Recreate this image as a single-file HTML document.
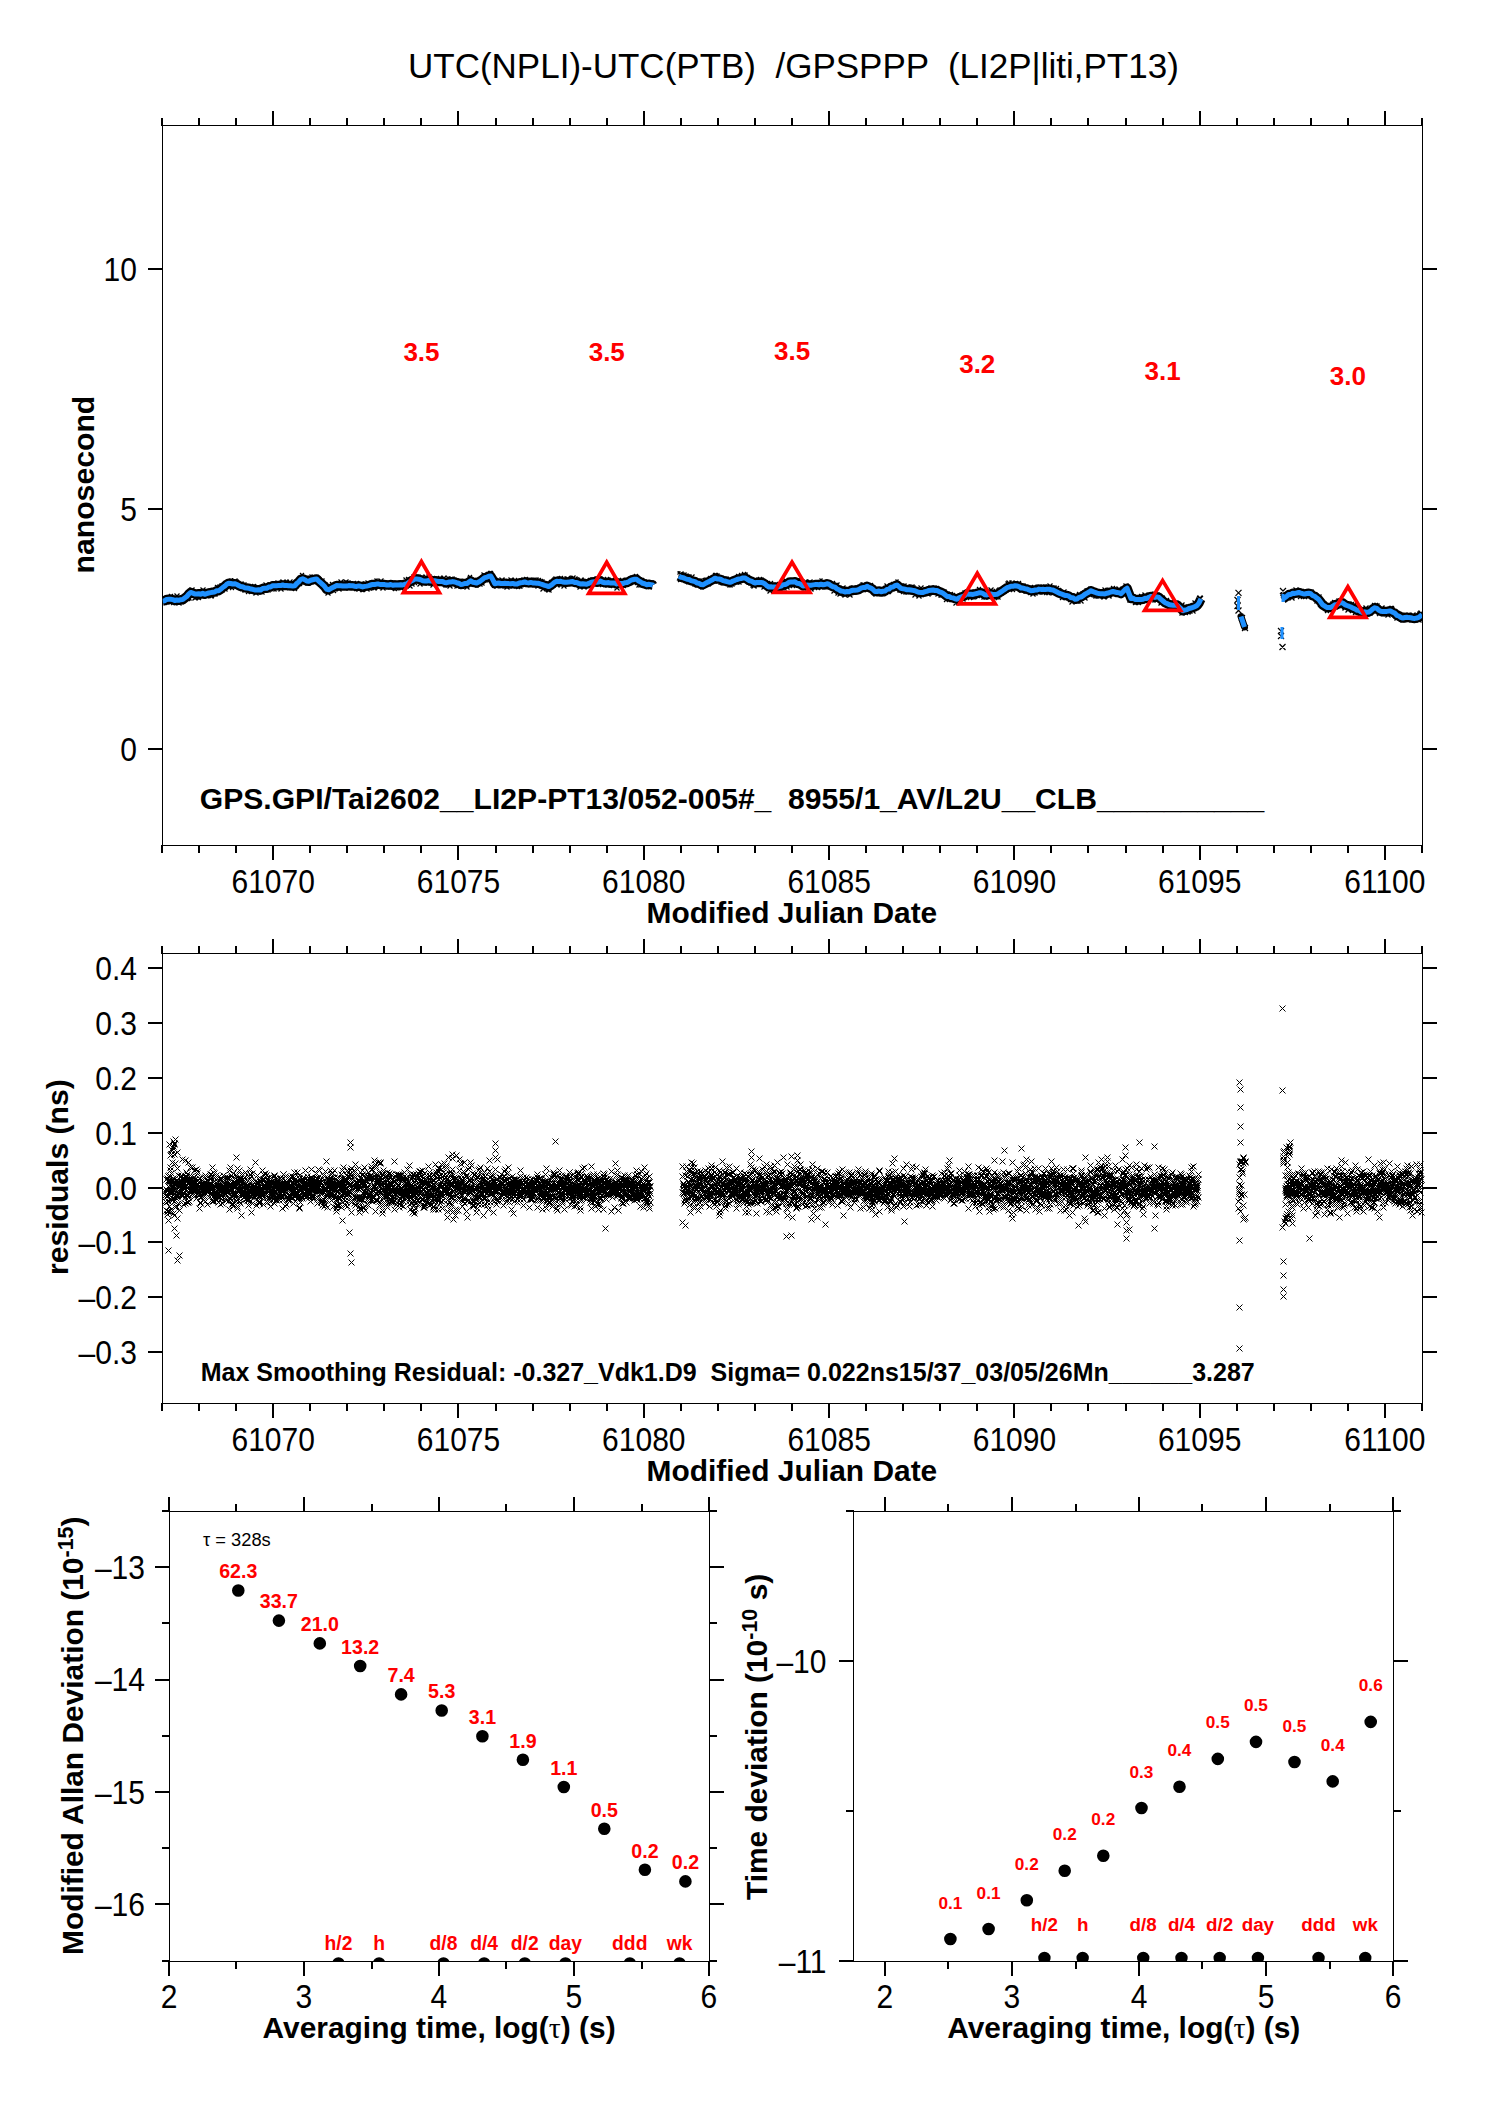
<!DOCTYPE html>
<html><head><meta charset="utf-8"><title>plot</title><style>
html,body{margin:0;padding:0;background:#fff;overflow:hidden}
svg{display:block}
text{font-family:"Liberation Sans",sans-serif;white-space:pre}
</style></head><body>
<svg width="1488" height="2105" viewBox="0 0 1488 2105">
<rect width="1488" height="2105" fill="#fff"/>
<text x="408.0" y="78.0" font-size="35.0">UTC(NPLI)-UTC(PTB)  /GPSPPP  (LI2P|liti,PT13)</text>
<path d="M162.5 125.5H1422.5V845.5H162.5Z" fill="none" stroke="#000" stroke-width="1"/>
<text transform="translate(231.5 892.8) scale(1 1.08)" font-size="30">61070</text>
<text transform="translate(416.8 892.8) scale(1 1.08)" font-size="30">61075</text>
<text transform="translate(602.1 892.8) scale(1 1.08)" font-size="30">61080</text>
<text transform="translate(787.4 892.8) scale(1 1.08)" font-size="30">61085</text>
<text transform="translate(972.7 892.8) scale(1 1.08)" font-size="30">61090</text>
<text transform="translate(1157.9 892.8) scale(1 1.08)" font-size="30">61095</text>
<text transform="translate(1344.3 892.8) scale(1 1.08)" font-size="30">61100</text>
<text x="646.6" y="923.4" font-size="29.9" font-weight="bold">Modified Julian Date</text>
<text transform="translate(120.3 760.9) scale(1 1.08)" font-size="30">0</text>
<text transform="translate(120.3 520.9) scale(1 1.08)" font-size="30">5</text>
<text transform="translate(103.6 280.9) scale(1 1.08)" font-size="30">10</text>
<path d="M161 118h2v8h-2zM161 845h2v8h-2zM198 118h2v8h-2zM198 845h2v8h-2zM235 118h2v8h-2zM235 845h2v8h-2zM272 111h2v15h-2zM272 845h2v15h-2zM309 118h2v8h-2zM309 845h2v8h-2zM346 118h2v8h-2zM346 845h2v8h-2zM383 118h2v8h-2zM383 845h2v8h-2zM420 118h2v8h-2zM420 845h2v8h-2zM457 111h2v15h-2zM457 845h2v15h-2zM495 118h2v8h-2zM495 845h2v8h-2zM532 118h2v8h-2zM532 845h2v8h-2zM569 118h2v8h-2zM569 845h2v8h-2zM606 118h2v8h-2zM606 845h2v8h-2zM643 111h2v15h-2zM643 845h2v15h-2zM680 118h2v8h-2zM680 845h2v8h-2zM717 118h2v8h-2zM717 845h2v8h-2zM754 118h2v8h-2zM754 845h2v8h-2zM791 118h2v8h-2zM791 845h2v8h-2zM828 111h2v15h-2zM828 845h2v15h-2zM865 118h2v8h-2zM865 845h2v8h-2zM902 118h2v8h-2zM902 845h2v8h-2zM939 118h2v8h-2zM939 845h2v8h-2zM976 118h2v8h-2zM976 845h2v8h-2zM1013 111h2v15h-2zM1013 845h2v15h-2zM1050 118h2v8h-2zM1050 845h2v8h-2zM1087 118h2v8h-2zM1087 845h2v8h-2zM1125 118h2v8h-2zM1125 845h2v8h-2zM1162 118h2v8h-2zM1162 845h2v8h-2zM1199 111h2v15h-2zM1199 845h2v15h-2zM1236 118h2v8h-2zM1236 845h2v8h-2zM1273 118h2v8h-2zM1273 845h2v8h-2zM1310 118h2v8h-2zM1310 845h2v8h-2zM1347 118h2v8h-2zM1347 845h2v8h-2zM1384 111h2v15h-2zM1384 845h2v15h-2zM1421 118h2v8h-2zM1421 845h2v8h-2zM148 748h15v2h-15zM1422 748h15v2h-15zM148 508h15v2h-15zM1422 508h15v2h-15zM148 268h15v2h-15zM1422 268h15v2h-15z" fill="#000" shape-rendering="crispEdges"/>
<path d="M162.5 953.5H1422.5V1403.5H162.5Z" fill="none" stroke="#000" stroke-width="1"/>
<text transform="translate(231.5 1450.8) scale(1 1.08)" font-size="30">61070</text>
<text transform="translate(416.8 1450.8) scale(1 1.08)" font-size="30">61075</text>
<text transform="translate(602.1 1450.8) scale(1 1.08)" font-size="30">61080</text>
<text transform="translate(787.4 1450.8) scale(1 1.08)" font-size="30">61085</text>
<text transform="translate(972.7 1450.8) scale(1 1.08)" font-size="30">61090</text>
<text transform="translate(1157.9 1450.8) scale(1 1.08)" font-size="30">61095</text>
<text transform="translate(1344.3 1450.8) scale(1 1.08)" font-size="30">61100</text>
<text x="646.6" y="1481.4" font-size="29.9" font-weight="bold">Modified Julian Date</text>
<text transform="translate(78.6 1364.1) scale(1 1.08)" font-size="30">–0.3</text>
<text transform="translate(78.6 1309.2) scale(1 1.08)" font-size="30">–0.2</text>
<text transform="translate(78.6 1254.4) scale(1 1.08)" font-size="30">–0.1</text>
<text transform="translate(95.3 1199.5) scale(1 1.08)" font-size="30">0.0</text>
<text transform="translate(95.3 1144.6) scale(1 1.08)" font-size="30">0.1</text>
<text transform="translate(95.3 1089.8) scale(1 1.08)" font-size="30">0.2</text>
<text transform="translate(95.3 1034.9) scale(1 1.08)" font-size="30">0.3</text>
<text transform="translate(95.3 980.1) scale(1 1.08)" font-size="30">0.4</text>
<path d="M161 946h2v8h-2zM161 1403h2v8h-2zM198 946h2v8h-2zM198 1403h2v8h-2zM235 946h2v8h-2zM235 1403h2v8h-2zM272 939h2v15h-2zM272 1403h2v15h-2zM309 946h2v8h-2zM309 1403h2v8h-2zM346 946h2v8h-2zM346 1403h2v8h-2zM383 946h2v8h-2zM383 1403h2v8h-2zM420 946h2v8h-2zM420 1403h2v8h-2zM457 939h2v15h-2zM457 1403h2v15h-2zM495 946h2v8h-2zM495 1403h2v8h-2zM532 946h2v8h-2zM532 1403h2v8h-2zM569 946h2v8h-2zM569 1403h2v8h-2zM606 946h2v8h-2zM606 1403h2v8h-2zM643 939h2v15h-2zM643 1403h2v15h-2zM680 946h2v8h-2zM680 1403h2v8h-2zM717 946h2v8h-2zM717 1403h2v8h-2zM754 946h2v8h-2zM754 1403h2v8h-2zM791 946h2v8h-2zM791 1403h2v8h-2zM828 939h2v15h-2zM828 1403h2v15h-2zM865 946h2v8h-2zM865 1403h2v8h-2zM902 946h2v8h-2zM902 1403h2v8h-2zM939 946h2v8h-2zM939 1403h2v8h-2zM976 946h2v8h-2zM976 1403h2v8h-2zM1013 939h2v15h-2zM1013 1403h2v15h-2zM1050 946h2v8h-2zM1050 1403h2v8h-2zM1087 946h2v8h-2zM1087 1403h2v8h-2zM1125 946h2v8h-2zM1125 1403h2v8h-2zM1162 946h2v8h-2zM1162 1403h2v8h-2zM1199 939h2v15h-2zM1199 1403h2v15h-2zM1236 946h2v8h-2zM1236 1403h2v8h-2zM1273 946h2v8h-2zM1273 1403h2v8h-2zM1310 946h2v8h-2zM1310 1403h2v8h-2zM1347 946h2v8h-2zM1347 1403h2v8h-2zM1384 939h2v15h-2zM1384 1403h2v15h-2zM1421 946h2v8h-2zM1421 1403h2v8h-2zM148 1351h15v2h-15zM1422 1351h15v2h-15zM148 1296h15v2h-15zM1422 1296h15v2h-15zM148 1241h15v2h-15zM1422 1241h15v2h-15zM148 1187h15v2h-15zM1422 1187h15v2h-15zM148 1132h15v2h-15zM1422 1132h15v2h-15zM148 1077h15v2h-15zM1422 1077h15v2h-15zM148 1022h15v2h-15zM1422 1022h15v2h-15zM148 967h15v2h-15zM1422 967h15v2h-15z" fill="#000" shape-rendering="crispEdges"/>
<path d="M169.5 1511.5H709.5V1961.5H169.5Z" fill="none" stroke="#000" stroke-width="1"/>
<text transform="translate(160.7 2007.8) scale(1 1.08)" font-size="30">2</text>
<text transform="translate(295.6 2007.8) scale(1 1.08)" font-size="30">3</text>
<text transform="translate(430.6 2007.8) scale(1 1.08)" font-size="30">4</text>
<text transform="translate(565.6 2007.8) scale(1 1.08)" font-size="30">5</text>
<text transform="translate(700.6 2007.8) scale(1 1.08)" font-size="30">6</text>
<text transform="translate(94.9 1578.9) scale(1 1.08)" font-size="30">–13</text>
<text transform="translate(94.9 1691.4) scale(1 1.08)" font-size="30">–14</text>
<text transform="translate(94.9 1803.9) scale(1 1.08)" font-size="30">–15</text>
<text transform="translate(94.9 1916.4) scale(1 1.08)" font-size="30">–16</text>
<path d="M168 1497h2v15h-2zM168 1961h2v15h-2zM235 1504h2v8h-2zM235 1961h2v8h-2zM303 1497h2v15h-2zM303 1961h2v15h-2zM371 1504h2v8h-2zM371 1961h2v8h-2zM438 1497h2v15h-2zM438 1961h2v15h-2zM505 1504h2v8h-2zM505 1961h2v8h-2zM573 1497h2v15h-2zM573 1961h2v15h-2zM641 1504h2v8h-2zM641 1961h2v8h-2zM708 1497h2v15h-2zM708 1961h2v15h-2zM162 1510h8v2h-8zM709 1510h8v2h-8zM155 1566h15v2h-15zM709 1566h15v2h-15zM162 1622h8v2h-8zM709 1622h8v2h-8zM155 1679h15v2h-15zM709 1679h15v2h-15zM162 1735h8v2h-8zM709 1735h8v2h-8zM155 1791h15v2h-15zM709 1791h15v2h-15zM162 1847h8v2h-8zM709 1847h8v2h-8zM155 1903h15v2h-15zM709 1903h15v2h-15zM162 1960h8v2h-8zM709 1960h8v2h-8z" fill="#000" shape-rendering="crispEdges"/>
<path d="M853.5 1511.5H1393.5V1961.5H853.5Z" fill="none" stroke="#000" stroke-width="1"/>
<text transform="translate(876.6 2007.8) scale(1 1.08)" font-size="30">2</text>
<text transform="translate(1003.6 2007.8) scale(1 1.08)" font-size="30">3</text>
<text transform="translate(1130.7 2007.8) scale(1 1.08)" font-size="30">4</text>
<text transform="translate(1257.7 2007.8) scale(1 1.08)" font-size="30">5</text>
<text transform="translate(1384.7 2007.8) scale(1 1.08)" font-size="30">6</text>
<text transform="translate(776.4 1672.9) scale(1 1.08)" font-size="30">–10</text>
<text transform="translate(778.7 1972.9) scale(1 1.08)" font-size="30">–11</text>
<path d="M884 1497h2v15h-2zM884 1961h2v15h-2zM947 1504h2v8h-2zM947 1961h2v8h-2zM1011 1497h2v15h-2zM1011 1961h2v15h-2zM1075 1504h2v8h-2zM1075 1961h2v8h-2zM1138 1497h2v15h-2zM1138 1961h2v15h-2zM1201 1504h2v8h-2zM1201 1961h2v8h-2zM1265 1497h2v15h-2zM1265 1961h2v15h-2zM1329 1504h2v8h-2zM1329 1961h2v8h-2zM1392 1497h2v15h-2zM1392 1961h2v15h-2zM846 1510h8v2h-8zM1393 1510h8v2h-8zM839 1660h15v2h-15zM1393 1660h15v2h-15zM846 1810h8v2h-8zM1393 1810h8v2h-8zM839 1960h15v2h-15zM1393 1960h15v2h-15z" fill="#000" shape-rendering="crispEdges"/>
<clipPath id="c1"><rect x="162.5" y="125.5" width="1259.5" height="719.5"/></clipPath>
<g clip-path="url(#c1)">
<path d="M162.7 601.1 164.7 600.7 166.7 599.4 168.7 599.3 170.7 599.3 172.7 599.6 174.7 600.6 176.7 600.0 178.7 600.3 180.7 599.7 182.7 599.6 184.7 598.1 186.7 596.6 188.7 594.1 190.7 592.4 192.7 593.1 194.7 593.9 196.7 593.9 198.7 593.7 200.7 594.2 202.7 593.3 204.7 594.3 206.7 593.6 208.7 593.0 210.7 592.6 212.7 592.2 214.7 592.0 216.7 590.7 218.7 590.7 220.7 589.3 222.7 587.5 224.7 586.2 226.7 584.3 228.7 583.2 230.7 583.5 232.7 584.0 234.7 583.7 236.7 584.3 238.7 585.6 240.7 586.6 242.7 586.8 244.7 587.7 246.7 588.1 248.7 588.2 250.7 589.0 252.7 589.3 254.7 589.9 256.7 590.0 258.7 589.7 260.7 590.0 262.7 588.5 264.7 588.3 266.7 588.2 268.7 587.1 270.7 586.9 272.7 585.8 274.7 585.8 276.7 585.7 278.7 585.4 280.7 585.6 282.7 585.0 284.7 585.6 286.7 585.6 288.7 585.8 290.7 585.8 292.7 586.1 294.7 585.8 296.7 583.5 298.7 581.9 300.7 579.5 302.7 578.8 304.7 579.7 306.7 581.0 308.7 581.2 310.7 580.2 312.7 579.7 314.7 579.3 316.7 579.0 318.7 581.1 320.7 582.7 322.7 584.6 324.7 586.6 326.7 589.4 328.7 589.7 330.7 588.6 332.7 587.5 334.7 586.6 336.7 585.5 338.7 585.7 340.7 585.7 342.7 586.0 344.7 586.0 346.7 586.1 348.7 585.6 350.7 585.8 352.7 585.8 354.7 586.2 356.7 586.4 358.7 585.9 360.7 586.3 362.7 586.9 364.7 586.4 366.7 586.1 368.7 585.6 370.7 585.0 372.7 584.4 374.7 584.5 376.7 584.1 378.7 584.1 380.7 584.6 382.7 584.5 384.7 584.6 386.7 585.0 388.7 585.1 390.7 584.5 392.7 585.3 394.7 585.0 396.7 585.1 398.7 585.0 400.7 584.8 402.7 585.0 404.7 584.3 406.7 584.0 408.7 582.4 410.7 581.3 412.7 580.3 414.7 579.1 416.7 579.1 418.7 579.3 420.7 579.8 422.7 580.7 424.7 580.9 426.7 581.0 428.7 580.5 430.7 581.1 432.7 581.0 434.7 580.7 436.7 581.1 438.7 581.5 440.7 581.6 442.7 581.6 444.7 582.5 446.7 582.7 448.7 582.1 450.7 582.0 452.7 581.6 454.7 582.0 456.7 582.7 458.7 583.2 460.7 584.4 462.7 584.3 464.7 583.5 466.7 583.6 468.7 582.2 470.7 580.9 472.7 582.2 474.7 582.5 476.7 583.1 478.7 582.1 480.7 580.7 482.7 579.2 484.7 577.6 486.7 577.2 488.7 576.3 490.7 576.1 492.7 579.5 494.7 583.7 496.7 583.2 498.7 583.0 500.7 583.5 502.7 583.6 504.7 583.3 506.7 583.4 508.7 583.6 510.7 583.7 512.7 583.4 514.7 584.0 516.7 584.1 518.7 583.2 520.7 582.7 522.7 582.5 524.7 582.0 526.7 582.6 528.7 582.9 530.7 582.4 532.7 582.9 534.7 583.1 536.7 583.3 538.7 583.3 540.7 584.0 542.7 584.7 544.7 585.4 546.7 585.9 548.7 586.6 550.7 585.4 552.7 583.9 554.7 582.2 556.7 581.2 558.7 581.6 560.7 581.2 562.7 582.0 564.7 582.3 566.7 582.2 568.7 582.1 570.7 581.8 572.7 581.6 574.7 582.5 576.7 582.5 578.7 583.4 580.7 584.0 582.7 583.8 584.7 584.0 586.7 584.2 588.7 583.4 590.7 582.4 592.7 581.9 594.7 581.7 596.7 582.2 598.7 582.0 600.7 581.1 602.7 582.2 604.7 582.7 606.7 582.7 608.7 582.6 610.7 583.1 612.7 583.1 614.7 583.0 616.7 583.9 618.7 583.6 620.7 583.4 622.7 583.6 624.7 582.8 626.7 582.6 628.7 581.7 630.7 580.3 632.7 579.7 634.7 579.2 636.7 579.3 638.7 581.0 640.7 582.0 642.7 583.3 644.7 583.8 646.7 584.7 648.7 584.3 650.7 584.6 652.7 585.0 652.8 585.2M679.0 576.1 681.0 577.3 683.0 577.6 685.0 578.5 687.0 579.3 689.0 579.5 691.0 580.6 693.0 581.1 695.0 581.6 697.0 583.1 699.0 583.3 701.0 584.5 703.0 584.7 705.0 583.6 707.0 582.5 709.0 581.6 711.0 580.4 713.0 579.4 715.0 578.2 717.0 578.9 719.0 579.0 721.0 579.5 723.0 580.6 725.0 581.0 727.0 581.6 729.0 582.2 731.0 582.2 733.0 581.0 735.0 580.3 737.0 579.5 739.0 578.9 741.0 578.6 743.0 577.9 745.0 578.0 747.0 579.1 749.0 580.5 751.0 581.1 753.0 582.1 755.0 583.0 757.0 582.4 759.0 582.4 761.0 582.5 763.0 582.8 765.0 584.0 767.0 585.8 769.0 587.0 771.0 586.8 773.0 587.1 775.0 587.1 777.0 587.3 779.0 586.7 781.0 586.1 783.0 584.7 785.0 584.6 787.0 583.7 789.0 582.3 791.0 582.0 793.0 581.9 795.0 581.8 797.0 583.2 799.0 583.5 801.0 584.5 803.0 585.9 805.0 585.8 807.0 585.1 809.0 585.3 811.0 585.2 813.0 584.9 815.0 584.6 817.0 584.5 819.0 584.9 821.0 584.2 823.0 584.7 825.0 584.5 827.0 583.8 829.0 584.3 831.0 585.7 833.0 586.7 835.0 587.1 837.0 589.0 839.0 589.8 841.0 591.0 843.0 591.2 845.0 592.0 847.0 591.5 849.0 591.8 851.0 590.8 853.0 590.3 855.0 590.2 857.0 590.1 859.0 589.4 861.0 588.2 863.0 587.5 865.0 587.5 867.0 586.3 869.0 587.4 871.0 588.1 873.0 589.5 875.0 591.6 877.0 591.5 879.0 591.0 881.0 591.8 883.0 591.3 885.0 591.1 887.0 589.4 889.0 589.1 891.0 587.2 893.0 587.0 895.0 585.7 897.0 585.0 899.0 586.6 901.0 588.4 903.0 588.8 905.0 589.1 907.0 589.8 909.0 589.8 911.0 590.0 913.0 590.4 915.0 590.8 917.0 591.6 919.0 592.3 921.0 592.4 923.0 592.5 925.0 591.6 927.0 591.3 929.0 590.4 931.0 590.2 933.0 590.0 935.0 590.5 937.0 590.5 939.0 591.6 941.0 592.3 943.0 593.3 945.0 594.8 947.0 596.4 949.0 596.4 951.0 597.6 953.0 597.9 955.0 598.7 957.0 599.2 959.0 597.9 961.0 597.1 963.0 596.3 965.0 595.5 967.0 593.7 969.0 594.3 971.0 594.2 973.0 594.4 975.0 593.9 977.0 593.5 979.0 592.8 981.0 592.8 983.0 593.5 985.0 594.8 987.0 594.9 989.0 594.4 991.0 594.0 993.0 594.6 995.0 594.5 997.0 594.3 999.0 593.1 1001.0 591.8 1003.0 590.5 1005.0 589.1 1007.0 587.7 1009.0 587.1 1011.0 586.2 1013.0 586.3 1015.0 585.7 1017.0 586.0 1019.0 586.6 1021.0 588.1 1023.0 588.1 1025.0 588.7 1027.0 588.9 1029.0 589.9 1031.0 590.7 1033.0 590.6 1035.0 590.0 1037.0 590.0 1039.0 589.1 1041.0 589.4 1043.0 589.3 1045.0 589.6 1047.0 589.2 1049.0 589.3 1051.0 589.8 1053.0 590.0 1055.0 591.0 1057.0 592.0 1059.0 593.1 1061.0 593.8 1063.0 594.6 1065.0 595.4 1067.0 595.5 1069.0 596.2 1071.0 597.7 1073.0 597.8 1075.0 599.3 1077.0 599.0 1079.0 597.4 1081.0 597.0 1083.0 595.8 1085.0 594.2 1087.0 593.1 1089.0 592.0 1091.0 590.7 1093.0 591.7 1095.0 592.3 1097.0 593.1 1099.0 593.5 1101.0 593.8 1103.0 593.8 1105.0 593.9 1107.0 593.2 1109.0 592.7 1111.0 592.0 1113.0 591.5 1115.0 592.0 1117.0 592.6 1119.0 592.7 1121.0 593.6 1123.0 591.7 1125.0 589.6 1127.0 588.2 1129.0 593.5 1131.0 598.5 1133.0 598.3 1135.0 599.4 1137.0 599.6 1139.0 599.5 1141.0 599.4 1143.0 599.2 1145.0 598.3 1147.0 598.4 1149.0 597.2 1151.0 596.4 1153.0 596.8 1155.0 597.4 1157.0 596.9 1159.0 597.4 1161.0 599.4 1163.0 601.0 1165.0 602.7 1167.0 603.5 1169.0 604.5 1171.0 605.1 1173.0 605.2 1175.0 605.3 1177.0 605.0 1179.0 606.8 1181.0 608.6 1183.0 610.7 1185.0 610.0 1187.0 609.6 1189.0 608.5 1191.0 608.0 1193.0 607.4 1195.0 606.7 1197.0 605.5 1199.0 603.0 1200.9 598.9M1282.8 599.1 1284.8 597.7 1286.8 596.2 1288.8 594.5 1290.8 594.5 1292.8 593.2 1294.8 593.4 1296.8 593.0 1298.8 592.4 1300.8 593.1 1302.8 593.7 1304.8 594.0 1306.8 593.5 1308.8 593.3 1310.8 593.8 1312.8 595.7 1314.8 596.3 1316.8 598.1 1318.8 599.6 1320.8 602.2 1322.8 604.9 1324.8 606.2 1326.8 607.5 1328.8 607.6 1330.8 607.5 1332.8 606.2 1334.8 604.8 1336.8 604.7 1338.8 603.5 1340.8 602.4 1342.8 603.1 1344.8 604.6 1346.8 605.5 1348.8 606.2 1350.8 607.0 1352.8 608.1 1354.8 608.8 1356.8 610.2 1358.8 610.3 1360.8 611.9 1362.8 612.5 1364.8 611.8 1366.8 612.4 1368.8 612.0 1370.8 610.8 1372.8 608.9 1374.8 607.8 1376.8 608.4 1378.8 610.3 1380.8 611.2 1382.8 611.4 1384.8 611.6 1386.8 611.4 1388.8 611.1 1390.8 611.1 1392.8 612.3 1394.8 613.1 1396.8 615.3 1398.8 616.0 1400.8 617.4 1402.8 618.1 1404.8 617.5 1406.8 617.3 1408.8 617.6 1410.8 617.8 1412.8 618.2 1414.8 618.4 1416.8 618.0 1418.8 617.4 1420.8 615.8 1422.1 614.6" fill="none" stroke="#000" stroke-width="9.5" stroke-linejoin="round"/>
<path d="M160.5 596.5l5 5m-5 0l5-5M162.0 596.0l4 4m-4 0l4-4M164.0 596.0l4 4m-4 0l4-4M164.5 599.5l5 5m-5 0l5-5M167.5 600.5l3 3m-3 0l3-3M167.5 599.5l5 5m-5 0l5-5M169.0 594.0l4 4m-4 0l4-4M171.0 601.0l4 4m-4 0l4-4M172.5 596.5l3 3m-3 0l3-3M173.0 596.0l4 4m-4 0l4-4M174.5 593.5l5 5m-5 0l5-5M176.5 600.5l5 5m-5 0l5-5M178.5 601.5l3 3m-3 0l3-3M178.5 599.5l5 5m-5 0l5-5M181.5 595.5l3 3m-3 0l3-3M182.0 599.0l4 4m-4 0l4-4M184.0 593.0l4 4m-4 0l4-4M186.0 597.0l4 4m-4 0l4-4M186.5 595.5l5 5m-5 0l5-5M189.5 593.5l3 3m-3 0l3-3M189.5 587.5l5 5m-5 0l5-5M191.5 593.5l3 3m-3 0l3-3M192.5 589.5l3 3m-3 0l3-3M192.5 595.5l5 5m-5 0l5-5M194.5 595.5l3 3m-3 0l3-3M194.5 594.5l5 5m-5 0l5-5M195.5 593.5l5 5m-5 0l5-5M197.0 596.0l4 4m-4 0l4-4M199.5 589.5l3 3m-3 0l3-3M200.5 587.5l5 5m-5 0l5-5M203.0 590.0l4 4m-4 0l4-4M205.5 594.5l3 3m-3 0l3-3M206.5 594.5l3 3m-3 0l3-3M208.0 593.0l4 4m-4 0l4-4M208.5 593.5l5 5m-5 0l5-5M210.0 594.0l4 4m-4 0l4-4M212.5 588.5l3 3m-3 0l3-3M212.5 591.5l5 5m-5 0l5-5M215.0 585.0l4 4m-4 0l4-4M216.5 585.5l3 3m-3 0l3-3M217.5 584.5l5 5m-5 0l5-5M219.5 583.5l3 3m-3 0l3-3M221.5 589.5l3 3m-3 0l3-3M222.5 586.5l5 5m-5 0l5-5M224.5 583.5l5 5m-5 0l5-5M227.0 585.0l4 4m-4 0l4-4M228.5 579.5l3 3m-3 0l3-3M229.5 578.5l3 3m-3 0l3-3M230.0 586.0l4 4m-4 0l4-4M230.5 583.5l5 5m-5 0l5-5M232.5 578.5l5 5m-5 0l5-5M235.5 579.5l3 3m-3 0l3-3M237.5 586.5l3 3m-3 0l3-3M238.5 581.5l5 5m-5 0l5-5M240.0 587.0l4 4m-4 0l4-4M241.5 582.5l5 5m-5 0l5-5M242.5 587.5l5 5m-5 0l5-5M245.5 584.5l3 3m-3 0l3-3M246.0 590.0l4 4m-4 0l4-4M248.5 590.5l3 3m-3 0l3-3M249.5 584.5l5 5m-5 0l5-5M252.0 584.0l4 4m-4 0l4-4M253.5 590.5l5 5m-5 0l5-5M254.5 585.5l3 3m-3 0l3-3M256.0 585.0l4 4m-4 0l4-4M257.0 590.0l4 4m-4 0l4-4M259.5 585.5l3 3m-3 0l3-3M259.5 589.5l5 5m-5 0l5-5M262.0 584.0l4 4m-4 0l4-4M263.5 582.5l5 5m-5 0l5-5M265.5 587.5l5 5m-5 0l5-5M267.5 589.5l3 3m-3 0l3-3M268.5 582.5l3 3m-3 0l3-3M270.0 582.0l4 4m-4 0l4-4M271.5 581.5l3 3m-3 0l3-3M272.5 581.5l3 3m-3 0l3-3M273.5 588.5l3 3m-3 0l3-3M275.0 586.0l4 4m-4 0l4-4M275.5 580.5l5 5m-5 0l5-5M278.5 581.5l3 3m-3 0l3-3M278.5 586.5l5 5m-5 0l5-5M280.5 579.5l5 5m-5 0l5-5M283.0 581.0l4 4m-4 0l4-4M284.5 580.5l3 3m-3 0l3-3M285.0 580.0l4 4m-4 0l4-4M287.0 586.0l4 4m-4 0l4-4M287.5 579.5l5 5m-5 0l5-5M289.0 586.0l4 4m-4 0l4-4M291.5 581.5l3 3m-3 0l3-3M293.0 587.0l4 4m-4 0l4-4M295.5 584.5l3 3m-3 0l3-3M296.5 583.5l3 3m-3 0l3-3M298.0 582.0l4 4m-4 0l4-4M300.0 573.0l4 4m-4 0l4-4M302.5 580.5l3 3m-3 0l3-3M303.5 581.5l3 3m-3 0l3-3M303.5 575.5l5 5m-5 0l5-5M305.5 580.5l5 5m-5 0l5-5M308.0 576.0l4 4m-4 0l4-4M309.5 574.5l3 3m-3 0l3-3M311.5 575.5l3 3m-3 0l3-3M312.5 579.5l5 5m-5 0l5-5M314.5 578.5l5 5m-5 0l5-5M317.5 576.5l3 3m-3 0l3-3M318.5 577.5l3 3m-3 0l3-3M319.5 578.5l5 5m-5 0l5-5M321.5 585.5l3 3m-3 0l3-3M322.5 582.5l5 5m-5 0l5-5M325.0 584.0l4 4m-4 0l4-4M325.5 590.5l5 5m-5 0l5-5M328.5 590.5l3 3m-3 0l3-3M329.0 589.0l4 4m-4 0l4-4M330.0 582.0l4 4m-4 0l4-4M332.0 589.0l4 4m-4 0l4-4M334.5 587.5l3 3m-3 0l3-3M335.0 586.0l4 4m-4 0l4-4M336.5 582.5l3 3m-3 0l3-3M336.5 586.5l5 5m-5 0l5-5M338.5 587.5l3 3m-3 0l3-3M338.5 579.5l5 5m-5 0l5-5M341.0 582.0l4 4m-4 0l4-4M341.5 580.5l5 5m-5 0l5-5M343.5 579.5l5 5m-5 0l5-5M345.5 580.5l5 5m-5 0l5-5M346.5 585.5l5 5m-5 0l5-5M349.0 586.0l4 4m-4 0l4-4M351.5 581.5l3 3m-3 0l3-3M352.0 586.0l4 4m-4 0l4-4M354.0 587.0l4 4m-4 0l4-4M355.0 581.0l4 4m-4 0l4-4M356.5 586.5l5 5m-5 0l5-5M358.5 581.5l5 5m-5 0l5-5M360.0 588.0l4 4m-4 0l4-4M361.0 588.0l4 4m-4 0l4-4M363.5 582.5l3 3m-3 0l3-3M363.5 581.5l5 5m-5 0l5-5M364.5 586.5l5 5m-5 0l5-5M365.5 580.5l5 5m-5 0l5-5M368.5 587.5l3 3m-3 0l3-3M369.5 581.5l3 3m-3 0l3-3M371.0 585.0l4 4m-4 0l4-4M371.5 585.5l5 5m-5 0l5-5M373.0 586.0l4 4m-4 0l4-4M374.5 578.5l3 3m-3 0l3-3M375.5 583.5l5 5m-5 0l5-5M377.0 585.0l4 4m-4 0l4-4M378.5 578.5l5 5m-5 0l5-5M380.5 585.5l5 5m-5 0l5-5M383.5 580.5l3 3m-3 0l3-3M384.5 580.5l3 3m-3 0l3-3M384.5 580.5l5 5m-5 0l5-5M387.5 581.5l3 3m-3 0l3-3M388.5 586.5l3 3m-3 0l3-3M390.5 580.5l3 3m-3 0l3-3M392.5 587.5l3 3m-3 0l3-3M393.0 587.0l4 4m-4 0l4-4M394.5 585.5l3 3m-3 0l3-3M394.5 580.5l5 5m-5 0l5-5M397.0 586.0l4 4m-4 0l4-4M398.5 585.5l5 5m-5 0l5-5M401.5 586.5l3 3m-3 0l3-3M402.5 580.5l3 3m-3 0l3-3M403.5 577.5l5 5m-5 0l5-5M406.0 577.0l4 4m-4 0l4-4M407.5 583.5l5 5m-5 0l5-5M409.5 581.5l5 5m-5 0l5-5M411.5 574.5l5 5m-5 0l5-5M413.0 581.0l4 4m-4 0l4-4M415.5 574.5l3 3m-3 0l3-3M415.5 574.5l5 5m-5 0l5-5M417.5 581.5l5 5m-5 0l5-5M418.5 575.5l5 5m-5 0l5-5M420.5 575.5l3 3m-3 0l3-3M421.5 580.5l5 5m-5 0l5-5M423.5 574.5l5 5m-5 0l5-5M426.5 576.5l3 3m-3 0l3-3M426.5 574.5l5 5m-5 0l5-5M428.5 582.5l3 3m-3 0l3-3M429.0 576.0l4 4m-4 0l4-4M431.0 576.0l4 4m-4 0l4-4M430.5 582.5l5 5m-5 0l5-5M433.5 582.5l3 3m-3 0l3-3M435.5 576.5l3 3m-3 0l3-3M436.5 576.5l3 3m-3 0l3-3M438.0 576.0l4 4m-4 0l4-4M439.0 577.0l4 4m-4 0l4-4M441.0 578.0l4 4m-4 0l4-4M441.5 575.5l5 5m-5 0l5-5M443.5 584.5l3 3m-3 0l3-3M444.5 577.5l3 3m-3 0l3-3M446.5 576.5l3 3m-3 0l3-3M447.0 577.0l4 4m-4 0l4-4M447.5 583.5l5 5m-5 0l5-5M449.0 577.0l4 4m-4 0l4-4M449.5 576.5l5 5m-5 0l5-5M450.5 581.5l5 5m-5 0l5-5M453.0 578.0l4 4m-4 0l4-4M454.5 583.5l5 5m-5 0l5-5M456.0 584.0l4 4m-4 0l4-4M457.5 578.5l5 5m-5 0l5-5M460.0 579.0l4 4m-4 0l4-4M461.5 579.5l3 3m-3 0l3-3M463.0 584.0l4 4m-4 0l4-4M464.5 584.5l5 5m-5 0l5-5M467.5 576.5l3 3m-3 0l3-3M468.0 575.0l4 4m-4 0l4-4M470.5 582.5l3 3m-3 0l3-3M472.0 578.0l4 4m-4 0l4-4M473.0 578.0l4 4m-4 0l4-4M475.5 584.5l3 3m-3 0l3-3M476.5 582.5l3 3m-3 0l3-3M477.5 581.5l5 5m-5 0l5-5M479.5 580.5l5 5m-5 0l5-5M481.5 572.5l5 5m-5 0l5-5M482.5 577.5l5 5m-5 0l5-5M485.0 578.0l4 4m-4 0l4-4M486.0 572.0l4 4m-4 0l4-4M488.0 571.0l4 4m-4 0l4-4M489.0 571.0l4 4m-4 0l4-4M491.5 582.5l3 3m-3 0l3-3M492.5 578.5l3 3m-3 0l3-3M494.0 578.0l4 4m-4 0l4-4M494.5 583.5l5 5m-5 0l5-5M497.0 584.0l4 4m-4 0l4-4M498.5 583.5l5 5m-5 0l5-5M499.5 577.5l5 5m-5 0l5-5M501.0 579.0l4 4m-4 0l4-4M503.0 579.0l4 4m-4 0l4-4M504.5 585.5l3 3m-3 0l3-3M504.5 584.5l5 5m-5 0l5-5M508.5 585.5l3 3m-3 0l3-3M508.5 577.5l5 5m-5 0l5-5M510.5 578.5l3 3m-3 0l3-3M511.0 584.0l4 4m-4 0l4-4M513.0 578.0l4 4m-4 0l4-4M514.0 580.0l4 4m-4 0l4-4M516.0 585.0l4 4m-4 0l4-4M516.5 583.5l5 5m-5 0l5-5M517.5 583.5l5 5m-5 0l5-5M520.0 583.0l4 4m-4 0l4-4M521.5 577.5l5 5m-5 0l5-5M524.0 577.0l4 4m-4 0l4-4M525.5 577.5l3 3m-3 0l3-3M527.5 583.5l3 3m-3 0l3-3M529.0 578.0l4 4m-4 0l4-4M530.0 578.0l4 4m-4 0l4-4M531.5 577.5l5 5m-5 0l5-5M533.5 577.5l5 5m-5 0l5-5M535.5 583.5l5 5m-5 0l5-5M537.0 578.0l4 4m-4 0l4-4M539.0 579.0l4 4m-4 0l4-4M539.5 579.5l5 5m-5 0l5-5M540.5 586.5l5 5m-5 0l5-5M541.5 585.5l5 5m-5 0l5-5M544.0 582.0l4 4m-4 0l4-4M546.0 588.0l4 4m-4 0l4-4M546.5 587.5l5 5m-5 0l5-5M548.5 587.5l3 3m-3 0l3-3M549.0 580.0l4 4m-4 0l4-4M551.0 579.0l4 4m-4 0l4-4M552.5 577.5l5 5m-5 0l5-5M553.5 576.5l5 5m-5 0l5-5M554.5 582.5l5 5m-5 0l5-5M557.0 577.0l4 4m-4 0l4-4M559.0 576.0l4 4m-4 0l4-4M559.5 581.5l5 5m-5 0l5-5M561.5 583.5l5 5m-5 0l5-5M564.0 578.0l4 4m-4 0l4-4M564.5 576.5l5 5m-5 0l5-5M565.5 576.5l5 5m-5 0l5-5M568.5 577.5l3 3m-3 0l3-3M569.0 576.0l4 4m-4 0l4-4M570.5 575.5l5 5m-5 0l5-5M572.5 576.5l5 5m-5 0l5-5M573.5 577.5l5 5m-5 0l5-5M576.5 579.5l3 3m-3 0l3-3M577.5 584.5l5 5m-5 0l5-5M578.5 577.5l5 5m-5 0l5-5M581.5 584.5l3 3m-3 0l3-3M581.5 584.5l5 5m-5 0l5-5M583.5 578.5l5 5m-5 0l5-5M585.0 579.0l4 4m-4 0l4-4M586.5 584.5l3 3m-3 0l3-3M588.0 578.0l4 4m-4 0l4-4M590.5 577.5l3 3m-3 0l3-3M592.5 577.5l3 3m-3 0l3-3M594.5 576.5l3 3m-3 0l3-3M595.5 578.5l3 3m-3 0l3-3M595.5 576.5l5 5m-5 0l5-5M596.5 576.5l5 5m-5 0l5-5M599.5 576.5l3 3m-3 0l3-3M600.0 583.0l4 4m-4 0l4-4M602.5 577.5l3 3m-3 0l3-3M603.0 578.0l4 4m-4 0l4-4M605.0 577.0l4 4m-4 0l4-4M605.5 582.5l5 5m-5 0l5-5M608.5 584.5l3 3m-3 0l3-3M609.5 577.5l5 5m-5 0l5-5M611.0 584.0l4 4m-4 0l4-4M614.5 584.5l3 3m-3 0l3-3M614.5 585.5l5 5m-5 0l5-5M617.0 578.0l4 4m-4 0l4-4M618.5 578.5l5 5m-5 0l5-5M620.0 578.0l4 4m-4 0l4-4M622.0 584.0l4 4m-4 0l4-4M623.5 578.5l3 3m-3 0l3-3M624.5 577.5l5 5m-5 0l5-5M627.5 582.5l3 3m-3 0l3-3M628.5 582.5l3 3m-3 0l3-3M630.5 575.5l3 3m-3 0l3-3M632.0 581.0l4 4m-4 0l4-4M634.0 574.0l4 4m-4 0l4-4M635.5 581.5l3 3m-3 0l3-3M636.5 582.5l5 5m-5 0l5-5M638.5 577.5l3 3m-3 0l3-3M638.5 582.5l5 5m-5 0l5-5M640.0 578.0l4 4m-4 0l4-4M641.0 579.0l4 4m-4 0l4-4M643.5 579.5l3 3m-3 0l3-3M645.5 580.5l3 3m-3 0l3-3M647.5 585.5l3 3m-3 0l3-3M648.0 585.0l4 4m-4 0l4-4M650.5 580.5l3 3m-3 0l3-3M677.5 571.5l3 3m-3 0l3-3M678.0 578.0l4 4m-4 0l4-4M678.5 571.5l5 5m-5 0l5-5M681.5 572.5l3 3m-3 0l3-3M681.5 572.5l5 5m-5 0l5-5M683.5 574.5l3 3m-3 0l3-3M685.5 573.5l3 3m-3 0l3-3M686.5 581.5l3 3m-3 0l3-3M688.5 574.5l3 3m-3 0l3-3M689.5 581.5l3 3m-3 0l3-3M689.5 574.5l5 5m-5 0l5-5M692.5 583.5l3 3m-3 0l3-3M694.5 583.5l3 3m-3 0l3-3M695.5 583.5l3 3m-3 0l3-3M697.5 578.5l3 3m-3 0l3-3M699.5 578.5l3 3m-3 0l3-3M700.5 586.5l3 3m-3 0l3-3M701.0 579.0l4 4m-4 0l4-4M703.0 578.0l4 4m-4 0l4-4M704.5 577.5l5 5m-5 0l5-5M706.5 582.5l3 3m-3 0l3-3M707.5 583.5l3 3m-3 0l3-3M708.0 576.0l4 4m-4 0l4-4M710.0 576.0l4 4m-4 0l4-4M711.5 575.5l3 3m-3 0l3-3M711.5 578.5l5 5m-5 0l5-5M713.0 573.0l4 4m-4 0l4-4M714.0 573.0l4 4m-4 0l4-4M716.5 573.5l3 3m-3 0l3-3M718.5 581.5l3 3m-3 0l3-3M719.5 579.5l5 5m-5 0l5-5M720.0 581.0l4 4m-4 0l4-4M721.0 581.0l4 4m-4 0l4-4M721.5 580.5l5 5m-5 0l5-5M723.5 576.5l3 3m-3 0l3-3M725.5 576.5l3 3m-3 0l3-3M727.5 584.5l3 3m-3 0l3-3M728.5 577.5l3 3m-3 0l3-3M729.5 584.5l3 3m-3 0l3-3M729.5 581.5l5 5m-5 0l5-5M732.0 581.0l4 4m-4 0l4-4M733.5 579.5l5 5m-5 0l5-5M736.0 574.0l4 4m-4 0l4-4M736.5 580.5l3 3m-3 0l3-3M738.5 581.5l3 3m-3 0l3-3M739.0 573.0l4 4m-4 0l4-4M741.5 579.5l3 3m-3 0l3-3M742.0 572.0l4 4m-4 0l4-4M742.5 572.5l5 5m-5 0l5-5M744.5 573.5l3 3m-3 0l3-3M746.0 575.0l4 4m-4 0l4-4M746.5 576.5l5 5m-5 0l5-5M748.5 580.5l5 5m-5 0l5-5M750.5 582.5l5 5m-5 0l5-5M751.5 583.5l5 5m-5 0l5-5M753.0 583.0l4 4m-4 0l4-4M755.5 583.5l3 3m-3 0l3-3M756.5 577.5l3 3m-3 0l3-3M758.0 577.0l4 4m-4 0l4-4M760.5 577.5l3 3m-3 0l3-3M761.5 584.5l5 5m-5 0l5-5M764.5 580.5l3 3m-3 0l3-3M766.0 587.0l4 4m-4 0l4-4M767.5 588.5l5 5m-5 0l5-5M769.0 581.0l4 4m-4 0l4-4M770.5 588.5l3 3m-3 0l3-3M771.0 583.0l4 4m-4 0l4-4M772.0 583.0l4 4m-4 0l4-4M775.5 589.5l3 3m-3 0l3-3M774.5 588.5l5 5m-5 0l5-5M777.0 582.0l4 4m-4 0l4-4M778.5 582.5l3 3m-3 0l3-3M779.5 587.5l3 3m-3 0l3-3M779.5 585.5l5 5m-5 0l5-5M780.5 579.5l5 5m-5 0l5-5M781.5 585.5l5 5m-5 0l5-5M783.5 578.5l5 5m-5 0l5-5M784.5 584.5l5 5m-5 0l5-5M785.5 582.5l5 5m-5 0l5-5M788.0 583.0l4 4m-4 0l4-4M789.5 578.5l3 3m-3 0l3-3M791.0 584.0l4 4m-4 0l4-4M791.5 582.5l3 3m-3 0l3-3M793.0 583.0l4 4m-4 0l4-4M795.5 578.5l3 3m-3 0l3-3M796.0 578.0l4 4m-4 0l4-4M797.0 578.0l4 4m-4 0l4-4M797.5 578.5l5 5m-5 0l5-5M799.5 579.5l5 5m-5 0l5-5M801.0 581.0l4 4m-4 0l4-4M802.5 579.5l5 5m-5 0l5-5M805.5 585.5l5 5m-5 0l5-5M807.5 580.5l3 3m-3 0l3-3M807.5 579.5l5 5m-5 0l5-5M808.5 586.5l5 5m-5 0l5-5M810.0 586.0l4 4m-4 0l4-4M811.5 584.5l5 5m-5 0l5-5M813.5 586.5l3 3m-3 0l3-3M815.0 585.0l4 4m-4 0l4-4M816.0 586.0l4 4m-4 0l4-4M818.0 580.0l4 4m-4 0l4-4M819.5 578.5l3 3m-3 0l3-3M821.0 581.0l4 4m-4 0l4-4M822.5 584.5l5 5m-5 0l5-5M824.5 584.5l5 5m-5 0l5-5M827.0 585.0l4 4m-4 0l4-4M828.5 586.5l3 3m-3 0l3-3M829.0 582.0l4 4m-4 0l4-4M831.0 581.0l4 4m-4 0l4-4M831.5 588.5l5 5m-5 0l5-5M834.0 583.0l4 4m-4 0l4-4M834.5 582.5l5 5m-5 0l5-5M835.5 590.5l5 5m-5 0l5-5M837.5 591.5l5 5m-5 0l5-5M839.5 586.5l3 3m-3 0l3-3M840.5 585.5l5 5m-5 0l5-5M842.5 586.5l3 3m-3 0l3-3M842.5 592.5l5 5m-5 0l5-5M844.5 592.5l3 3m-3 0l3-3M846.0 587.0l4 4m-4 0l4-4M847.5 592.5l5 5m-5 0l5-5M849.0 586.0l4 4m-4 0l4-4M850.5 585.5l5 5m-5 0l5-5M851.5 585.5l5 5m-5 0l5-5M853.5 591.5l3 3m-3 0l3-3M855.5 590.5l3 3m-3 0l3-3M855.5 585.5l5 5m-5 0l5-5M857.0 585.0l4 4m-4 0l4-4M859.0 584.0l4 4m-4 0l4-4M860.5 582.5l5 5m-5 0l5-5M861.5 582.5l5 5m-5 0l5-5M864.0 587.0l4 4m-4 0l4-4M865.0 588.0l4 4m-4 0l4-4M867.0 583.0l4 4m-4 0l4-4M869.0 583.0l4 4m-4 0l4-4M871.5 589.5l3 3m-3 0l3-3M872.5 586.5l3 3m-3 0l3-3M873.0 592.0l4 4m-4 0l4-4M873.5 591.5l5 5m-5 0l5-5M874.0 587.0l4 4m-4 0l4-4M876.0 592.0l4 4m-4 0l4-4M876.5 590.5l5 5m-5 0l5-5M878.5 587.5l3 3m-3 0l3-3M879.5 593.5l3 3m-3 0l3-3M881.5 593.5l3 3m-3 0l3-3M882.0 592.0l4 4m-4 0l4-4M883.0 586.0l4 4m-4 0l4-4M884.5 583.5l5 5m-5 0l5-5M886.0 590.0l4 4m-4 0l4-4M887.0 590.0l4 4m-4 0l4-4M889.5 583.5l3 3m-3 0l3-3M891.0 582.0l4 4m-4 0l4-4M891.5 585.5l5 5m-5 0l5-5M893.5 584.5l5 5m-5 0l5-5M895.5 579.5l3 3m-3 0l3-3M896.0 582.0l4 4m-4 0l4-4M897.5 587.5l5 5m-5 0l5-5M898.5 583.5l5 5m-5 0l5-5M901.0 590.0l4 4m-4 0l4-4M903.5 583.5l3 3m-3 0l3-3M903.5 591.5l3 3m-3 0l3-3M905.0 590.0l4 4m-4 0l4-4M906.5 585.5l3 3m-3 0l3-3M908.5 584.5l3 3m-3 0l3-3M909.0 585.0l4 4m-4 0l4-4M909.5 584.5l5 5m-5 0l5-5M912.5 585.5l3 3m-3 0l3-3M912.5 592.5l5 5m-5 0l5-5M915.5 593.5l3 3m-3 0l3-3M916.5 593.5l5 5m-5 0l5-5M918.5 585.5l5 5m-5 0l5-5M920.0 593.0l4 4m-4 0l4-4M920.5 587.5l5 5m-5 0l5-5M923.5 587.5l3 3m-3 0l3-3M924.0 592.0l4 4m-4 0l4-4M925.5 591.5l5 5m-5 0l5-5M928.5 592.5l3 3m-3 0l3-3M928.5 585.5l5 5m-5 0l5-5M931.5 590.5l3 3m-3 0l3-3M933.5 585.5l3 3m-3 0l3-3M935.0 586.0l4 4m-4 0l4-4M935.5 591.5l5 5m-5 0l5-5M938.5 592.5l3 3m-3 0l3-3M938.5 592.5l5 5m-5 0l5-5M939.5 592.5l5 5m-5 0l5-5M941.5 589.5l3 3m-3 0l3-3M943.5 589.5l3 3m-3 0l3-3M944.0 598.0l4 4m-4 0l4-4M946.5 591.5l3 3m-3 0l3-3M948.0 593.0l4 4m-4 0l4-4M949.0 592.0l4 4m-4 0l4-4M951.0 593.0l4 4m-4 0l4-4M953.5 599.5l3 3m-3 0l3-3M954.0 601.0l4 4m-4 0l4-4M953.5 600.5l5 5m-5 0l5-5M956.0 601.0l4 4m-4 0l4-4M957.5 598.5l3 3m-3 0l3-3M958.5 599.5l3 3m-3 0l3-3M959.0 593.0l4 4m-4 0l4-4M960.5 596.5l5 5m-5 0l5-5M962.5 590.5l5 5m-5 0l5-5M964.5 594.5l5 5m-5 0l5-5M967.5 595.5l3 3m-3 0l3-3M968.0 596.0l4 4m-4 0l4-4M968.5 589.5l5 5m-5 0l5-5M972.5 596.5l3 3m-3 0l3-3M973.0 595.0l4 4m-4 0l4-4M975.5 589.5l3 3m-3 0l3-3M976.0 594.0l4 4m-4 0l4-4M977.0 587.0l4 4m-4 0l4-4M977.5 592.5l5 5m-5 0l5-5M980.5 593.5l3 3m-3 0l3-3M981.5 596.5l3 3m-3 0l3-3M983.5 589.5l3 3m-3 0l3-3M983.5 589.5l5 5m-5 0l5-5M985.5 589.5l5 5m-5 0l5-5M986.5 594.5l5 5m-5 0l5-5M988.5 587.5l5 5m-5 0l5-5M991.0 589.0l4 4m-4 0l4-4M993.0 596.0l4 4m-4 0l4-4M995.5 596.5l3 3m-3 0l3-3M995.5 594.5l5 5m-5 0l5-5M996.5 588.5l5 5m-5 0l5-5M997.5 587.5l5 5m-5 0l5-5M1000.5 592.5l3 3m-3 0l3-3M1001.5 591.5l3 3m-3 0l3-3M1002.5 585.5l3 3m-3 0l3-3M1003.5 590.5l3 3m-3 0l3-3M1005.5 589.5l3 3m-3 0l3-3M1005.5 581.5l5 5m-5 0l5-5M1006.5 580.5l5 5m-5 0l5-5M1007.5 586.5l5 5m-5 0l5-5M1009.5 580.5l5 5m-5 0l5-5M1011.0 588.0l4 4m-4 0l4-4M1013.5 581.5l3 3m-3 0l3-3M1014.5 581.5l3 3m-3 0l3-3M1015.5 581.5l3 3m-3 0l3-3M1017.0 581.0l4 4m-4 0l4-4M1019.5 583.5l3 3m-3 0l3-3M1019.5 587.5l5 5m-5 0l5-5M1022.5 583.5l3 3m-3 0l3-3M1023.5 590.5l3 3m-3 0l3-3M1024.5 588.5l5 5m-5 0l5-5M1026.5 585.5l5 5m-5 0l5-5M1028.0 591.0l4 4m-4 0l4-4M1029.5 591.5l3 3m-3 0l3-3M1030.5 585.5l3 3m-3 0l3-3M1030.5 591.5l5 5m-5 0l5-5M1032.0 585.0l4 4m-4 0l4-4M1034.5 592.5l3 3m-3 0l3-3M1035.0 585.0l4 4m-4 0l4-4M1036.5 584.5l5 5m-5 0l5-5M1039.5 591.5l3 3m-3 0l3-3M1040.5 589.5l5 5m-5 0l5-5M1042.5 590.5l3 3m-3 0l3-3M1043.5 584.5l3 3m-3 0l3-3M1044.0 591.0l4 4m-4 0l4-4M1046.0 591.0l4 4m-4 0l4-4M1047.5 590.5l3 3m-3 0l3-3M1047.5 583.5l5 5m-5 0l5-5M1050.5 591.5l3 3m-3 0l3-3M1050.5 590.5l5 5m-5 0l5-5M1053.5 585.5l3 3m-3 0l3-3M1055.0 586.0l4 4m-4 0l4-4M1057.0 588.0l4 4m-4 0l4-4M1058.5 588.5l3 3m-3 0l3-3M1060.0 596.0l4 4m-4 0l4-4M1061.5 589.5l5 5m-5 0l5-5M1064.0 596.0l4 4m-4 0l4-4M1066.5 597.5l3 3m-3 0l3-3M1068.5 597.5l3 3m-3 0l3-3M1068.0 598.0l4 4m-4 0l4-4M1069.5 599.5l5 5m-5 0l5-5M1071.0 599.0l4 4m-4 0l4-4M1073.5 599.5l3 3m-3 0l3-3M1074.0 594.0l4 4m-4 0l4-4M1075.5 598.5l5 5m-5 0l5-5M1077.0 592.0l4 4m-4 0l4-4M1078.5 598.5l5 5m-5 0l5-5M1080.5 591.5l3 3m-3 0l3-3M1082.0 591.0l4 4m-4 0l4-4M1082.5 595.5l5 5m-5 0l5-5M1084.5 588.5l3 3m-3 0l3-3M1085.5 588.5l5 5m-5 0l5-5M1087.0 588.0l4 4m-4 0l4-4M1088.5 586.5l3 3m-3 0l3-3M1090.5 593.5l3 3m-3 0l3-3M1091.0 593.0l4 4m-4 0l4-4M1092.5 594.5l3 3m-3 0l3-3M1093.5 593.5l5 5m-5 0l5-5M1095.5 595.5l3 3m-3 0l3-3M1096.5 593.5l5 5m-5 0l5-5M1099.5 594.5l3 3m-3 0l3-3M1100.5 589.5l3 3m-3 0l3-3M1101.5 594.5l5 5m-5 0l5-5M1102.5 587.5l5 5m-5 0l5-5M1105.0 588.0l4 4m-4 0l4-4M1106.5 593.5l5 5m-5 0l5-5M1108.0 593.0l4 4m-4 0l4-4M1110.5 592.5l3 3m-3 0l3-3M1111.0 586.0l4 4m-4 0l4-4M1112.5 587.5l3 3m-3 0l3-3M1113.5 587.5l5 5m-5 0l5-5M1115.5 587.5l5 5m-5 0l5-5M1116.5 586.5l5 5m-5 0l5-5M1119.0 588.0l4 4m-4 0l4-4M1121.0 587.0l4 4m-4 0l4-4M1122.0 592.0l4 4m-4 0l4-4M1124.5 591.5l3 3m-3 0l3-3M1123.5 583.5l5 5m-5 0l5-5M1126.5 591.5l5 5m-5 0l5-5M1127.5 597.5l5 5m-5 0l5-5M1130.0 594.0l4 4m-4 0l4-4M1132.5 594.5l3 3m-3 0l3-3M1133.0 601.0l4 4m-4 0l4-4M1134.5 599.5l5 5m-5 0l5-5M1137.0 601.0l4 4m-4 0l4-4M1139.0 594.0l4 4m-4 0l4-4M1140.5 594.5l3 3m-3 0l3-3M1141.5 600.5l3 3m-3 0l3-3M1142.5 592.5l5 5m-5 0l5-5M1144.5 599.5l3 3m-3 0l3-3M1146.5 599.5l3 3m-3 0l3-3M1148.0 593.0l4 4m-4 0l4-4M1149.5 597.5l3 3m-3 0l3-3M1150.0 597.0l4 4m-4 0l4-4M1152.5 599.5l3 3m-3 0l3-3M1152.5 591.5l5 5m-5 0l5-5M1154.5 592.5l3 3m-3 0l3-3M1156.5 592.5l3 3m-3 0l3-3M1158.5 598.5l3 3m-3 0l3-3M1158.5 600.5l5 5m-5 0l5-5M1159.5 595.5l5 5m-5 0l5-5M1161.0 596.0l4 4m-4 0l4-4M1163.5 598.5l3 3m-3 0l3-3M1165.0 598.0l4 4m-4 0l4-4M1167.5 600.5l3 3m-3 0l3-3M1169.0 600.0l4 4m-4 0l4-4M1171.0 606.0l4 4m-4 0l4-4M1172.5 605.5l5 5m-5 0l5-5M1173.5 606.5l5 5m-5 0l5-5M1175.5 606.5l5 5m-5 0l5-5M1177.0 602.0l4 4m-4 0l4-4M1179.5 602.5l5 5m-5 0l5-5M1179.5 610.5l5 5m-5 0l5-5M1181.5 604.5l5 5m-5 0l5-5M1183.5 604.5l3 3m-3 0l3-3M1184.0 611.0l4 4m-4 0l4-4M1185.5 609.5l5 5m-5 0l5-5M1185.5 609.5l5 5m-5 0l5-5M1187.5 608.5l5 5m-5 0l5-5M1190.5 608.5l3 3m-3 0l3-3M1190.5 608.5l5 5m-5 0l5-5M1192.5 600.5l5 5m-5 0l5-5M1195.0 606.0l4 4m-4 0l4-4M1197.0 604.0l4 4m-4 0l4-4M1197.5 595.5l5 5m-5 0l5-5M1281.0 594.0l4 4m-4 0l4-4M1281.5 593.5l5 5m-5 0l5-5M1283.0 593.0l4 4m-4 0l4-4M1285.5 596.5l3 3m-3 0l3-3M1287.0 595.0l4 4m-4 0l4-4M1289.5 595.5l3 3m-3 0l3-3M1289.5 595.5l5 5m-5 0l5-5M1291.5 595.5l3 3m-3 0l3-3M1293.5 589.5l3 3m-3 0l3-3M1293.5 587.5l5 5m-5 0l5-5M1294.5 592.5l5 5m-5 0l5-5M1297.5 593.5l3 3m-3 0l3-3M1298.0 595.0l4 4m-4 0l4-4M1298.5 592.5l5 5m-5 0l5-5M1300.0 589.0l4 4m-4 0l4-4M1303.0 595.0l4 4m-4 0l4-4M1305.5 594.5l3 3m-3 0l3-3M1306.0 595.0l4 4m-4 0l4-4M1308.0 594.0l4 4m-4 0l4-4M1310.5 589.5l3 3m-3 0l3-3M1312.5 596.5l3 3m-3 0l3-3M1314.0 593.0l4 4m-4 0l4-4M1314.5 598.5l5 5m-5 0l5-5M1316.5 594.5l5 5m-5 0l5-5M1318.0 603.0l4 4m-4 0l4-4M1320.5 604.5l3 3m-3 0l3-3M1321.5 605.5l3 3m-3 0l3-3M1323.5 601.5l3 3m-3 0l3-3M1325.0 609.0l4 4m-4 0l4-4M1327.5 603.5l3 3m-3 0l3-3M1328.5 603.5l3 3m-3 0l3-3M1330.5 601.5l3 3m-3 0l3-3M1332.0 600.0l4 4m-4 0l4-4M1334.5 606.5l3 3m-3 0l3-3M1336.5 598.5l3 3m-3 0l3-3M1338.5 598.5l3 3m-3 0l3-3M1339.5 603.5l3 3m-3 0l3-3M1340.0 604.0l4 4m-4 0l4-4M1342.0 605.0l4 4m-4 0l4-4M1342.5 605.5l5 5m-5 0l5-5M1344.5 601.5l3 3m-3 0l3-3M1345.5 607.5l5 5m-5 0l5-5M1347.0 602.0l4 4m-4 0l4-4M1348.5 601.5l3 3m-3 0l3-3M1350.0 609.0l4 4m-4 0l4-4M1350.0 602.0l4 4m-4 0l4-4M1351.5 602.5l5 5m-5 0l5-5M1353.0 611.0l4 4m-4 0l4-4M1354.0 606.0l4 4m-4 0l4-4M1356.5 606.5l3 3m-3 0l3-3M1357.5 611.5l5 5m-5 0l5-5M1359.5 606.5l5 5m-5 0l5-5M1361.5 613.5l5 5m-5 0l5-5M1363.5 605.5l5 5m-5 0l5-5M1365.5 607.5l3 3m-3 0l3-3M1366.5 606.5l5 5m-5 0l5-5M1369.5 612.5l3 3m-3 0l3-3M1371.0 605.0l4 4m-4 0l4-4M1372.0 603.0l4 4m-4 0l4-4M1374.0 603.0l4 4m-4 0l4-4M1374.5 603.5l5 5m-5 0l5-5M1377.0 612.0l4 4m-4 0l4-4M1377.5 610.5l5 5m-5 0l5-5M1379.5 605.5l5 5m-5 0l5-5M1381.5 613.5l3 3m-3 0l3-3M1382.5 612.5l3 3m-3 0l3-3M1384.0 607.0l4 4m-4 0l4-4M1385.5 613.5l3 3m-3 0l3-3M1385.5 612.5l5 5m-5 0l5-5M1388.0 607.0l4 4m-4 0l4-4M1389.0 606.0l4 4m-4 0l4-4M1390.0 606.0l4 4m-4 0l4-4M1391.5 607.5l3 3m-3 0l3-3M1392.5 614.5l3 3m-3 0l3-3M1393.0 614.0l4 4m-4 0l4-4M1394.5 615.5l5 5m-5 0l5-5M1396.0 611.0l4 4m-4 0l4-4M1397.5 611.5l3 3m-3 0l3-3M1398.0 612.0l4 4m-4 0l4-4M1398.5 612.5l5 5m-5 0l5-5M1400.5 617.5l5 5m-5 0l5-5M1403.0 618.0l4 4m-4 0l4-4M1404.0 613.0l4 4m-4 0l4-4M1405.5 613.5l3 3m-3 0l3-3M1406.0 613.0l4 4m-4 0l4-4M1409.5 619.5l3 3m-3 0l3-3M1410.5 612.5l5 5m-5 0l5-5M1412.5 614.5l3 3m-3 0l3-3M1414.5 613.5l3 3m-3 0l3-3M1415.0 614.0l4 4m-4 0l4-4M1416.5 617.5l5 5m-5 0l5-5M1417.5 611.5l5 5m-5 0l5-5M1418.5 610.5l5 5m-5 0l5-5M1235.5 589.8l6 6m-6 0l6-6M1234.5 597l6 6m-6 0l6-6M1234.5 603l6 6m-6 0l6-6M1235.5 607.5l6 6m-6 0l6-6M1239 615l6 6m-6 0l6-6M1242 625l6 6m-6 0l6-6M1278 628l6 6m-6 0l6-6M1278 633l6 6m-6 0l6-6M1279.5 644l6 6m-6 0l6-6M1280 588l6 6m-6 0l6-6M1197 596l6 6m-6 0l6-6" fill="none" stroke="#000" stroke-width="1.2"/>
<path d="M1241 616.5L1244.5 627" fill="none" stroke="#000" stroke-width="7" stroke-linecap="round"/>
<path d="M1238.5 596V610M1282 627V639M1283 594V602" fill="none" stroke="#1e90ff" stroke-width="3"/>
<path d="M162.7 601.1 164.7 600.7 166.7 599.4 168.7 599.3 170.7 599.3 172.7 599.6 174.7 600.6 176.7 600.0 178.7 600.3 180.7 599.7 182.7 599.6 184.7 598.1 186.7 596.6 188.7 594.1 190.7 592.4 192.7 593.1 194.7 593.9 196.7 593.9 198.7 593.7 200.7 594.2 202.7 593.3 204.7 594.3 206.7 593.6 208.7 593.0 210.7 592.6 212.7 592.2 214.7 592.0 216.7 590.7 218.7 590.7 220.7 589.3 222.7 587.5 224.7 586.2 226.7 584.3 228.7 583.2 230.7 583.5 232.7 584.0 234.7 583.7 236.7 584.3 238.7 585.6 240.7 586.6 242.7 586.8 244.7 587.7 246.7 588.1 248.7 588.2 250.7 589.0 252.7 589.3 254.7 589.9 256.7 590.0 258.7 589.7 260.7 590.0 262.7 588.5 264.7 588.3 266.7 588.2 268.7 587.1 270.7 586.9 272.7 585.8 274.7 585.8 276.7 585.7 278.7 585.4 280.7 585.6 282.7 585.0 284.7 585.6 286.7 585.6 288.7 585.8 290.7 585.8 292.7 586.1 294.7 585.8 296.7 583.5 298.7 581.9 300.7 579.5 302.7 578.8 304.7 579.7 306.7 581.0 308.7 581.2 310.7 580.2 312.7 579.7 314.7 579.3 316.7 579.0 318.7 581.1 320.7 582.7 322.7 584.6 324.7 586.6 326.7 589.4 328.7 589.7 330.7 588.6 332.7 587.5 334.7 586.6 336.7 585.5 338.7 585.7 340.7 585.7 342.7 586.0 344.7 586.0 346.7 586.1 348.7 585.6 350.7 585.8 352.7 585.8 354.7 586.2 356.7 586.4 358.7 585.9 360.7 586.3 362.7 586.9 364.7 586.4 366.7 586.1 368.7 585.6 370.7 585.0 372.7 584.4 374.7 584.5 376.7 584.1 378.7 584.1 380.7 584.6 382.7 584.5 384.7 584.6 386.7 585.0 388.7 585.1 390.7 584.5 392.7 585.3 394.7 585.0 396.7 585.1 398.7 585.0 400.7 584.8 402.7 585.0 404.7 584.3 406.7 584.0 408.7 582.4 410.7 581.3 412.7 580.3 414.7 579.1 416.7 579.1 418.7 579.3 420.7 579.8 422.7 580.7 424.7 580.9 426.7 581.0 428.7 580.5 430.7 581.1 432.7 581.0 434.7 580.7 436.7 581.1 438.7 581.5 440.7 581.6 442.7 581.6 444.7 582.5 446.7 582.7 448.7 582.1 450.7 582.0 452.7 581.6 454.7 582.0 456.7 582.7 458.7 583.2 460.7 584.4 462.7 584.3 464.7 583.5 466.7 583.6 468.7 582.2 470.7 580.9 472.7 582.2 474.7 582.5 476.7 583.1 478.7 582.1 480.7 580.7 482.7 579.2 484.7 577.6 486.7 577.2 488.7 576.3 490.7 576.1 492.7 579.5 494.7 583.7 496.7 583.2 498.7 583.0 500.7 583.5 502.7 583.6 504.7 583.3 506.7 583.4 508.7 583.6 510.7 583.7 512.7 583.4 514.7 584.0 516.7 584.1 518.7 583.2 520.7 582.7 522.7 582.5 524.7 582.0 526.7 582.6 528.7 582.9 530.7 582.4 532.7 582.9 534.7 583.1 536.7 583.3 538.7 583.3 540.7 584.0 542.7 584.7 544.7 585.4 546.7 585.9 548.7 586.6 550.7 585.4 552.7 583.9 554.7 582.2 556.7 581.2 558.7 581.6 560.7 581.2 562.7 582.0 564.7 582.3 566.7 582.2 568.7 582.1 570.7 581.8 572.7 581.6 574.7 582.5 576.7 582.5 578.7 583.4 580.7 584.0 582.7 583.8 584.7 584.0 586.7 584.2 588.7 583.4 590.7 582.4 592.7 581.9 594.7 581.7 596.7 582.2 598.7 582.0 600.7 581.1 602.7 582.2 604.7 582.7 606.7 582.7 608.7 582.6 610.7 583.1 612.7 583.1 614.7 583.0 616.7 583.9 618.7 583.6 620.7 583.4 622.7 583.6 624.7 582.8 626.7 582.6 628.7 581.7 630.7 580.3 632.7 579.7 634.7 579.2 636.7 579.3 638.7 581.0 640.7 582.0 642.7 583.3 644.7 583.8 646.7 584.7 648.7 584.3 650.7 584.6 652.7 585.0 652.8 585.2M679.0 576.1 681.0 577.3 683.0 577.6 685.0 578.5 687.0 579.3 689.0 579.5 691.0 580.6 693.0 581.1 695.0 581.6 697.0 583.1 699.0 583.3 701.0 584.5 703.0 584.7 705.0 583.6 707.0 582.5 709.0 581.6 711.0 580.4 713.0 579.4 715.0 578.2 717.0 578.9 719.0 579.0 721.0 579.5 723.0 580.6 725.0 581.0 727.0 581.6 729.0 582.2 731.0 582.2 733.0 581.0 735.0 580.3 737.0 579.5 739.0 578.9 741.0 578.6 743.0 577.9 745.0 578.0 747.0 579.1 749.0 580.5 751.0 581.1 753.0 582.1 755.0 583.0 757.0 582.4 759.0 582.4 761.0 582.5 763.0 582.8 765.0 584.0 767.0 585.8 769.0 587.0 771.0 586.8 773.0 587.1 775.0 587.1 777.0 587.3 779.0 586.7 781.0 586.1 783.0 584.7 785.0 584.6 787.0 583.7 789.0 582.3 791.0 582.0 793.0 581.9 795.0 581.8 797.0 583.2 799.0 583.5 801.0 584.5 803.0 585.9 805.0 585.8 807.0 585.1 809.0 585.3 811.0 585.2 813.0 584.9 815.0 584.6 817.0 584.5 819.0 584.9 821.0 584.2 823.0 584.7 825.0 584.5 827.0 583.8 829.0 584.3 831.0 585.7 833.0 586.7 835.0 587.1 837.0 589.0 839.0 589.8 841.0 591.0 843.0 591.2 845.0 592.0 847.0 591.5 849.0 591.8 851.0 590.8 853.0 590.3 855.0 590.2 857.0 590.1 859.0 589.4 861.0 588.2 863.0 587.5 865.0 587.5 867.0 586.3 869.0 587.4 871.0 588.1 873.0 589.5 875.0 591.6 877.0 591.5 879.0 591.0 881.0 591.8 883.0 591.3 885.0 591.1 887.0 589.4 889.0 589.1 891.0 587.2 893.0 587.0 895.0 585.7 897.0 585.0 899.0 586.6 901.0 588.4 903.0 588.8 905.0 589.1 907.0 589.8 909.0 589.8 911.0 590.0 913.0 590.4 915.0 590.8 917.0 591.6 919.0 592.3 921.0 592.4 923.0 592.5 925.0 591.6 927.0 591.3 929.0 590.4 931.0 590.2 933.0 590.0 935.0 590.5 937.0 590.5 939.0 591.6 941.0 592.3 943.0 593.3 945.0 594.8 947.0 596.4 949.0 596.4 951.0 597.6 953.0 597.9 955.0 598.7 957.0 599.2 959.0 597.9 961.0 597.1 963.0 596.3 965.0 595.5 967.0 593.7 969.0 594.3 971.0 594.2 973.0 594.4 975.0 593.9 977.0 593.5 979.0 592.8 981.0 592.8 983.0 593.5 985.0 594.8 987.0 594.9 989.0 594.4 991.0 594.0 993.0 594.6 995.0 594.5 997.0 594.3 999.0 593.1 1001.0 591.8 1003.0 590.5 1005.0 589.1 1007.0 587.7 1009.0 587.1 1011.0 586.2 1013.0 586.3 1015.0 585.7 1017.0 586.0 1019.0 586.6 1021.0 588.1 1023.0 588.1 1025.0 588.7 1027.0 588.9 1029.0 589.9 1031.0 590.7 1033.0 590.6 1035.0 590.0 1037.0 590.0 1039.0 589.1 1041.0 589.4 1043.0 589.3 1045.0 589.6 1047.0 589.2 1049.0 589.3 1051.0 589.8 1053.0 590.0 1055.0 591.0 1057.0 592.0 1059.0 593.1 1061.0 593.8 1063.0 594.6 1065.0 595.4 1067.0 595.5 1069.0 596.2 1071.0 597.7 1073.0 597.8 1075.0 599.3 1077.0 599.0 1079.0 597.4 1081.0 597.0 1083.0 595.8 1085.0 594.2 1087.0 593.1 1089.0 592.0 1091.0 590.7 1093.0 591.7 1095.0 592.3 1097.0 593.1 1099.0 593.5 1101.0 593.8 1103.0 593.8 1105.0 593.9 1107.0 593.2 1109.0 592.7 1111.0 592.0 1113.0 591.5 1115.0 592.0 1117.0 592.6 1119.0 592.7 1121.0 593.6 1123.0 591.7 1125.0 589.6 1127.0 588.2 1129.0 593.5 1131.0 598.5 1133.0 598.3 1135.0 599.4 1137.0 599.6 1139.0 599.5 1141.0 599.4 1143.0 599.2 1145.0 598.3 1147.0 598.4 1149.0 597.2 1151.0 596.4 1153.0 596.8 1155.0 597.4 1157.0 596.9 1159.0 597.4 1161.0 599.4 1163.0 601.0 1165.0 602.7 1167.0 603.5 1169.0 604.5 1171.0 605.1 1173.0 605.2 1175.0 605.3 1177.0 605.0 1179.0 606.8 1181.0 608.6 1183.0 610.7 1185.0 610.0 1187.0 609.6 1189.0 608.5 1191.0 608.0 1193.0 607.4 1195.0 606.7 1197.0 605.5 1199.0 603.0 1200.9 598.9M1282.8 599.1 1284.8 597.7 1286.8 596.2 1288.8 594.5 1290.8 594.5 1292.8 593.2 1294.8 593.4 1296.8 593.0 1298.8 592.4 1300.8 593.1 1302.8 593.7 1304.8 594.0 1306.8 593.5 1308.8 593.3 1310.8 593.8 1312.8 595.7 1314.8 596.3 1316.8 598.1 1318.8 599.6 1320.8 602.2 1322.8 604.9 1324.8 606.2 1326.8 607.5 1328.8 607.6 1330.8 607.5 1332.8 606.2 1334.8 604.8 1336.8 604.7 1338.8 603.5 1340.8 602.4 1342.8 603.1 1344.8 604.6 1346.8 605.5 1348.8 606.2 1350.8 607.0 1352.8 608.1 1354.8 608.8 1356.8 610.2 1358.8 610.3 1360.8 611.9 1362.8 612.5 1364.8 611.8 1366.8 612.4 1368.8 612.0 1370.8 610.8 1372.8 608.9 1374.8 607.8 1376.8 608.4 1378.8 610.3 1380.8 611.2 1382.8 611.4 1384.8 611.6 1386.8 611.4 1388.8 611.1 1390.8 611.1 1392.8 612.3 1394.8 613.1 1396.8 615.3 1398.8 616.0 1400.8 617.4 1402.8 618.1 1404.8 617.5 1406.8 617.3 1408.8 617.6 1410.8 617.8 1412.8 618.2 1414.8 618.4 1416.8 618.0 1418.8 617.4 1420.8 615.8 1422.1 614.6M1241 616.5L1244.5 627" fill="none" stroke="#1e90ff" stroke-width="5" stroke-linejoin="round"/>
</g>
<text x="403.4" y="361.0" font-size="26" font-weight="bold" fill="#ff0000">3.5</text>
<text x="588.7" y="361.0" font-size="26" font-weight="bold" fill="#ff0000">3.5</text>
<text x="774.0" y="360.0" font-size="26" font-weight="bold" fill="#ff0000">3.5</text>
<text x="959.2" y="372.5" font-size="26" font-weight="bold" fill="#ff0000">3.2</text>
<text x="1144.5" y="380.0" font-size="26" font-weight="bold" fill="#ff0000">3.1</text>
<text x="1329.8" y="385.0" font-size="26" font-weight="bold" fill="#ff0000">3.0</text>
<path d="M421.41 557.70 400.21 594.60 442.61 594.60ZM421.41 565.13 406.60 590.90 436.22 590.90ZM606.71 558.60 585.51 595.20 627.91 595.20ZM606.71 565.98 591.92 591.50 621.49 591.50ZM792.00 558.60 770.80 594.20 813.20 594.20ZM792.00 565.83 777.31 590.50 806.69 590.50ZM977.29 569.60 956.09 605.70 998.49 605.70ZM977.29 576.91 962.56 602.00 992.03 602.00ZM1162.59 576.90 1141.39 612.20 1183.79 612.20ZM1162.59 584.09 1147.93 608.50 1177.25 608.50ZM1347.88 583.10 1326.68 619.20 1369.08 619.20ZM1347.88 590.41 1333.15 615.50 1362.62 615.50Z" fill="#ff0000" fill-rule="evenodd"/>
<path d="M162.5 1192.5l6 6m-6 0l6-6M162.5 1188.5l6 6m-6 0l6-6M162.5 1198.5l6 6m-6 0l6-6M162.5 1188.5l6 6m-6 0l6-6M163.5 1176.5l6 6m-6 0l6-6M163.5 1199.5l6 6m-6 0l6-6M163.5 1207.5l6 6m-6 0l6-6M163.5 1186.5l6 6m-6 0l6-6M163.5 1191.5l6 6m-6 0l6-6M163.5 1189.5l6 6m-6 0l6-6M164.5 1190.5l6 6m-6 0l6-6M164.5 1192.5l6 6m-6 0l6-6M164.5 1187.5l6 6m-6 0l6-6M164.5 1193.5l6 6m-6 0l6-6M164.5 1188.5l6 6m-6 0l6-6M164.5 1175.5l6 6m-6 0l6-6M165.5 1198.5l6 6m-6 0l6-6M165.5 1177.5l6 6m-6 0l6-6M165.5 1173.5l6 6m-6 0l6-6M165.5 1173.5l6 6m-6 0l6-6M165.5 1183.5l6 6m-6 0l6-6M165.5 1177.5l6 6m-6 0l6-6M166.5 1178.5l6 6m-6 0l6-6M166.5 1172.5l6 6m-6 0l6-6M166.5 1203.5l6 6m-6 0l6-6M166.5 1177.5l6 6m-6 0l6-6M166.5 1189.5l6 6m-6 0l6-6M166.5 1174.5l6 6m-6 0l6-6M167.5 1189.5l6 6m-6 0l6-6M167.5 1167.5l6 6m-6 0l6-6M167.5 1164.5l6 6m-6 0l6-6M167.5 1181.5l6 6m-6 0l6-6M167.5 1187.5l6 6m-6 0l6-6M167.5 1178.5l6 6m-6 0l6-6M167.5 1188.5l6 6m-6 0l6-6M168.5 1194.5l6 6m-6 0l6-6M168.5 1196.5l6 6m-6 0l6-6M168.5 1178.5l6 6m-6 0l6-6M168.5 1188.5l6 6m-6 0l6-6M168.5 1170.5l6 6m-6 0l6-6M168.5 1189.5l6 6m-6 0l6-6M169.5 1177.5l6 6m-6 0l6-6M169.5 1189.5l6 6m-6 0l6-6M169.5 1178.5l6 6m-6 0l6-6M169.5 1185.5l6 6m-6 0l6-6M169.5 1184.5l6 6m-6 0l6-6M169.5 1197.5l6 6m-6 0l6-6M170.5 1195.5l6 6m-6 0l6-6M170.5 1177.5l6 6m-6 0l6-6M170.5 1187.5l6 6m-6 0l6-6M170.5 1192.5l6 6m-6 0l6-6M170.5 1175.5l6 6m-6 0l6-6M170.5 1183.5l6 6m-6 0l6-6M171.5 1198.5l6 6m-6 0l6-6M171.5 1187.5l6 6m-6 0l6-6M171.5 1181.5l6 6m-6 0l6-6M171.5 1187.5l6 6m-6 0l6-6M171.5 1180.5l6 6m-6 0l6-6M171.5 1181.5l6 6m-6 0l6-6M171.5 1190.5l6 6m-6 0l6-6M172.5 1192.5l6 6m-6 0l6-6M172.5 1180.5l6 6m-6 0l6-6M172.5 1160.5l6 6m-6 0l6-6M172.5 1184.5l6 6m-6 0l6-6M172.5 1204.5l6 6m-6 0l6-6M172.5 1194.5l6 6m-6 0l6-6M173.5 1203.5l6 6m-6 0l6-6M173.5 1185.5l6 6m-6 0l6-6M173.5 1193.5l6 6m-6 0l6-6M173.5 1192.5l6 6m-6 0l6-6M173.5 1177.5l6 6m-6 0l6-6M173.5 1195.5l6 6m-6 0l6-6M174.5 1177.5l6 6m-6 0l6-6M174.5 1165.5l6 6m-6 0l6-6M174.5 1192.5l6 6m-6 0l6-6M174.5 1180.5l6 6m-6 0l6-6M174.5 1179.5l6 6m-6 0l6-6M174.5 1193.5l6 6m-6 0l6-6M175.5 1180.5l6 6m-6 0l6-6M175.5 1200.5l6 6m-6 0l6-6M175.5 1190.5l6 6m-6 0l6-6M175.5 1172.5l6 6m-6 0l6-6M175.5 1189.5l6 6m-6 0l6-6M175.5 1185.5l6 6m-6 0l6-6M176.5 1183.5l6 6m-6 0l6-6M176.5 1201.5l6 6m-6 0l6-6M176.5 1180.5l6 6m-6 0l6-6M176.5 1183.5l6 6m-6 0l6-6M176.5 1184.5l6 6m-6 0l6-6M176.5 1181.5l6 6m-6 0l6-6M176.5 1180.5l6 6m-6 0l6-6M177.5 1177.5l6 6m-6 0l6-6M177.5 1183.5l6 6m-6 0l6-6M177.5 1189.5l6 6m-6 0l6-6M177.5 1174.5l6 6m-6 0l6-6M177.5 1182.5l6 6m-6 0l6-6M177.5 1173.5l6 6m-6 0l6-6M178.5 1172.5l6 6m-6 0l6-6M178.5 1178.5l6 6m-6 0l6-6M178.5 1191.5l6 6m-6 0l6-6M178.5 1192.5l6 6m-6 0l6-6M178.5 1185.5l6 6m-6 0l6-6M178.5 1180.5l6 6m-6 0l6-6M179.5 1183.5l6 6m-6 0l6-6M179.5 1192.5l6 6m-6 0l6-6M179.5 1188.5l6 6m-6 0l6-6M179.5 1191.5l6 6m-6 0l6-6M179.5 1181.5l6 6m-6 0l6-6M179.5 1193.5l6 6m-6 0l6-6M180.5 1179.5l6 6m-6 0l6-6M180.5 1190.5l6 6m-6 0l6-6M180.5 1190.5l6 6m-6 0l6-6M180.5 1201.5l6 6m-6 0l6-6M180.5 1176.5l6 6m-6 0l6-6M180.5 1175.5l6 6m-6 0l6-6M180.5 1185.5l6 6m-6 0l6-6M181.5 1176.5l6 6m-6 0l6-6M181.5 1185.5l6 6m-6 0l6-6M181.5 1179.5l6 6m-6 0l6-6M181.5 1179.5l6 6m-6 0l6-6M181.5 1184.5l6 6m-6 0l6-6M181.5 1185.5l6 6m-6 0l6-6M182.5 1183.5l6 6m-6 0l6-6M182.5 1174.5l6 6m-6 0l6-6M182.5 1200.5l6 6m-6 0l6-6M182.5 1194.5l6 6m-6 0l6-6M182.5 1189.5l6 6m-6 0l6-6M182.5 1173.5l6 6m-6 0l6-6M183.5 1192.5l6 6m-6 0l6-6M183.5 1173.5l6 6m-6 0l6-6M183.5 1169.5l6 6m-6 0l6-6M183.5 1186.5l6 6m-6 0l6-6M183.5 1177.5l6 6m-6 0l6-6M183.5 1181.5l6 6m-6 0l6-6M184.5 1191.5l6 6m-6 0l6-6M184.5 1191.5l6 6m-6 0l6-6M184.5 1199.5l6 6m-6 0l6-6M184.5 1177.5l6 6m-6 0l6-6M184.5 1171.5l6 6m-6 0l6-6M184.5 1192.5l6 6m-6 0l6-6M185.5 1188.5l6 6m-6 0l6-6M185.5 1180.5l6 6m-6 0l6-6M185.5 1176.5l6 6m-6 0l6-6M185.5 1183.5l6 6m-6 0l6-6M185.5 1199.5l6 6m-6 0l6-6M185.5 1192.5l6 6m-6 0l6-6M185.5 1194.5l6 6m-6 0l6-6M186.5 1198.5l6 6m-6 0l6-6M186.5 1175.5l6 6m-6 0l6-6M186.5 1176.5l6 6m-6 0l6-6M186.5 1173.5l6 6m-6 0l6-6M186.5 1182.5l6 6m-6 0l6-6M186.5 1175.5l6 6m-6 0l6-6M187.5 1174.5l6 6m-6 0l6-6M187.5 1177.5l6 6m-6 0l6-6M187.5 1186.5l6 6m-6 0l6-6M187.5 1188.5l6 6m-6 0l6-6M187.5 1187.5l6 6m-6 0l6-6M187.5 1178.5l6 6m-6 0l6-6M188.5 1173.5l6 6m-6 0l6-6M188.5 1182.5l6 6m-6 0l6-6M188.5 1182.5l6 6m-6 0l6-6M188.5 1176.5l6 6m-6 0l6-6M188.5 1188.5l6 6m-6 0l6-6M188.5 1187.5l6 6m-6 0l6-6M189.5 1182.5l6 6m-6 0l6-6M189.5 1181.5l6 6m-6 0l6-6M189.5 1191.5l6 6m-6 0l6-6M189.5 1186.5l6 6m-6 0l6-6M189.5 1180.5l6 6m-6 0l6-6M189.5 1183.5l6 6m-6 0l6-6M190.5 1185.5l6 6m-6 0l6-6M190.5 1177.5l6 6m-6 0l6-6M190.5 1185.5l6 6m-6 0l6-6M190.5 1183.5l6 6m-6 0l6-6M190.5 1175.5l6 6m-6 0l6-6M190.5 1180.5l6 6m-6 0l6-6M190.5 1182.5l6 6m-6 0l6-6M191.5 1191.5l6 6m-6 0l6-6M191.5 1167.5l6 6m-6 0l6-6M191.5 1193.5l6 6m-6 0l6-6M191.5 1189.5l6 6m-6 0l6-6M191.5 1180.5l6 6m-6 0l6-6M191.5 1174.5l6 6m-6 0l6-6M192.5 1188.5l6 6m-6 0l6-6M192.5 1192.5l6 6m-6 0l6-6M192.5 1184.5l6 6m-6 0l6-6M192.5 1176.5l6 6m-6 0l6-6M192.5 1184.5l6 6m-6 0l6-6M192.5 1180.5l6 6m-6 0l6-6M193.5 1179.5l6 6m-6 0l6-6M193.5 1166.5l6 6m-6 0l6-6M193.5 1195.5l6 6m-6 0l6-6M193.5 1179.5l6 6m-6 0l6-6M193.5 1185.5l6 6m-6 0l6-6M193.5 1186.5l6 6m-6 0l6-6M194.5 1181.5l6 6m-6 0l6-6M194.5 1181.5l6 6m-6 0l6-6M194.5 1170.5l6 6m-6 0l6-6M194.5 1168.5l6 6m-6 0l6-6M194.5 1188.5l6 6m-6 0l6-6M194.5 1191.5l6 6m-6 0l6-6M194.5 1182.5l6 6m-6 0l6-6M195.5 1186.5l6 6m-6 0l6-6M195.5 1186.5l6 6m-6 0l6-6M195.5 1177.5l6 6m-6 0l6-6M195.5 1187.5l6 6m-6 0l6-6M195.5 1177.5l6 6m-6 0l6-6M195.5 1192.5l6 6m-6 0l6-6M196.5 1191.5l6 6m-6 0l6-6M196.5 1185.5l6 6m-6 0l6-6M196.5 1187.5l6 6m-6 0l6-6M196.5 1205.5l6 6m-6 0l6-6M196.5 1178.5l6 6m-6 0l6-6M196.5 1175.5l6 6m-6 0l6-6M197.5 1194.5l6 6m-6 0l6-6M197.5 1190.5l6 6m-6 0l6-6M197.5 1185.5l6 6m-6 0l6-6M197.5 1199.5l6 6m-6 0l6-6M197.5 1186.5l6 6m-6 0l6-6M197.5 1200.5l6 6m-6 0l6-6M198.5 1189.5l6 6m-6 0l6-6M198.5 1180.5l6 6m-6 0l6-6M198.5 1194.5l6 6m-6 0l6-6M198.5 1182.5l6 6m-6 0l6-6M198.5 1181.5l6 6m-6 0l6-6M198.5 1182.5l6 6m-6 0l6-6M199.5 1187.5l6 6m-6 0l6-6M199.5 1188.5l6 6m-6 0l6-6M199.5 1193.5l6 6m-6 0l6-6M199.5 1183.5l6 6m-6 0l6-6M199.5 1177.5l6 6m-6 0l6-6M199.5 1193.5l6 6m-6 0l6-6M199.5 1188.5l6 6m-6 0l6-6M200.5 1184.5l6 6m-6 0l6-6M200.5 1180.5l6 6m-6 0l6-6M200.5 1181.5l6 6m-6 0l6-6M200.5 1186.5l6 6m-6 0l6-6M200.5 1190.5l6 6m-6 0l6-6M200.5 1187.5l6 6m-6 0l6-6M201.5 1175.5l6 6m-6 0l6-6M201.5 1193.5l6 6m-6 0l6-6M201.5 1185.5l6 6m-6 0l6-6M201.5 1183.5l6 6m-6 0l6-6M201.5 1186.5l6 6m-6 0l6-6M201.5 1183.5l6 6m-6 0l6-6M202.5 1190.5l6 6m-6 0l6-6M202.5 1183.5l6 6m-6 0l6-6M202.5 1174.5l6 6m-6 0l6-6M202.5 1172.5l6 6m-6 0l6-6M202.5 1198.5l6 6m-6 0l6-6M202.5 1186.5l6 6m-6 0l6-6M203.5 1184.5l6 6m-6 0l6-6M203.5 1180.5l6 6m-6 0l6-6M203.5 1181.5l6 6m-6 0l6-6M203.5 1185.5l6 6m-6 0l6-6M203.5 1185.5l6 6m-6 0l6-6M203.5 1185.5l6 6m-6 0l6-6M204.5 1189.5l6 6m-6 0l6-6M204.5 1177.5l6 6m-6 0l6-6M204.5 1186.5l6 6m-6 0l6-6M204.5 1182.5l6 6m-6 0l6-6M204.5 1201.5l6 6m-6 0l6-6M204.5 1185.5l6 6m-6 0l6-6M204.5 1183.5l6 6m-6 0l6-6M205.5 1181.5l6 6m-6 0l6-6M205.5 1186.5l6 6m-6 0l6-6M205.5 1182.5l6 6m-6 0l6-6M205.5 1187.5l6 6m-6 0l6-6M205.5 1183.5l6 6m-6 0l6-6M205.5 1188.5l6 6m-6 0l6-6M206.5 1187.5l6 6m-6 0l6-6M206.5 1182.5l6 6m-6 0l6-6M206.5 1185.5l6 6m-6 0l6-6M206.5 1181.5l6 6m-6 0l6-6M206.5 1185.5l6 6m-6 0l6-6M206.5 1184.5l6 6m-6 0l6-6M207.5 1181.5l6 6m-6 0l6-6M207.5 1175.5l6 6m-6 0l6-6M207.5 1176.5l6 6m-6 0l6-6M207.5 1191.5l6 6m-6 0l6-6M207.5 1184.5l6 6m-6 0l6-6M207.5 1171.5l6 6m-6 0l6-6M208.5 1185.5l6 6m-6 0l6-6M208.5 1183.5l6 6m-6 0l6-6M208.5 1171.5l6 6m-6 0l6-6M208.5 1192.5l6 6m-6 0l6-6M208.5 1174.5l6 6m-6 0l6-6M208.5 1189.5l6 6m-6 0l6-6M208.5 1181.5l6 6m-6 0l6-6M209.5 1191.5l6 6m-6 0l6-6M209.5 1196.5l6 6m-6 0l6-6M209.5 1184.5l6 6m-6 0l6-6M209.5 1198.5l6 6m-6 0l6-6M209.5 1164.5l6 6m-6 0l6-6M209.5 1185.5l6 6m-6 0l6-6M210.5 1193.5l6 6m-6 0l6-6M210.5 1198.5l6 6m-6 0l6-6M210.5 1173.5l6 6m-6 0l6-6M210.5 1188.5l6 6m-6 0l6-6M210.5 1169.5l6 6m-6 0l6-6M210.5 1197.5l6 6m-6 0l6-6M211.5 1194.5l6 6m-6 0l6-6M211.5 1178.5l6 6m-6 0l6-6M211.5 1192.5l6 6m-6 0l6-6M211.5 1174.5l6 6m-6 0l6-6M211.5 1183.5l6 6m-6 0l6-6M211.5 1170.5l6 6m-6 0l6-6M212.5 1195.5l6 6m-6 0l6-6M212.5 1190.5l6 6m-6 0l6-6M212.5 1188.5l6 6m-6 0l6-6M212.5 1191.5l6 6m-6 0l6-6M212.5 1186.5l6 6m-6 0l6-6M212.5 1189.5l6 6m-6 0l6-6M213.5 1193.5l6 6m-6 0l6-6M213.5 1185.5l6 6m-6 0l6-6M213.5 1172.5l6 6m-6 0l6-6M213.5 1197.5l6 6m-6 0l6-6M213.5 1187.5l6 6m-6 0l6-6M213.5 1196.5l6 6m-6 0l6-6M213.5 1182.5l6 6m-6 0l6-6M214.5 1175.5l6 6m-6 0l6-6M214.5 1178.5l6 6m-6 0l6-6M214.5 1186.5l6 6m-6 0l6-6M214.5 1186.5l6 6m-6 0l6-6M214.5 1192.5l6 6m-6 0l6-6M214.5 1191.5l6 6m-6 0l6-6M215.5 1183.5l6 6m-6 0l6-6M215.5 1199.5l6 6m-6 0l6-6M215.5 1182.5l6 6m-6 0l6-6M215.5 1193.5l6 6m-6 0l6-6M215.5 1185.5l6 6m-6 0l6-6M215.5 1181.5l6 6m-6 0l6-6M216.5 1186.5l6 6m-6 0l6-6M216.5 1183.5l6 6m-6 0l6-6M216.5 1194.5l6 6m-6 0l6-6M216.5 1173.5l6 6m-6 0l6-6M216.5 1190.5l6 6m-6 0l6-6M216.5 1185.5l6 6m-6 0l6-6M217.5 1179.5l6 6m-6 0l6-6M217.5 1176.5l6 6m-6 0l6-6M217.5 1187.5l6 6m-6 0l6-6M217.5 1188.5l6 6m-6 0l6-6M217.5 1179.5l6 6m-6 0l6-6M217.5 1176.5l6 6m-6 0l6-6M217.5 1201.5l6 6m-6 0l6-6M218.5 1186.5l6 6m-6 0l6-6M218.5 1176.5l6 6m-6 0l6-6M218.5 1195.5l6 6m-6 0l6-6M218.5 1185.5l6 6m-6 0l6-6M218.5 1193.5l6 6m-6 0l6-6M218.5 1185.5l6 6m-6 0l6-6M219.5 1200.5l6 6m-6 0l6-6M219.5 1186.5l6 6m-6 0l6-6M219.5 1179.5l6 6m-6 0l6-6M219.5 1179.5l6 6m-6 0l6-6M219.5 1190.5l6 6m-6 0l6-6M219.5 1187.5l6 6m-6 0l6-6M220.5 1183.5l6 6m-6 0l6-6M220.5 1185.5l6 6m-6 0l6-6M220.5 1187.5l6 6m-6 0l6-6M220.5 1172.5l6 6m-6 0l6-6M220.5 1188.5l6 6m-6 0l6-6M220.5 1180.5l6 6m-6 0l6-6M221.5 1186.5l6 6m-6 0l6-6M221.5 1187.5l6 6m-6 0l6-6M221.5 1187.5l6 6m-6 0l6-6M221.5 1195.5l6 6m-6 0l6-6M221.5 1181.5l6 6m-6 0l6-6M221.5 1185.5l6 6m-6 0l6-6M222.5 1174.5l6 6m-6 0l6-6M222.5 1188.5l6 6m-6 0l6-6M222.5 1182.5l6 6m-6 0l6-6M222.5 1185.5l6 6m-6 0l6-6M222.5 1190.5l6 6m-6 0l6-6M222.5 1191.5l6 6m-6 0l6-6M222.5 1188.5l6 6m-6 0l6-6M223.5 1185.5l6 6m-6 0l6-6M223.5 1182.5l6 6m-6 0l6-6M223.5 1188.5l6 6m-6 0l6-6M223.5 1197.5l6 6m-6 0l6-6M223.5 1195.5l6 6m-6 0l6-6M223.5 1184.5l6 6m-6 0l6-6M224.5 1179.5l6 6m-6 0l6-6M224.5 1177.5l6 6m-6 0l6-6M224.5 1184.5l6 6m-6 0l6-6M224.5 1174.5l6 6m-6 0l6-6M224.5 1175.5l6 6m-6 0l6-6M224.5 1177.5l6 6m-6 0l6-6M225.5 1198.5l6 6m-6 0l6-6M225.5 1180.5l6 6m-6 0l6-6M225.5 1189.5l6 6m-6 0l6-6M225.5 1182.5l6 6m-6 0l6-6M225.5 1188.5l6 6m-6 0l6-6M225.5 1183.5l6 6m-6 0l6-6M226.5 1181.5l6 6m-6 0l6-6M226.5 1187.5l6 6m-6 0l6-6M226.5 1167.5l6 6m-6 0l6-6M226.5 1175.5l6 6m-6 0l6-6M226.5 1206.5l6 6m-6 0l6-6M226.5 1187.5l6 6m-6 0l6-6M227.5 1164.5l6 6m-6 0l6-6M227.5 1183.5l6 6m-6 0l6-6M227.5 1181.5l6 6m-6 0l6-6M227.5 1181.5l6 6m-6 0l6-6M227.5 1195.5l6 6m-6 0l6-6M227.5 1185.5l6 6m-6 0l6-6M227.5 1181.5l6 6m-6 0l6-6M228.5 1193.5l6 6m-6 0l6-6M228.5 1193.5l6 6m-6 0l6-6M228.5 1186.5l6 6m-6 0l6-6M228.5 1197.5l6 6m-6 0l6-6M228.5 1185.5l6 6m-6 0l6-6M228.5 1172.5l6 6m-6 0l6-6M229.5 1180.5l6 6m-6 0l6-6M229.5 1201.5l6 6m-6 0l6-6M229.5 1200.5l6 6m-6 0l6-6M229.5 1174.5l6 6m-6 0l6-6M229.5 1183.5l6 6m-6 0l6-6M229.5 1186.5l6 6m-6 0l6-6M230.5 1190.5l6 6m-6 0l6-6M230.5 1170.5l6 6m-6 0l6-6M230.5 1195.5l6 6m-6 0l6-6M230.5 1192.5l6 6m-6 0l6-6M230.5 1183.5l6 6m-6 0l6-6M230.5 1203.5l6 6m-6 0l6-6M231.5 1191.5l6 6m-6 0l6-6M231.5 1183.5l6 6m-6 0l6-6M231.5 1192.5l6 6m-6 0l6-6M231.5 1176.5l6 6m-6 0l6-6M231.5 1190.5l6 6m-6 0l6-6M231.5 1179.5l6 6m-6 0l6-6M231.5 1176.5l6 6m-6 0l6-6M232.5 1179.5l6 6m-6 0l6-6M232.5 1175.5l6 6m-6 0l6-6M232.5 1191.5l6 6m-6 0l6-6M232.5 1184.5l6 6m-6 0l6-6M232.5 1180.5l6 6m-6 0l6-6M232.5 1183.5l6 6m-6 0l6-6M233.5 1186.5l6 6m-6 0l6-6M233.5 1193.5l6 6m-6 0l6-6M233.5 1198.5l6 6m-6 0l6-6M233.5 1191.5l6 6m-6 0l6-6M233.5 1154.5l6 6m-6 0l6-6M233.5 1172.5l6 6m-6 0l6-6M234.5 1187.5l6 6m-6 0l6-6M234.5 1194.5l6 6m-6 0l6-6M234.5 1205.5l6 6m-6 0l6-6M234.5 1165.5l6 6m-6 0l6-6M234.5 1194.5l6 6m-6 0l6-6M234.5 1203.5l6 6m-6 0l6-6M235.5 1180.5l6 6m-6 0l6-6M235.5 1177.5l6 6m-6 0l6-6M235.5 1195.5l6 6m-6 0l6-6M235.5 1186.5l6 6m-6 0l6-6M235.5 1191.5l6 6m-6 0l6-6M235.5 1191.5l6 6m-6 0l6-6M236.5 1192.5l6 6m-6 0l6-6M236.5 1167.5l6 6m-6 0l6-6M236.5 1175.5l6 6m-6 0l6-6M236.5 1182.5l6 6m-6 0l6-6M236.5 1176.5l6 6m-6 0l6-6M236.5 1198.5l6 6m-6 0l6-6M236.5 1186.5l6 6m-6 0l6-6M237.5 1200.5l6 6m-6 0l6-6M237.5 1181.5l6 6m-6 0l6-6M237.5 1176.5l6 6m-6 0l6-6M237.5 1175.5l6 6m-6 0l6-6M237.5 1186.5l6 6m-6 0l6-6M237.5 1178.5l6 6m-6 0l6-6M238.5 1171.5l6 6m-6 0l6-6M238.5 1175.5l6 6m-6 0l6-6M238.5 1185.5l6 6m-6 0l6-6M238.5 1186.5l6 6m-6 0l6-6M238.5 1192.5l6 6m-6 0l6-6M238.5 1212.5l6 6m-6 0l6-6M239.5 1186.5l6 6m-6 0l6-6M239.5 1192.5l6 6m-6 0l6-6M239.5 1189.5l6 6m-6 0l6-6M239.5 1186.5l6 6m-6 0l6-6M239.5 1190.5l6 6m-6 0l6-6M239.5 1191.5l6 6m-6 0l6-6M240.5 1176.5l6 6m-6 0l6-6M240.5 1190.5l6 6m-6 0l6-6M240.5 1190.5l6 6m-6 0l6-6M240.5 1188.5l6 6m-6 0l6-6M240.5 1183.5l6 6m-6 0l6-6M240.5 1178.5l6 6m-6 0l6-6M241.5 1179.5l6 6m-6 0l6-6M241.5 1194.5l6 6m-6 0l6-6M241.5 1182.5l6 6m-6 0l6-6M241.5 1184.5l6 6m-6 0l6-6M241.5 1174.5l6 6m-6 0l6-6M241.5 1194.5l6 6m-6 0l6-6M241.5 1186.5l6 6m-6 0l6-6M242.5 1181.5l6 6m-6 0l6-6M242.5 1181.5l6 6m-6 0l6-6M242.5 1169.5l6 6m-6 0l6-6M242.5 1196.5l6 6m-6 0l6-6M242.5 1192.5l6 6m-6 0l6-6M242.5 1189.5l6 6m-6 0l6-6M243.5 1196.5l6 6m-6 0l6-6M243.5 1185.5l6 6m-6 0l6-6M243.5 1192.5l6 6m-6 0l6-6M243.5 1185.5l6 6m-6 0l6-6M243.5 1183.5l6 6m-6 0l6-6M243.5 1182.5l6 6m-6 0l6-6M244.5 1197.5l6 6m-6 0l6-6M244.5 1190.5l6 6m-6 0l6-6M244.5 1182.5l6 6m-6 0l6-6M244.5 1185.5l6 6m-6 0l6-6M244.5 1190.5l6 6m-6 0l6-6M244.5 1192.5l6 6m-6 0l6-6M245.5 1173.5l6 6m-6 0l6-6M245.5 1182.5l6 6m-6 0l6-6M245.5 1192.5l6 6m-6 0l6-6M245.5 1182.5l6 6m-6 0l6-6M245.5 1183.5l6 6m-6 0l6-6M245.5 1197.5l6 6m-6 0l6-6M245.5 1202.5l6 6m-6 0l6-6M246.5 1186.5l6 6m-6 0l6-6M246.5 1189.5l6 6m-6 0l6-6M246.5 1176.5l6 6m-6 0l6-6M246.5 1196.5l6 6m-6 0l6-6M246.5 1188.5l6 6m-6 0l6-6M246.5 1187.5l6 6m-6 0l6-6M247.5 1185.5l6 6m-6 0l6-6M247.5 1198.5l6 6m-6 0l6-6M247.5 1171.5l6 6m-6 0l6-6M247.5 1187.5l6 6m-6 0l6-6M247.5 1166.5l6 6m-6 0l6-6M247.5 1192.5l6 6m-6 0l6-6M248.5 1193.5l6 6m-6 0l6-6M248.5 1191.5l6 6m-6 0l6-6M248.5 1209.5l6 6m-6 0l6-6M248.5 1191.5l6 6m-6 0l6-6M248.5 1173.5l6 6m-6 0l6-6M248.5 1188.5l6 6m-6 0l6-6M249.5 1185.5l6 6m-6 0l6-6M249.5 1170.5l6 6m-6 0l6-6M249.5 1182.5l6 6m-6 0l6-6M249.5 1187.5l6 6m-6 0l6-6M249.5 1181.5l6 6m-6 0l6-6M249.5 1200.5l6 6m-6 0l6-6M250.5 1190.5l6 6m-6 0l6-6M250.5 1187.5l6 6m-6 0l6-6M250.5 1188.5l6 6m-6 0l6-6M250.5 1190.5l6 6m-6 0l6-6M250.5 1183.5l6 6m-6 0l6-6M250.5 1189.5l6 6m-6 0l6-6M250.5 1190.5l6 6m-6 0l6-6M251.5 1190.5l6 6m-6 0l6-6M251.5 1193.5l6 6m-6 0l6-6M251.5 1179.5l6 6m-6 0l6-6M251.5 1183.5l6 6m-6 0l6-6M251.5 1194.5l6 6m-6 0l6-6M251.5 1189.5l6 6m-6 0l6-6M252.5 1189.5l6 6m-6 0l6-6M252.5 1188.5l6 6m-6 0l6-6M252.5 1178.5l6 6m-6 0l6-6M252.5 1159.5l6 6m-6 0l6-6M252.5 1190.5l6 6m-6 0l6-6M252.5 1183.5l6 6m-6 0l6-6M253.5 1190.5l6 6m-6 0l6-6M253.5 1188.5l6 6m-6 0l6-6M253.5 1193.5l6 6m-6 0l6-6M253.5 1184.5l6 6m-6 0l6-6M253.5 1184.5l6 6m-6 0l6-6M253.5 1202.5l6 6m-6 0l6-6M254.5 1172.5l6 6m-6 0l6-6M254.5 1188.5l6 6m-6 0l6-6M254.5 1179.5l6 6m-6 0l6-6M254.5 1180.5l6 6m-6 0l6-6M254.5 1192.5l6 6m-6 0l6-6M254.5 1192.5l6 6m-6 0l6-6M254.5 1180.5l6 6m-6 0l6-6M255.5 1185.5l6 6m-6 0l6-6M255.5 1179.5l6 6m-6 0l6-6M255.5 1199.5l6 6m-6 0l6-6M255.5 1184.5l6 6m-6 0l6-6M255.5 1185.5l6 6m-6 0l6-6M255.5 1197.5l6 6m-6 0l6-6M256.5 1192.5l6 6m-6 0l6-6M256.5 1193.5l6 6m-6 0l6-6M256.5 1176.5l6 6m-6 0l6-6M256.5 1199.5l6 6m-6 0l6-6M256.5 1198.5l6 6m-6 0l6-6M256.5 1200.5l6 6m-6 0l6-6M257.5 1183.5l6 6m-6 0l6-6M257.5 1183.5l6 6m-6 0l6-6M257.5 1178.5l6 6m-6 0l6-6M257.5 1187.5l6 6m-6 0l6-6M257.5 1189.5l6 6m-6 0l6-6M257.5 1181.5l6 6m-6 0l6-6M258.5 1191.5l6 6m-6 0l6-6M258.5 1189.5l6 6m-6 0l6-6M258.5 1185.5l6 6m-6 0l6-6M258.5 1188.5l6 6m-6 0l6-6M258.5 1188.5l6 6m-6 0l6-6M258.5 1194.5l6 6m-6 0l6-6M259.5 1192.5l6 6m-6 0l6-6M259.5 1183.5l6 6m-6 0l6-6M259.5 1167.5l6 6m-6 0l6-6M259.5 1188.5l6 6m-6 0l6-6M259.5 1193.5l6 6m-6 0l6-6M259.5 1177.5l6 6m-6 0l6-6M259.5 1190.5l6 6m-6 0l6-6M260.5 1176.5l6 6m-6 0l6-6M260.5 1194.5l6 6m-6 0l6-6M260.5 1177.5l6 6m-6 0l6-6M260.5 1171.5l6 6m-6 0l6-6M260.5 1201.5l6 6m-6 0l6-6M260.5 1187.5l6 6m-6 0l6-6M261.5 1184.5l6 6m-6 0l6-6M261.5 1183.5l6 6m-6 0l6-6M261.5 1176.5l6 6m-6 0l6-6M261.5 1191.5l6 6m-6 0l6-6M261.5 1172.5l6 6m-6 0l6-6M261.5 1185.5l6 6m-6 0l6-6M262.5 1170.5l6 6m-6 0l6-6M262.5 1194.5l6 6m-6 0l6-6M262.5 1185.5l6 6m-6 0l6-6M262.5 1190.5l6 6m-6 0l6-6M262.5 1183.5l6 6m-6 0l6-6M262.5 1184.5l6 6m-6 0l6-6M263.5 1180.5l6 6m-6 0l6-6M263.5 1183.5l6 6m-6 0l6-6M263.5 1181.5l6 6m-6 0l6-6M263.5 1172.5l6 6m-6 0l6-6M263.5 1180.5l6 6m-6 0l6-6M263.5 1172.5l6 6m-6 0l6-6M264.5 1181.5l6 6m-6 0l6-6M264.5 1190.5l6 6m-6 0l6-6M264.5 1182.5l6 6m-6 0l6-6M264.5 1199.5l6 6m-6 0l6-6M264.5 1175.5l6 6m-6 0l6-6M264.5 1194.5l6 6m-6 0l6-6M264.5 1181.5l6 6m-6 0l6-6M265.5 1188.5l6 6m-6 0l6-6M265.5 1177.5l6 6m-6 0l6-6M265.5 1184.5l6 6m-6 0l6-6M265.5 1193.5l6 6m-6 0l6-6M265.5 1186.5l6 6m-6 0l6-6M265.5 1185.5l6 6m-6 0l6-6M266.5 1185.5l6 6m-6 0l6-6M266.5 1179.5l6 6m-6 0l6-6M266.5 1190.5l6 6m-6 0l6-6M266.5 1195.5l6 6m-6 0l6-6M266.5 1174.5l6 6m-6 0l6-6M266.5 1178.5l6 6m-6 0l6-6M267.5 1183.5l6 6m-6 0l6-6M267.5 1179.5l6 6m-6 0l6-6M267.5 1203.5l6 6m-6 0l6-6M267.5 1191.5l6 6m-6 0l6-6M267.5 1198.5l6 6m-6 0l6-6M267.5 1191.5l6 6m-6 0l6-6M268.5 1174.5l6 6m-6 0l6-6M268.5 1188.5l6 6m-6 0l6-6M268.5 1186.5l6 6m-6 0l6-6M268.5 1179.5l6 6m-6 0l6-6M268.5 1176.5l6 6m-6 0l6-6M268.5 1191.5l6 6m-6 0l6-6M268.5 1186.5l6 6m-6 0l6-6M269.5 1188.5l6 6m-6 0l6-6M269.5 1180.5l6 6m-6 0l6-6M269.5 1185.5l6 6m-6 0l6-6M269.5 1194.5l6 6m-6 0l6-6M269.5 1183.5l6 6m-6 0l6-6M269.5 1188.5l6 6m-6 0l6-6M270.5 1195.5l6 6m-6 0l6-6M270.5 1196.5l6 6m-6 0l6-6M270.5 1190.5l6 6m-6 0l6-6M270.5 1180.5l6 6m-6 0l6-6M270.5 1191.5l6 6m-6 0l6-6M270.5 1182.5l6 6m-6 0l6-6M271.5 1188.5l6 6m-6 0l6-6M271.5 1200.5l6 6m-6 0l6-6M271.5 1186.5l6 6m-6 0l6-6M271.5 1173.5l6 6m-6 0l6-6M271.5 1172.5l6 6m-6 0l6-6M271.5 1182.5l6 6m-6 0l6-6M272.5 1194.5l6 6m-6 0l6-6M272.5 1189.5l6 6m-6 0l6-6M272.5 1184.5l6 6m-6 0l6-6M272.5 1188.5l6 6m-6 0l6-6M272.5 1175.5l6 6m-6 0l6-6M272.5 1194.5l6 6m-6 0l6-6M273.5 1182.5l6 6m-6 0l6-6M273.5 1197.5l6 6m-6 0l6-6M273.5 1196.5l6 6m-6 0l6-6M273.5 1181.5l6 6m-6 0l6-6M273.5 1193.5l6 6m-6 0l6-6M273.5 1191.5l6 6m-6 0l6-6M273.5 1181.5l6 6m-6 0l6-6M274.5 1179.5l6 6m-6 0l6-6M274.5 1178.5l6 6m-6 0l6-6M274.5 1175.5l6 6m-6 0l6-6M274.5 1177.5l6 6m-6 0l6-6M274.5 1180.5l6 6m-6 0l6-6M274.5 1190.5l6 6m-6 0l6-6M275.5 1184.5l6 6m-6 0l6-6M275.5 1192.5l6 6m-6 0l6-6M275.5 1184.5l6 6m-6 0l6-6M275.5 1184.5l6 6m-6 0l6-6M275.5 1186.5l6 6m-6 0l6-6M275.5 1181.5l6 6m-6 0l6-6M276.5 1184.5l6 6m-6 0l6-6M276.5 1197.5l6 6m-6 0l6-6M276.5 1194.5l6 6m-6 0l6-6M276.5 1182.5l6 6m-6 0l6-6M276.5 1192.5l6 6m-6 0l6-6M276.5 1181.5l6 6m-6 0l6-6M277.5 1190.5l6 6m-6 0l6-6M277.5 1179.5l6 6m-6 0l6-6M277.5 1185.5l6 6m-6 0l6-6M277.5 1175.5l6 6m-6 0l6-6M277.5 1189.5l6 6m-6 0l6-6M277.5 1186.5l6 6m-6 0l6-6M277.5 1183.5l6 6m-6 0l6-6M278.5 1182.5l6 6m-6 0l6-6M278.5 1176.5l6 6m-6 0l6-6M278.5 1178.5l6 6m-6 0l6-6M278.5 1193.5l6 6m-6 0l6-6M278.5 1184.5l6 6m-6 0l6-6M278.5 1187.5l6 6m-6 0l6-6M279.5 1205.5l6 6m-6 0l6-6M279.5 1187.5l6 6m-6 0l6-6M279.5 1189.5l6 6m-6 0l6-6M279.5 1185.5l6 6m-6 0l6-6M279.5 1182.5l6 6m-6 0l6-6M279.5 1193.5l6 6m-6 0l6-6M280.5 1187.5l6 6m-6 0l6-6M280.5 1171.5l6 6m-6 0l6-6M280.5 1190.5l6 6m-6 0l6-6M280.5 1171.5l6 6m-6 0l6-6M280.5 1196.5l6 6m-6 0l6-6M280.5 1181.5l6 6m-6 0l6-6M281.5 1183.5l6 6m-6 0l6-6M281.5 1185.5l6 6m-6 0l6-6M281.5 1184.5l6 6m-6 0l6-6M281.5 1184.5l6 6m-6 0l6-6M281.5 1185.5l6 6m-6 0l6-6M281.5 1180.5l6 6m-6 0l6-6M282.5 1177.5l6 6m-6 0l6-6M282.5 1203.5l6 6m-6 0l6-6M282.5 1180.5l6 6m-6 0l6-6M282.5 1182.5l6 6m-6 0l6-6M282.5 1191.5l6 6m-6 0l6-6M282.5 1188.5l6 6m-6 0l6-6M282.5 1173.5l6 6m-6 0l6-6M283.5 1183.5l6 6m-6 0l6-6M283.5 1179.5l6 6m-6 0l6-6M283.5 1182.5l6 6m-6 0l6-6M283.5 1182.5l6 6m-6 0l6-6M283.5 1182.5l6 6m-6 0l6-6M283.5 1201.5l6 6m-6 0l6-6M284.5 1185.5l6 6m-6 0l6-6M284.5 1181.5l6 6m-6 0l6-6M284.5 1193.5l6 6m-6 0l6-6M284.5 1180.5l6 6m-6 0l6-6M284.5 1196.5l6 6m-6 0l6-6M284.5 1191.5l6 6m-6 0l6-6M285.5 1196.5l6 6m-6 0l6-6M285.5 1195.5l6 6m-6 0l6-6M285.5 1185.5l6 6m-6 0l6-6M285.5 1197.5l6 6m-6 0l6-6M285.5 1174.5l6 6m-6 0l6-6M285.5 1185.5l6 6m-6 0l6-6M286.5 1184.5l6 6m-6 0l6-6M286.5 1192.5l6 6m-6 0l6-6M286.5 1193.5l6 6m-6 0l6-6M286.5 1185.5l6 6m-6 0l6-6M286.5 1185.5l6 6m-6 0l6-6M286.5 1177.5l6 6m-6 0l6-6M287.5 1193.5l6 6m-6 0l6-6M287.5 1182.5l6 6m-6 0l6-6M287.5 1192.5l6 6m-6 0l6-6M287.5 1194.5l6 6m-6 0l6-6M287.5 1174.5l6 6m-6 0l6-6M287.5 1182.5l6 6m-6 0l6-6M287.5 1181.5l6 6m-6 0l6-6M288.5 1189.5l6 6m-6 0l6-6M288.5 1182.5l6 6m-6 0l6-6M288.5 1185.5l6 6m-6 0l6-6M288.5 1193.5l6 6m-6 0l6-6M288.5 1187.5l6 6m-6 0l6-6M288.5 1184.5l6 6m-6 0l6-6M289.5 1179.5l6 6m-6 0l6-6M289.5 1194.5l6 6m-6 0l6-6M289.5 1195.5l6 6m-6 0l6-6M289.5 1179.5l6 6m-6 0l6-6M289.5 1185.5l6 6m-6 0l6-6M289.5 1173.5l6 6m-6 0l6-6M290.5 1187.5l6 6m-6 0l6-6M290.5 1188.5l6 6m-6 0l6-6M290.5 1200.5l6 6m-6 0l6-6M290.5 1186.5l6 6m-6 0l6-6M290.5 1175.5l6 6m-6 0l6-6M290.5 1182.5l6 6m-6 0l6-6M291.5 1186.5l6 6m-6 0l6-6M291.5 1180.5l6 6m-6 0l6-6M291.5 1174.5l6 6m-6 0l6-6M291.5 1193.5l6 6m-6 0l6-6M291.5 1169.5l6 6m-6 0l6-6M291.5 1181.5l6 6m-6 0l6-6M291.5 1177.5l6 6m-6 0l6-6M292.5 1190.5l6 6m-6 0l6-6M292.5 1191.5l6 6m-6 0l6-6M292.5 1179.5l6 6m-6 0l6-6M292.5 1192.5l6 6m-6 0l6-6M292.5 1193.5l6 6m-6 0l6-6M292.5 1198.5l6 6m-6 0l6-6M293.5 1189.5l6 6m-6 0l6-6M293.5 1185.5l6 6m-6 0l6-6M293.5 1178.5l6 6m-6 0l6-6M293.5 1191.5l6 6m-6 0l6-6M293.5 1186.5l6 6m-6 0l6-6M293.5 1189.5l6 6m-6 0l6-6M294.5 1169.5l6 6m-6 0l6-6M294.5 1178.5l6 6m-6 0l6-6M294.5 1195.5l6 6m-6 0l6-6M294.5 1182.5l6 6m-6 0l6-6M294.5 1182.5l6 6m-6 0l6-6M294.5 1179.5l6 6m-6 0l6-6M295.5 1190.5l6 6m-6 0l6-6M295.5 1184.5l6 6m-6 0l6-6M295.5 1194.5l6 6m-6 0l6-6M295.5 1186.5l6 6m-6 0l6-6M295.5 1195.5l6 6m-6 0l6-6M295.5 1194.5l6 6m-6 0l6-6M296.5 1205.5l6 6m-6 0l6-6M296.5 1175.5l6 6m-6 0l6-6M296.5 1187.5l6 6m-6 0l6-6M296.5 1185.5l6 6m-6 0l6-6M296.5 1204.5l6 6m-6 0l6-6M296.5 1172.5l6 6m-6 0l6-6M296.5 1193.5l6 6m-6 0l6-6M297.5 1190.5l6 6m-6 0l6-6M297.5 1185.5l6 6m-6 0l6-6M297.5 1199.5l6 6m-6 0l6-6M297.5 1195.5l6 6m-6 0l6-6M297.5 1179.5l6 6m-6 0l6-6M297.5 1184.5l6 6m-6 0l6-6M298.5 1184.5l6 6m-6 0l6-6M298.5 1182.5l6 6m-6 0l6-6M298.5 1194.5l6 6m-6 0l6-6M298.5 1193.5l6 6m-6 0l6-6M298.5 1178.5l6 6m-6 0l6-6M298.5 1193.5l6 6m-6 0l6-6M299.5 1195.5l6 6m-6 0l6-6M299.5 1185.5l6 6m-6 0l6-6M299.5 1184.5l6 6m-6 0l6-6M299.5 1176.5l6 6m-6 0l6-6M299.5 1185.5l6 6m-6 0l6-6M299.5 1189.5l6 6m-6 0l6-6M300.5 1174.5l6 6m-6 0l6-6M300.5 1178.5l6 6m-6 0l6-6M300.5 1177.5l6 6m-6 0l6-6M300.5 1181.5l6 6m-6 0l6-6M300.5 1188.5l6 6m-6 0l6-6M300.5 1185.5l6 6m-6 0l6-6M301.5 1185.5l6 6m-6 0l6-6M301.5 1179.5l6 6m-6 0l6-6M301.5 1192.5l6 6m-6 0l6-6M301.5 1190.5l6 6m-6 0l6-6M301.5 1185.5l6 6m-6 0l6-6M301.5 1180.5l6 6m-6 0l6-6M301.5 1177.5l6 6m-6 0l6-6M302.5 1188.5l6 6m-6 0l6-6M302.5 1186.5l6 6m-6 0l6-6M302.5 1188.5l6 6m-6 0l6-6M302.5 1194.5l6 6m-6 0l6-6M302.5 1191.5l6 6m-6 0l6-6M302.5 1167.5l6 6m-6 0l6-6M303.5 1184.5l6 6m-6 0l6-6M303.5 1183.5l6 6m-6 0l6-6M303.5 1191.5l6 6m-6 0l6-6M303.5 1181.5l6 6m-6 0l6-6M303.5 1187.5l6 6m-6 0l6-6M303.5 1191.5l6 6m-6 0l6-6M304.5 1176.5l6 6m-6 0l6-6M304.5 1193.5l6 6m-6 0l6-6M304.5 1188.5l6 6m-6 0l6-6M304.5 1184.5l6 6m-6 0l6-6M304.5 1173.5l6 6m-6 0l6-6M304.5 1181.5l6 6m-6 0l6-6M305.5 1178.5l6 6m-6 0l6-6M305.5 1186.5l6 6m-6 0l6-6M305.5 1185.5l6 6m-6 0l6-6M305.5 1186.5l6 6m-6 0l6-6M305.5 1188.5l6 6m-6 0l6-6M305.5 1182.5l6 6m-6 0l6-6M305.5 1190.5l6 6m-6 0l6-6M306.5 1175.5l6 6m-6 0l6-6M306.5 1192.5l6 6m-6 0l6-6M306.5 1194.5l6 6m-6 0l6-6M306.5 1189.5l6 6m-6 0l6-6M306.5 1192.5l6 6m-6 0l6-6M306.5 1190.5l6 6m-6 0l6-6M307.5 1181.5l6 6m-6 0l6-6M307.5 1177.5l6 6m-6 0l6-6M307.5 1198.5l6 6m-6 0l6-6M307.5 1179.5l6 6m-6 0l6-6M307.5 1181.5l6 6m-6 0l6-6M307.5 1185.5l6 6m-6 0l6-6M308.5 1166.5l6 6m-6 0l6-6M308.5 1175.5l6 6m-6 0l6-6M308.5 1186.5l6 6m-6 0l6-6M308.5 1181.5l6 6m-6 0l6-6M308.5 1174.5l6 6m-6 0l6-6M308.5 1179.5l6 6m-6 0l6-6M309.5 1177.5l6 6m-6 0l6-6M309.5 1194.5l6 6m-6 0l6-6M309.5 1184.5l6 6m-6 0l6-6M309.5 1185.5l6 6m-6 0l6-6M309.5 1192.5l6 6m-6 0l6-6M309.5 1176.5l6 6m-6 0l6-6M310.5 1184.5l6 6m-6 0l6-6M310.5 1181.5l6 6m-6 0l6-6M310.5 1187.5l6 6m-6 0l6-6M310.5 1185.5l6 6m-6 0l6-6M310.5 1192.5l6 6m-6 0l6-6M310.5 1185.5l6 6m-6 0l6-6M310.5 1192.5l6 6m-6 0l6-6M311.5 1177.5l6 6m-6 0l6-6M311.5 1195.5l6 6m-6 0l6-6M311.5 1182.5l6 6m-6 0l6-6M311.5 1178.5l6 6m-6 0l6-6M311.5 1186.5l6 6m-6 0l6-6M311.5 1180.5l6 6m-6 0l6-6M312.5 1182.5l6 6m-6 0l6-6M312.5 1177.5l6 6m-6 0l6-6M312.5 1185.5l6 6m-6 0l6-6M312.5 1179.5l6 6m-6 0l6-6M312.5 1184.5l6 6m-6 0l6-6M312.5 1187.5l6 6m-6 0l6-6M313.5 1175.5l6 6m-6 0l6-6M313.5 1177.5l6 6m-6 0l6-6M313.5 1184.5l6 6m-6 0l6-6M313.5 1181.5l6 6m-6 0l6-6M313.5 1170.5l6 6m-6 0l6-6M313.5 1187.5l6 6m-6 0l6-6M314.5 1194.5l6 6m-6 0l6-6M314.5 1176.5l6 6m-6 0l6-6M314.5 1196.5l6 6m-6 0l6-6M314.5 1186.5l6 6m-6 0l6-6M314.5 1200.5l6 6m-6 0l6-6M314.5 1176.5l6 6m-6 0l6-6M314.5 1175.5l6 6m-6 0l6-6M315.5 1184.5l6 6m-6 0l6-6M315.5 1187.5l6 6m-6 0l6-6M315.5 1174.5l6 6m-6 0l6-6M315.5 1166.5l6 6m-6 0l6-6M315.5 1183.5l6 6m-6 0l6-6M315.5 1188.5l6 6m-6 0l6-6M316.5 1177.5l6 6m-6 0l6-6M316.5 1186.5l6 6m-6 0l6-6M316.5 1181.5l6 6m-6 0l6-6M316.5 1167.5l6 6m-6 0l6-6M316.5 1177.5l6 6m-6 0l6-6M316.5 1188.5l6 6m-6 0l6-6M317.5 1187.5l6 6m-6 0l6-6M317.5 1190.5l6 6m-6 0l6-6M317.5 1190.5l6 6m-6 0l6-6M317.5 1179.5l6 6m-6 0l6-6M317.5 1180.5l6 6m-6 0l6-6M317.5 1188.5l6 6m-6 0l6-6M318.5 1199.5l6 6m-6 0l6-6M318.5 1198.5l6 6m-6 0l6-6M318.5 1179.5l6 6m-6 0l6-6M318.5 1181.5l6 6m-6 0l6-6M318.5 1184.5l6 6m-6 0l6-6M318.5 1186.5l6 6m-6 0l6-6M319.5 1178.5l6 6m-6 0l6-6M319.5 1197.5l6 6m-6 0l6-6M319.5 1198.5l6 6m-6 0l6-6M319.5 1187.5l6 6m-6 0l6-6M319.5 1190.5l6 6m-6 0l6-6M319.5 1202.5l6 6m-6 0l6-6M319.5 1175.5l6 6m-6 0l6-6M320.5 1179.5l6 6m-6 0l6-6M320.5 1179.5l6 6m-6 0l6-6M320.5 1196.5l6 6m-6 0l6-6M320.5 1189.5l6 6m-6 0l6-6M320.5 1189.5l6 6m-6 0l6-6M320.5 1172.5l6 6m-6 0l6-6M321.5 1200.5l6 6m-6 0l6-6M321.5 1186.5l6 6m-6 0l6-6M321.5 1203.5l6 6m-6 0l6-6M321.5 1183.5l6 6m-6 0l6-6M321.5 1187.5l6 6m-6 0l6-6M321.5 1183.5l6 6m-6 0l6-6M322.5 1201.5l6 6m-6 0l6-6M322.5 1193.5l6 6m-6 0l6-6M322.5 1188.5l6 6m-6 0l6-6M322.5 1188.5l6 6m-6 0l6-6M322.5 1168.5l6 6m-6 0l6-6M322.5 1186.5l6 6m-6 0l6-6M323.5 1181.5l6 6m-6 0l6-6M323.5 1158.5l6 6m-6 0l6-6M323.5 1196.5l6 6m-6 0l6-6M323.5 1185.5l6 6m-6 0l6-6M323.5 1186.5l6 6m-6 0l6-6M323.5 1178.5l6 6m-6 0l6-6M324.5 1192.5l6 6m-6 0l6-6M324.5 1182.5l6 6m-6 0l6-6M324.5 1174.5l6 6m-6 0l6-6M324.5 1174.5l6 6m-6 0l6-6M324.5 1184.5l6 6m-6 0l6-6M324.5 1190.5l6 6m-6 0l6-6M324.5 1204.5l6 6m-6 0l6-6M325.5 1176.5l6 6m-6 0l6-6M325.5 1177.5l6 6m-6 0l6-6M325.5 1194.5l6 6m-6 0l6-6M325.5 1182.5l6 6m-6 0l6-6M325.5 1177.5l6 6m-6 0l6-6M325.5 1183.5l6 6m-6 0l6-6M326.5 1180.5l6 6m-6 0l6-6M326.5 1193.5l6 6m-6 0l6-6M326.5 1180.5l6 6m-6 0l6-6M326.5 1188.5l6 6m-6 0l6-6M326.5 1176.5l6 6m-6 0l6-6M326.5 1188.5l6 6m-6 0l6-6M327.5 1167.5l6 6m-6 0l6-6M327.5 1190.5l6 6m-6 0l6-6M327.5 1192.5l6 6m-6 0l6-6M327.5 1186.5l6 6m-6 0l6-6M327.5 1180.5l6 6m-6 0l6-6M327.5 1175.5l6 6m-6 0l6-6M328.5 1192.5l6 6m-6 0l6-6M328.5 1197.5l6 6m-6 0l6-6M328.5 1182.5l6 6m-6 0l6-6M328.5 1181.5l6 6m-6 0l6-6M328.5 1177.5l6 6m-6 0l6-6M328.5 1184.5l6 6m-6 0l6-6M328.5 1171.5l6 6m-6 0l6-6M329.5 1186.5l6 6m-6 0l6-6M329.5 1180.5l6 6m-6 0l6-6M329.5 1174.5l6 6m-6 0l6-6M329.5 1179.5l6 6m-6 0l6-6M329.5 1182.5l6 6m-6 0l6-6M329.5 1170.5l6 6m-6 0l6-6M330.5 1178.5l6 6m-6 0l6-6M330.5 1203.5l6 6m-6 0l6-6M330.5 1182.5l6 6m-6 0l6-6M330.5 1183.5l6 6m-6 0l6-6M330.5 1183.5l6 6m-6 0l6-6M330.5 1184.5l6 6m-6 0l6-6M331.5 1177.5l6 6m-6 0l6-6M331.5 1191.5l6 6m-6 0l6-6M331.5 1174.5l6 6m-6 0l6-6M331.5 1167.5l6 6m-6 0l6-6M331.5 1192.5l6 6m-6 0l6-6M331.5 1189.5l6 6m-6 0l6-6M332.5 1180.5l6 6m-6 0l6-6M332.5 1194.5l6 6m-6 0l6-6M332.5 1186.5l6 6m-6 0l6-6M332.5 1181.5l6 6m-6 0l6-6M332.5 1181.5l6 6m-6 0l6-6M332.5 1181.5l6 6m-6 0l6-6M333.5 1208.5l6 6m-6 0l6-6M333.5 1196.5l6 6m-6 0l6-6M333.5 1184.5l6 6m-6 0l6-6M333.5 1202.5l6 6m-6 0l6-6M333.5 1177.5l6 6m-6 0l6-6M333.5 1205.5l6 6m-6 0l6-6M333.5 1198.5l6 6m-6 0l6-6M334.5 1189.5l6 6m-6 0l6-6M334.5 1181.5l6 6m-6 0l6-6M334.5 1188.5l6 6m-6 0l6-6M334.5 1174.5l6 6m-6 0l6-6M334.5 1182.5l6 6m-6 0l6-6M334.5 1202.5l6 6m-6 0l6-6M335.5 1181.5l6 6m-6 0l6-6M335.5 1175.5l6 6m-6 0l6-6M335.5 1195.5l6 6m-6 0l6-6M335.5 1182.5l6 6m-6 0l6-6M335.5 1202.5l6 6m-6 0l6-6M335.5 1188.5l6 6m-6 0l6-6M336.5 1181.5l6 6m-6 0l6-6M336.5 1191.5l6 6m-6 0l6-6M336.5 1179.5l6 6m-6 0l6-6M336.5 1176.5l6 6m-6 0l6-6M336.5 1195.5l6 6m-6 0l6-6M336.5 1179.5l6 6m-6 0l6-6M337.5 1190.5l6 6m-6 0l6-6M337.5 1201.5l6 6m-6 0l6-6M337.5 1192.5l6 6m-6 0l6-6M337.5 1190.5l6 6m-6 0l6-6M337.5 1175.5l6 6m-6 0l6-6M337.5 1195.5l6 6m-6 0l6-6M338.5 1204.5l6 6m-6 0l6-6M338.5 1185.5l6 6m-6 0l6-6M338.5 1171.5l6 6m-6 0l6-6M338.5 1180.5l6 6m-6 0l6-6M338.5 1187.5l6 6m-6 0l6-6M338.5 1176.5l6 6m-6 0l6-6M338.5 1176.5l6 6m-6 0l6-6M339.5 1167.5l6 6m-6 0l6-6M339.5 1192.5l6 6m-6 0l6-6M339.5 1183.5l6 6m-6 0l6-6M339.5 1179.5l6 6m-6 0l6-6M339.5 1185.5l6 6m-6 0l6-6M339.5 1180.5l6 6m-6 0l6-6M340.5 1189.5l6 6m-6 0l6-6M340.5 1190.5l6 6m-6 0l6-6M340.5 1196.5l6 6m-6 0l6-6M340.5 1164.5l6 6m-6 0l6-6M340.5 1185.5l6 6m-6 0l6-6M340.5 1186.5l6 6m-6 0l6-6M341.5 1188.5l6 6m-6 0l6-6M341.5 1178.5l6 6m-6 0l6-6M341.5 1183.5l6 6m-6 0l6-6M341.5 1184.5l6 6m-6 0l6-6M341.5 1177.5l6 6m-6 0l6-6M341.5 1176.5l6 6m-6 0l6-6M342.5 1194.5l6 6m-6 0l6-6M342.5 1183.5l6 6m-6 0l6-6M342.5 1179.5l6 6m-6 0l6-6M342.5 1202.5l6 6m-6 0l6-6M342.5 1197.5l6 6m-6 0l6-6M342.5 1185.5l6 6m-6 0l6-6M342.5 1190.5l6 6m-6 0l6-6M343.5 1177.5l6 6m-6 0l6-6M343.5 1186.5l6 6m-6 0l6-6M343.5 1172.5l6 6m-6 0l6-6M343.5 1199.5l6 6m-6 0l6-6M343.5 1185.5l6 6m-6 0l6-6M343.5 1186.5l6 6m-6 0l6-6M344.5 1179.5l6 6m-6 0l6-6M344.5 1167.5l6 6m-6 0l6-6M344.5 1203.5l6 6m-6 0l6-6M344.5 1189.5l6 6m-6 0l6-6M344.5 1177.5l6 6m-6 0l6-6M344.5 1191.5l6 6m-6 0l6-6M345.5 1173.5l6 6m-6 0l6-6M345.5 1184.5l6 6m-6 0l6-6M345.5 1191.5l6 6m-6 0l6-6M345.5 1174.5l6 6m-6 0l6-6M345.5 1194.5l6 6m-6 0l6-6M345.5 1178.5l6 6m-6 0l6-6M346.5 1171.5l6 6m-6 0l6-6M346.5 1189.5l6 6m-6 0l6-6M346.5 1188.5l6 6m-6 0l6-6M346.5 1182.5l6 6m-6 0l6-6M346.5 1187.5l6 6m-6 0l6-6M346.5 1185.5l6 6m-6 0l6-6M347.5 1192.5l6 6m-6 0l6-6M347.5 1174.5l6 6m-6 0l6-6M347.5 1181.5l6 6m-6 0l6-6M347.5 1167.5l6 6m-6 0l6-6M347.5 1176.5l6 6m-6 0l6-6M347.5 1171.5l6 6m-6 0l6-6M347.5 1178.5l6 6m-6 0l6-6M348.5 1199.5l6 6m-6 0l6-6M348.5 1181.5l6 6m-6 0l6-6M348.5 1177.5l6 6m-6 0l6-6M348.5 1165.5l6 6m-6 0l6-6M348.5 1179.5l6 6m-6 0l6-6M348.5 1209.5l6 6m-6 0l6-6M349.5 1196.5l6 6m-6 0l6-6M349.5 1180.5l6 6m-6 0l6-6M349.5 1190.5l6 6m-6 0l6-6M349.5 1180.5l6 6m-6 0l6-6M349.5 1188.5l6 6m-6 0l6-6M349.5 1196.5l6 6m-6 0l6-6M350.5 1183.5l6 6m-6 0l6-6M350.5 1195.5l6 6m-6 0l6-6M350.5 1183.5l6 6m-6 0l6-6M350.5 1170.5l6 6m-6 0l6-6M350.5 1197.5l6 6m-6 0l6-6M350.5 1197.5l6 6m-6 0l6-6M351.5 1188.5l6 6m-6 0l6-6M351.5 1167.5l6 6m-6 0l6-6M351.5 1192.5l6 6m-6 0l6-6M351.5 1173.5l6 6m-6 0l6-6M351.5 1184.5l6 6m-6 0l6-6M351.5 1186.5l6 6m-6 0l6-6M351.5 1200.5l6 6m-6 0l6-6M352.5 1161.5l6 6m-6 0l6-6M352.5 1194.5l6 6m-6 0l6-6M352.5 1184.5l6 6m-6 0l6-6M352.5 1181.5l6 6m-6 0l6-6M352.5 1179.5l6 6m-6 0l6-6M352.5 1202.5l6 6m-6 0l6-6M353.5 1194.5l6 6m-6 0l6-6M353.5 1194.5l6 6m-6 0l6-6M353.5 1186.5l6 6m-6 0l6-6M353.5 1190.5l6 6m-6 0l6-6M353.5 1179.5l6 6m-6 0l6-6M353.5 1184.5l6 6m-6 0l6-6M354.5 1185.5l6 6m-6 0l6-6M354.5 1194.5l6 6m-6 0l6-6M354.5 1185.5l6 6m-6 0l6-6M354.5 1180.5l6 6m-6 0l6-6M354.5 1166.5l6 6m-6 0l6-6M354.5 1172.5l6 6m-6 0l6-6M355.5 1180.5l6 6m-6 0l6-6M355.5 1171.5l6 6m-6 0l6-6M355.5 1178.5l6 6m-6 0l6-6M355.5 1185.5l6 6m-6 0l6-6M355.5 1177.5l6 6m-6 0l6-6M355.5 1180.5l6 6m-6 0l6-6M356.5 1203.5l6 6m-6 0l6-6M356.5 1196.5l6 6m-6 0l6-6M356.5 1195.5l6 6m-6 0l6-6M356.5 1194.5l6 6m-6 0l6-6M356.5 1177.5l6 6m-6 0l6-6M356.5 1193.5l6 6m-6 0l6-6M356.5 1209.5l6 6m-6 0l6-6M357.5 1182.5l6 6m-6 0l6-6M357.5 1184.5l6 6m-6 0l6-6M357.5 1206.5l6 6m-6 0l6-6M357.5 1202.5l6 6m-6 0l6-6M357.5 1185.5l6 6m-6 0l6-6M357.5 1205.5l6 6m-6 0l6-6M358.5 1196.5l6 6m-6 0l6-6M358.5 1179.5l6 6m-6 0l6-6M358.5 1180.5l6 6m-6 0l6-6M358.5 1199.5l6 6m-6 0l6-6M358.5 1195.5l6 6m-6 0l6-6M358.5 1175.5l6 6m-6 0l6-6M359.5 1171.5l6 6m-6 0l6-6M359.5 1196.5l6 6m-6 0l6-6M359.5 1182.5l6 6m-6 0l6-6M359.5 1179.5l6 6m-6 0l6-6M359.5 1167.5l6 6m-6 0l6-6M359.5 1172.5l6 6m-6 0l6-6M360.5 1179.5l6 6m-6 0l6-6M360.5 1204.5l6 6m-6 0l6-6M360.5 1181.5l6 6m-6 0l6-6M360.5 1190.5l6 6m-6 0l6-6M360.5 1178.5l6 6m-6 0l6-6M360.5 1205.5l6 6m-6 0l6-6M361.5 1177.5l6 6m-6 0l6-6M361.5 1188.5l6 6m-6 0l6-6M361.5 1172.5l6 6m-6 0l6-6M361.5 1192.5l6 6m-6 0l6-6M361.5 1164.5l6 6m-6 0l6-6M361.5 1188.5l6 6m-6 0l6-6M361.5 1191.5l6 6m-6 0l6-6M362.5 1182.5l6 6m-6 0l6-6M362.5 1190.5l6 6m-6 0l6-6M362.5 1189.5l6 6m-6 0l6-6M362.5 1207.5l6 6m-6 0l6-6M362.5 1182.5l6 6m-6 0l6-6M362.5 1194.5l6 6m-6 0l6-6M363.5 1175.5l6 6m-6 0l6-6M363.5 1189.5l6 6m-6 0l6-6M363.5 1185.5l6 6m-6 0l6-6M363.5 1185.5l6 6m-6 0l6-6M363.5 1185.5l6 6m-6 0l6-6M363.5 1188.5l6 6m-6 0l6-6M364.5 1173.5l6 6m-6 0l6-6M364.5 1178.5l6 6m-6 0l6-6M364.5 1196.5l6 6m-6 0l6-6M364.5 1183.5l6 6m-6 0l6-6M364.5 1201.5l6 6m-6 0l6-6M364.5 1201.5l6 6m-6 0l6-6M365.5 1191.5l6 6m-6 0l6-6M365.5 1169.5l6 6m-6 0l6-6M365.5 1193.5l6 6m-6 0l6-6M365.5 1197.5l6 6m-6 0l6-6M365.5 1191.5l6 6m-6 0l6-6M365.5 1202.5l6 6m-6 0l6-6M365.5 1174.5l6 6m-6 0l6-6M366.5 1174.5l6 6m-6 0l6-6M366.5 1176.5l6 6m-6 0l6-6M366.5 1181.5l6 6m-6 0l6-6M366.5 1193.5l6 6m-6 0l6-6M366.5 1191.5l6 6m-6 0l6-6M366.5 1175.5l6 6m-6 0l6-6M367.5 1172.5l6 6m-6 0l6-6M367.5 1173.5l6 6m-6 0l6-6M367.5 1189.5l6 6m-6 0l6-6M367.5 1197.5l6 6m-6 0l6-6M367.5 1195.5l6 6m-6 0l6-6M367.5 1175.5l6 6m-6 0l6-6M368.5 1163.5l6 6m-6 0l6-6M368.5 1175.5l6 6m-6 0l6-6M368.5 1185.5l6 6m-6 0l6-6M368.5 1166.5l6 6m-6 0l6-6M368.5 1192.5l6 6m-6 0l6-6M368.5 1192.5l6 6m-6 0l6-6M369.5 1184.5l6 6m-6 0l6-6M369.5 1198.5l6 6m-6 0l6-6M369.5 1186.5l6 6m-6 0l6-6M369.5 1166.5l6 6m-6 0l6-6M369.5 1196.5l6 6m-6 0l6-6M369.5 1186.5l6 6m-6 0l6-6M370.5 1195.5l6 6m-6 0l6-6M370.5 1177.5l6 6m-6 0l6-6M370.5 1174.5l6 6m-6 0l6-6M370.5 1193.5l6 6m-6 0l6-6M370.5 1185.5l6 6m-6 0l6-6M370.5 1188.5l6 6m-6 0l6-6M370.5 1187.5l6 6m-6 0l6-6M371.5 1176.5l6 6m-6 0l6-6M371.5 1157.5l6 6m-6 0l6-6M371.5 1183.5l6 6m-6 0l6-6M371.5 1184.5l6 6m-6 0l6-6M371.5 1182.5l6 6m-6 0l6-6M371.5 1182.5l6 6m-6 0l6-6M372.5 1174.5l6 6m-6 0l6-6M372.5 1186.5l6 6m-6 0l6-6M372.5 1190.5l6 6m-6 0l6-6M372.5 1171.5l6 6m-6 0l6-6M372.5 1208.5l6 6m-6 0l6-6M372.5 1161.5l6 6m-6 0l6-6M373.5 1197.5l6 6m-6 0l6-6M373.5 1174.5l6 6m-6 0l6-6M373.5 1196.5l6 6m-6 0l6-6M373.5 1164.5l6 6m-6 0l6-6M373.5 1178.5l6 6m-6 0l6-6M373.5 1191.5l6 6m-6 0l6-6M374.5 1178.5l6 6m-6 0l6-6M374.5 1197.5l6 6m-6 0l6-6M374.5 1197.5l6 6m-6 0l6-6M374.5 1178.5l6 6m-6 0l6-6M374.5 1171.5l6 6m-6 0l6-6M374.5 1188.5l6 6m-6 0l6-6M374.5 1176.5l6 6m-6 0l6-6M375.5 1176.5l6 6m-6 0l6-6M375.5 1178.5l6 6m-6 0l6-6M375.5 1159.5l6 6m-6 0l6-6M375.5 1188.5l6 6m-6 0l6-6M375.5 1182.5l6 6m-6 0l6-6M375.5 1173.5l6 6m-6 0l6-6M376.5 1169.5l6 6m-6 0l6-6M376.5 1188.5l6 6m-6 0l6-6M376.5 1202.5l6 6m-6 0l6-6M376.5 1178.5l6 6m-6 0l6-6M376.5 1198.5l6 6m-6 0l6-6M376.5 1193.5l6 6m-6 0l6-6M377.5 1183.5l6 6m-6 0l6-6M377.5 1174.5l6 6m-6 0l6-6M377.5 1201.5l6 6m-6 0l6-6M377.5 1189.5l6 6m-6 0l6-6M377.5 1160.5l6 6m-6 0l6-6M377.5 1159.5l6 6m-6 0l6-6M378.5 1186.5l6 6m-6 0l6-6M378.5 1174.5l6 6m-6 0l6-6M378.5 1193.5l6 6m-6 0l6-6M378.5 1182.5l6 6m-6 0l6-6M378.5 1191.5l6 6m-6 0l6-6M378.5 1181.5l6 6m-6 0l6-6M379.5 1171.5l6 6m-6 0l6-6M379.5 1179.5l6 6m-6 0l6-6M379.5 1185.5l6 6m-6 0l6-6M379.5 1190.5l6 6m-6 0l6-6M379.5 1210.5l6 6m-6 0l6-6M379.5 1207.5l6 6m-6 0l6-6M379.5 1185.5l6 6m-6 0l6-6M380.5 1187.5l6 6m-6 0l6-6M380.5 1167.5l6 6m-6 0l6-6M380.5 1195.5l6 6m-6 0l6-6M380.5 1184.5l6 6m-6 0l6-6M380.5 1179.5l6 6m-6 0l6-6M380.5 1200.5l6 6m-6 0l6-6M381.5 1177.5l6 6m-6 0l6-6M381.5 1181.5l6 6m-6 0l6-6M381.5 1199.5l6 6m-6 0l6-6M381.5 1201.5l6 6m-6 0l6-6M381.5 1180.5l6 6m-6 0l6-6M381.5 1170.5l6 6m-6 0l6-6M382.5 1186.5l6 6m-6 0l6-6M382.5 1176.5l6 6m-6 0l6-6M382.5 1187.5l6 6m-6 0l6-6M382.5 1173.5l6 6m-6 0l6-6M382.5 1193.5l6 6m-6 0l6-6M382.5 1191.5l6 6m-6 0l6-6M383.5 1201.5l6 6m-6 0l6-6M383.5 1193.5l6 6m-6 0l6-6M383.5 1192.5l6 6m-6 0l6-6M383.5 1189.5l6 6m-6 0l6-6M383.5 1175.5l6 6m-6 0l6-6M383.5 1191.5l6 6m-6 0l6-6M384.5 1186.5l6 6m-6 0l6-6M384.5 1204.5l6 6m-6 0l6-6M384.5 1169.5l6 6m-6 0l6-6M384.5 1182.5l6 6m-6 0l6-6M384.5 1183.5l6 6m-6 0l6-6M384.5 1193.5l6 6m-6 0l6-6M384.5 1181.5l6 6m-6 0l6-6M385.5 1193.5l6 6m-6 0l6-6M385.5 1175.5l6 6m-6 0l6-6M385.5 1186.5l6 6m-6 0l6-6M385.5 1172.5l6 6m-6 0l6-6M385.5 1189.5l6 6m-6 0l6-6M385.5 1185.5l6 6m-6 0l6-6M386.5 1190.5l6 6m-6 0l6-6M386.5 1191.5l6 6m-6 0l6-6M386.5 1194.5l6 6m-6 0l6-6M386.5 1170.5l6 6m-6 0l6-6M386.5 1199.5l6 6m-6 0l6-6M386.5 1196.5l6 6m-6 0l6-6M387.5 1195.5l6 6m-6 0l6-6M387.5 1180.5l6 6m-6 0l6-6M387.5 1177.5l6 6m-6 0l6-6M387.5 1174.5l6 6m-6 0l6-6M387.5 1189.5l6 6m-6 0l6-6M387.5 1196.5l6 6m-6 0l6-6M388.5 1180.5l6 6m-6 0l6-6M388.5 1198.5l6 6m-6 0l6-6M388.5 1178.5l6 6m-6 0l6-6M388.5 1187.5l6 6m-6 0l6-6M388.5 1185.5l6 6m-6 0l6-6M388.5 1171.5l6 6m-6 0l6-6M388.5 1199.5l6 6m-6 0l6-6M389.5 1175.5l6 6m-6 0l6-6M389.5 1187.5l6 6m-6 0l6-6M389.5 1184.5l6 6m-6 0l6-6M389.5 1181.5l6 6m-6 0l6-6M389.5 1177.5l6 6m-6 0l6-6M389.5 1193.5l6 6m-6 0l6-6M390.5 1199.5l6 6m-6 0l6-6M390.5 1180.5l6 6m-6 0l6-6M390.5 1196.5l6 6m-6 0l6-6M390.5 1190.5l6 6m-6 0l6-6M390.5 1196.5l6 6m-6 0l6-6M390.5 1184.5l6 6m-6 0l6-6M391.5 1197.5l6 6m-6 0l6-6M391.5 1206.5l6 6m-6 0l6-6M391.5 1178.5l6 6m-6 0l6-6M391.5 1189.5l6 6m-6 0l6-6M391.5 1158.5l6 6m-6 0l6-6M391.5 1194.5l6 6m-6 0l6-6M392.5 1191.5l6 6m-6 0l6-6M392.5 1187.5l6 6m-6 0l6-6M392.5 1191.5l6 6m-6 0l6-6M392.5 1180.5l6 6m-6 0l6-6M392.5 1173.5l6 6m-6 0l6-6M392.5 1182.5l6 6m-6 0l6-6M393.5 1177.5l6 6m-6 0l6-6M393.5 1171.5l6 6m-6 0l6-6M393.5 1189.5l6 6m-6 0l6-6M393.5 1177.5l6 6m-6 0l6-6M393.5 1181.5l6 6m-6 0l6-6M393.5 1179.5l6 6m-6 0l6-6M393.5 1201.5l6 6m-6 0l6-6M394.5 1189.5l6 6m-6 0l6-6M394.5 1178.5l6 6m-6 0l6-6M394.5 1187.5l6 6m-6 0l6-6M394.5 1189.5l6 6m-6 0l6-6M394.5 1175.5l6 6m-6 0l6-6M394.5 1190.5l6 6m-6 0l6-6M395.5 1172.5l6 6m-6 0l6-6M395.5 1179.5l6 6m-6 0l6-6M395.5 1182.5l6 6m-6 0l6-6M395.5 1171.5l6 6m-6 0l6-6M395.5 1182.5l6 6m-6 0l6-6M395.5 1187.5l6 6m-6 0l6-6M396.5 1204.5l6 6m-6 0l6-6M396.5 1197.5l6 6m-6 0l6-6M396.5 1172.5l6 6m-6 0l6-6M396.5 1187.5l6 6m-6 0l6-6M396.5 1201.5l6 6m-6 0l6-6M396.5 1175.5l6 6m-6 0l6-6M397.5 1199.5l6 6m-6 0l6-6M397.5 1195.5l6 6m-6 0l6-6M397.5 1189.5l6 6m-6 0l6-6M397.5 1183.5l6 6m-6 0l6-6M397.5 1172.5l6 6m-6 0l6-6M397.5 1196.5l6 6m-6 0l6-6M398.5 1188.5l6 6m-6 0l6-6M398.5 1172.5l6 6m-6 0l6-6M398.5 1202.5l6 6m-6 0l6-6M398.5 1189.5l6 6m-6 0l6-6M398.5 1193.5l6 6m-6 0l6-6M398.5 1185.5l6 6m-6 0l6-6M398.5 1178.5l6 6m-6 0l6-6M399.5 1177.5l6 6m-6 0l6-6M399.5 1188.5l6 6m-6 0l6-6M399.5 1197.5l6 6m-6 0l6-6M399.5 1188.5l6 6m-6 0l6-6M399.5 1193.5l6 6m-6 0l6-6M399.5 1176.5l6 6m-6 0l6-6M400.5 1198.5l6 6m-6 0l6-6M400.5 1184.5l6 6m-6 0l6-6M400.5 1180.5l6 6m-6 0l6-6M400.5 1191.5l6 6m-6 0l6-6M400.5 1189.5l6 6m-6 0l6-6M400.5 1203.5l6 6m-6 0l6-6M401.5 1169.5l6 6m-6 0l6-6M401.5 1181.5l6 6m-6 0l6-6M401.5 1173.5l6 6m-6 0l6-6M401.5 1187.5l6 6m-6 0l6-6M401.5 1185.5l6 6m-6 0l6-6M401.5 1188.5l6 6m-6 0l6-6M402.5 1195.5l6 6m-6 0l6-6M402.5 1189.5l6 6m-6 0l6-6M402.5 1178.5l6 6m-6 0l6-6M402.5 1184.5l6 6m-6 0l6-6M402.5 1192.5l6 6m-6 0l6-6M402.5 1190.5l6 6m-6 0l6-6M402.5 1189.5l6 6m-6 0l6-6M403.5 1177.5l6 6m-6 0l6-6M403.5 1188.5l6 6m-6 0l6-6M403.5 1184.5l6 6m-6 0l6-6M403.5 1176.5l6 6m-6 0l6-6M403.5 1174.5l6 6m-6 0l6-6M403.5 1181.5l6 6m-6 0l6-6M404.5 1195.5l6 6m-6 0l6-6M404.5 1176.5l6 6m-6 0l6-6M404.5 1187.5l6 6m-6 0l6-6M404.5 1183.5l6 6m-6 0l6-6M404.5 1166.5l6 6m-6 0l6-6M404.5 1181.5l6 6m-6 0l6-6M405.5 1182.5l6 6m-6 0l6-6M405.5 1179.5l6 6m-6 0l6-6M405.5 1191.5l6 6m-6 0l6-6M405.5 1184.5l6 6m-6 0l6-6M405.5 1184.5l6 6m-6 0l6-6M405.5 1190.5l6 6m-6 0l6-6M406.5 1193.5l6 6m-6 0l6-6M406.5 1201.5l6 6m-6 0l6-6M406.5 1188.5l6 6m-6 0l6-6M406.5 1181.5l6 6m-6 0l6-6M406.5 1162.5l6 6m-6 0l6-6M406.5 1189.5l6 6m-6 0l6-6M407.5 1194.5l6 6m-6 0l6-6M407.5 1183.5l6 6m-6 0l6-6M407.5 1189.5l6 6m-6 0l6-6M407.5 1197.5l6 6m-6 0l6-6M407.5 1195.5l6 6m-6 0l6-6M407.5 1171.5l6 6m-6 0l6-6M407.5 1206.5l6 6m-6 0l6-6M408.5 1200.5l6 6m-6 0l6-6M408.5 1184.5l6 6m-6 0l6-6M408.5 1176.5l6 6m-6 0l6-6M408.5 1185.5l6 6m-6 0l6-6M408.5 1182.5l6 6m-6 0l6-6M408.5 1189.5l6 6m-6 0l6-6M409.5 1174.5l6 6m-6 0l6-6M409.5 1183.5l6 6m-6 0l6-6M409.5 1184.5l6 6m-6 0l6-6M409.5 1195.5l6 6m-6 0l6-6M409.5 1173.5l6 6m-6 0l6-6M409.5 1209.5l6 6m-6 0l6-6M410.5 1177.5l6 6m-6 0l6-6M410.5 1183.5l6 6m-6 0l6-6M410.5 1171.5l6 6m-6 0l6-6M410.5 1172.5l6 6m-6 0l6-6M410.5 1190.5l6 6m-6 0l6-6M410.5 1208.5l6 6m-6 0l6-6M411.5 1189.5l6 6m-6 0l6-6M411.5 1207.5l6 6m-6 0l6-6M411.5 1210.5l6 6m-6 0l6-6M411.5 1198.5l6 6m-6 0l6-6M411.5 1202.5l6 6m-6 0l6-6M411.5 1192.5l6 6m-6 0l6-6M411.5 1178.5l6 6m-6 0l6-6M412.5 1187.5l6 6m-6 0l6-6M412.5 1205.5l6 6m-6 0l6-6M412.5 1200.5l6 6m-6 0l6-6M412.5 1200.5l6 6m-6 0l6-6M412.5 1189.5l6 6m-6 0l6-6M412.5 1192.5l6 6m-6 0l6-6M413.5 1195.5l6 6m-6 0l6-6M413.5 1193.5l6 6m-6 0l6-6M413.5 1177.5l6 6m-6 0l6-6M413.5 1171.5l6 6m-6 0l6-6M413.5 1189.5l6 6m-6 0l6-6M413.5 1173.5l6 6m-6 0l6-6M414.5 1184.5l6 6m-6 0l6-6M414.5 1194.5l6 6m-6 0l6-6M414.5 1186.5l6 6m-6 0l6-6M414.5 1183.5l6 6m-6 0l6-6M414.5 1186.5l6 6m-6 0l6-6M414.5 1197.5l6 6m-6 0l6-6M415.5 1174.5l6 6m-6 0l6-6M415.5 1180.5l6 6m-6 0l6-6M415.5 1201.5l6 6m-6 0l6-6M415.5 1170.5l6 6m-6 0l6-6M415.5 1175.5l6 6m-6 0l6-6M415.5 1193.5l6 6m-6 0l6-6M416.5 1168.5l6 6m-6 0l6-6M416.5 1186.5l6 6m-6 0l6-6M416.5 1190.5l6 6m-6 0l6-6M416.5 1174.5l6 6m-6 0l6-6M416.5 1171.5l6 6m-6 0l6-6M416.5 1198.5l6 6m-6 0l6-6M416.5 1178.5l6 6m-6 0l6-6M417.5 1168.5l6 6m-6 0l6-6M417.5 1186.5l6 6m-6 0l6-6M417.5 1175.5l6 6m-6 0l6-6M417.5 1190.5l6 6m-6 0l6-6M417.5 1178.5l6 6m-6 0l6-6M417.5 1193.5l6 6m-6 0l6-6M418.5 1189.5l6 6m-6 0l6-6M418.5 1184.5l6 6m-6 0l6-6M418.5 1176.5l6 6m-6 0l6-6M418.5 1192.5l6 6m-6 0l6-6M418.5 1185.5l6 6m-6 0l6-6M418.5 1187.5l6 6m-6 0l6-6M419.5 1182.5l6 6m-6 0l6-6M419.5 1196.5l6 6m-6 0l6-6M419.5 1201.5l6 6m-6 0l6-6M419.5 1173.5l6 6m-6 0l6-6M419.5 1179.5l6 6m-6 0l6-6M419.5 1167.5l6 6m-6 0l6-6M420.5 1187.5l6 6m-6 0l6-6M420.5 1204.5l6 6m-6 0l6-6M420.5 1196.5l6 6m-6 0l6-6M420.5 1194.5l6 6m-6 0l6-6M420.5 1179.5l6 6m-6 0l6-6M420.5 1186.5l6 6m-6 0l6-6M421.5 1202.5l6 6m-6 0l6-6M421.5 1193.5l6 6m-6 0l6-6M421.5 1204.5l6 6m-6 0l6-6M421.5 1170.5l6 6m-6 0l6-6M421.5 1176.5l6 6m-6 0l6-6M421.5 1179.5l6 6m-6 0l6-6M421.5 1184.5l6 6m-6 0l6-6M422.5 1180.5l6 6m-6 0l6-6M422.5 1177.5l6 6m-6 0l6-6M422.5 1181.5l6 6m-6 0l6-6M422.5 1192.5l6 6m-6 0l6-6M422.5 1200.5l6 6m-6 0l6-6M422.5 1194.5l6 6m-6 0l6-6M423.5 1182.5l6 6m-6 0l6-6M423.5 1172.5l6 6m-6 0l6-6M423.5 1193.5l6 6m-6 0l6-6M423.5 1190.5l6 6m-6 0l6-6M423.5 1186.5l6 6m-6 0l6-6M423.5 1180.5l6 6m-6 0l6-6M424.5 1199.5l6 6m-6 0l6-6M424.5 1185.5l6 6m-6 0l6-6M424.5 1199.5l6 6m-6 0l6-6M424.5 1190.5l6 6m-6 0l6-6M424.5 1192.5l6 6m-6 0l6-6M424.5 1189.5l6 6m-6 0l6-6M425.5 1191.5l6 6m-6 0l6-6M425.5 1180.5l6 6m-6 0l6-6M425.5 1194.5l6 6m-6 0l6-6M425.5 1174.5l6 6m-6 0l6-6M425.5 1187.5l6 6m-6 0l6-6M425.5 1163.5l6 6m-6 0l6-6M425.5 1196.5l6 6m-6 0l6-6M426.5 1169.5l6 6m-6 0l6-6M426.5 1182.5l6 6m-6 0l6-6M426.5 1200.5l6 6m-6 0l6-6M426.5 1202.5l6 6m-6 0l6-6M426.5 1172.5l6 6m-6 0l6-6M426.5 1188.5l6 6m-6 0l6-6M427.5 1177.5l6 6m-6 0l6-6M427.5 1179.5l6 6m-6 0l6-6M427.5 1174.5l6 6m-6 0l6-6M427.5 1185.5l6 6m-6 0l6-6M427.5 1193.5l6 6m-6 0l6-6M427.5 1181.5l6 6m-6 0l6-6M428.5 1192.5l6 6m-6 0l6-6M428.5 1174.5l6 6m-6 0l6-6M428.5 1201.5l6 6m-6 0l6-6M428.5 1197.5l6 6m-6 0l6-6M428.5 1174.5l6 6m-6 0l6-6M428.5 1189.5l6 6m-6 0l6-6M429.5 1192.5l6 6m-6 0l6-6M429.5 1175.5l6 6m-6 0l6-6M429.5 1179.5l6 6m-6 0l6-6M429.5 1185.5l6 6m-6 0l6-6M429.5 1175.5l6 6m-6 0l6-6M429.5 1184.5l6 6m-6 0l6-6M430.5 1206.5l6 6m-6 0l6-6M430.5 1171.5l6 6m-6 0l6-6M430.5 1203.5l6 6m-6 0l6-6M430.5 1191.5l6 6m-6 0l6-6M430.5 1204.5l6 6m-6 0l6-6M430.5 1181.5l6 6m-6 0l6-6M430.5 1177.5l6 6m-6 0l6-6M431.5 1188.5l6 6m-6 0l6-6M431.5 1185.5l6 6m-6 0l6-6M431.5 1190.5l6 6m-6 0l6-6M431.5 1196.5l6 6m-6 0l6-6M431.5 1193.5l6 6m-6 0l6-6M431.5 1199.5l6 6m-6 0l6-6M432.5 1195.5l6 6m-6 0l6-6M432.5 1206.5l6 6m-6 0l6-6M432.5 1186.5l6 6m-6 0l6-6M432.5 1198.5l6 6m-6 0l6-6M432.5 1182.5l6 6m-6 0l6-6M432.5 1161.5l6 6m-6 0l6-6M433.5 1186.5l6 6m-6 0l6-6M433.5 1183.5l6 6m-6 0l6-6M433.5 1169.5l6 6m-6 0l6-6M433.5 1173.5l6 6m-6 0l6-6M433.5 1195.5l6 6m-6 0l6-6M433.5 1171.5l6 6m-6 0l6-6M434.5 1188.5l6 6m-6 0l6-6M434.5 1174.5l6 6m-6 0l6-6M434.5 1182.5l6 6m-6 0l6-6M434.5 1191.5l6 6m-6 0l6-6M434.5 1193.5l6 6m-6 0l6-6M434.5 1193.5l6 6m-6 0l6-6M435.5 1168.5l6 6m-6 0l6-6M435.5 1197.5l6 6m-6 0l6-6M435.5 1206.5l6 6m-6 0l6-6M435.5 1176.5l6 6m-6 0l6-6M435.5 1165.5l6 6m-6 0l6-6M435.5 1181.5l6 6m-6 0l6-6M435.5 1185.5l6 6m-6 0l6-6M436.5 1190.5l6 6m-6 0l6-6M436.5 1173.5l6 6m-6 0l6-6M436.5 1193.5l6 6m-6 0l6-6M436.5 1191.5l6 6m-6 0l6-6M436.5 1165.5l6 6m-6 0l6-6M436.5 1197.5l6 6m-6 0l6-6M437.5 1200.5l6 6m-6 0l6-6M437.5 1181.5l6 6m-6 0l6-6M437.5 1191.5l6 6m-6 0l6-6M437.5 1189.5l6 6m-6 0l6-6M437.5 1175.5l6 6m-6 0l6-6M437.5 1184.5l6 6m-6 0l6-6M438.5 1161.5l6 6m-6 0l6-6M438.5 1166.5l6 6m-6 0l6-6M438.5 1198.5l6 6m-6 0l6-6M438.5 1179.5l6 6m-6 0l6-6M438.5 1192.5l6 6m-6 0l6-6M438.5 1183.5l6 6m-6 0l6-6M439.5 1190.5l6 6m-6 0l6-6M439.5 1205.5l6 6m-6 0l6-6M439.5 1190.5l6 6m-6 0l6-6M439.5 1173.5l6 6m-6 0l6-6M439.5 1182.5l6 6m-6 0l6-6M439.5 1190.5l6 6m-6 0l6-6M439.5 1182.5l6 6m-6 0l6-6M440.5 1172.5l6 6m-6 0l6-6M440.5 1169.5l6 6m-6 0l6-6M440.5 1187.5l6 6m-6 0l6-6M440.5 1186.5l6 6m-6 0l6-6M440.5 1193.5l6 6m-6 0l6-6M440.5 1197.5l6 6m-6 0l6-6M441.5 1160.5l6 6m-6 0l6-6M441.5 1181.5l6 6m-6 0l6-6M441.5 1176.5l6 6m-6 0l6-6M441.5 1186.5l6 6m-6 0l6-6M441.5 1181.5l6 6m-6 0l6-6M441.5 1176.5l6 6m-6 0l6-6M442.5 1188.5l6 6m-6 0l6-6M442.5 1174.5l6 6m-6 0l6-6M442.5 1171.5l6 6m-6 0l6-6M442.5 1190.5l6 6m-6 0l6-6M442.5 1186.5l6 6m-6 0l6-6M442.5 1185.5l6 6m-6 0l6-6M443.5 1162.5l6 6m-6 0l6-6M443.5 1187.5l6 6m-6 0l6-6M443.5 1180.5l6 6m-6 0l6-6M443.5 1164.5l6 6m-6 0l6-6M443.5 1183.5l6 6m-6 0l6-6M443.5 1182.5l6 6m-6 0l6-6M444.5 1176.5l6 6m-6 0l6-6M444.5 1181.5l6 6m-6 0l6-6M444.5 1208.5l6 6m-6 0l6-6M444.5 1197.5l6 6m-6 0l6-6M444.5 1175.5l6 6m-6 0l6-6M444.5 1188.5l6 6m-6 0l6-6M444.5 1214.5l6 6m-6 0l6-6M445.5 1180.5l6 6m-6 0l6-6M445.5 1190.5l6 6m-6 0l6-6M445.5 1188.5l6 6m-6 0l6-6M445.5 1154.5l6 6m-6 0l6-6M445.5 1201.5l6 6m-6 0l6-6M445.5 1186.5l6 6m-6 0l6-6M446.5 1193.5l6 6m-6 0l6-6M446.5 1199.5l6 6m-6 0l6-6M446.5 1190.5l6 6m-6 0l6-6M446.5 1170.5l6 6m-6 0l6-6M446.5 1179.5l6 6m-6 0l6-6M446.5 1178.5l6 6m-6 0l6-6M447.5 1168.5l6 6m-6 0l6-6M447.5 1184.5l6 6m-6 0l6-6M447.5 1188.5l6 6m-6 0l6-6M447.5 1194.5l6 6m-6 0l6-6M447.5 1207.5l6 6m-6 0l6-6M447.5 1191.5l6 6m-6 0l6-6M448.5 1172.5l6 6m-6 0l6-6M448.5 1182.5l6 6m-6 0l6-6M448.5 1170.5l6 6m-6 0l6-6M448.5 1194.5l6 6m-6 0l6-6M448.5 1202.5l6 6m-6 0l6-6M448.5 1200.5l6 6m-6 0l6-6M448.5 1180.5l6 6m-6 0l6-6M449.5 1194.5l6 6m-6 0l6-6M449.5 1166.5l6 6m-6 0l6-6M449.5 1173.5l6 6m-6 0l6-6M449.5 1181.5l6 6m-6 0l6-6M449.5 1151.5l6 6m-6 0l6-6M449.5 1155.5l6 6m-6 0l6-6M450.5 1216.5l6 6m-6 0l6-6M450.5 1185.5l6 6m-6 0l6-6M450.5 1188.5l6 6m-6 0l6-6M450.5 1175.5l6 6m-6 0l6-6M450.5 1181.5l6 6m-6 0l6-6M450.5 1208.5l6 6m-6 0l6-6M451.5 1177.5l6 6m-6 0l6-6M451.5 1197.5l6 6m-6 0l6-6M451.5 1186.5l6 6m-6 0l6-6M451.5 1174.5l6 6m-6 0l6-6M451.5 1197.5l6 6m-6 0l6-6M451.5 1182.5l6 6m-6 0l6-6M452.5 1181.5l6 6m-6 0l6-6M452.5 1181.5l6 6m-6 0l6-6M452.5 1175.5l6 6m-6 0l6-6M452.5 1206.5l6 6m-6 0l6-6M452.5 1185.5l6 6m-6 0l6-6M452.5 1212.5l6 6m-6 0l6-6M453.5 1180.5l6 6m-6 0l6-6M453.5 1152.5l6 6m-6 0l6-6M453.5 1181.5l6 6m-6 0l6-6M453.5 1192.5l6 6m-6 0l6-6M453.5 1175.5l6 6m-6 0l6-6M453.5 1192.5l6 6m-6 0l6-6M453.5 1207.5l6 6m-6 0l6-6M454.5 1179.5l6 6m-6 0l6-6M454.5 1182.5l6 6m-6 0l6-6M454.5 1190.5l6 6m-6 0l6-6M454.5 1196.5l6 6m-6 0l6-6M454.5 1190.5l6 6m-6 0l6-6M454.5 1185.5l6 6m-6 0l6-6M455.5 1184.5l6 6m-6 0l6-6M455.5 1207.5l6 6m-6 0l6-6M455.5 1186.5l6 6m-6 0l6-6M455.5 1186.5l6 6m-6 0l6-6M455.5 1183.5l6 6m-6 0l6-6M455.5 1187.5l6 6m-6 0l6-6M456.5 1156.5l6 6m-6 0l6-6M456.5 1167.5l6 6m-6 0l6-6M456.5 1183.5l6 6m-6 0l6-6M456.5 1180.5l6 6m-6 0l6-6M456.5 1196.5l6 6m-6 0l6-6M456.5 1184.5l6 6m-6 0l6-6M457.5 1191.5l6 6m-6 0l6-6M457.5 1195.5l6 6m-6 0l6-6M457.5 1187.5l6 6m-6 0l6-6M457.5 1178.5l6 6m-6 0l6-6M457.5 1160.5l6 6m-6 0l6-6M457.5 1193.5l6 6m-6 0l6-6M458.5 1179.5l6 6m-6 0l6-6M458.5 1175.5l6 6m-6 0l6-6M458.5 1186.5l6 6m-6 0l6-6M458.5 1172.5l6 6m-6 0l6-6M458.5 1175.5l6 6m-6 0l6-6M458.5 1177.5l6 6m-6 0l6-6M458.5 1161.5l6 6m-6 0l6-6M459.5 1177.5l6 6m-6 0l6-6M459.5 1181.5l6 6m-6 0l6-6M459.5 1192.5l6 6m-6 0l6-6M459.5 1185.5l6 6m-6 0l6-6M459.5 1203.5l6 6m-6 0l6-6M459.5 1197.5l6 6m-6 0l6-6M460.5 1180.5l6 6m-6 0l6-6M460.5 1188.5l6 6m-6 0l6-6M460.5 1195.5l6 6m-6 0l6-6M460.5 1180.5l6 6m-6 0l6-6M460.5 1198.5l6 6m-6 0l6-6M460.5 1168.5l6 6m-6 0l6-6M461.5 1188.5l6 6m-6 0l6-6M461.5 1186.5l6 6m-6 0l6-6M461.5 1169.5l6 6m-6 0l6-6M461.5 1182.5l6 6m-6 0l6-6M461.5 1159.5l6 6m-6 0l6-6M461.5 1200.5l6 6m-6 0l6-6M462.5 1176.5l6 6m-6 0l6-6M462.5 1185.5l6 6m-6 0l6-6M462.5 1195.5l6 6m-6 0l6-6M462.5 1182.5l6 6m-6 0l6-6M462.5 1185.5l6 6m-6 0l6-6M462.5 1187.5l6 6m-6 0l6-6M462.5 1180.5l6 6m-6 0l6-6M463.5 1173.5l6 6m-6 0l6-6M463.5 1183.5l6 6m-6 0l6-6M463.5 1208.5l6 6m-6 0l6-6M463.5 1172.5l6 6m-6 0l6-6M463.5 1187.5l6 6m-6 0l6-6M463.5 1187.5l6 6m-6 0l6-6M464.5 1178.5l6 6m-6 0l6-6M464.5 1178.5l6 6m-6 0l6-6M464.5 1183.5l6 6m-6 0l6-6M464.5 1185.5l6 6m-6 0l6-6M464.5 1214.5l6 6m-6 0l6-6M464.5 1198.5l6 6m-6 0l6-6M465.5 1197.5l6 6m-6 0l6-6M465.5 1185.5l6 6m-6 0l6-6M465.5 1192.5l6 6m-6 0l6-6M465.5 1166.5l6 6m-6 0l6-6M465.5 1190.5l6 6m-6 0l6-6M465.5 1185.5l6 6m-6 0l6-6M466.5 1177.5l6 6m-6 0l6-6M466.5 1184.5l6 6m-6 0l6-6M466.5 1185.5l6 6m-6 0l6-6M466.5 1186.5l6 6m-6 0l6-6M466.5 1188.5l6 6m-6 0l6-6M466.5 1164.5l6 6m-6 0l6-6M467.5 1189.5l6 6m-6 0l6-6M467.5 1159.5l6 6m-6 0l6-6M467.5 1185.5l6 6m-6 0l6-6M467.5 1177.5l6 6m-6 0l6-6M467.5 1189.5l6 6m-6 0l6-6M467.5 1185.5l6 6m-6 0l6-6M467.5 1198.5l6 6m-6 0l6-6M468.5 1185.5l6 6m-6 0l6-6M468.5 1186.5l6 6m-6 0l6-6M468.5 1175.5l6 6m-6 0l6-6M468.5 1178.5l6 6m-6 0l6-6M468.5 1162.5l6 6m-6 0l6-6M468.5 1184.5l6 6m-6 0l6-6M469.5 1170.5l6 6m-6 0l6-6M469.5 1190.5l6 6m-6 0l6-6M469.5 1187.5l6 6m-6 0l6-6M469.5 1202.5l6 6m-6 0l6-6M469.5 1190.5l6 6m-6 0l6-6M469.5 1190.5l6 6m-6 0l6-6M470.5 1202.5l6 6m-6 0l6-6M470.5 1187.5l6 6m-6 0l6-6M470.5 1199.5l6 6m-6 0l6-6M470.5 1198.5l6 6m-6 0l6-6M470.5 1203.5l6 6m-6 0l6-6M470.5 1189.5l6 6m-6 0l6-6M471.5 1193.5l6 6m-6 0l6-6M471.5 1180.5l6 6m-6 0l6-6M471.5 1198.5l6 6m-6 0l6-6M471.5 1171.5l6 6m-6 0l6-6M471.5 1178.5l6 6m-6 0l6-6M471.5 1185.5l6 6m-6 0l6-6M471.5 1185.5l6 6m-6 0l6-6M472.5 1189.5l6 6m-6 0l6-6M472.5 1189.5l6 6m-6 0l6-6M472.5 1187.5l6 6m-6 0l6-6M472.5 1184.5l6 6m-6 0l6-6M472.5 1196.5l6 6m-6 0l6-6M472.5 1194.5l6 6m-6 0l6-6M473.5 1185.5l6 6m-6 0l6-6M473.5 1176.5l6 6m-6 0l6-6M473.5 1190.5l6 6m-6 0l6-6M473.5 1194.5l6 6m-6 0l6-6M473.5 1190.5l6 6m-6 0l6-6M473.5 1209.5l6 6m-6 0l6-6M474.5 1191.5l6 6m-6 0l6-6M474.5 1205.5l6 6m-6 0l6-6M474.5 1171.5l6 6m-6 0l6-6M474.5 1185.5l6 6m-6 0l6-6M474.5 1173.5l6 6m-6 0l6-6M474.5 1174.5l6 6m-6 0l6-6M475.5 1182.5l6 6m-6 0l6-6M475.5 1188.5l6 6m-6 0l6-6M475.5 1201.5l6 6m-6 0l6-6M475.5 1167.5l6 6m-6 0l6-6M475.5 1190.5l6 6m-6 0l6-6M475.5 1194.5l6 6m-6 0l6-6M476.5 1194.5l6 6m-6 0l6-6M476.5 1166.5l6 6m-6 0l6-6M476.5 1184.5l6 6m-6 0l6-6M476.5 1199.5l6 6m-6 0l6-6M476.5 1181.5l6 6m-6 0l6-6M476.5 1188.5l6 6m-6 0l6-6M476.5 1191.5l6 6m-6 0l6-6M477.5 1192.5l6 6m-6 0l6-6M477.5 1164.5l6 6m-6 0l6-6M477.5 1182.5l6 6m-6 0l6-6M477.5 1179.5l6 6m-6 0l6-6M477.5 1184.5l6 6m-6 0l6-6M477.5 1194.5l6 6m-6 0l6-6M478.5 1190.5l6 6m-6 0l6-6M478.5 1191.5l6 6m-6 0l6-6M478.5 1189.5l6 6m-6 0l6-6M478.5 1190.5l6 6m-6 0l6-6M478.5 1186.5l6 6m-6 0l6-6M478.5 1201.5l6 6m-6 0l6-6M479.5 1194.5l6 6m-6 0l6-6M479.5 1176.5l6 6m-6 0l6-6M479.5 1183.5l6 6m-6 0l6-6M479.5 1173.5l6 6m-6 0l6-6M479.5 1191.5l6 6m-6 0l6-6M479.5 1187.5l6 6m-6 0l6-6M480.5 1172.5l6 6m-6 0l6-6M480.5 1212.5l6 6m-6 0l6-6M480.5 1178.5l6 6m-6 0l6-6M480.5 1175.5l6 6m-6 0l6-6M480.5 1180.5l6 6m-6 0l6-6M480.5 1188.5l6 6m-6 0l6-6M481.5 1201.5l6 6m-6 0l6-6M481.5 1181.5l6 6m-6 0l6-6M481.5 1169.5l6 6m-6 0l6-6M481.5 1188.5l6 6m-6 0l6-6M481.5 1177.5l6 6m-6 0l6-6M481.5 1195.5l6 6m-6 0l6-6M481.5 1181.5l6 6m-6 0l6-6M482.5 1173.5l6 6m-6 0l6-6M482.5 1187.5l6 6m-6 0l6-6M482.5 1181.5l6 6m-6 0l6-6M482.5 1185.5l6 6m-6 0l6-6M482.5 1178.5l6 6m-6 0l6-6M482.5 1195.5l6 6m-6 0l6-6M483.5 1186.5l6 6m-6 0l6-6M483.5 1186.5l6 6m-6 0l6-6M483.5 1183.5l6 6m-6 0l6-6M483.5 1194.5l6 6m-6 0l6-6M483.5 1187.5l6 6m-6 0l6-6M483.5 1190.5l6 6m-6 0l6-6M484.5 1190.5l6 6m-6 0l6-6M484.5 1165.5l6 6m-6 0l6-6M484.5 1202.5l6 6m-6 0l6-6M484.5 1199.5l6 6m-6 0l6-6M484.5 1182.5l6 6m-6 0l6-6M484.5 1184.5l6 6m-6 0l6-6M485.5 1187.5l6 6m-6 0l6-6M485.5 1182.5l6 6m-6 0l6-6M485.5 1183.5l6 6m-6 0l6-6M485.5 1180.5l6 6m-6 0l6-6M485.5 1179.5l6 6m-6 0l6-6M485.5 1182.5l6 6m-6 0l6-6M485.5 1206.5l6 6m-6 0l6-6M486.5 1157.5l6 6m-6 0l6-6M486.5 1187.5l6 6m-6 0l6-6M486.5 1186.5l6 6m-6 0l6-6M486.5 1181.5l6 6m-6 0l6-6M486.5 1181.5l6 6m-6 0l6-6M486.5 1168.5l6 6m-6 0l6-6M487.5 1174.5l6 6m-6 0l6-6M487.5 1199.5l6 6m-6 0l6-6M487.5 1178.5l6 6m-6 0l6-6M487.5 1186.5l6 6m-6 0l6-6M487.5 1191.5l6 6m-6 0l6-6M487.5 1187.5l6 6m-6 0l6-6M488.5 1189.5l6 6m-6 0l6-6M488.5 1181.5l6 6m-6 0l6-6M488.5 1191.5l6 6m-6 0l6-6M488.5 1190.5l6 6m-6 0l6-6M488.5 1172.5l6 6m-6 0l6-6M488.5 1184.5l6 6m-6 0l6-6M489.5 1182.5l6 6m-6 0l6-6M489.5 1183.5l6 6m-6 0l6-6M489.5 1185.5l6 6m-6 0l6-6M489.5 1190.5l6 6m-6 0l6-6M489.5 1175.5l6 6m-6 0l6-6M489.5 1188.5l6 6m-6 0l6-6M490.5 1177.5l6 6m-6 0l6-6M490.5 1183.5l6 6m-6 0l6-6M490.5 1209.5l6 6m-6 0l6-6M490.5 1172.5l6 6m-6 0l6-6M490.5 1178.5l6 6m-6 0l6-6M490.5 1187.5l6 6m-6 0l6-6M490.5 1192.5l6 6m-6 0l6-6M491.5 1194.5l6 6m-6 0l6-6M491.5 1181.5l6 6m-6 0l6-6M491.5 1186.5l6 6m-6 0l6-6M491.5 1186.5l6 6m-6 0l6-6M491.5 1179.5l6 6m-6 0l6-6M491.5 1198.5l6 6m-6 0l6-6M492.5 1186.5l6 6m-6 0l6-6M492.5 1166.5l6 6m-6 0l6-6M492.5 1195.5l6 6m-6 0l6-6M492.5 1185.5l6 6m-6 0l6-6M492.5 1188.5l6 6m-6 0l6-6M492.5 1166.5l6 6m-6 0l6-6M493.5 1201.5l6 6m-6 0l6-6M493.5 1196.5l6 6m-6 0l6-6M493.5 1187.5l6 6m-6 0l6-6M493.5 1176.5l6 6m-6 0l6-6M493.5 1180.5l6 6m-6 0l6-6M493.5 1183.5l6 6m-6 0l6-6M494.5 1181.5l6 6m-6 0l6-6M494.5 1184.5l6 6m-6 0l6-6M494.5 1198.5l6 6m-6 0l6-6M494.5 1188.5l6 6m-6 0l6-6M494.5 1181.5l6 6m-6 0l6-6M494.5 1156.5l6 6m-6 0l6-6M495.5 1190.5l6 6m-6 0l6-6M495.5 1186.5l6 6m-6 0l6-6M495.5 1190.5l6 6m-6 0l6-6M495.5 1183.5l6 6m-6 0l6-6M495.5 1192.5l6 6m-6 0l6-6M495.5 1184.5l6 6m-6 0l6-6M495.5 1197.5l6 6m-6 0l6-6M496.5 1195.5l6 6m-6 0l6-6M496.5 1184.5l6 6m-6 0l6-6M496.5 1184.5l6 6m-6 0l6-6M496.5 1186.5l6 6m-6 0l6-6M496.5 1174.5l6 6m-6 0l6-6M496.5 1183.5l6 6m-6 0l6-6M497.5 1182.5l6 6m-6 0l6-6M497.5 1188.5l6 6m-6 0l6-6M497.5 1174.5l6 6m-6 0l6-6M497.5 1179.5l6 6m-6 0l6-6M497.5 1182.5l6 6m-6 0l6-6M497.5 1179.5l6 6m-6 0l6-6M498.5 1192.5l6 6m-6 0l6-6M498.5 1181.5l6 6m-6 0l6-6M498.5 1181.5l6 6m-6 0l6-6M498.5 1171.5l6 6m-6 0l6-6M498.5 1187.5l6 6m-6 0l6-6M498.5 1180.5l6 6m-6 0l6-6M499.5 1196.5l6 6m-6 0l6-6M499.5 1180.5l6 6m-6 0l6-6M499.5 1180.5l6 6m-6 0l6-6M499.5 1179.5l6 6m-6 0l6-6M499.5 1184.5l6 6m-6 0l6-6M499.5 1181.5l6 6m-6 0l6-6M499.5 1190.5l6 6m-6 0l6-6M500.5 1191.5l6 6m-6 0l6-6M500.5 1183.5l6 6m-6 0l6-6M500.5 1202.5l6 6m-6 0l6-6M500.5 1188.5l6 6m-6 0l6-6M500.5 1173.5l6 6m-6 0l6-6M500.5 1190.5l6 6m-6 0l6-6M501.5 1188.5l6 6m-6 0l6-6M501.5 1173.5l6 6m-6 0l6-6M501.5 1186.5l6 6m-6 0l6-6M501.5 1191.5l6 6m-6 0l6-6M501.5 1168.5l6 6m-6 0l6-6M501.5 1177.5l6 6m-6 0l6-6M502.5 1175.5l6 6m-6 0l6-6M502.5 1187.5l6 6m-6 0l6-6M502.5 1177.5l6 6m-6 0l6-6M502.5 1182.5l6 6m-6 0l6-6M502.5 1189.5l6 6m-6 0l6-6M502.5 1166.5l6 6m-6 0l6-6M503.5 1188.5l6 6m-6 0l6-6M503.5 1198.5l6 6m-6 0l6-6M503.5 1187.5l6 6m-6 0l6-6M503.5 1183.5l6 6m-6 0l6-6M503.5 1185.5l6 6m-6 0l6-6M503.5 1183.5l6 6m-6 0l6-6M504.5 1184.5l6 6m-6 0l6-6M504.5 1180.5l6 6m-6 0l6-6M504.5 1184.5l6 6m-6 0l6-6M504.5 1193.5l6 6m-6 0l6-6M504.5 1176.5l6 6m-6 0l6-6M504.5 1170.5l6 6m-6 0l6-6M504.5 1188.5l6 6m-6 0l6-6M505.5 1164.5l6 6m-6 0l6-6M505.5 1195.5l6 6m-6 0l6-6M505.5 1189.5l6 6m-6 0l6-6M505.5 1188.5l6 6m-6 0l6-6M505.5 1182.5l6 6m-6 0l6-6M505.5 1183.5l6 6m-6 0l6-6M506.5 1189.5l6 6m-6 0l6-6M506.5 1179.5l6 6m-6 0l6-6M506.5 1175.5l6 6m-6 0l6-6M506.5 1199.5l6 6m-6 0l6-6M506.5 1192.5l6 6m-6 0l6-6M506.5 1182.5l6 6m-6 0l6-6M507.5 1185.5l6 6m-6 0l6-6M507.5 1195.5l6 6m-6 0l6-6M507.5 1184.5l6 6m-6 0l6-6M507.5 1180.5l6 6m-6 0l6-6M507.5 1195.5l6 6m-6 0l6-6M507.5 1184.5l6 6m-6 0l6-6M508.5 1193.5l6 6m-6 0l6-6M508.5 1190.5l6 6m-6 0l6-6M508.5 1193.5l6 6m-6 0l6-6M508.5 1182.5l6 6m-6 0l6-6M508.5 1206.5l6 6m-6 0l6-6M508.5 1184.5l6 6m-6 0l6-6M508.5 1188.5l6 6m-6 0l6-6M509.5 1185.5l6 6m-6 0l6-6M509.5 1183.5l6 6m-6 0l6-6M509.5 1173.5l6 6m-6 0l6-6M509.5 1186.5l6 6m-6 0l6-6M509.5 1184.5l6 6m-6 0l6-6M509.5 1181.5l6 6m-6 0l6-6M510.5 1176.5l6 6m-6 0l6-6M510.5 1181.5l6 6m-6 0l6-6M510.5 1178.5l6 6m-6 0l6-6M510.5 1192.5l6 6m-6 0l6-6M510.5 1210.5l6 6m-6 0l6-6M510.5 1191.5l6 6m-6 0l6-6M511.5 1193.5l6 6m-6 0l6-6M511.5 1198.5l6 6m-6 0l6-6M511.5 1179.5l6 6m-6 0l6-6M511.5 1176.5l6 6m-6 0l6-6M511.5 1190.5l6 6m-6 0l6-6M511.5 1177.5l6 6m-6 0l6-6M512.5 1185.5l6 6m-6 0l6-6M512.5 1193.5l6 6m-6 0l6-6M512.5 1193.5l6 6m-6 0l6-6M512.5 1177.5l6 6m-6 0l6-6M512.5 1187.5l6 6m-6 0l6-6M512.5 1183.5l6 6m-6 0l6-6M513.5 1176.5l6 6m-6 0l6-6M513.5 1183.5l6 6m-6 0l6-6M513.5 1182.5l6 6m-6 0l6-6M513.5 1179.5l6 6m-6 0l6-6M513.5 1191.5l6 6m-6 0l6-6M513.5 1184.5l6 6m-6 0l6-6M513.5 1183.5l6 6m-6 0l6-6M514.5 1187.5l6 6m-6 0l6-6M514.5 1186.5l6 6m-6 0l6-6M514.5 1178.5l6 6m-6 0l6-6M514.5 1199.5l6 6m-6 0l6-6M514.5 1190.5l6 6m-6 0l6-6M514.5 1196.5l6 6m-6 0l6-6M515.5 1182.5l6 6m-6 0l6-6M515.5 1178.5l6 6m-6 0l6-6M515.5 1179.5l6 6m-6 0l6-6M515.5 1185.5l6 6m-6 0l6-6M515.5 1186.5l6 6m-6 0l6-6M515.5 1183.5l6 6m-6 0l6-6M516.5 1183.5l6 6m-6 0l6-6M516.5 1179.5l6 6m-6 0l6-6M516.5 1192.5l6 6m-6 0l6-6M516.5 1183.5l6 6m-6 0l6-6M516.5 1183.5l6 6m-6 0l6-6M516.5 1192.5l6 6m-6 0l6-6M517.5 1196.5l6 6m-6 0l6-6M517.5 1190.5l6 6m-6 0l6-6M517.5 1167.5l6 6m-6 0l6-6M517.5 1191.5l6 6m-6 0l6-6M517.5 1173.5l6 6m-6 0l6-6M517.5 1188.5l6 6m-6 0l6-6M518.5 1191.5l6 6m-6 0l6-6M518.5 1186.5l6 6m-6 0l6-6M518.5 1179.5l6 6m-6 0l6-6M518.5 1191.5l6 6m-6 0l6-6M518.5 1188.5l6 6m-6 0l6-6M518.5 1180.5l6 6m-6 0l6-6M518.5 1191.5l6 6m-6 0l6-6M519.5 1179.5l6 6m-6 0l6-6M519.5 1179.5l6 6m-6 0l6-6M519.5 1183.5l6 6m-6 0l6-6M519.5 1194.5l6 6m-6 0l6-6M519.5 1190.5l6 6m-6 0l6-6M519.5 1192.5l6 6m-6 0l6-6M520.5 1202.5l6 6m-6 0l6-6M520.5 1191.5l6 6m-6 0l6-6M520.5 1196.5l6 6m-6 0l6-6M520.5 1188.5l6 6m-6 0l6-6M520.5 1174.5l6 6m-6 0l6-6M520.5 1191.5l6 6m-6 0l6-6M521.5 1177.5l6 6m-6 0l6-6M521.5 1190.5l6 6m-6 0l6-6M521.5 1186.5l6 6m-6 0l6-6M521.5 1189.5l6 6m-6 0l6-6M521.5 1185.5l6 6m-6 0l6-6M521.5 1183.5l6 6m-6 0l6-6M522.5 1191.5l6 6m-6 0l6-6M522.5 1182.5l6 6m-6 0l6-6M522.5 1179.5l6 6m-6 0l6-6M522.5 1184.5l6 6m-6 0l6-6M522.5 1183.5l6 6m-6 0l6-6M522.5 1179.5l6 6m-6 0l6-6M522.5 1183.5l6 6m-6 0l6-6M523.5 1174.5l6 6m-6 0l6-6M523.5 1188.5l6 6m-6 0l6-6M523.5 1188.5l6 6m-6 0l6-6M523.5 1181.5l6 6m-6 0l6-6M523.5 1179.5l6 6m-6 0l6-6M523.5 1185.5l6 6m-6 0l6-6M524.5 1190.5l6 6m-6 0l6-6M524.5 1180.5l6 6m-6 0l6-6M524.5 1182.5l6 6m-6 0l6-6M524.5 1176.5l6 6m-6 0l6-6M524.5 1190.5l6 6m-6 0l6-6M524.5 1191.5l6 6m-6 0l6-6M525.5 1189.5l6 6m-6 0l6-6M525.5 1183.5l6 6m-6 0l6-6M525.5 1182.5l6 6m-6 0l6-6M525.5 1180.5l6 6m-6 0l6-6M525.5 1190.5l6 6m-6 0l6-6M525.5 1186.5l6 6m-6 0l6-6M526.5 1189.5l6 6m-6 0l6-6M526.5 1204.5l6 6m-6 0l6-6M526.5 1180.5l6 6m-6 0l6-6M526.5 1186.5l6 6m-6 0l6-6M526.5 1184.5l6 6m-6 0l6-6M526.5 1192.5l6 6m-6 0l6-6M527.5 1177.5l6 6m-6 0l6-6M527.5 1181.5l6 6m-6 0l6-6M527.5 1187.5l6 6m-6 0l6-6M527.5 1196.5l6 6m-6 0l6-6M527.5 1196.5l6 6m-6 0l6-6M527.5 1182.5l6 6m-6 0l6-6M527.5 1195.5l6 6m-6 0l6-6M528.5 1188.5l6 6m-6 0l6-6M528.5 1196.5l6 6m-6 0l6-6M528.5 1193.5l6 6m-6 0l6-6M528.5 1189.5l6 6m-6 0l6-6M528.5 1186.5l6 6m-6 0l6-6M528.5 1190.5l6 6m-6 0l6-6M529.5 1186.5l6 6m-6 0l6-6M529.5 1196.5l6 6m-6 0l6-6M529.5 1183.5l6 6m-6 0l6-6M529.5 1176.5l6 6m-6 0l6-6M529.5 1192.5l6 6m-6 0l6-6M529.5 1182.5l6 6m-6 0l6-6M530.5 1183.5l6 6m-6 0l6-6M530.5 1185.5l6 6m-6 0l6-6M530.5 1181.5l6 6m-6 0l6-6M530.5 1190.5l6 6m-6 0l6-6M530.5 1189.5l6 6m-6 0l6-6M530.5 1179.5l6 6m-6 0l6-6M531.5 1186.5l6 6m-6 0l6-6M531.5 1187.5l6 6m-6 0l6-6M531.5 1184.5l6 6m-6 0l6-6M531.5 1184.5l6 6m-6 0l6-6M531.5 1179.5l6 6m-6 0l6-6M531.5 1176.5l6 6m-6 0l6-6M532.5 1184.5l6 6m-6 0l6-6M532.5 1185.5l6 6m-6 0l6-6M532.5 1186.5l6 6m-6 0l6-6M532.5 1183.5l6 6m-6 0l6-6M532.5 1187.5l6 6m-6 0l6-6M532.5 1193.5l6 6m-6 0l6-6M532.5 1187.5l6 6m-6 0l6-6M533.5 1197.5l6 6m-6 0l6-6M533.5 1176.5l6 6m-6 0l6-6M533.5 1177.5l6 6m-6 0l6-6M533.5 1182.5l6 6m-6 0l6-6M533.5 1178.5l6 6m-6 0l6-6M533.5 1186.5l6 6m-6 0l6-6M534.5 1174.5l6 6m-6 0l6-6M534.5 1204.5l6 6m-6 0l6-6M534.5 1181.5l6 6m-6 0l6-6M534.5 1178.5l6 6m-6 0l6-6M534.5 1171.5l6 6m-6 0l6-6M534.5 1174.5l6 6m-6 0l6-6M535.5 1194.5l6 6m-6 0l6-6M535.5 1186.5l6 6m-6 0l6-6M535.5 1184.5l6 6m-6 0l6-6M535.5 1197.5l6 6m-6 0l6-6M535.5 1194.5l6 6m-6 0l6-6M535.5 1186.5l6 6m-6 0l6-6M536.5 1189.5l6 6m-6 0l6-6M536.5 1176.5l6 6m-6 0l6-6M536.5 1191.5l6 6m-6 0l6-6M536.5 1175.5l6 6m-6 0l6-6M536.5 1185.5l6 6m-6 0l6-6M536.5 1184.5l6 6m-6 0l6-6M536.5 1181.5l6 6m-6 0l6-6M537.5 1186.5l6 6m-6 0l6-6M537.5 1175.5l6 6m-6 0l6-6M537.5 1193.5l6 6m-6 0l6-6M537.5 1190.5l6 6m-6 0l6-6M537.5 1190.5l6 6m-6 0l6-6M537.5 1197.5l6 6m-6 0l6-6M538.5 1188.5l6 6m-6 0l6-6M538.5 1181.5l6 6m-6 0l6-6M538.5 1184.5l6 6m-6 0l6-6M538.5 1176.5l6 6m-6 0l6-6M538.5 1178.5l6 6m-6 0l6-6M538.5 1190.5l6 6m-6 0l6-6M539.5 1183.5l6 6m-6 0l6-6M539.5 1178.5l6 6m-6 0l6-6M539.5 1206.5l6 6m-6 0l6-6M539.5 1187.5l6 6m-6 0l6-6M539.5 1190.5l6 6m-6 0l6-6M539.5 1184.5l6 6m-6 0l6-6M540.5 1194.5l6 6m-6 0l6-6M540.5 1198.5l6 6m-6 0l6-6M540.5 1184.5l6 6m-6 0l6-6M540.5 1195.5l6 6m-6 0l6-6M540.5 1192.5l6 6m-6 0l6-6M540.5 1180.5l6 6m-6 0l6-6M541.5 1193.5l6 6m-6 0l6-6M541.5 1191.5l6 6m-6 0l6-6M541.5 1178.5l6 6m-6 0l6-6M541.5 1183.5l6 6m-6 0l6-6M541.5 1194.5l6 6m-6 0l6-6M541.5 1179.5l6 6m-6 0l6-6M541.5 1181.5l6 6m-6 0l6-6M542.5 1171.5l6 6m-6 0l6-6M542.5 1183.5l6 6m-6 0l6-6M542.5 1194.5l6 6m-6 0l6-6M542.5 1184.5l6 6m-6 0l6-6M542.5 1171.5l6 6m-6 0l6-6M542.5 1178.5l6 6m-6 0l6-6M543.5 1192.5l6 6m-6 0l6-6M543.5 1193.5l6 6m-6 0l6-6M543.5 1199.5l6 6m-6 0l6-6M543.5 1199.5l6 6m-6 0l6-6M543.5 1165.5l6 6m-6 0l6-6M543.5 1205.5l6 6m-6 0l6-6M544.5 1190.5l6 6m-6 0l6-6M544.5 1185.5l6 6m-6 0l6-6M544.5 1197.5l6 6m-6 0l6-6M544.5 1191.5l6 6m-6 0l6-6M544.5 1177.5l6 6m-6 0l6-6M544.5 1186.5l6 6m-6 0l6-6M545.5 1201.5l6 6m-6 0l6-6M545.5 1182.5l6 6m-6 0l6-6M545.5 1194.5l6 6m-6 0l6-6M545.5 1178.5l6 6m-6 0l6-6M545.5 1182.5l6 6m-6 0l6-6M545.5 1190.5l6 6m-6 0l6-6M545.5 1179.5l6 6m-6 0l6-6M546.5 1198.5l6 6m-6 0l6-6M546.5 1199.5l6 6m-6 0l6-6M546.5 1194.5l6 6m-6 0l6-6M546.5 1186.5l6 6m-6 0l6-6M546.5 1198.5l6 6m-6 0l6-6M546.5 1181.5l6 6m-6 0l6-6M547.5 1183.5l6 6m-6 0l6-6M547.5 1197.5l6 6m-6 0l6-6M547.5 1186.5l6 6m-6 0l6-6M547.5 1180.5l6 6m-6 0l6-6M547.5 1193.5l6 6m-6 0l6-6M547.5 1194.5l6 6m-6 0l6-6M548.5 1189.5l6 6m-6 0l6-6M548.5 1185.5l6 6m-6 0l6-6M548.5 1191.5l6 6m-6 0l6-6M548.5 1174.5l6 6m-6 0l6-6M548.5 1198.5l6 6m-6 0l6-6M548.5 1184.5l6 6m-6 0l6-6M549.5 1185.5l6 6m-6 0l6-6M549.5 1193.5l6 6m-6 0l6-6M549.5 1192.5l6 6m-6 0l6-6M549.5 1180.5l6 6m-6 0l6-6M549.5 1203.5l6 6m-6 0l6-6M549.5 1192.5l6 6m-6 0l6-6M550.5 1169.5l6 6m-6 0l6-6M550.5 1196.5l6 6m-6 0l6-6M550.5 1171.5l6 6m-6 0l6-6M550.5 1185.5l6 6m-6 0l6-6M550.5 1200.5l6 6m-6 0l6-6M550.5 1198.5l6 6m-6 0l6-6M550.5 1176.5l6 6m-6 0l6-6M551.5 1172.5l6 6m-6 0l6-6M551.5 1179.5l6 6m-6 0l6-6M551.5 1175.5l6 6m-6 0l6-6M551.5 1185.5l6 6m-6 0l6-6M551.5 1194.5l6 6m-6 0l6-6M551.5 1171.5l6 6m-6 0l6-6M552.5 1174.5l6 6m-6 0l6-6M552.5 1138.5l6 6m-6 0l6-6M552.5 1193.5l6 6m-6 0l6-6M552.5 1182.5l6 6m-6 0l6-6M552.5 1186.5l6 6m-6 0l6-6M552.5 1200.5l6 6m-6 0l6-6M553.5 1188.5l6 6m-6 0l6-6M553.5 1184.5l6 6m-6 0l6-6M553.5 1205.5l6 6m-6 0l6-6M553.5 1195.5l6 6m-6 0l6-6M553.5 1182.5l6 6m-6 0l6-6M553.5 1192.5l6 6m-6 0l6-6M554.5 1185.5l6 6m-6 0l6-6M554.5 1185.5l6 6m-6 0l6-6M554.5 1207.5l6 6m-6 0l6-6M554.5 1183.5l6 6m-6 0l6-6M554.5 1178.5l6 6m-6 0l6-6M554.5 1193.5l6 6m-6 0l6-6M555.5 1172.5l6 6m-6 0l6-6M555.5 1183.5l6 6m-6 0l6-6M555.5 1189.5l6 6m-6 0l6-6M555.5 1181.5l6 6m-6 0l6-6M555.5 1183.5l6 6m-6 0l6-6M555.5 1188.5l6 6m-6 0l6-6M555.5 1185.5l6 6m-6 0l6-6M556.5 1189.5l6 6m-6 0l6-6M556.5 1182.5l6 6m-6 0l6-6M556.5 1181.5l6 6m-6 0l6-6M556.5 1195.5l6 6m-6 0l6-6M556.5 1167.5l6 6m-6 0l6-6M556.5 1201.5l6 6m-6 0l6-6M557.5 1182.5l6 6m-6 0l6-6M557.5 1194.5l6 6m-6 0l6-6M557.5 1195.5l6 6m-6 0l6-6M557.5 1176.5l6 6m-6 0l6-6M557.5 1183.5l6 6m-6 0l6-6M557.5 1175.5l6 6m-6 0l6-6M558.5 1172.5l6 6m-6 0l6-6M558.5 1176.5l6 6m-6 0l6-6M558.5 1194.5l6 6m-6 0l6-6M558.5 1189.5l6 6m-6 0l6-6M558.5 1177.5l6 6m-6 0l6-6M558.5 1191.5l6 6m-6 0l6-6M559.5 1191.5l6 6m-6 0l6-6M559.5 1180.5l6 6m-6 0l6-6M559.5 1198.5l6 6m-6 0l6-6M559.5 1196.5l6 6m-6 0l6-6M559.5 1173.5l6 6m-6 0l6-6M559.5 1200.5l6 6m-6 0l6-6M559.5 1193.5l6 6m-6 0l6-6M560.5 1185.5l6 6m-6 0l6-6M560.5 1183.5l6 6m-6 0l6-6M560.5 1185.5l6 6m-6 0l6-6M560.5 1183.5l6 6m-6 0l6-6M560.5 1180.5l6 6m-6 0l6-6M560.5 1189.5l6 6m-6 0l6-6M561.5 1187.5l6 6m-6 0l6-6M561.5 1187.5l6 6m-6 0l6-6M561.5 1183.5l6 6m-6 0l6-6M561.5 1181.5l6 6m-6 0l6-6M561.5 1179.5l6 6m-6 0l6-6M561.5 1206.5l6 6m-6 0l6-6M562.5 1191.5l6 6m-6 0l6-6M562.5 1185.5l6 6m-6 0l6-6M562.5 1182.5l6 6m-6 0l6-6M562.5 1193.5l6 6m-6 0l6-6M562.5 1196.5l6 6m-6 0l6-6M562.5 1179.5l6 6m-6 0l6-6M563.5 1186.5l6 6m-6 0l6-6M563.5 1180.5l6 6m-6 0l6-6M563.5 1173.5l6 6m-6 0l6-6M563.5 1187.5l6 6m-6 0l6-6M563.5 1174.5l6 6m-6 0l6-6M563.5 1185.5l6 6m-6 0l6-6M564.5 1174.5l6 6m-6 0l6-6M564.5 1185.5l6 6m-6 0l6-6M564.5 1186.5l6 6m-6 0l6-6M564.5 1184.5l6 6m-6 0l6-6M564.5 1179.5l6 6m-6 0l6-6M564.5 1176.5l6 6m-6 0l6-6M564.5 1180.5l6 6m-6 0l6-6M565.5 1193.5l6 6m-6 0l6-6M565.5 1178.5l6 6m-6 0l6-6M565.5 1190.5l6 6m-6 0l6-6M565.5 1190.5l6 6m-6 0l6-6M565.5 1178.5l6 6m-6 0l6-6M565.5 1185.5l6 6m-6 0l6-6M566.5 1175.5l6 6m-6 0l6-6M566.5 1195.5l6 6m-6 0l6-6M566.5 1169.5l6 6m-6 0l6-6M566.5 1169.5l6 6m-6 0l6-6M566.5 1188.5l6 6m-6 0l6-6M566.5 1178.5l6 6m-6 0l6-6M567.5 1178.5l6 6m-6 0l6-6M567.5 1189.5l6 6m-6 0l6-6M567.5 1201.5l6 6m-6 0l6-6M567.5 1173.5l6 6m-6 0l6-6M567.5 1184.5l6 6m-6 0l6-6M567.5 1186.5l6 6m-6 0l6-6M568.5 1189.5l6 6m-6 0l6-6M568.5 1194.5l6 6m-6 0l6-6M568.5 1179.5l6 6m-6 0l6-6M568.5 1189.5l6 6m-6 0l6-6M568.5 1202.5l6 6m-6 0l6-6M568.5 1188.5l6 6m-6 0l6-6M568.5 1183.5l6 6m-6 0l6-6M569.5 1192.5l6 6m-6 0l6-6M569.5 1198.5l6 6m-6 0l6-6M569.5 1182.5l6 6m-6 0l6-6M569.5 1183.5l6 6m-6 0l6-6M569.5 1194.5l6 6m-6 0l6-6M569.5 1182.5l6 6m-6 0l6-6M570.5 1183.5l6 6m-6 0l6-6M570.5 1191.5l6 6m-6 0l6-6M570.5 1171.5l6 6m-6 0l6-6M570.5 1196.5l6 6m-6 0l6-6M570.5 1188.5l6 6m-6 0l6-6M570.5 1194.5l6 6m-6 0l6-6M571.5 1203.5l6 6m-6 0l6-6M571.5 1190.5l6 6m-6 0l6-6M571.5 1184.5l6 6m-6 0l6-6M571.5 1186.5l6 6m-6 0l6-6M571.5 1181.5l6 6m-6 0l6-6M571.5 1187.5l6 6m-6 0l6-6M572.5 1177.5l6 6m-6 0l6-6M572.5 1183.5l6 6m-6 0l6-6M572.5 1175.5l6 6m-6 0l6-6M572.5 1184.5l6 6m-6 0l6-6M572.5 1191.5l6 6m-6 0l6-6M572.5 1193.5l6 6m-6 0l6-6M573.5 1197.5l6 6m-6 0l6-6M573.5 1184.5l6 6m-6 0l6-6M573.5 1200.5l6 6m-6 0l6-6M573.5 1186.5l6 6m-6 0l6-6M573.5 1187.5l6 6m-6 0l6-6M573.5 1202.5l6 6m-6 0l6-6M573.5 1186.5l6 6m-6 0l6-6M574.5 1172.5l6 6m-6 0l6-6M574.5 1183.5l6 6m-6 0l6-6M574.5 1170.5l6 6m-6 0l6-6M574.5 1184.5l6 6m-6 0l6-6M574.5 1176.5l6 6m-6 0l6-6M574.5 1182.5l6 6m-6 0l6-6M575.5 1186.5l6 6m-6 0l6-6M575.5 1192.5l6 6m-6 0l6-6M575.5 1169.5l6 6m-6 0l6-6M575.5 1190.5l6 6m-6 0l6-6M575.5 1184.5l6 6m-6 0l6-6M575.5 1170.5l6 6m-6 0l6-6M576.5 1197.5l6 6m-6 0l6-6M576.5 1182.5l6 6m-6 0l6-6M576.5 1194.5l6 6m-6 0l6-6M576.5 1192.5l6 6m-6 0l6-6M576.5 1177.5l6 6m-6 0l6-6M576.5 1172.5l6 6m-6 0l6-6M577.5 1204.5l6 6m-6 0l6-6M577.5 1207.5l6 6m-6 0l6-6M577.5 1186.5l6 6m-6 0l6-6M577.5 1189.5l6 6m-6 0l6-6M577.5 1182.5l6 6m-6 0l6-6M577.5 1179.5l6 6m-6 0l6-6M578.5 1173.5l6 6m-6 0l6-6M578.5 1170.5l6 6m-6 0l6-6M578.5 1197.5l6 6m-6 0l6-6M578.5 1186.5l6 6m-6 0l6-6M578.5 1174.5l6 6m-6 0l6-6M578.5 1191.5l6 6m-6 0l6-6M578.5 1170.5l6 6m-6 0l6-6M579.5 1184.5l6 6m-6 0l6-6M579.5 1192.5l6 6m-6 0l6-6M579.5 1182.5l6 6m-6 0l6-6M579.5 1187.5l6 6m-6 0l6-6M579.5 1194.5l6 6m-6 0l6-6M579.5 1165.5l6 6m-6 0l6-6M580.5 1177.5l6 6m-6 0l6-6M580.5 1194.5l6 6m-6 0l6-6M580.5 1185.5l6 6m-6 0l6-6M580.5 1187.5l6 6m-6 0l6-6M580.5 1181.5l6 6m-6 0l6-6M580.5 1183.5l6 6m-6 0l6-6M581.5 1185.5l6 6m-6 0l6-6M581.5 1182.5l6 6m-6 0l6-6M581.5 1187.5l6 6m-6 0l6-6M581.5 1188.5l6 6m-6 0l6-6M581.5 1185.5l6 6m-6 0l6-6M581.5 1164.5l6 6m-6 0l6-6M582.5 1178.5l6 6m-6 0l6-6M582.5 1177.5l6 6m-6 0l6-6M582.5 1183.5l6 6m-6 0l6-6M582.5 1180.5l6 6m-6 0l6-6M582.5 1181.5l6 6m-6 0l6-6M582.5 1177.5l6 6m-6 0l6-6M582.5 1193.5l6 6m-6 0l6-6M583.5 1194.5l6 6m-6 0l6-6M583.5 1184.5l6 6m-6 0l6-6M583.5 1190.5l6 6m-6 0l6-6M583.5 1172.5l6 6m-6 0l6-6M583.5 1189.5l6 6m-6 0l6-6M583.5 1196.5l6 6m-6 0l6-6M584.5 1189.5l6 6m-6 0l6-6M584.5 1192.5l6 6m-6 0l6-6M584.5 1188.5l6 6m-6 0l6-6M584.5 1182.5l6 6m-6 0l6-6M584.5 1173.5l6 6m-6 0l6-6M584.5 1174.5l6 6m-6 0l6-6M585.5 1186.5l6 6m-6 0l6-6M585.5 1183.5l6 6m-6 0l6-6M585.5 1186.5l6 6m-6 0l6-6M585.5 1180.5l6 6m-6 0l6-6M585.5 1175.5l6 6m-6 0l6-6M585.5 1177.5l6 6m-6 0l6-6M586.5 1191.5l6 6m-6 0l6-6M586.5 1184.5l6 6m-6 0l6-6M586.5 1181.5l6 6m-6 0l6-6M586.5 1177.5l6 6m-6 0l6-6M586.5 1187.5l6 6m-6 0l6-6M586.5 1187.5l6 6m-6 0l6-6M587.5 1191.5l6 6m-6 0l6-6M587.5 1180.5l6 6m-6 0l6-6M587.5 1199.5l6 6m-6 0l6-6M587.5 1174.5l6 6m-6 0l6-6M587.5 1185.5l6 6m-6 0l6-6M587.5 1196.5l6 6m-6 0l6-6M587.5 1196.5l6 6m-6 0l6-6M588.5 1188.5l6 6m-6 0l6-6M588.5 1163.5l6 6m-6 0l6-6M588.5 1179.5l6 6m-6 0l6-6M588.5 1205.5l6 6m-6 0l6-6M588.5 1180.5l6 6m-6 0l6-6M588.5 1190.5l6 6m-6 0l6-6M589.5 1199.5l6 6m-6 0l6-6M589.5 1195.5l6 6m-6 0l6-6M589.5 1180.5l6 6m-6 0l6-6M589.5 1191.5l6 6m-6 0l6-6M589.5 1192.5l6 6m-6 0l6-6M589.5 1193.5l6 6m-6 0l6-6M590.5 1184.5l6 6m-6 0l6-6M590.5 1195.5l6 6m-6 0l6-6M590.5 1189.5l6 6m-6 0l6-6M590.5 1173.5l6 6m-6 0l6-6M590.5 1171.5l6 6m-6 0l6-6M590.5 1177.5l6 6m-6 0l6-6M591.5 1180.5l6 6m-6 0l6-6M591.5 1179.5l6 6m-6 0l6-6M591.5 1193.5l6 6m-6 0l6-6M591.5 1177.5l6 6m-6 0l6-6M591.5 1198.5l6 6m-6 0l6-6M591.5 1176.5l6 6m-6 0l6-6M592.5 1185.5l6 6m-6 0l6-6M592.5 1185.5l6 6m-6 0l6-6M592.5 1186.5l6 6m-6 0l6-6M592.5 1203.5l6 6m-6 0l6-6M592.5 1180.5l6 6m-6 0l6-6M592.5 1195.5l6 6m-6 0l6-6M592.5 1193.5l6 6m-6 0l6-6M593.5 1187.5l6 6m-6 0l6-6M593.5 1183.5l6 6m-6 0l6-6M593.5 1189.5l6 6m-6 0l6-6M593.5 1185.5l6 6m-6 0l6-6M593.5 1176.5l6 6m-6 0l6-6M593.5 1200.5l6 6m-6 0l6-6M594.5 1179.5l6 6m-6 0l6-6M594.5 1199.5l6 6m-6 0l6-6M594.5 1201.5l6 6m-6 0l6-6M594.5 1171.5l6 6m-6 0l6-6M594.5 1180.5l6 6m-6 0l6-6M594.5 1186.5l6 6m-6 0l6-6M595.5 1184.5l6 6m-6 0l6-6M595.5 1175.5l6 6m-6 0l6-6M595.5 1201.5l6 6m-6 0l6-6M595.5 1192.5l6 6m-6 0l6-6M595.5 1206.5l6 6m-6 0l6-6M595.5 1180.5l6 6m-6 0l6-6M596.5 1189.5l6 6m-6 0l6-6M596.5 1195.5l6 6m-6 0l6-6M596.5 1186.5l6 6m-6 0l6-6M596.5 1176.5l6 6m-6 0l6-6M596.5 1187.5l6 6m-6 0l6-6M596.5 1184.5l6 6m-6 0l6-6M596.5 1185.5l6 6m-6 0l6-6M597.5 1177.5l6 6m-6 0l6-6M597.5 1195.5l6 6m-6 0l6-6M597.5 1182.5l6 6m-6 0l6-6M597.5 1187.5l6 6m-6 0l6-6M597.5 1178.5l6 6m-6 0l6-6M597.5 1201.5l6 6m-6 0l6-6M598.5 1192.5l6 6m-6 0l6-6M598.5 1195.5l6 6m-6 0l6-6M598.5 1182.5l6 6m-6 0l6-6M598.5 1186.5l6 6m-6 0l6-6M598.5 1188.5l6 6m-6 0l6-6M598.5 1192.5l6 6m-6 0l6-6M599.5 1192.5l6 6m-6 0l6-6M599.5 1192.5l6 6m-6 0l6-6M599.5 1178.5l6 6m-6 0l6-6M599.5 1177.5l6 6m-6 0l6-6M599.5 1188.5l6 6m-6 0l6-6M599.5 1188.5l6 6m-6 0l6-6M600.5 1170.5l6 6m-6 0l6-6M600.5 1185.5l6 6m-6 0l6-6M600.5 1186.5l6 6m-6 0l6-6M600.5 1173.5l6 6m-6 0l6-6M600.5 1206.5l6 6m-6 0l6-6M600.5 1186.5l6 6m-6 0l6-6M601.5 1171.5l6 6m-6 0l6-6M601.5 1180.5l6 6m-6 0l6-6M601.5 1187.5l6 6m-6 0l6-6M601.5 1179.5l6 6m-6 0l6-6M601.5 1184.5l6 6m-6 0l6-6M601.5 1183.5l6 6m-6 0l6-6M601.5 1174.5l6 6m-6 0l6-6M602.5 1189.5l6 6m-6 0l6-6M602.5 1185.5l6 6m-6 0l6-6M602.5 1180.5l6 6m-6 0l6-6M602.5 1225.5l6 6m-6 0l6-6M602.5 1189.5l6 6m-6 0l6-6M602.5 1195.5l6 6m-6 0l6-6M603.5 1190.5l6 6m-6 0l6-6M603.5 1191.5l6 6m-6 0l6-6M603.5 1176.5l6 6m-6 0l6-6M603.5 1188.5l6 6m-6 0l6-6M603.5 1183.5l6 6m-6 0l6-6M603.5 1196.5l6 6m-6 0l6-6M604.5 1179.5l6 6m-6 0l6-6M604.5 1178.5l6 6m-6 0l6-6M604.5 1191.5l6 6m-6 0l6-6M604.5 1176.5l6 6m-6 0l6-6M604.5 1183.5l6 6m-6 0l6-6M604.5 1176.5l6 6m-6 0l6-6M605.5 1178.5l6 6m-6 0l6-6M605.5 1191.5l6 6m-6 0l6-6M605.5 1181.5l6 6m-6 0l6-6M605.5 1188.5l6 6m-6 0l6-6M605.5 1180.5l6 6m-6 0l6-6M605.5 1183.5l6 6m-6 0l6-6M605.5 1182.5l6 6m-6 0l6-6M606.5 1184.5l6 6m-6 0l6-6M606.5 1178.5l6 6m-6 0l6-6M606.5 1182.5l6 6m-6 0l6-6M606.5 1184.5l6 6m-6 0l6-6M606.5 1183.5l6 6m-6 0l6-6M606.5 1185.5l6 6m-6 0l6-6M607.5 1182.5l6 6m-6 0l6-6M607.5 1181.5l6 6m-6 0l6-6M607.5 1175.5l6 6m-6 0l6-6M607.5 1181.5l6 6m-6 0l6-6M607.5 1183.5l6 6m-6 0l6-6M607.5 1183.5l6 6m-6 0l6-6M608.5 1186.5l6 6m-6 0l6-6M608.5 1168.5l6 6m-6 0l6-6M608.5 1208.5l6 6m-6 0l6-6M608.5 1189.5l6 6m-6 0l6-6M608.5 1178.5l6 6m-6 0l6-6M608.5 1181.5l6 6m-6 0l6-6M609.5 1189.5l6 6m-6 0l6-6M609.5 1190.5l6 6m-6 0l6-6M609.5 1187.5l6 6m-6 0l6-6M609.5 1182.5l6 6m-6 0l6-6M609.5 1194.5l6 6m-6 0l6-6M609.5 1189.5l6 6m-6 0l6-6M610.5 1185.5l6 6m-6 0l6-6M610.5 1180.5l6 6m-6 0l6-6M610.5 1187.5l6 6m-6 0l6-6M610.5 1186.5l6 6m-6 0l6-6M610.5 1186.5l6 6m-6 0l6-6M610.5 1190.5l6 6m-6 0l6-6M610.5 1191.5l6 6m-6 0l6-6M611.5 1204.5l6 6m-6 0l6-6M611.5 1181.5l6 6m-6 0l6-6M611.5 1192.5l6 6m-6 0l6-6M611.5 1192.5l6 6m-6 0l6-6M611.5 1188.5l6 6m-6 0l6-6M611.5 1188.5l6 6m-6 0l6-6M612.5 1185.5l6 6m-6 0l6-6M612.5 1182.5l6 6m-6 0l6-6M612.5 1184.5l6 6m-6 0l6-6M612.5 1179.5l6 6m-6 0l6-6M612.5 1160.5l6 6m-6 0l6-6M612.5 1181.5l6 6m-6 0l6-6M613.5 1190.5l6 6m-6 0l6-6M613.5 1182.5l6 6m-6 0l6-6M613.5 1189.5l6 6m-6 0l6-6M613.5 1179.5l6 6m-6 0l6-6M613.5 1187.5l6 6m-6 0l6-6M613.5 1172.5l6 6m-6 0l6-6M614.5 1188.5l6 6m-6 0l6-6M614.5 1191.5l6 6m-6 0l6-6M614.5 1167.5l6 6m-6 0l6-6M614.5 1192.5l6 6m-6 0l6-6M614.5 1171.5l6 6m-6 0l6-6M614.5 1184.5l6 6m-6 0l6-6M615.5 1186.5l6 6m-6 0l6-6M615.5 1207.5l6 6m-6 0l6-6M615.5 1185.5l6 6m-6 0l6-6M615.5 1192.5l6 6m-6 0l6-6M615.5 1186.5l6 6m-6 0l6-6M615.5 1181.5l6 6m-6 0l6-6M615.5 1178.5l6 6m-6 0l6-6M616.5 1186.5l6 6m-6 0l6-6M616.5 1177.5l6 6m-6 0l6-6M616.5 1177.5l6 6m-6 0l6-6M616.5 1185.5l6 6m-6 0l6-6M616.5 1184.5l6 6m-6 0l6-6M616.5 1179.5l6 6m-6 0l6-6M617.5 1182.5l6 6m-6 0l6-6M617.5 1179.5l6 6m-6 0l6-6M617.5 1186.5l6 6m-6 0l6-6M617.5 1178.5l6 6m-6 0l6-6M617.5 1184.5l6 6m-6 0l6-6M617.5 1184.5l6 6m-6 0l6-6M618.5 1199.5l6 6m-6 0l6-6M618.5 1191.5l6 6m-6 0l6-6M618.5 1183.5l6 6m-6 0l6-6M618.5 1174.5l6 6m-6 0l6-6M618.5 1195.5l6 6m-6 0l6-6M618.5 1194.5l6 6m-6 0l6-6M619.5 1187.5l6 6m-6 0l6-6M619.5 1193.5l6 6m-6 0l6-6M619.5 1177.5l6 6m-6 0l6-6M619.5 1186.5l6 6m-6 0l6-6M619.5 1200.5l6 6m-6 0l6-6M619.5 1183.5l6 6m-6 0l6-6M619.5 1178.5l6 6m-6 0l6-6M620.5 1191.5l6 6m-6 0l6-6M620.5 1182.5l6 6m-6 0l6-6M620.5 1195.5l6 6m-6 0l6-6M620.5 1175.5l6 6m-6 0l6-6M620.5 1185.5l6 6m-6 0l6-6M620.5 1200.5l6 6m-6 0l6-6M621.5 1185.5l6 6m-6 0l6-6M621.5 1192.5l6 6m-6 0l6-6M621.5 1172.5l6 6m-6 0l6-6M621.5 1176.5l6 6m-6 0l6-6M621.5 1192.5l6 6m-6 0l6-6M621.5 1179.5l6 6m-6 0l6-6M622.5 1188.5l6 6m-6 0l6-6M622.5 1186.5l6 6m-6 0l6-6M622.5 1183.5l6 6m-6 0l6-6M622.5 1176.5l6 6m-6 0l6-6M622.5 1181.5l6 6m-6 0l6-6M622.5 1190.5l6 6m-6 0l6-6M623.5 1180.5l6 6m-6 0l6-6M623.5 1185.5l6 6m-6 0l6-6M623.5 1199.5l6 6m-6 0l6-6M623.5 1177.5l6 6m-6 0l6-6M623.5 1179.5l6 6m-6 0l6-6M623.5 1192.5l6 6m-6 0l6-6M624.5 1182.5l6 6m-6 0l6-6M624.5 1190.5l6 6m-6 0l6-6M624.5 1184.5l6 6m-6 0l6-6M624.5 1173.5l6 6m-6 0l6-6M624.5 1190.5l6 6m-6 0l6-6M624.5 1177.5l6 6m-6 0l6-6M624.5 1175.5l6 6m-6 0l6-6M625.5 1195.5l6 6m-6 0l6-6M625.5 1183.5l6 6m-6 0l6-6M625.5 1172.5l6 6m-6 0l6-6M625.5 1180.5l6 6m-6 0l6-6M625.5 1180.5l6 6m-6 0l6-6M625.5 1194.5l6 6m-6 0l6-6M626.5 1195.5l6 6m-6 0l6-6M626.5 1188.5l6 6m-6 0l6-6M626.5 1186.5l6 6m-6 0l6-6M626.5 1189.5l6 6m-6 0l6-6M626.5 1183.5l6 6m-6 0l6-6M626.5 1181.5l6 6m-6 0l6-6M627.5 1180.5l6 6m-6 0l6-6M627.5 1194.5l6 6m-6 0l6-6M627.5 1188.5l6 6m-6 0l6-6M627.5 1195.5l6 6m-6 0l6-6M627.5 1188.5l6 6m-6 0l6-6M627.5 1183.5l6 6m-6 0l6-6M628.5 1181.5l6 6m-6 0l6-6M628.5 1191.5l6 6m-6 0l6-6M628.5 1189.5l6 6m-6 0l6-6M628.5 1185.5l6 6m-6 0l6-6M628.5 1175.5l6 6m-6 0l6-6M628.5 1180.5l6 6m-6 0l6-6M629.5 1178.5l6 6m-6 0l6-6M629.5 1183.5l6 6m-6 0l6-6M629.5 1192.5l6 6m-6 0l6-6M629.5 1181.5l6 6m-6 0l6-6M629.5 1191.5l6 6m-6 0l6-6M629.5 1177.5l6 6m-6 0l6-6M629.5 1195.5l6 6m-6 0l6-6M630.5 1183.5l6 6m-6 0l6-6M630.5 1194.5l6 6m-6 0l6-6M630.5 1180.5l6 6m-6 0l6-6M630.5 1185.5l6 6m-6 0l6-6M630.5 1186.5l6 6m-6 0l6-6M630.5 1190.5l6 6m-6 0l6-6M631.5 1197.5l6 6m-6 0l6-6M631.5 1176.5l6 6m-6 0l6-6M631.5 1180.5l6 6m-6 0l6-6M631.5 1186.5l6 6m-6 0l6-6M631.5 1191.5l6 6m-6 0l6-6M631.5 1189.5l6 6m-6 0l6-6M632.5 1182.5l6 6m-6 0l6-6M632.5 1193.5l6 6m-6 0l6-6M632.5 1172.5l6 6m-6 0l6-6M632.5 1184.5l6 6m-6 0l6-6M632.5 1185.5l6 6m-6 0l6-6M632.5 1191.5l6 6m-6 0l6-6M633.5 1196.5l6 6m-6 0l6-6M633.5 1180.5l6 6m-6 0l6-6M633.5 1193.5l6 6m-6 0l6-6M633.5 1189.5l6 6m-6 0l6-6M633.5 1194.5l6 6m-6 0l6-6M633.5 1192.5l6 6m-6 0l6-6M633.5 1167.5l6 6m-6 0l6-6M634.5 1196.5l6 6m-6 0l6-6M634.5 1175.5l6 6m-6 0l6-6M634.5 1183.5l6 6m-6 0l6-6M634.5 1181.5l6 6m-6 0l6-6M634.5 1171.5l6 6m-6 0l6-6M634.5 1175.5l6 6m-6 0l6-6M635.5 1182.5l6 6m-6 0l6-6M635.5 1181.5l6 6m-6 0l6-6M635.5 1186.5l6 6m-6 0l6-6M635.5 1184.5l6 6m-6 0l6-6M635.5 1172.5l6 6m-6 0l6-6M635.5 1192.5l6 6m-6 0l6-6M636.5 1187.5l6 6m-6 0l6-6M636.5 1185.5l6 6m-6 0l6-6M636.5 1187.5l6 6m-6 0l6-6M636.5 1177.5l6 6m-6 0l6-6M636.5 1183.5l6 6m-6 0l6-6M636.5 1179.5l6 6m-6 0l6-6M637.5 1184.5l6 6m-6 0l6-6M637.5 1190.5l6 6m-6 0l6-6M637.5 1191.5l6 6m-6 0l6-6M637.5 1192.5l6 6m-6 0l6-6M637.5 1196.5l6 6m-6 0l6-6M637.5 1203.5l6 6m-6 0l6-6M638.5 1194.5l6 6m-6 0l6-6M638.5 1185.5l6 6m-6 0l6-6M638.5 1176.5l6 6m-6 0l6-6M638.5 1182.5l6 6m-6 0l6-6M638.5 1168.5l6 6m-6 0l6-6M638.5 1176.5l6 6m-6 0l6-6M638.5 1189.5l6 6m-6 0l6-6M639.5 1185.5l6 6m-6 0l6-6M639.5 1187.5l6 6m-6 0l6-6M639.5 1191.5l6 6m-6 0l6-6M639.5 1182.5l6 6m-6 0l6-6M639.5 1182.5l6 6m-6 0l6-6M639.5 1177.5l6 6m-6 0l6-6M640.5 1180.5l6 6m-6 0l6-6M640.5 1204.5l6 6m-6 0l6-6M640.5 1185.5l6 6m-6 0l6-6M640.5 1188.5l6 6m-6 0l6-6M640.5 1188.5l6 6m-6 0l6-6M640.5 1174.5l6 6m-6 0l6-6M641.5 1164.5l6 6m-6 0l6-6M641.5 1195.5l6 6m-6 0l6-6M641.5 1192.5l6 6m-6 0l6-6M641.5 1182.5l6 6m-6 0l6-6M641.5 1184.5l6 6m-6 0l6-6M641.5 1184.5l6 6m-6 0l6-6M642.5 1186.5l6 6m-6 0l6-6M642.5 1188.5l6 6m-6 0l6-6M642.5 1198.5l6 6m-6 0l6-6M642.5 1195.5l6 6m-6 0l6-6M642.5 1184.5l6 6m-6 0l6-6M642.5 1176.5l6 6m-6 0l6-6M642.5 1172.5l6 6m-6 0l6-6M643.5 1175.5l6 6m-6 0l6-6M643.5 1197.5l6 6m-6 0l6-6M643.5 1187.5l6 6m-6 0l6-6M643.5 1190.5l6 6m-6 0l6-6M643.5 1170.5l6 6m-6 0l6-6M643.5 1199.5l6 6m-6 0l6-6M644.5 1199.5l6 6m-6 0l6-6M644.5 1191.5l6 6m-6 0l6-6M644.5 1196.5l6 6m-6 0l6-6M644.5 1183.5l6 6m-6 0l6-6M644.5 1195.5l6 6m-6 0l6-6M644.5 1179.5l6 6m-6 0l6-6M645.5 1202.5l6 6m-6 0l6-6M645.5 1202.5l6 6m-6 0l6-6M645.5 1179.5l6 6m-6 0l6-6M645.5 1191.5l6 6m-6 0l6-6M645.5 1187.5l6 6m-6 0l6-6M645.5 1180.5l6 6m-6 0l6-6M646.5 1179.5l6 6m-6 0l6-6M646.5 1193.5l6 6m-6 0l6-6M646.5 1173.5l6 6m-6 0l6-6M646.5 1205.5l6 6m-6 0l6-6M646.5 1183.5l6 6m-6 0l6-6M646.5 1187.5l6 6m-6 0l6-6M647.5 1183.5l6 6m-6 0l6-6M647.5 1190.5l6 6m-6 0l6-6M647.5 1199.5l6 6m-6 0l6-6M679.5 1219.5l6 6m-6 0l6-6M679.5 1163.5l6 6m-6 0l6-6M679.5 1189.5l6 6m-6 0l6-6M679.5 1173.5l6 6m-6 0l6-6M680.5 1183.5l6 6m-6 0l6-6M680.5 1181.5l6 6m-6 0l6-6M680.5 1180.5l6 6m-6 0l6-6M680.5 1190.5l6 6m-6 0l6-6M680.5 1180.5l6 6m-6 0l6-6M680.5 1186.5l6 6m-6 0l6-6M681.5 1190.5l6 6m-6 0l6-6M681.5 1183.5l6 6m-6 0l6-6M681.5 1190.5l6 6m-6 0l6-6M681.5 1200.5l6 6m-6 0l6-6M681.5 1190.5l6 6m-6 0l6-6M681.5 1197.5l6 6m-6 0l6-6M682.5 1185.5l6 6m-6 0l6-6M682.5 1195.5l6 6m-6 0l6-6M682.5 1172.5l6 6m-6 0l6-6M682.5 1222.5l6 6m-6 0l6-6M682.5 1198.5l6 6m-6 0l6-6M682.5 1182.5l6 6m-6 0l6-6M683.5 1197.5l6 6m-6 0l6-6M683.5 1194.5l6 6m-6 0l6-6M683.5 1168.5l6 6m-6 0l6-6M683.5 1194.5l6 6m-6 0l6-6M683.5 1190.5l6 6m-6 0l6-6M683.5 1163.5l6 6m-6 0l6-6M684.5 1184.5l6 6m-6 0l6-6M684.5 1191.5l6 6m-6 0l6-6M684.5 1187.5l6 6m-6 0l6-6M684.5 1188.5l6 6m-6 0l6-6M684.5 1183.5l6 6m-6 0l6-6M684.5 1173.5l6 6m-6 0l6-6M684.5 1193.5l6 6m-6 0l6-6M685.5 1179.5l6 6m-6 0l6-6M685.5 1194.5l6 6m-6 0l6-6M685.5 1183.5l6 6m-6 0l6-6M685.5 1178.5l6 6m-6 0l6-6M685.5 1190.5l6 6m-6 0l6-6M685.5 1194.5l6 6m-6 0l6-6M686.5 1202.5l6 6m-6 0l6-6M686.5 1188.5l6 6m-6 0l6-6M686.5 1188.5l6 6m-6 0l6-6M686.5 1181.5l6 6m-6 0l6-6M686.5 1186.5l6 6m-6 0l6-6M686.5 1167.5l6 6m-6 0l6-6M687.5 1187.5l6 6m-6 0l6-6M687.5 1168.5l6 6m-6 0l6-6M687.5 1193.5l6 6m-6 0l6-6M687.5 1182.5l6 6m-6 0l6-6M687.5 1183.5l6 6m-6 0l6-6M687.5 1209.5l6 6m-6 0l6-6M688.5 1159.5l6 6m-6 0l6-6M688.5 1170.5l6 6m-6 0l6-6M688.5 1176.5l6 6m-6 0l6-6M688.5 1194.5l6 6m-6 0l6-6M688.5 1164.5l6 6m-6 0l6-6M688.5 1197.5l6 6m-6 0l6-6M688.5 1189.5l6 6m-6 0l6-6M689.5 1190.5l6 6m-6 0l6-6M689.5 1171.5l6 6m-6 0l6-6M689.5 1178.5l6 6m-6 0l6-6M689.5 1169.5l6 6m-6 0l6-6M689.5 1180.5l6 6m-6 0l6-6M689.5 1192.5l6 6m-6 0l6-6M690.5 1186.5l6 6m-6 0l6-6M690.5 1176.5l6 6m-6 0l6-6M690.5 1179.5l6 6m-6 0l6-6M690.5 1199.5l6 6m-6 0l6-6M690.5 1160.5l6 6m-6 0l6-6M690.5 1204.5l6 6m-6 0l6-6M691.5 1184.5l6 6m-6 0l6-6M691.5 1164.5l6 6m-6 0l6-6M691.5 1182.5l6 6m-6 0l6-6M691.5 1178.5l6 6m-6 0l6-6M691.5 1172.5l6 6m-6 0l6-6M691.5 1170.5l6 6m-6 0l6-6M692.5 1195.5l6 6m-6 0l6-6M692.5 1188.5l6 6m-6 0l6-6M692.5 1182.5l6 6m-6 0l6-6M692.5 1192.5l6 6m-6 0l6-6M692.5 1204.5l6 6m-6 0l6-6M692.5 1197.5l6 6m-6 0l6-6M693.5 1186.5l6 6m-6 0l6-6M693.5 1194.5l6 6m-6 0l6-6M693.5 1186.5l6 6m-6 0l6-6M693.5 1185.5l6 6m-6 0l6-6M693.5 1196.5l6 6m-6 0l6-6M693.5 1183.5l6 6m-6 0l6-6M693.5 1195.5l6 6m-6 0l6-6M694.5 1168.5l6 6m-6 0l6-6M694.5 1193.5l6 6m-6 0l6-6M694.5 1177.5l6 6m-6 0l6-6M694.5 1197.5l6 6m-6 0l6-6M694.5 1175.5l6 6m-6 0l6-6M694.5 1181.5l6 6m-6 0l6-6M695.5 1207.5l6 6m-6 0l6-6M695.5 1195.5l6 6m-6 0l6-6M695.5 1174.5l6 6m-6 0l6-6M695.5 1182.5l6 6m-6 0l6-6M695.5 1183.5l6 6m-6 0l6-6M695.5 1189.5l6 6m-6 0l6-6M696.5 1170.5l6 6m-6 0l6-6M696.5 1174.5l6 6m-6 0l6-6M696.5 1180.5l6 6m-6 0l6-6M696.5 1172.5l6 6m-6 0l6-6M696.5 1176.5l6 6m-6 0l6-6M696.5 1199.5l6 6m-6 0l6-6M697.5 1186.5l6 6m-6 0l6-6M697.5 1180.5l6 6m-6 0l6-6M697.5 1182.5l6 6m-6 0l6-6M697.5 1176.5l6 6m-6 0l6-6M697.5 1182.5l6 6m-6 0l6-6M697.5 1168.5l6 6m-6 0l6-6M697.5 1203.5l6 6m-6 0l6-6M698.5 1193.5l6 6m-6 0l6-6M698.5 1173.5l6 6m-6 0l6-6M698.5 1186.5l6 6m-6 0l6-6M698.5 1185.5l6 6m-6 0l6-6M698.5 1173.5l6 6m-6 0l6-6M698.5 1170.5l6 6m-6 0l6-6M699.5 1174.5l6 6m-6 0l6-6M699.5 1193.5l6 6m-6 0l6-6M699.5 1193.5l6 6m-6 0l6-6M699.5 1197.5l6 6m-6 0l6-6M699.5 1176.5l6 6m-6 0l6-6M699.5 1187.5l6 6m-6 0l6-6M700.5 1182.5l6 6m-6 0l6-6M700.5 1182.5l6 6m-6 0l6-6M700.5 1186.5l6 6m-6 0l6-6M700.5 1194.5l6 6m-6 0l6-6M700.5 1189.5l6 6m-6 0l6-6M700.5 1182.5l6 6m-6 0l6-6M701.5 1185.5l6 6m-6 0l6-6M701.5 1195.5l6 6m-6 0l6-6M701.5 1187.5l6 6m-6 0l6-6M701.5 1173.5l6 6m-6 0l6-6M701.5 1190.5l6 6m-6 0l6-6M701.5 1174.5l6 6m-6 0l6-6M702.5 1200.5l6 6m-6 0l6-6M702.5 1189.5l6 6m-6 0l6-6M702.5 1167.5l6 6m-6 0l6-6M702.5 1196.5l6 6m-6 0l6-6M702.5 1177.5l6 6m-6 0l6-6M702.5 1196.5l6 6m-6 0l6-6M702.5 1200.5l6 6m-6 0l6-6M703.5 1177.5l6 6m-6 0l6-6M703.5 1175.5l6 6m-6 0l6-6M703.5 1187.5l6 6m-6 0l6-6M703.5 1182.5l6 6m-6 0l6-6M703.5 1179.5l6 6m-6 0l6-6M703.5 1194.5l6 6m-6 0l6-6M704.5 1180.5l6 6m-6 0l6-6M704.5 1178.5l6 6m-6 0l6-6M704.5 1196.5l6 6m-6 0l6-6M704.5 1191.5l6 6m-6 0l6-6M704.5 1173.5l6 6m-6 0l6-6M704.5 1193.5l6 6m-6 0l6-6M705.5 1172.5l6 6m-6 0l6-6M705.5 1186.5l6 6m-6 0l6-6M705.5 1172.5l6 6m-6 0l6-6M705.5 1187.5l6 6m-6 0l6-6M705.5 1169.5l6 6m-6 0l6-6M705.5 1165.5l6 6m-6 0l6-6M706.5 1203.5l6 6m-6 0l6-6M706.5 1173.5l6 6m-6 0l6-6M706.5 1190.5l6 6m-6 0l6-6M706.5 1192.5l6 6m-6 0l6-6M706.5 1173.5l6 6m-6 0l6-6M706.5 1196.5l6 6m-6 0l6-6M707.5 1186.5l6 6m-6 0l6-6M707.5 1176.5l6 6m-6 0l6-6M707.5 1196.5l6 6m-6 0l6-6M707.5 1186.5l6 6m-6 0l6-6M707.5 1186.5l6 6m-6 0l6-6M707.5 1183.5l6 6m-6 0l6-6M707.5 1191.5l6 6m-6 0l6-6M708.5 1183.5l6 6m-6 0l6-6M708.5 1171.5l6 6m-6 0l6-6M708.5 1187.5l6 6m-6 0l6-6M708.5 1165.5l6 6m-6 0l6-6M708.5 1162.5l6 6m-6 0l6-6M708.5 1192.5l6 6m-6 0l6-6M709.5 1190.5l6 6m-6 0l6-6M709.5 1188.5l6 6m-6 0l6-6M709.5 1177.5l6 6m-6 0l6-6M709.5 1186.5l6 6m-6 0l6-6M709.5 1183.5l6 6m-6 0l6-6M709.5 1175.5l6 6m-6 0l6-6M710.5 1174.5l6 6m-6 0l6-6M710.5 1175.5l6 6m-6 0l6-6M710.5 1183.5l6 6m-6 0l6-6M710.5 1191.5l6 6m-6 0l6-6M710.5 1199.5l6 6m-6 0l6-6M710.5 1196.5l6 6m-6 0l6-6M711.5 1186.5l6 6m-6 0l6-6M711.5 1169.5l6 6m-6 0l6-6M711.5 1184.5l6 6m-6 0l6-6M711.5 1201.5l6 6m-6 0l6-6M711.5 1187.5l6 6m-6 0l6-6M711.5 1169.5l6 6m-6 0l6-6M711.5 1182.5l6 6m-6 0l6-6M712.5 1185.5l6 6m-6 0l6-6M712.5 1164.5l6 6m-6 0l6-6M712.5 1173.5l6 6m-6 0l6-6M712.5 1196.5l6 6m-6 0l6-6M712.5 1196.5l6 6m-6 0l6-6M712.5 1181.5l6 6m-6 0l6-6M713.5 1198.5l6 6m-6 0l6-6M713.5 1203.5l6 6m-6 0l6-6M713.5 1188.5l6 6m-6 0l6-6M713.5 1189.5l6 6m-6 0l6-6M713.5 1179.5l6 6m-6 0l6-6M713.5 1188.5l6 6m-6 0l6-6M714.5 1183.5l6 6m-6 0l6-6M714.5 1180.5l6 6m-6 0l6-6M714.5 1199.5l6 6m-6 0l6-6M714.5 1193.5l6 6m-6 0l6-6M714.5 1191.5l6 6m-6 0l6-6M714.5 1171.5l6 6m-6 0l6-6M715.5 1184.5l6 6m-6 0l6-6M715.5 1189.5l6 6m-6 0l6-6M715.5 1177.5l6 6m-6 0l6-6M715.5 1176.5l6 6m-6 0l6-6M715.5 1181.5l6 6m-6 0l6-6M715.5 1189.5l6 6m-6 0l6-6M716.5 1209.5l6 6m-6 0l6-6M716.5 1167.5l6 6m-6 0l6-6M716.5 1173.5l6 6m-6 0l6-6M716.5 1186.5l6 6m-6 0l6-6M716.5 1185.5l6 6m-6 0l6-6M716.5 1212.5l6 6m-6 0l6-6M716.5 1189.5l6 6m-6 0l6-6M717.5 1178.5l6 6m-6 0l6-6M717.5 1175.5l6 6m-6 0l6-6M717.5 1191.5l6 6m-6 0l6-6M717.5 1207.5l6 6m-6 0l6-6M717.5 1177.5l6 6m-6 0l6-6M717.5 1169.5l6 6m-6 0l6-6M718.5 1191.5l6 6m-6 0l6-6M718.5 1200.5l6 6m-6 0l6-6M718.5 1184.5l6 6m-6 0l6-6M718.5 1194.5l6 6m-6 0l6-6M718.5 1189.5l6 6m-6 0l6-6M718.5 1190.5l6 6m-6 0l6-6M719.5 1197.5l6 6m-6 0l6-6M719.5 1193.5l6 6m-6 0l6-6M719.5 1192.5l6 6m-6 0l6-6M719.5 1175.5l6 6m-6 0l6-6M719.5 1190.5l6 6m-6 0l6-6M719.5 1158.5l6 6m-6 0l6-6M720.5 1194.5l6 6m-6 0l6-6M720.5 1180.5l6 6m-6 0l6-6M720.5 1178.5l6 6m-6 0l6-6M720.5 1191.5l6 6m-6 0l6-6M720.5 1174.5l6 6m-6 0l6-6M720.5 1182.5l6 6m-6 0l6-6M720.5 1176.5l6 6m-6 0l6-6M721.5 1184.5l6 6m-6 0l6-6M721.5 1187.5l6 6m-6 0l6-6M721.5 1169.5l6 6m-6 0l6-6M721.5 1187.5l6 6m-6 0l6-6M721.5 1184.5l6 6m-6 0l6-6M721.5 1182.5l6 6m-6 0l6-6M722.5 1205.5l6 6m-6 0l6-6M722.5 1181.5l6 6m-6 0l6-6M722.5 1169.5l6 6m-6 0l6-6M722.5 1192.5l6 6m-6 0l6-6M722.5 1202.5l6 6m-6 0l6-6M722.5 1184.5l6 6m-6 0l6-6M723.5 1172.5l6 6m-6 0l6-6M723.5 1185.5l6 6m-6 0l6-6M723.5 1198.5l6 6m-6 0l6-6M723.5 1184.5l6 6m-6 0l6-6M723.5 1164.5l6 6m-6 0l6-6M723.5 1176.5l6 6m-6 0l6-6M724.5 1185.5l6 6m-6 0l6-6M724.5 1201.5l6 6m-6 0l6-6M724.5 1185.5l6 6m-6 0l6-6M724.5 1182.5l6 6m-6 0l6-6M724.5 1185.5l6 6m-6 0l6-6M724.5 1194.5l6 6m-6 0l6-6M725.5 1187.5l6 6m-6 0l6-6M725.5 1188.5l6 6m-6 0l6-6M725.5 1171.5l6 6m-6 0l6-6M725.5 1195.5l6 6m-6 0l6-6M725.5 1180.5l6 6m-6 0l6-6M725.5 1182.5l6 6m-6 0l6-6M725.5 1186.5l6 6m-6 0l6-6M726.5 1200.5l6 6m-6 0l6-6M726.5 1163.5l6 6m-6 0l6-6M726.5 1178.5l6 6m-6 0l6-6M726.5 1183.5l6 6m-6 0l6-6M726.5 1171.5l6 6m-6 0l6-6M726.5 1186.5l6 6m-6 0l6-6M727.5 1170.5l6 6m-6 0l6-6M727.5 1194.5l6 6m-6 0l6-6M727.5 1179.5l6 6m-6 0l6-6M727.5 1181.5l6 6m-6 0l6-6M727.5 1190.5l6 6m-6 0l6-6M727.5 1190.5l6 6m-6 0l6-6M728.5 1191.5l6 6m-6 0l6-6M728.5 1177.5l6 6m-6 0l6-6M728.5 1178.5l6 6m-6 0l6-6M728.5 1178.5l6 6m-6 0l6-6M728.5 1186.5l6 6m-6 0l6-6M728.5 1179.5l6 6m-6 0l6-6M729.5 1191.5l6 6m-6 0l6-6M729.5 1180.5l6 6m-6 0l6-6M729.5 1184.5l6 6m-6 0l6-6M729.5 1193.5l6 6m-6 0l6-6M729.5 1169.5l6 6m-6 0l6-6M729.5 1190.5l6 6m-6 0l6-6M730.5 1187.5l6 6m-6 0l6-6M730.5 1174.5l6 6m-6 0l6-6M730.5 1197.5l6 6m-6 0l6-6M730.5 1180.5l6 6m-6 0l6-6M730.5 1188.5l6 6m-6 0l6-6M730.5 1190.5l6 6m-6 0l6-6M730.5 1169.5l6 6m-6 0l6-6M731.5 1187.5l6 6m-6 0l6-6M731.5 1190.5l6 6m-6 0l6-6M731.5 1176.5l6 6m-6 0l6-6M731.5 1181.5l6 6m-6 0l6-6M731.5 1186.5l6 6m-6 0l6-6M731.5 1174.5l6 6m-6 0l6-6M732.5 1189.5l6 6m-6 0l6-6M732.5 1191.5l6 6m-6 0l6-6M732.5 1185.5l6 6m-6 0l6-6M732.5 1183.5l6 6m-6 0l6-6M732.5 1190.5l6 6m-6 0l6-6M732.5 1176.5l6 6m-6 0l6-6M733.5 1183.5l6 6m-6 0l6-6M733.5 1205.5l6 6m-6 0l6-6M733.5 1196.5l6 6m-6 0l6-6M733.5 1165.5l6 6m-6 0l6-6M733.5 1189.5l6 6m-6 0l6-6M733.5 1177.5l6 6m-6 0l6-6M734.5 1173.5l6 6m-6 0l6-6M734.5 1182.5l6 6m-6 0l6-6M734.5 1181.5l6 6m-6 0l6-6M734.5 1180.5l6 6m-6 0l6-6M734.5 1180.5l6 6m-6 0l6-6M734.5 1188.5l6 6m-6 0l6-6M734.5 1198.5l6 6m-6 0l6-6M735.5 1195.5l6 6m-6 0l6-6M735.5 1185.5l6 6m-6 0l6-6M735.5 1201.5l6 6m-6 0l6-6M735.5 1179.5l6 6m-6 0l6-6M735.5 1181.5l6 6m-6 0l6-6M735.5 1180.5l6 6m-6 0l6-6M736.5 1198.5l6 6m-6 0l6-6M736.5 1193.5l6 6m-6 0l6-6M736.5 1192.5l6 6m-6 0l6-6M736.5 1173.5l6 6m-6 0l6-6M736.5 1177.5l6 6m-6 0l6-6M736.5 1186.5l6 6m-6 0l6-6M737.5 1180.5l6 6m-6 0l6-6M737.5 1169.5l6 6m-6 0l6-6M737.5 1175.5l6 6m-6 0l6-6M737.5 1191.5l6 6m-6 0l6-6M737.5 1195.5l6 6m-6 0l6-6M737.5 1195.5l6 6m-6 0l6-6M738.5 1177.5l6 6m-6 0l6-6M738.5 1196.5l6 6m-6 0l6-6M738.5 1186.5l6 6m-6 0l6-6M738.5 1185.5l6 6m-6 0l6-6M738.5 1187.5l6 6m-6 0l6-6M738.5 1193.5l6 6m-6 0l6-6M739.5 1174.5l6 6m-6 0l6-6M739.5 1186.5l6 6m-6 0l6-6M739.5 1178.5l6 6m-6 0l6-6M739.5 1193.5l6 6m-6 0l6-6M739.5 1196.5l6 6m-6 0l6-6M739.5 1191.5l6 6m-6 0l6-6M739.5 1182.5l6 6m-6 0l6-6M740.5 1179.5l6 6m-6 0l6-6M740.5 1193.5l6 6m-6 0l6-6M740.5 1182.5l6 6m-6 0l6-6M740.5 1200.5l6 6m-6 0l6-6M740.5 1192.5l6 6m-6 0l6-6M740.5 1181.5l6 6m-6 0l6-6M741.5 1180.5l6 6m-6 0l6-6M741.5 1170.5l6 6m-6 0l6-6M741.5 1177.5l6 6m-6 0l6-6M741.5 1180.5l6 6m-6 0l6-6M741.5 1188.5l6 6m-6 0l6-6M741.5 1185.5l6 6m-6 0l6-6M742.5 1191.5l6 6m-6 0l6-6M742.5 1189.5l6 6m-6 0l6-6M742.5 1176.5l6 6m-6 0l6-6M742.5 1209.5l6 6m-6 0l6-6M742.5 1198.5l6 6m-6 0l6-6M742.5 1190.5l6 6m-6 0l6-6M743.5 1193.5l6 6m-6 0l6-6M743.5 1180.5l6 6m-6 0l6-6M743.5 1182.5l6 6m-6 0l6-6M743.5 1203.5l6 6m-6 0l6-6M743.5 1171.5l6 6m-6 0l6-6M743.5 1196.5l6 6m-6 0l6-6M743.5 1175.5l6 6m-6 0l6-6M744.5 1190.5l6 6m-6 0l6-6M744.5 1191.5l6 6m-6 0l6-6M744.5 1179.5l6 6m-6 0l6-6M744.5 1177.5l6 6m-6 0l6-6M744.5 1199.5l6 6m-6 0l6-6M744.5 1198.5l6 6m-6 0l6-6M745.5 1180.5l6 6m-6 0l6-6M745.5 1209.5l6 6m-6 0l6-6M745.5 1201.5l6 6m-6 0l6-6M745.5 1174.5l6 6m-6 0l6-6M745.5 1190.5l6 6m-6 0l6-6M745.5 1189.5l6 6m-6 0l6-6M746.5 1177.5l6 6m-6 0l6-6M746.5 1181.5l6 6m-6 0l6-6M746.5 1186.5l6 6m-6 0l6-6M746.5 1183.5l6 6m-6 0l6-6M746.5 1184.5l6 6m-6 0l6-6M746.5 1171.5l6 6m-6 0l6-6M747.5 1188.5l6 6m-6 0l6-6M747.5 1200.5l6 6m-6 0l6-6M747.5 1161.5l6 6m-6 0l6-6M747.5 1195.5l6 6m-6 0l6-6M747.5 1183.5l6 6m-6 0l6-6M747.5 1186.5l6 6m-6 0l6-6M748.5 1179.5l6 6m-6 0l6-6M748.5 1154.5l6 6m-6 0l6-6M748.5 1148.5l6 6m-6 0l6-6M748.5 1199.5l6 6m-6 0l6-6M748.5 1171.5l6 6m-6 0l6-6M748.5 1183.5l6 6m-6 0l6-6M748.5 1164.5l6 6m-6 0l6-6M749.5 1169.5l6 6m-6 0l6-6M749.5 1177.5l6 6m-6 0l6-6M749.5 1198.5l6 6m-6 0l6-6M749.5 1180.5l6 6m-6 0l6-6M749.5 1176.5l6 6m-6 0l6-6M749.5 1186.5l6 6m-6 0l6-6M750.5 1190.5l6 6m-6 0l6-6M750.5 1183.5l6 6m-6 0l6-6M750.5 1194.5l6 6m-6 0l6-6M750.5 1198.5l6 6m-6 0l6-6M750.5 1183.5l6 6m-6 0l6-6M750.5 1166.5l6 6m-6 0l6-6M751.5 1179.5l6 6m-6 0l6-6M751.5 1181.5l6 6m-6 0l6-6M751.5 1191.5l6 6m-6 0l6-6M751.5 1184.5l6 6m-6 0l6-6M751.5 1188.5l6 6m-6 0l6-6M751.5 1199.5l6 6m-6 0l6-6M752.5 1197.5l6 6m-6 0l6-6M752.5 1167.5l6 6m-6 0l6-6M752.5 1193.5l6 6m-6 0l6-6M752.5 1177.5l6 6m-6 0l6-6M752.5 1182.5l6 6m-6 0l6-6M752.5 1185.5l6 6m-6 0l6-6M753.5 1188.5l6 6m-6 0l6-6M753.5 1185.5l6 6m-6 0l6-6M753.5 1210.5l6 6m-6 0l6-6M753.5 1170.5l6 6m-6 0l6-6M753.5 1192.5l6 6m-6 0l6-6M753.5 1183.5l6 6m-6 0l6-6M753.5 1181.5l6 6m-6 0l6-6M754.5 1200.5l6 6m-6 0l6-6M754.5 1192.5l6 6m-6 0l6-6M754.5 1190.5l6 6m-6 0l6-6M754.5 1182.5l6 6m-6 0l6-6M754.5 1188.5l6 6m-6 0l6-6M754.5 1182.5l6 6m-6 0l6-6M755.5 1182.5l6 6m-6 0l6-6M755.5 1194.5l6 6m-6 0l6-6M755.5 1185.5l6 6m-6 0l6-6M755.5 1184.5l6 6m-6 0l6-6M755.5 1168.5l6 6m-6 0l6-6M755.5 1176.5l6 6m-6 0l6-6M756.5 1176.5l6 6m-6 0l6-6M756.5 1171.5l6 6m-6 0l6-6M756.5 1177.5l6 6m-6 0l6-6M756.5 1177.5l6 6m-6 0l6-6M756.5 1172.5l6 6m-6 0l6-6M756.5 1155.5l6 6m-6 0l6-6M757.5 1186.5l6 6m-6 0l6-6M757.5 1183.5l6 6m-6 0l6-6M757.5 1192.5l6 6m-6 0l6-6M757.5 1177.5l6 6m-6 0l6-6M757.5 1189.5l6 6m-6 0l6-6M757.5 1198.5l6 6m-6 0l6-6M757.5 1195.5l6 6m-6 0l6-6M758.5 1185.5l6 6m-6 0l6-6M758.5 1188.5l6 6m-6 0l6-6M758.5 1172.5l6 6m-6 0l6-6M758.5 1193.5l6 6m-6 0l6-6M758.5 1198.5l6 6m-6 0l6-6M758.5 1189.5l6 6m-6 0l6-6M759.5 1177.5l6 6m-6 0l6-6M759.5 1188.5l6 6m-6 0l6-6M759.5 1186.5l6 6m-6 0l6-6M759.5 1174.5l6 6m-6 0l6-6M759.5 1180.5l6 6m-6 0l6-6M759.5 1166.5l6 6m-6 0l6-6M760.5 1183.5l6 6m-6 0l6-6M760.5 1187.5l6 6m-6 0l6-6M760.5 1184.5l6 6m-6 0l6-6M760.5 1180.5l6 6m-6 0l6-6M760.5 1182.5l6 6m-6 0l6-6M760.5 1185.5l6 6m-6 0l6-6M761.5 1185.5l6 6m-6 0l6-6M761.5 1188.5l6 6m-6 0l6-6M761.5 1181.5l6 6m-6 0l6-6M761.5 1163.5l6 6m-6 0l6-6M761.5 1194.5l6 6m-6 0l6-6M761.5 1188.5l6 6m-6 0l6-6M762.5 1186.5l6 6m-6 0l6-6M762.5 1189.5l6 6m-6 0l6-6M762.5 1181.5l6 6m-6 0l6-6M762.5 1197.5l6 6m-6 0l6-6M762.5 1179.5l6 6m-6 0l6-6M762.5 1179.5l6 6m-6 0l6-6M762.5 1196.5l6 6m-6 0l6-6M763.5 1181.5l6 6m-6 0l6-6M763.5 1168.5l6 6m-6 0l6-6M763.5 1208.5l6 6m-6 0l6-6M763.5 1196.5l6 6m-6 0l6-6M763.5 1178.5l6 6m-6 0l6-6M763.5 1161.5l6 6m-6 0l6-6M764.5 1196.5l6 6m-6 0l6-6M764.5 1174.5l6 6m-6 0l6-6M764.5 1199.5l6 6m-6 0l6-6M764.5 1187.5l6 6m-6 0l6-6M764.5 1190.5l6 6m-6 0l6-6M764.5 1191.5l6 6m-6 0l6-6M765.5 1173.5l6 6m-6 0l6-6M765.5 1172.5l6 6m-6 0l6-6M765.5 1190.5l6 6m-6 0l6-6M765.5 1179.5l6 6m-6 0l6-6M765.5 1194.5l6 6m-6 0l6-6M765.5 1187.5l6 6m-6 0l6-6M766.5 1209.5l6 6m-6 0l6-6M766.5 1186.5l6 6m-6 0l6-6M766.5 1177.5l6 6m-6 0l6-6M766.5 1188.5l6 6m-6 0l6-6M766.5 1177.5l6 6m-6 0l6-6M766.5 1194.5l6 6m-6 0l6-6M767.5 1186.5l6 6m-6 0l6-6M767.5 1171.5l6 6m-6 0l6-6M767.5 1190.5l6 6m-6 0l6-6M767.5 1202.5l6 6m-6 0l6-6M767.5 1195.5l6 6m-6 0l6-6M767.5 1188.5l6 6m-6 0l6-6M767.5 1163.5l6 6m-6 0l6-6M768.5 1188.5l6 6m-6 0l6-6M768.5 1184.5l6 6m-6 0l6-6M768.5 1188.5l6 6m-6 0l6-6M768.5 1166.5l6 6m-6 0l6-6M768.5 1201.5l6 6m-6 0l6-6M768.5 1195.5l6 6m-6 0l6-6M769.5 1182.5l6 6m-6 0l6-6M769.5 1206.5l6 6m-6 0l6-6M769.5 1185.5l6 6m-6 0l6-6M769.5 1177.5l6 6m-6 0l6-6M769.5 1187.5l6 6m-6 0l6-6M769.5 1169.5l6 6m-6 0l6-6M770.5 1170.5l6 6m-6 0l6-6M770.5 1189.5l6 6m-6 0l6-6M770.5 1178.5l6 6m-6 0l6-6M770.5 1205.5l6 6m-6 0l6-6M770.5 1179.5l6 6m-6 0l6-6M770.5 1172.5l6 6m-6 0l6-6M771.5 1168.5l6 6m-6 0l6-6M771.5 1162.5l6 6m-6 0l6-6M771.5 1184.5l6 6m-6 0l6-6M771.5 1189.5l6 6m-6 0l6-6M771.5 1182.5l6 6m-6 0l6-6M771.5 1187.5l6 6m-6 0l6-6M771.5 1182.5l6 6m-6 0l6-6M772.5 1204.5l6 6m-6 0l6-6M772.5 1178.5l6 6m-6 0l6-6M772.5 1180.5l6 6m-6 0l6-6M772.5 1199.5l6 6m-6 0l6-6M772.5 1182.5l6 6m-6 0l6-6M772.5 1177.5l6 6m-6 0l6-6M773.5 1177.5l6 6m-6 0l6-6M773.5 1194.5l6 6m-6 0l6-6M773.5 1208.5l6 6m-6 0l6-6M773.5 1188.5l6 6m-6 0l6-6M773.5 1198.5l6 6m-6 0l6-6M773.5 1175.5l6 6m-6 0l6-6M774.5 1178.5l6 6m-6 0l6-6M774.5 1190.5l6 6m-6 0l6-6M774.5 1203.5l6 6m-6 0l6-6M774.5 1175.5l6 6m-6 0l6-6M774.5 1194.5l6 6m-6 0l6-6M774.5 1159.5l6 6m-6 0l6-6M775.5 1203.5l6 6m-6 0l6-6M775.5 1178.5l6 6m-6 0l6-6M775.5 1190.5l6 6m-6 0l6-6M775.5 1181.5l6 6m-6 0l6-6M775.5 1181.5l6 6m-6 0l6-6M775.5 1176.5l6 6m-6 0l6-6M776.5 1178.5l6 6m-6 0l6-6M776.5 1175.5l6 6m-6 0l6-6M776.5 1192.5l6 6m-6 0l6-6M776.5 1169.5l6 6m-6 0l6-6M776.5 1170.5l6 6m-6 0l6-6M776.5 1195.5l6 6m-6 0l6-6M776.5 1179.5l6 6m-6 0l6-6M777.5 1179.5l6 6m-6 0l6-6M777.5 1195.5l6 6m-6 0l6-6M777.5 1171.5l6 6m-6 0l6-6M777.5 1191.5l6 6m-6 0l6-6M777.5 1183.5l6 6m-6 0l6-6M777.5 1192.5l6 6m-6 0l6-6M778.5 1171.5l6 6m-6 0l6-6M778.5 1183.5l6 6m-6 0l6-6M778.5 1183.5l6 6m-6 0l6-6M778.5 1168.5l6 6m-6 0l6-6M778.5 1177.5l6 6m-6 0l6-6M778.5 1180.5l6 6m-6 0l6-6M779.5 1193.5l6 6m-6 0l6-6M779.5 1182.5l6 6m-6 0l6-6M779.5 1200.5l6 6m-6 0l6-6M779.5 1183.5l6 6m-6 0l6-6M779.5 1170.5l6 6m-6 0l6-6M779.5 1193.5l6 6m-6 0l6-6M780.5 1180.5l6 6m-6 0l6-6M780.5 1199.5l6 6m-6 0l6-6M780.5 1197.5l6 6m-6 0l6-6M780.5 1190.5l6 6m-6 0l6-6M780.5 1187.5l6 6m-6 0l6-6M780.5 1154.5l6 6m-6 0l6-6M780.5 1195.5l6 6m-6 0l6-6M781.5 1182.5l6 6m-6 0l6-6M781.5 1174.5l6 6m-6 0l6-6M781.5 1186.5l6 6m-6 0l6-6M781.5 1195.5l6 6m-6 0l6-6M781.5 1193.5l6 6m-6 0l6-6M781.5 1177.5l6 6m-6 0l6-6M782.5 1182.5l6 6m-6 0l6-6M782.5 1179.5l6 6m-6 0l6-6M782.5 1191.5l6 6m-6 0l6-6M782.5 1176.5l6 6m-6 0l6-6M782.5 1197.5l6 6m-6 0l6-6M782.5 1187.5l6 6m-6 0l6-6M783.5 1205.5l6 6m-6 0l6-6M783.5 1178.5l6 6m-6 0l6-6M783.5 1233.5l6 6m-6 0l6-6M783.5 1187.5l6 6m-6 0l6-6M783.5 1180.5l6 6m-6 0l6-6M783.5 1200.5l6 6m-6 0l6-6M784.5 1192.5l6 6m-6 0l6-6M784.5 1186.5l6 6m-6 0l6-6M784.5 1206.5l6 6m-6 0l6-6M784.5 1175.5l6 6m-6 0l6-6M784.5 1212.5l6 6m-6 0l6-6M784.5 1161.5l6 6m-6 0l6-6M785.5 1193.5l6 6m-6 0l6-6M785.5 1184.5l6 6m-6 0l6-6M785.5 1183.5l6 6m-6 0l6-6M785.5 1181.5l6 6m-6 0l6-6M785.5 1180.5l6 6m-6 0l6-6M785.5 1187.5l6 6m-6 0l6-6M785.5 1189.5l6 6m-6 0l6-6M786.5 1181.5l6 6m-6 0l6-6M786.5 1200.5l6 6m-6 0l6-6M786.5 1174.5l6 6m-6 0l6-6M786.5 1184.5l6 6m-6 0l6-6M786.5 1185.5l6 6m-6 0l6-6M786.5 1185.5l6 6m-6 0l6-6M787.5 1178.5l6 6m-6 0l6-6M787.5 1182.5l6 6m-6 0l6-6M787.5 1172.5l6 6m-6 0l6-6M787.5 1169.5l6 6m-6 0l6-6M787.5 1170.5l6 6m-6 0l6-6M787.5 1189.5l6 6m-6 0l6-6M788.5 1153.5l6 6m-6 0l6-6M788.5 1183.5l6 6m-6 0l6-6M788.5 1178.5l6 6m-6 0l6-6M788.5 1199.5l6 6m-6 0l6-6M788.5 1175.5l6 6m-6 0l6-6M788.5 1232.5l6 6m-6 0l6-6M789.5 1200.5l6 6m-6 0l6-6M789.5 1171.5l6 6m-6 0l6-6M789.5 1196.5l6 6m-6 0l6-6M789.5 1193.5l6 6m-6 0l6-6M789.5 1214.5l6 6m-6 0l6-6M789.5 1181.5l6 6m-6 0l6-6M790.5 1182.5l6 6m-6 0l6-6M790.5 1190.5l6 6m-6 0l6-6M790.5 1166.5l6 6m-6 0l6-6M790.5 1173.5l6 6m-6 0l6-6M790.5 1193.5l6 6m-6 0l6-6M790.5 1197.5l6 6m-6 0l6-6M790.5 1194.5l6 6m-6 0l6-6M791.5 1201.5l6 6m-6 0l6-6M791.5 1180.5l6 6m-6 0l6-6M791.5 1163.5l6 6m-6 0l6-6M791.5 1176.5l6 6m-6 0l6-6M791.5 1188.5l6 6m-6 0l6-6M791.5 1201.5l6 6m-6 0l6-6M792.5 1186.5l6 6m-6 0l6-6M792.5 1194.5l6 6m-6 0l6-6M792.5 1175.5l6 6m-6 0l6-6M792.5 1190.5l6 6m-6 0l6-6M792.5 1184.5l6 6m-6 0l6-6M792.5 1177.5l6 6m-6 0l6-6M793.5 1205.5l6 6m-6 0l6-6M793.5 1173.5l6 6m-6 0l6-6M793.5 1204.5l6 6m-6 0l6-6M793.5 1174.5l6 6m-6 0l6-6M793.5 1177.5l6 6m-6 0l6-6M793.5 1181.5l6 6m-6 0l6-6M794.5 1199.5l6 6m-6 0l6-6M794.5 1203.5l6 6m-6 0l6-6M794.5 1169.5l6 6m-6 0l6-6M794.5 1193.5l6 6m-6 0l6-6M794.5 1157.5l6 6m-6 0l6-6M794.5 1180.5l6 6m-6 0l6-6M794.5 1152.5l6 6m-6 0l6-6M795.5 1176.5l6 6m-6 0l6-6M795.5 1180.5l6 6m-6 0l6-6M795.5 1194.5l6 6m-6 0l6-6M795.5 1195.5l6 6m-6 0l6-6M795.5 1168.5l6 6m-6 0l6-6M795.5 1203.5l6 6m-6 0l6-6M796.5 1193.5l6 6m-6 0l6-6M796.5 1180.5l6 6m-6 0l6-6M796.5 1196.5l6 6m-6 0l6-6M796.5 1177.5l6 6m-6 0l6-6M796.5 1166.5l6 6m-6 0l6-6M796.5 1186.5l6 6m-6 0l6-6M797.5 1161.5l6 6m-6 0l6-6M797.5 1180.5l6 6m-6 0l6-6M797.5 1166.5l6 6m-6 0l6-6M797.5 1171.5l6 6m-6 0l6-6M797.5 1188.5l6 6m-6 0l6-6M797.5 1177.5l6 6m-6 0l6-6M798.5 1177.5l6 6m-6 0l6-6M798.5 1174.5l6 6m-6 0l6-6M798.5 1178.5l6 6m-6 0l6-6M798.5 1189.5l6 6m-6 0l6-6M798.5 1196.5l6 6m-6 0l6-6M798.5 1168.5l6 6m-6 0l6-6M799.5 1191.5l6 6m-6 0l6-6M799.5 1177.5l6 6m-6 0l6-6M799.5 1190.5l6 6m-6 0l6-6M799.5 1183.5l6 6m-6 0l6-6M799.5 1201.5l6 6m-6 0l6-6M799.5 1179.5l6 6m-6 0l6-6M799.5 1188.5l6 6m-6 0l6-6M800.5 1177.5l6 6m-6 0l6-6M800.5 1196.5l6 6m-6 0l6-6M800.5 1180.5l6 6m-6 0l6-6M800.5 1185.5l6 6m-6 0l6-6M800.5 1180.5l6 6m-6 0l6-6M800.5 1182.5l6 6m-6 0l6-6M801.5 1186.5l6 6m-6 0l6-6M801.5 1186.5l6 6m-6 0l6-6M801.5 1184.5l6 6m-6 0l6-6M801.5 1191.5l6 6m-6 0l6-6M801.5 1176.5l6 6m-6 0l6-6M801.5 1167.5l6 6m-6 0l6-6M802.5 1175.5l6 6m-6 0l6-6M802.5 1203.5l6 6m-6 0l6-6M802.5 1183.5l6 6m-6 0l6-6M802.5 1179.5l6 6m-6 0l6-6M802.5 1169.5l6 6m-6 0l6-6M802.5 1187.5l6 6m-6 0l6-6M803.5 1196.5l6 6m-6 0l6-6M803.5 1189.5l6 6m-6 0l6-6M803.5 1171.5l6 6m-6 0l6-6M803.5 1172.5l6 6m-6 0l6-6M803.5 1202.5l6 6m-6 0l6-6M803.5 1180.5l6 6m-6 0l6-6M803.5 1183.5l6 6m-6 0l6-6M804.5 1202.5l6 6m-6 0l6-6M804.5 1186.5l6 6m-6 0l6-6M804.5 1175.5l6 6m-6 0l6-6M804.5 1195.5l6 6m-6 0l6-6M804.5 1193.5l6 6m-6 0l6-6M804.5 1176.5l6 6m-6 0l6-6M805.5 1172.5l6 6m-6 0l6-6M805.5 1198.5l6 6m-6 0l6-6M805.5 1175.5l6 6m-6 0l6-6M805.5 1171.5l6 6m-6 0l6-6M805.5 1167.5l6 6m-6 0l6-6M805.5 1187.5l6 6m-6 0l6-6M806.5 1186.5l6 6m-6 0l6-6M806.5 1179.5l6 6m-6 0l6-6M806.5 1190.5l6 6m-6 0l6-6M806.5 1185.5l6 6m-6 0l6-6M806.5 1179.5l6 6m-6 0l6-6M806.5 1185.5l6 6m-6 0l6-6M807.5 1177.5l6 6m-6 0l6-6M807.5 1189.5l6 6m-6 0l6-6M807.5 1195.5l6 6m-6 0l6-6M807.5 1196.5l6 6m-6 0l6-6M807.5 1187.5l6 6m-6 0l6-6M807.5 1191.5l6 6m-6 0l6-6M808.5 1216.5l6 6m-6 0l6-6M808.5 1201.5l6 6m-6 0l6-6M808.5 1169.5l6 6m-6 0l6-6M808.5 1174.5l6 6m-6 0l6-6M808.5 1180.5l6 6m-6 0l6-6M808.5 1192.5l6 6m-6 0l6-6M808.5 1184.5l6 6m-6 0l6-6M809.5 1166.5l6 6m-6 0l6-6M809.5 1192.5l6 6m-6 0l6-6M809.5 1161.5l6 6m-6 0l6-6M809.5 1172.5l6 6m-6 0l6-6M809.5 1172.5l6 6m-6 0l6-6M809.5 1166.5l6 6m-6 0l6-6M810.5 1201.5l6 6m-6 0l6-6M810.5 1171.5l6 6m-6 0l6-6M810.5 1176.5l6 6m-6 0l6-6M810.5 1175.5l6 6m-6 0l6-6M810.5 1210.5l6 6m-6 0l6-6M810.5 1181.5l6 6m-6 0l6-6M811.5 1186.5l6 6m-6 0l6-6M811.5 1205.5l6 6m-6 0l6-6M811.5 1188.5l6 6m-6 0l6-6M811.5 1194.5l6 6m-6 0l6-6M811.5 1178.5l6 6m-6 0l6-6M811.5 1181.5l6 6m-6 0l6-6M812.5 1182.5l6 6m-6 0l6-6M812.5 1178.5l6 6m-6 0l6-6M812.5 1184.5l6 6m-6 0l6-6M812.5 1183.5l6 6m-6 0l6-6M812.5 1199.5l6 6m-6 0l6-6M812.5 1176.5l6 6m-6 0l6-6M813.5 1180.5l6 6m-6 0l6-6M813.5 1190.5l6 6m-6 0l6-6M813.5 1183.5l6 6m-6 0l6-6M813.5 1188.5l6 6m-6 0l6-6M813.5 1185.5l6 6m-6 0l6-6M813.5 1188.5l6 6m-6 0l6-6M813.5 1182.5l6 6m-6 0l6-6M814.5 1214.5l6 6m-6 0l6-6M814.5 1184.5l6 6m-6 0l6-6M814.5 1171.5l6 6m-6 0l6-6M814.5 1196.5l6 6m-6 0l6-6M814.5 1165.5l6 6m-6 0l6-6M814.5 1191.5l6 6m-6 0l6-6M815.5 1189.5l6 6m-6 0l6-6M815.5 1183.5l6 6m-6 0l6-6M815.5 1197.5l6 6m-6 0l6-6M815.5 1187.5l6 6m-6 0l6-6M815.5 1177.5l6 6m-6 0l6-6M815.5 1191.5l6 6m-6 0l6-6M816.5 1170.5l6 6m-6 0l6-6M816.5 1183.5l6 6m-6 0l6-6M816.5 1183.5l6 6m-6 0l6-6M816.5 1193.5l6 6m-6 0l6-6M816.5 1204.5l6 6m-6 0l6-6M816.5 1192.5l6 6m-6 0l6-6M817.5 1186.5l6 6m-6 0l6-6M817.5 1186.5l6 6m-6 0l6-6M817.5 1188.5l6 6m-6 0l6-6M817.5 1187.5l6 6m-6 0l6-6M817.5 1175.5l6 6m-6 0l6-6M817.5 1191.5l6 6m-6 0l6-6M817.5 1184.5l6 6m-6 0l6-6M818.5 1174.5l6 6m-6 0l6-6M818.5 1204.5l6 6m-6 0l6-6M818.5 1184.5l6 6m-6 0l6-6M818.5 1200.5l6 6m-6 0l6-6M818.5 1182.5l6 6m-6 0l6-6M818.5 1168.5l6 6m-6 0l6-6M819.5 1189.5l6 6m-6 0l6-6M819.5 1201.5l6 6m-6 0l6-6M819.5 1187.5l6 6m-6 0l6-6M819.5 1168.5l6 6m-6 0l6-6M819.5 1195.5l6 6m-6 0l6-6M819.5 1187.5l6 6m-6 0l6-6M820.5 1179.5l6 6m-6 0l6-6M820.5 1187.5l6 6m-6 0l6-6M820.5 1199.5l6 6m-6 0l6-6M820.5 1196.5l6 6m-6 0l6-6M820.5 1193.5l6 6m-6 0l6-6M820.5 1194.5l6 6m-6 0l6-6M821.5 1175.5l6 6m-6 0l6-6M821.5 1176.5l6 6m-6 0l6-6M821.5 1179.5l6 6m-6 0l6-6M821.5 1189.5l6 6m-6 0l6-6M821.5 1187.5l6 6m-6 0l6-6M821.5 1169.5l6 6m-6 0l6-6M822.5 1178.5l6 6m-6 0l6-6M822.5 1188.5l6 6m-6 0l6-6M822.5 1180.5l6 6m-6 0l6-6M822.5 1191.5l6 6m-6 0l6-6M822.5 1221.5l6 6m-6 0l6-6M822.5 1188.5l6 6m-6 0l6-6M822.5 1187.5l6 6m-6 0l6-6M823.5 1182.5l6 6m-6 0l6-6M823.5 1179.5l6 6m-6 0l6-6M823.5 1191.5l6 6m-6 0l6-6M823.5 1183.5l6 6m-6 0l6-6M823.5 1190.5l6 6m-6 0l6-6M823.5 1187.5l6 6m-6 0l6-6M824.5 1184.5l6 6m-6 0l6-6M824.5 1184.5l6 6m-6 0l6-6M824.5 1195.5l6 6m-6 0l6-6M824.5 1192.5l6 6m-6 0l6-6M824.5 1191.5l6 6m-6 0l6-6M824.5 1169.5l6 6m-6 0l6-6M825.5 1181.5l6 6m-6 0l6-6M825.5 1199.5l6 6m-6 0l6-6M825.5 1178.5l6 6m-6 0l6-6M825.5 1175.5l6 6m-6 0l6-6M825.5 1186.5l6 6m-6 0l6-6M825.5 1175.5l6 6m-6 0l6-6M826.5 1182.5l6 6m-6 0l6-6M826.5 1189.5l6 6m-6 0l6-6M826.5 1189.5l6 6m-6 0l6-6M826.5 1196.5l6 6m-6 0l6-6M826.5 1183.5l6 6m-6 0l6-6M826.5 1179.5l6 6m-6 0l6-6M826.5 1184.5l6 6m-6 0l6-6M827.5 1173.5l6 6m-6 0l6-6M827.5 1193.5l6 6m-6 0l6-6M827.5 1176.5l6 6m-6 0l6-6M827.5 1186.5l6 6m-6 0l6-6M827.5 1188.5l6 6m-6 0l6-6M827.5 1194.5l6 6m-6 0l6-6M828.5 1186.5l6 6m-6 0l6-6M828.5 1177.5l6 6m-6 0l6-6M828.5 1196.5l6 6m-6 0l6-6M828.5 1195.5l6 6m-6 0l6-6M828.5 1181.5l6 6m-6 0l6-6M828.5 1182.5l6 6m-6 0l6-6M829.5 1187.5l6 6m-6 0l6-6M829.5 1174.5l6 6m-6 0l6-6M829.5 1201.5l6 6m-6 0l6-6M829.5 1191.5l6 6m-6 0l6-6M829.5 1174.5l6 6m-6 0l6-6M829.5 1193.5l6 6m-6 0l6-6M830.5 1191.5l6 6m-6 0l6-6M830.5 1182.5l6 6m-6 0l6-6M830.5 1183.5l6 6m-6 0l6-6M830.5 1188.5l6 6m-6 0l6-6M830.5 1182.5l6 6m-6 0l6-6M830.5 1185.5l6 6m-6 0l6-6M831.5 1186.5l6 6m-6 0l6-6M831.5 1179.5l6 6m-6 0l6-6M831.5 1178.5l6 6m-6 0l6-6M831.5 1184.5l6 6m-6 0l6-6M831.5 1186.5l6 6m-6 0l6-6M831.5 1189.5l6 6m-6 0l6-6M831.5 1177.5l6 6m-6 0l6-6M832.5 1188.5l6 6m-6 0l6-6M832.5 1183.5l6 6m-6 0l6-6M832.5 1173.5l6 6m-6 0l6-6M832.5 1180.5l6 6m-6 0l6-6M832.5 1185.5l6 6m-6 0l6-6M832.5 1179.5l6 6m-6 0l6-6M833.5 1187.5l6 6m-6 0l6-6M833.5 1173.5l6 6m-6 0l6-6M833.5 1193.5l6 6m-6 0l6-6M833.5 1184.5l6 6m-6 0l6-6M833.5 1191.5l6 6m-6 0l6-6M833.5 1180.5l6 6m-6 0l6-6M834.5 1178.5l6 6m-6 0l6-6M834.5 1190.5l6 6m-6 0l6-6M834.5 1178.5l6 6m-6 0l6-6M834.5 1184.5l6 6m-6 0l6-6M834.5 1202.5l6 6m-6 0l6-6M834.5 1172.5l6 6m-6 0l6-6M835.5 1183.5l6 6m-6 0l6-6M835.5 1192.5l6 6m-6 0l6-6M835.5 1184.5l6 6m-6 0l6-6M835.5 1194.5l6 6m-6 0l6-6M835.5 1170.5l6 6m-6 0l6-6M835.5 1190.5l6 6m-6 0l6-6M836.5 1183.5l6 6m-6 0l6-6M836.5 1182.5l6 6m-6 0l6-6M836.5 1193.5l6 6m-6 0l6-6M836.5 1192.5l6 6m-6 0l6-6M836.5 1187.5l6 6m-6 0l6-6M836.5 1168.5l6 6m-6 0l6-6M836.5 1187.5l6 6m-6 0l6-6M837.5 1191.5l6 6m-6 0l6-6M837.5 1178.5l6 6m-6 0l6-6M837.5 1171.5l6 6m-6 0l6-6M837.5 1178.5l6 6m-6 0l6-6M837.5 1186.5l6 6m-6 0l6-6M837.5 1175.5l6 6m-6 0l6-6M838.5 1175.5l6 6m-6 0l6-6M838.5 1182.5l6 6m-6 0l6-6M838.5 1198.5l6 6m-6 0l6-6M838.5 1192.5l6 6m-6 0l6-6M838.5 1177.5l6 6m-6 0l6-6M838.5 1197.5l6 6m-6 0l6-6M839.5 1181.5l6 6m-6 0l6-6M839.5 1186.5l6 6m-6 0l6-6M839.5 1198.5l6 6m-6 0l6-6M839.5 1196.5l6 6m-6 0l6-6M839.5 1198.5l6 6m-6 0l6-6M839.5 1166.5l6 6m-6 0l6-6M840.5 1180.5l6 6m-6 0l6-6M840.5 1189.5l6 6m-6 0l6-6M840.5 1186.5l6 6m-6 0l6-6M840.5 1184.5l6 6m-6 0l6-6M840.5 1190.5l6 6m-6 0l6-6M840.5 1185.5l6 6m-6 0l6-6M840.5 1212.5l6 6m-6 0l6-6M841.5 1190.5l6 6m-6 0l6-6M841.5 1196.5l6 6m-6 0l6-6M841.5 1185.5l6 6m-6 0l6-6M841.5 1189.5l6 6m-6 0l6-6M841.5 1180.5l6 6m-6 0l6-6M841.5 1188.5l6 6m-6 0l6-6M842.5 1184.5l6 6m-6 0l6-6M842.5 1193.5l6 6m-6 0l6-6M842.5 1186.5l6 6m-6 0l6-6M842.5 1185.5l6 6m-6 0l6-6M842.5 1169.5l6 6m-6 0l6-6M842.5 1187.5l6 6m-6 0l6-6M843.5 1178.5l6 6m-6 0l6-6M843.5 1190.5l6 6m-6 0l6-6M843.5 1187.5l6 6m-6 0l6-6M843.5 1189.5l6 6m-6 0l6-6M843.5 1194.5l6 6m-6 0l6-6M843.5 1192.5l6 6m-6 0l6-6M844.5 1182.5l6 6m-6 0l6-6M844.5 1176.5l6 6m-6 0l6-6M844.5 1180.5l6 6m-6 0l6-6M844.5 1187.5l6 6m-6 0l6-6M844.5 1181.5l6 6m-6 0l6-6M844.5 1190.5l6 6m-6 0l6-6M845.5 1192.5l6 6m-6 0l6-6M845.5 1179.5l6 6m-6 0l6-6M845.5 1185.5l6 6m-6 0l6-6M845.5 1191.5l6 6m-6 0l6-6M845.5 1170.5l6 6m-6 0l6-6M845.5 1174.5l6 6m-6 0l6-6M845.5 1200.5l6 6m-6 0l6-6M846.5 1181.5l6 6m-6 0l6-6M846.5 1185.5l6 6m-6 0l6-6M846.5 1187.5l6 6m-6 0l6-6M846.5 1169.5l6 6m-6 0l6-6M846.5 1181.5l6 6m-6 0l6-6M846.5 1191.5l6 6m-6 0l6-6M847.5 1184.5l6 6m-6 0l6-6M847.5 1204.5l6 6m-6 0l6-6M847.5 1184.5l6 6m-6 0l6-6M847.5 1191.5l6 6m-6 0l6-6M847.5 1172.5l6 6m-6 0l6-6M847.5 1186.5l6 6m-6 0l6-6M848.5 1194.5l6 6m-6 0l6-6M848.5 1189.5l6 6m-6 0l6-6M848.5 1181.5l6 6m-6 0l6-6M848.5 1172.5l6 6m-6 0l6-6M848.5 1179.5l6 6m-6 0l6-6M848.5 1181.5l6 6m-6 0l6-6M849.5 1174.5l6 6m-6 0l6-6M849.5 1191.5l6 6m-6 0l6-6M849.5 1170.5l6 6m-6 0l6-6M849.5 1181.5l6 6m-6 0l6-6M849.5 1176.5l6 6m-6 0l6-6M849.5 1179.5l6 6m-6 0l6-6M849.5 1186.5l6 6m-6 0l6-6M850.5 1189.5l6 6m-6 0l6-6M850.5 1185.5l6 6m-6 0l6-6M850.5 1186.5l6 6m-6 0l6-6M850.5 1178.5l6 6m-6 0l6-6M850.5 1179.5l6 6m-6 0l6-6M850.5 1180.5l6 6m-6 0l6-6M851.5 1187.5l6 6m-6 0l6-6M851.5 1199.5l6 6m-6 0l6-6M851.5 1180.5l6 6m-6 0l6-6M851.5 1183.5l6 6m-6 0l6-6M851.5 1196.5l6 6m-6 0l6-6M851.5 1172.5l6 6m-6 0l6-6M852.5 1189.5l6 6m-6 0l6-6M852.5 1188.5l6 6m-6 0l6-6M852.5 1194.5l6 6m-6 0l6-6M852.5 1180.5l6 6m-6 0l6-6M852.5 1189.5l6 6m-6 0l6-6M852.5 1190.5l6 6m-6 0l6-6M853.5 1188.5l6 6m-6 0l6-6M853.5 1191.5l6 6m-6 0l6-6M853.5 1179.5l6 6m-6 0l6-6M853.5 1181.5l6 6m-6 0l6-6M853.5 1196.5l6 6m-6 0l6-6M853.5 1186.5l6 6m-6 0l6-6M854.5 1187.5l6 6m-6 0l6-6M854.5 1186.5l6 6m-6 0l6-6M854.5 1175.5l6 6m-6 0l6-6M854.5 1190.5l6 6m-6 0l6-6M854.5 1178.5l6 6m-6 0l6-6M854.5 1169.5l6 6m-6 0l6-6M854.5 1179.5l6 6m-6 0l6-6M855.5 1170.5l6 6m-6 0l6-6M855.5 1189.5l6 6m-6 0l6-6M855.5 1166.5l6 6m-6 0l6-6M855.5 1186.5l6 6m-6 0l6-6M855.5 1189.5l6 6m-6 0l6-6M855.5 1183.5l6 6m-6 0l6-6M856.5 1192.5l6 6m-6 0l6-6M856.5 1185.5l6 6m-6 0l6-6M856.5 1178.5l6 6m-6 0l6-6M856.5 1188.5l6 6m-6 0l6-6M856.5 1185.5l6 6m-6 0l6-6M856.5 1190.5l6 6m-6 0l6-6M857.5 1178.5l6 6m-6 0l6-6M857.5 1180.5l6 6m-6 0l6-6M857.5 1190.5l6 6m-6 0l6-6M857.5 1205.5l6 6m-6 0l6-6M857.5 1179.5l6 6m-6 0l6-6M857.5 1171.5l6 6m-6 0l6-6M858.5 1190.5l6 6m-6 0l6-6M858.5 1186.5l6 6m-6 0l6-6M858.5 1188.5l6 6m-6 0l6-6M858.5 1188.5l6 6m-6 0l6-6M858.5 1185.5l6 6m-6 0l6-6M858.5 1186.5l6 6m-6 0l6-6M859.5 1188.5l6 6m-6 0l6-6M859.5 1190.5l6 6m-6 0l6-6M859.5 1187.5l6 6m-6 0l6-6M859.5 1181.5l6 6m-6 0l6-6M859.5 1187.5l6 6m-6 0l6-6M859.5 1176.5l6 6m-6 0l6-6M859.5 1183.5l6 6m-6 0l6-6M860.5 1187.5l6 6m-6 0l6-6M860.5 1175.5l6 6m-6 0l6-6M860.5 1204.5l6 6m-6 0l6-6M860.5 1181.5l6 6m-6 0l6-6M860.5 1182.5l6 6m-6 0l6-6M860.5 1198.5l6 6m-6 0l6-6M861.5 1193.5l6 6m-6 0l6-6M861.5 1176.5l6 6m-6 0l6-6M861.5 1172.5l6 6m-6 0l6-6M861.5 1180.5l6 6m-6 0l6-6M861.5 1185.5l6 6m-6 0l6-6M861.5 1193.5l6 6m-6 0l6-6M862.5 1186.5l6 6m-6 0l6-6M862.5 1168.5l6 6m-6 0l6-6M862.5 1175.5l6 6m-6 0l6-6M862.5 1180.5l6 6m-6 0l6-6M862.5 1170.5l6 6m-6 0l6-6M862.5 1193.5l6 6m-6 0l6-6M863.5 1201.5l6 6m-6 0l6-6M863.5 1194.5l6 6m-6 0l6-6M863.5 1197.5l6 6m-6 0l6-6M863.5 1191.5l6 6m-6 0l6-6M863.5 1190.5l6 6m-6 0l6-6M863.5 1193.5l6 6m-6 0l6-6M863.5 1182.5l6 6m-6 0l6-6M864.5 1195.5l6 6m-6 0l6-6M864.5 1185.5l6 6m-6 0l6-6M864.5 1198.5l6 6m-6 0l6-6M864.5 1177.5l6 6m-6 0l6-6M864.5 1188.5l6 6m-6 0l6-6M864.5 1196.5l6 6m-6 0l6-6M865.5 1185.5l6 6m-6 0l6-6M865.5 1178.5l6 6m-6 0l6-6M865.5 1185.5l6 6m-6 0l6-6M865.5 1199.5l6 6m-6 0l6-6M865.5 1175.5l6 6m-6 0l6-6M865.5 1189.5l6 6m-6 0l6-6M866.5 1205.5l6 6m-6 0l6-6M866.5 1194.5l6 6m-6 0l6-6M866.5 1186.5l6 6m-6 0l6-6M866.5 1191.5l6 6m-6 0l6-6M866.5 1193.5l6 6m-6 0l6-6M866.5 1192.5l6 6m-6 0l6-6M867.5 1187.5l6 6m-6 0l6-6M867.5 1180.5l6 6m-6 0l6-6M867.5 1182.5l6 6m-6 0l6-6M867.5 1195.5l6 6m-6 0l6-6M867.5 1186.5l6 6m-6 0l6-6M867.5 1179.5l6 6m-6 0l6-6M868.5 1170.5l6 6m-6 0l6-6M868.5 1190.5l6 6m-6 0l6-6M868.5 1172.5l6 6m-6 0l6-6M868.5 1202.5l6 6m-6 0l6-6M868.5 1191.5l6 6m-6 0l6-6M868.5 1186.5l6 6m-6 0l6-6M868.5 1180.5l6 6m-6 0l6-6M869.5 1206.5l6 6m-6 0l6-6M869.5 1190.5l6 6m-6 0l6-6M869.5 1199.5l6 6m-6 0l6-6M869.5 1198.5l6 6m-6 0l6-6M869.5 1184.5l6 6m-6 0l6-6M869.5 1194.5l6 6m-6 0l6-6M870.5 1182.5l6 6m-6 0l6-6M870.5 1174.5l6 6m-6 0l6-6M870.5 1187.5l6 6m-6 0l6-6M870.5 1185.5l6 6m-6 0l6-6M870.5 1201.5l6 6m-6 0l6-6M870.5 1182.5l6 6m-6 0l6-6M871.5 1174.5l6 6m-6 0l6-6M871.5 1188.5l6 6m-6 0l6-6M871.5 1198.5l6 6m-6 0l6-6M871.5 1172.5l6 6m-6 0l6-6M871.5 1180.5l6 6m-6 0l6-6M871.5 1197.5l6 6m-6 0l6-6M872.5 1176.5l6 6m-6 0l6-6M872.5 1211.5l6 6m-6 0l6-6M872.5 1189.5l6 6m-6 0l6-6M872.5 1184.5l6 6m-6 0l6-6M872.5 1194.5l6 6m-6 0l6-6M872.5 1186.5l6 6m-6 0l6-6M873.5 1195.5l6 6m-6 0l6-6M873.5 1192.5l6 6m-6 0l6-6M873.5 1195.5l6 6m-6 0l6-6M873.5 1180.5l6 6m-6 0l6-6M873.5 1189.5l6 6m-6 0l6-6M873.5 1191.5l6 6m-6 0l6-6M873.5 1176.5l6 6m-6 0l6-6M874.5 1185.5l6 6m-6 0l6-6M874.5 1188.5l6 6m-6 0l6-6M874.5 1195.5l6 6m-6 0l6-6M874.5 1186.5l6 6m-6 0l6-6M874.5 1189.5l6 6m-6 0l6-6M874.5 1187.5l6 6m-6 0l6-6M875.5 1179.5l6 6m-6 0l6-6M875.5 1186.5l6 6m-6 0l6-6M875.5 1187.5l6 6m-6 0l6-6M875.5 1182.5l6 6m-6 0l6-6M875.5 1192.5l6 6m-6 0l6-6M875.5 1189.5l6 6m-6 0l6-6M876.5 1167.5l6 6m-6 0l6-6M876.5 1196.5l6 6m-6 0l6-6M876.5 1168.5l6 6m-6 0l6-6M876.5 1197.5l6 6m-6 0l6-6M876.5 1208.5l6 6m-6 0l6-6M876.5 1185.5l6 6m-6 0l6-6M877.5 1178.5l6 6m-6 0l6-6M877.5 1194.5l6 6m-6 0l6-6M877.5 1189.5l6 6m-6 0l6-6M877.5 1184.5l6 6m-6 0l6-6M877.5 1191.5l6 6m-6 0l6-6M877.5 1189.5l6 6m-6 0l6-6M877.5 1182.5l6 6m-6 0l6-6M878.5 1181.5l6 6m-6 0l6-6M878.5 1189.5l6 6m-6 0l6-6M878.5 1188.5l6 6m-6 0l6-6M878.5 1192.5l6 6m-6 0l6-6M878.5 1177.5l6 6m-6 0l6-6M878.5 1186.5l6 6m-6 0l6-6M879.5 1183.5l6 6m-6 0l6-6M879.5 1189.5l6 6m-6 0l6-6M879.5 1176.5l6 6m-6 0l6-6M879.5 1197.5l6 6m-6 0l6-6M879.5 1195.5l6 6m-6 0l6-6M879.5 1188.5l6 6m-6 0l6-6M880.5 1186.5l6 6m-6 0l6-6M880.5 1193.5l6 6m-6 0l6-6M880.5 1179.5l6 6m-6 0l6-6M880.5 1184.5l6 6m-6 0l6-6M880.5 1200.5l6 6m-6 0l6-6M880.5 1185.5l6 6m-6 0l6-6M881.5 1198.5l6 6m-6 0l6-6M881.5 1180.5l6 6m-6 0l6-6M881.5 1182.5l6 6m-6 0l6-6M881.5 1176.5l6 6m-6 0l6-6M881.5 1174.5l6 6m-6 0l6-6M881.5 1176.5l6 6m-6 0l6-6M882.5 1189.5l6 6m-6 0l6-6M882.5 1197.5l6 6m-6 0l6-6M882.5 1196.5l6 6m-6 0l6-6M882.5 1179.5l6 6m-6 0l6-6M882.5 1186.5l6 6m-6 0l6-6M882.5 1177.5l6 6m-6 0l6-6M882.5 1198.5l6 6m-6 0l6-6M883.5 1177.5l6 6m-6 0l6-6M883.5 1194.5l6 6m-6 0l6-6M883.5 1177.5l6 6m-6 0l6-6M883.5 1194.5l6 6m-6 0l6-6M883.5 1192.5l6 6m-6 0l6-6M883.5 1188.5l6 6m-6 0l6-6M884.5 1204.5l6 6m-6 0l6-6M884.5 1178.5l6 6m-6 0l6-6M884.5 1181.5l6 6m-6 0l6-6M884.5 1191.5l6 6m-6 0l6-6M884.5 1190.5l6 6m-6 0l6-6M884.5 1177.5l6 6m-6 0l6-6M885.5 1184.5l6 6m-6 0l6-6M885.5 1191.5l6 6m-6 0l6-6M885.5 1173.5l6 6m-6 0l6-6M885.5 1191.5l6 6m-6 0l6-6M885.5 1186.5l6 6m-6 0l6-6M885.5 1168.5l6 6m-6 0l6-6M886.5 1181.5l6 6m-6 0l6-6M886.5 1186.5l6 6m-6 0l6-6M886.5 1184.5l6 6m-6 0l6-6M886.5 1171.5l6 6m-6 0l6-6M886.5 1198.5l6 6m-6 0l6-6M886.5 1184.5l6 6m-6 0l6-6M886.5 1190.5l6 6m-6 0l6-6M887.5 1179.5l6 6m-6 0l6-6M887.5 1184.5l6 6m-6 0l6-6M887.5 1181.5l6 6m-6 0l6-6M887.5 1198.5l6 6m-6 0l6-6M887.5 1197.5l6 6m-6 0l6-6M887.5 1199.5l6 6m-6 0l6-6M888.5 1205.5l6 6m-6 0l6-6M888.5 1174.5l6 6m-6 0l6-6M888.5 1207.5l6 6m-6 0l6-6M888.5 1195.5l6 6m-6 0l6-6M888.5 1188.5l6 6m-6 0l6-6M888.5 1188.5l6 6m-6 0l6-6M889.5 1187.5l6 6m-6 0l6-6M889.5 1177.5l6 6m-6 0l6-6M889.5 1176.5l6 6m-6 0l6-6M889.5 1183.5l6 6m-6 0l6-6M889.5 1169.5l6 6m-6 0l6-6M889.5 1160.5l6 6m-6 0l6-6M890.5 1192.5l6 6m-6 0l6-6M890.5 1192.5l6 6m-6 0l6-6M890.5 1179.5l6 6m-6 0l6-6M890.5 1177.5l6 6m-6 0l6-6M890.5 1186.5l6 6m-6 0l6-6M890.5 1191.5l6 6m-6 0l6-6M891.5 1186.5l6 6m-6 0l6-6M891.5 1155.5l6 6m-6 0l6-6M891.5 1189.5l6 6m-6 0l6-6M891.5 1202.5l6 6m-6 0l6-6M891.5 1186.5l6 6m-6 0l6-6M891.5 1193.5l6 6m-6 0l6-6M891.5 1184.5l6 6m-6 0l6-6M892.5 1200.5l6 6m-6 0l6-6M892.5 1180.5l6 6m-6 0l6-6M892.5 1178.5l6 6m-6 0l6-6M892.5 1168.5l6 6m-6 0l6-6M892.5 1174.5l6 6m-6 0l6-6M892.5 1175.5l6 6m-6 0l6-6M893.5 1186.5l6 6m-6 0l6-6M893.5 1184.5l6 6m-6 0l6-6M893.5 1185.5l6 6m-6 0l6-6M893.5 1183.5l6 6m-6 0l6-6M893.5 1204.5l6 6m-6 0l6-6M893.5 1176.5l6 6m-6 0l6-6M894.5 1180.5l6 6m-6 0l6-6M894.5 1176.5l6 6m-6 0l6-6M894.5 1183.5l6 6m-6 0l6-6M894.5 1176.5l6 6m-6 0l6-6M894.5 1177.5l6 6m-6 0l6-6M894.5 1202.5l6 6m-6 0l6-6M895.5 1177.5l6 6m-6 0l6-6M895.5 1185.5l6 6m-6 0l6-6M895.5 1175.5l6 6m-6 0l6-6M895.5 1171.5l6 6m-6 0l6-6M895.5 1180.5l6 6m-6 0l6-6M895.5 1179.5l6 6m-6 0l6-6M896.5 1191.5l6 6m-6 0l6-6M896.5 1177.5l6 6m-6 0l6-6M896.5 1188.5l6 6m-6 0l6-6M896.5 1189.5l6 6m-6 0l6-6M896.5 1181.5l6 6m-6 0l6-6M896.5 1176.5l6 6m-6 0l6-6M896.5 1175.5l6 6m-6 0l6-6M897.5 1178.5l6 6m-6 0l6-6M897.5 1193.5l6 6m-6 0l6-6M897.5 1178.5l6 6m-6 0l6-6M897.5 1174.5l6 6m-6 0l6-6M897.5 1198.5l6 6m-6 0l6-6M897.5 1199.5l6 6m-6 0l6-6M898.5 1181.5l6 6m-6 0l6-6M898.5 1175.5l6 6m-6 0l6-6M898.5 1196.5l6 6m-6 0l6-6M898.5 1190.5l6 6m-6 0l6-6M898.5 1196.5l6 6m-6 0l6-6M898.5 1185.5l6 6m-6 0l6-6M899.5 1186.5l6 6m-6 0l6-6M899.5 1192.5l6 6m-6 0l6-6M899.5 1184.5l6 6m-6 0l6-6M899.5 1177.5l6 6m-6 0l6-6M899.5 1188.5l6 6m-6 0l6-6M899.5 1182.5l6 6m-6 0l6-6M900.5 1195.5l6 6m-6 0l6-6M900.5 1172.5l6 6m-6 0l6-6M900.5 1182.5l6 6m-6 0l6-6M900.5 1188.5l6 6m-6 0l6-6M900.5 1203.5l6 6m-6 0l6-6M900.5 1180.5l6 6m-6 0l6-6M900.5 1165.5l6 6m-6 0l6-6M901.5 1184.5l6 6m-6 0l6-6M901.5 1191.5l6 6m-6 0l6-6M901.5 1218.5l6 6m-6 0l6-6M901.5 1174.5l6 6m-6 0l6-6M901.5 1185.5l6 6m-6 0l6-6M901.5 1189.5l6 6m-6 0l6-6M902.5 1199.5l6 6m-6 0l6-6M902.5 1184.5l6 6m-6 0l6-6M902.5 1189.5l6 6m-6 0l6-6M902.5 1190.5l6 6m-6 0l6-6M902.5 1191.5l6 6m-6 0l6-6M902.5 1173.5l6 6m-6 0l6-6M903.5 1194.5l6 6m-6 0l6-6M903.5 1190.5l6 6m-6 0l6-6M903.5 1179.5l6 6m-6 0l6-6M903.5 1184.5l6 6m-6 0l6-6M903.5 1161.5l6 6m-6 0l6-6M903.5 1179.5l6 6m-6 0l6-6M904.5 1186.5l6 6m-6 0l6-6M904.5 1185.5l6 6m-6 0l6-6M904.5 1201.5l6 6m-6 0l6-6M904.5 1185.5l6 6m-6 0l6-6M904.5 1183.5l6 6m-6 0l6-6M904.5 1182.5l6 6m-6 0l6-6M905.5 1180.5l6 6m-6 0l6-6M905.5 1186.5l6 6m-6 0l6-6M905.5 1185.5l6 6m-6 0l6-6M905.5 1195.5l6 6m-6 0l6-6M905.5 1190.5l6 6m-6 0l6-6M905.5 1189.5l6 6m-6 0l6-6M905.5 1179.5l6 6m-6 0l6-6M906.5 1185.5l6 6m-6 0l6-6M906.5 1183.5l6 6m-6 0l6-6M906.5 1181.5l6 6m-6 0l6-6M906.5 1189.5l6 6m-6 0l6-6M906.5 1179.5l6 6m-6 0l6-6M906.5 1203.5l6 6m-6 0l6-6M907.5 1173.5l6 6m-6 0l6-6M907.5 1184.5l6 6m-6 0l6-6M907.5 1176.5l6 6m-6 0l6-6M907.5 1182.5l6 6m-6 0l6-6M907.5 1199.5l6 6m-6 0l6-6M907.5 1184.5l6 6m-6 0l6-6M908.5 1190.5l6 6m-6 0l6-6M908.5 1188.5l6 6m-6 0l6-6M908.5 1183.5l6 6m-6 0l6-6M908.5 1166.5l6 6m-6 0l6-6M908.5 1194.5l6 6m-6 0l6-6M908.5 1188.5l6 6m-6 0l6-6M909.5 1194.5l6 6m-6 0l6-6M909.5 1179.5l6 6m-6 0l6-6M909.5 1176.5l6 6m-6 0l6-6M909.5 1184.5l6 6m-6 0l6-6M909.5 1163.5l6 6m-6 0l6-6M909.5 1174.5l6 6m-6 0l6-6M909.5 1178.5l6 6m-6 0l6-6M910.5 1183.5l6 6m-6 0l6-6M910.5 1189.5l6 6m-6 0l6-6M910.5 1181.5l6 6m-6 0l6-6M910.5 1189.5l6 6m-6 0l6-6M910.5 1195.5l6 6m-6 0l6-6M910.5 1190.5l6 6m-6 0l6-6M911.5 1190.5l6 6m-6 0l6-6M911.5 1194.5l6 6m-6 0l6-6M911.5 1182.5l6 6m-6 0l6-6M911.5 1175.5l6 6m-6 0l6-6M911.5 1190.5l6 6m-6 0l6-6M911.5 1184.5l6 6m-6 0l6-6M912.5 1183.5l6 6m-6 0l6-6M912.5 1181.5l6 6m-6 0l6-6M912.5 1174.5l6 6m-6 0l6-6M912.5 1180.5l6 6m-6 0l6-6M912.5 1187.5l6 6m-6 0l6-6M912.5 1179.5l6 6m-6 0l6-6M913.5 1164.5l6 6m-6 0l6-6M913.5 1180.5l6 6m-6 0l6-6M913.5 1185.5l6 6m-6 0l6-6M913.5 1191.5l6 6m-6 0l6-6M913.5 1190.5l6 6m-6 0l6-6M913.5 1202.5l6 6m-6 0l6-6M914.5 1187.5l6 6m-6 0l6-6M914.5 1189.5l6 6m-6 0l6-6M914.5 1194.5l6 6m-6 0l6-6M914.5 1188.5l6 6m-6 0l6-6M914.5 1182.5l6 6m-6 0l6-6M914.5 1189.5l6 6m-6 0l6-6M914.5 1193.5l6 6m-6 0l6-6M915.5 1182.5l6 6m-6 0l6-6M915.5 1175.5l6 6m-6 0l6-6M915.5 1185.5l6 6m-6 0l6-6M915.5 1201.5l6 6m-6 0l6-6M915.5 1184.5l6 6m-6 0l6-6M915.5 1188.5l6 6m-6 0l6-6M916.5 1195.5l6 6m-6 0l6-6M916.5 1200.5l6 6m-6 0l6-6M916.5 1196.5l6 6m-6 0l6-6M916.5 1189.5l6 6m-6 0l6-6M916.5 1190.5l6 6m-6 0l6-6M916.5 1182.5l6 6m-6 0l6-6M917.5 1187.5l6 6m-6 0l6-6M917.5 1179.5l6 6m-6 0l6-6M917.5 1180.5l6 6m-6 0l6-6M917.5 1186.5l6 6m-6 0l6-6M917.5 1201.5l6 6m-6 0l6-6M917.5 1184.5l6 6m-6 0l6-6M918.5 1192.5l6 6m-6 0l6-6M918.5 1198.5l6 6m-6 0l6-6M918.5 1188.5l6 6m-6 0l6-6M918.5 1187.5l6 6m-6 0l6-6M918.5 1186.5l6 6m-6 0l6-6M918.5 1173.5l6 6m-6 0l6-6M919.5 1188.5l6 6m-6 0l6-6M919.5 1190.5l6 6m-6 0l6-6M919.5 1184.5l6 6m-6 0l6-6M919.5 1170.5l6 6m-6 0l6-6M919.5 1179.5l6 6m-6 0l6-6M919.5 1182.5l6 6m-6 0l6-6M919.5 1194.5l6 6m-6 0l6-6M920.5 1197.5l6 6m-6 0l6-6M920.5 1190.5l6 6m-6 0l6-6M920.5 1188.5l6 6m-6 0l6-6M920.5 1172.5l6 6m-6 0l6-6M920.5 1173.5l6 6m-6 0l6-6M920.5 1179.5l6 6m-6 0l6-6M921.5 1186.5l6 6m-6 0l6-6M921.5 1180.5l6 6m-6 0l6-6M921.5 1196.5l6 6m-6 0l6-6M921.5 1170.5l6 6m-6 0l6-6M921.5 1184.5l6 6m-6 0l6-6M921.5 1169.5l6 6m-6 0l6-6M922.5 1166.5l6 6m-6 0l6-6M922.5 1189.5l6 6m-6 0l6-6M922.5 1197.5l6 6m-6 0l6-6M922.5 1184.5l6 6m-6 0l6-6M922.5 1184.5l6 6m-6 0l6-6M922.5 1185.5l6 6m-6 0l6-6M923.5 1196.5l6 6m-6 0l6-6M923.5 1184.5l6 6m-6 0l6-6M923.5 1182.5l6 6m-6 0l6-6M923.5 1202.5l6 6m-6 0l6-6M923.5 1177.5l6 6m-6 0l6-6M923.5 1177.5l6 6m-6 0l6-6M923.5 1181.5l6 6m-6 0l6-6M924.5 1193.5l6 6m-6 0l6-6M924.5 1183.5l6 6m-6 0l6-6M924.5 1173.5l6 6m-6 0l6-6M924.5 1191.5l6 6m-6 0l6-6M924.5 1193.5l6 6m-6 0l6-6M924.5 1190.5l6 6m-6 0l6-6M925.5 1190.5l6 6m-6 0l6-6M925.5 1175.5l6 6m-6 0l6-6M925.5 1199.5l6 6m-6 0l6-6M925.5 1179.5l6 6m-6 0l6-6M925.5 1182.5l6 6m-6 0l6-6M925.5 1178.5l6 6m-6 0l6-6M926.5 1184.5l6 6m-6 0l6-6M926.5 1189.5l6 6m-6 0l6-6M926.5 1174.5l6 6m-6 0l6-6M926.5 1190.5l6 6m-6 0l6-6M926.5 1184.5l6 6m-6 0l6-6M926.5 1194.5l6 6m-6 0l6-6M927.5 1185.5l6 6m-6 0l6-6M927.5 1178.5l6 6m-6 0l6-6M927.5 1185.5l6 6m-6 0l6-6M927.5 1189.5l6 6m-6 0l6-6M927.5 1198.5l6 6m-6 0l6-6M927.5 1181.5l6 6m-6 0l6-6M928.5 1185.5l6 6m-6 0l6-6M928.5 1191.5l6 6m-6 0l6-6M928.5 1176.5l6 6m-6 0l6-6M928.5 1186.5l6 6m-6 0l6-6M928.5 1189.5l6 6m-6 0l6-6M928.5 1197.5l6 6m-6 0l6-6M928.5 1196.5l6 6m-6 0l6-6M929.5 1203.5l6 6m-6 0l6-6M929.5 1172.5l6 6m-6 0l6-6M929.5 1177.5l6 6m-6 0l6-6M929.5 1186.5l6 6m-6 0l6-6M929.5 1174.5l6 6m-6 0l6-6M929.5 1183.5l6 6m-6 0l6-6M930.5 1193.5l6 6m-6 0l6-6M930.5 1183.5l6 6m-6 0l6-6M930.5 1184.5l6 6m-6 0l6-6M930.5 1192.5l6 6m-6 0l6-6M930.5 1190.5l6 6m-6 0l6-6M930.5 1183.5l6 6m-6 0l6-6M931.5 1173.5l6 6m-6 0l6-6M931.5 1195.5l6 6m-6 0l6-6M931.5 1183.5l6 6m-6 0l6-6M931.5 1185.5l6 6m-6 0l6-6M931.5 1188.5l6 6m-6 0l6-6M931.5 1192.5l6 6m-6 0l6-6M932.5 1193.5l6 6m-6 0l6-6M932.5 1185.5l6 6m-6 0l6-6M932.5 1181.5l6 6m-6 0l6-6M932.5 1196.5l6 6m-6 0l6-6M932.5 1186.5l6 6m-6 0l6-6M932.5 1186.5l6 6m-6 0l6-6M932.5 1187.5l6 6m-6 0l6-6M933.5 1190.5l6 6m-6 0l6-6M933.5 1197.5l6 6m-6 0l6-6M933.5 1191.5l6 6m-6 0l6-6M933.5 1193.5l6 6m-6 0l6-6M933.5 1191.5l6 6m-6 0l6-6M933.5 1185.5l6 6m-6 0l6-6M934.5 1194.5l6 6m-6 0l6-6M934.5 1185.5l6 6m-6 0l6-6M934.5 1181.5l6 6m-6 0l6-6M934.5 1177.5l6 6m-6 0l6-6M934.5 1193.5l6 6m-6 0l6-6M934.5 1188.5l6 6m-6 0l6-6M935.5 1186.5l6 6m-6 0l6-6M935.5 1180.5l6 6m-6 0l6-6M935.5 1183.5l6 6m-6 0l6-6M935.5 1187.5l6 6m-6 0l6-6M935.5 1188.5l6 6m-6 0l6-6M935.5 1188.5l6 6m-6 0l6-6M936.5 1191.5l6 6m-6 0l6-6M936.5 1192.5l6 6m-6 0l6-6M936.5 1180.5l6 6m-6 0l6-6M936.5 1182.5l6 6m-6 0l6-6M936.5 1186.5l6 6m-6 0l6-6M936.5 1190.5l6 6m-6 0l6-6M937.5 1192.5l6 6m-6 0l6-6M937.5 1179.5l6 6m-6 0l6-6M937.5 1191.5l6 6m-6 0l6-6M937.5 1177.5l6 6m-6 0l6-6M937.5 1181.5l6 6m-6 0l6-6M937.5 1187.5l6 6m-6 0l6-6M937.5 1189.5l6 6m-6 0l6-6M938.5 1170.5l6 6m-6 0l6-6M938.5 1185.5l6 6m-6 0l6-6M938.5 1192.5l6 6m-6 0l6-6M938.5 1188.5l6 6m-6 0l6-6M938.5 1188.5l6 6m-6 0l6-6M938.5 1191.5l6 6m-6 0l6-6M939.5 1183.5l6 6m-6 0l6-6M939.5 1191.5l6 6m-6 0l6-6M939.5 1187.5l6 6m-6 0l6-6M939.5 1177.5l6 6m-6 0l6-6M939.5 1181.5l6 6m-6 0l6-6M939.5 1179.5l6 6m-6 0l6-6M940.5 1188.5l6 6m-6 0l6-6M940.5 1189.5l6 6m-6 0l6-6M940.5 1189.5l6 6m-6 0l6-6M940.5 1194.5l6 6m-6 0l6-6M940.5 1181.5l6 6m-6 0l6-6M940.5 1179.5l6 6m-6 0l6-6M941.5 1169.5l6 6m-6 0l6-6M941.5 1195.5l6 6m-6 0l6-6M941.5 1172.5l6 6m-6 0l6-6M941.5 1172.5l6 6m-6 0l6-6M941.5 1191.5l6 6m-6 0l6-6M941.5 1173.5l6 6m-6 0l6-6M942.5 1183.5l6 6m-6 0l6-6M942.5 1191.5l6 6m-6 0l6-6M942.5 1192.5l6 6m-6 0l6-6M942.5 1181.5l6 6m-6 0l6-6M942.5 1184.5l6 6m-6 0l6-6M942.5 1186.5l6 6m-6 0l6-6M942.5 1177.5l6 6m-6 0l6-6M943.5 1186.5l6 6m-6 0l6-6M943.5 1184.5l6 6m-6 0l6-6M943.5 1188.5l6 6m-6 0l6-6M943.5 1174.5l6 6m-6 0l6-6M943.5 1183.5l6 6m-6 0l6-6M943.5 1193.5l6 6m-6 0l6-6M944.5 1191.5l6 6m-6 0l6-6M944.5 1176.5l6 6m-6 0l6-6M944.5 1189.5l6 6m-6 0l6-6M944.5 1176.5l6 6m-6 0l6-6M944.5 1165.5l6 6m-6 0l6-6M944.5 1183.5l6 6m-6 0l6-6M945.5 1185.5l6 6m-6 0l6-6M945.5 1184.5l6 6m-6 0l6-6M945.5 1182.5l6 6m-6 0l6-6M945.5 1186.5l6 6m-6 0l6-6M945.5 1162.5l6 6m-6 0l6-6M945.5 1176.5l6 6m-6 0l6-6M946.5 1182.5l6 6m-6 0l6-6M946.5 1181.5l6 6m-6 0l6-6M946.5 1188.5l6 6m-6 0l6-6M946.5 1181.5l6 6m-6 0l6-6M946.5 1176.5l6 6m-6 0l6-6M946.5 1174.5l6 6m-6 0l6-6M946.5 1157.5l6 6m-6 0l6-6M947.5 1184.5l6 6m-6 0l6-6M947.5 1170.5l6 6m-6 0l6-6M947.5 1197.5l6 6m-6 0l6-6M947.5 1174.5l6 6m-6 0l6-6M947.5 1177.5l6 6m-6 0l6-6M947.5 1183.5l6 6m-6 0l6-6M948.5 1178.5l6 6m-6 0l6-6M948.5 1193.5l6 6m-6 0l6-6M948.5 1188.5l6 6m-6 0l6-6M948.5 1195.5l6 6m-6 0l6-6M948.5 1170.5l6 6m-6 0l6-6M948.5 1180.5l6 6m-6 0l6-6M949.5 1191.5l6 6m-6 0l6-6M949.5 1190.5l6 6m-6 0l6-6M949.5 1192.5l6 6m-6 0l6-6M949.5 1191.5l6 6m-6 0l6-6M949.5 1190.5l6 6m-6 0l6-6M949.5 1186.5l6 6m-6 0l6-6M950.5 1188.5l6 6m-6 0l6-6M950.5 1186.5l6 6m-6 0l6-6M950.5 1200.5l6 6m-6 0l6-6M950.5 1184.5l6 6m-6 0l6-6M950.5 1176.5l6 6m-6 0l6-6M950.5 1192.5l6 6m-6 0l6-6M951.5 1200.5l6 6m-6 0l6-6M951.5 1194.5l6 6m-6 0l6-6M951.5 1188.5l6 6m-6 0l6-6M951.5 1196.5l6 6m-6 0l6-6M951.5 1179.5l6 6m-6 0l6-6M951.5 1188.5l6 6m-6 0l6-6M951.5 1179.5l6 6m-6 0l6-6M952.5 1182.5l6 6m-6 0l6-6M952.5 1178.5l6 6m-6 0l6-6M952.5 1175.5l6 6m-6 0l6-6M952.5 1188.5l6 6m-6 0l6-6M952.5 1190.5l6 6m-6 0l6-6M952.5 1185.5l6 6m-6 0l6-6M953.5 1194.5l6 6m-6 0l6-6M953.5 1180.5l6 6m-6 0l6-6M953.5 1188.5l6 6m-6 0l6-6M953.5 1189.5l6 6m-6 0l6-6M953.5 1176.5l6 6m-6 0l6-6M953.5 1190.5l6 6m-6 0l6-6M954.5 1189.5l6 6m-6 0l6-6M954.5 1191.5l6 6m-6 0l6-6M954.5 1186.5l6 6m-6 0l6-6M954.5 1185.5l6 6m-6 0l6-6M954.5 1190.5l6 6m-6 0l6-6M954.5 1183.5l6 6m-6 0l6-6M955.5 1176.5l6 6m-6 0l6-6M955.5 1194.5l6 6m-6 0l6-6M955.5 1179.5l6 6m-6 0l6-6M955.5 1176.5l6 6m-6 0l6-6M955.5 1180.5l6 6m-6 0l6-6M955.5 1177.5l6 6m-6 0l6-6M955.5 1182.5l6 6m-6 0l6-6M956.5 1186.5l6 6m-6 0l6-6M956.5 1182.5l6 6m-6 0l6-6M956.5 1196.5l6 6m-6 0l6-6M956.5 1167.5l6 6m-6 0l6-6M956.5 1172.5l6 6m-6 0l6-6M956.5 1186.5l6 6m-6 0l6-6M957.5 1190.5l6 6m-6 0l6-6M957.5 1188.5l6 6m-6 0l6-6M957.5 1190.5l6 6m-6 0l6-6M957.5 1185.5l6 6m-6 0l6-6M957.5 1183.5l6 6m-6 0l6-6M957.5 1185.5l6 6m-6 0l6-6M958.5 1186.5l6 6m-6 0l6-6M958.5 1185.5l6 6m-6 0l6-6M958.5 1191.5l6 6m-6 0l6-6M958.5 1197.5l6 6m-6 0l6-6M958.5 1178.5l6 6m-6 0l6-6M958.5 1190.5l6 6m-6 0l6-6M959.5 1187.5l6 6m-6 0l6-6M959.5 1189.5l6 6m-6 0l6-6M959.5 1190.5l6 6m-6 0l6-6M959.5 1188.5l6 6m-6 0l6-6M959.5 1181.5l6 6m-6 0l6-6M959.5 1197.5l6 6m-6 0l6-6M960.5 1186.5l6 6m-6 0l6-6M960.5 1195.5l6 6m-6 0l6-6M960.5 1177.5l6 6m-6 0l6-6M960.5 1176.5l6 6m-6 0l6-6M960.5 1180.5l6 6m-6 0l6-6M960.5 1182.5l6 6m-6 0l6-6M960.5 1174.5l6 6m-6 0l6-6M961.5 1179.5l6 6m-6 0l6-6M961.5 1182.5l6 6m-6 0l6-6M961.5 1182.5l6 6m-6 0l6-6M961.5 1183.5l6 6m-6 0l6-6M961.5 1168.5l6 6m-6 0l6-6M961.5 1177.5l6 6m-6 0l6-6M962.5 1191.5l6 6m-6 0l6-6M962.5 1187.5l6 6m-6 0l6-6M962.5 1181.5l6 6m-6 0l6-6M962.5 1185.5l6 6m-6 0l6-6M962.5 1185.5l6 6m-6 0l6-6M962.5 1195.5l6 6m-6 0l6-6M963.5 1190.5l6 6m-6 0l6-6M963.5 1173.5l6 6m-6 0l6-6M963.5 1185.5l6 6m-6 0l6-6M963.5 1170.5l6 6m-6 0l6-6M963.5 1174.5l6 6m-6 0l6-6M963.5 1182.5l6 6m-6 0l6-6M964.5 1174.5l6 6m-6 0l6-6M964.5 1176.5l6 6m-6 0l6-6M964.5 1182.5l6 6m-6 0l6-6M964.5 1179.5l6 6m-6 0l6-6M964.5 1189.5l6 6m-6 0l6-6M964.5 1175.5l6 6m-6 0l6-6M965.5 1163.5l6 6m-6 0l6-6M965.5 1183.5l6 6m-6 0l6-6M965.5 1171.5l6 6m-6 0l6-6M965.5 1205.5l6 6m-6 0l6-6M965.5 1177.5l6 6m-6 0l6-6M965.5 1190.5l6 6m-6 0l6-6M965.5 1174.5l6 6m-6 0l6-6M966.5 1192.5l6 6m-6 0l6-6M966.5 1179.5l6 6m-6 0l6-6M966.5 1178.5l6 6m-6 0l6-6M966.5 1171.5l6 6m-6 0l6-6M966.5 1190.5l6 6m-6 0l6-6M966.5 1183.5l6 6m-6 0l6-6M967.5 1190.5l6 6m-6 0l6-6M967.5 1188.5l6 6m-6 0l6-6M967.5 1183.5l6 6m-6 0l6-6M967.5 1195.5l6 6m-6 0l6-6M967.5 1182.5l6 6m-6 0l6-6M967.5 1192.5l6 6m-6 0l6-6M968.5 1180.5l6 6m-6 0l6-6M968.5 1190.5l6 6m-6 0l6-6M968.5 1189.5l6 6m-6 0l6-6M968.5 1191.5l6 6m-6 0l6-6M968.5 1178.5l6 6m-6 0l6-6M968.5 1184.5l6 6m-6 0l6-6M969.5 1193.5l6 6m-6 0l6-6M969.5 1188.5l6 6m-6 0l6-6M969.5 1182.5l6 6m-6 0l6-6M969.5 1193.5l6 6m-6 0l6-6M969.5 1172.5l6 6m-6 0l6-6M969.5 1197.5l6 6m-6 0l6-6M969.5 1188.5l6 6m-6 0l6-6M970.5 1199.5l6 6m-6 0l6-6M970.5 1190.5l6 6m-6 0l6-6M970.5 1179.5l6 6m-6 0l6-6M970.5 1185.5l6 6m-6 0l6-6M970.5 1191.5l6 6m-6 0l6-6M970.5 1192.5l6 6m-6 0l6-6M971.5 1183.5l6 6m-6 0l6-6M971.5 1180.5l6 6m-6 0l6-6M971.5 1182.5l6 6m-6 0l6-6M971.5 1172.5l6 6m-6 0l6-6M971.5 1177.5l6 6m-6 0l6-6M971.5 1183.5l6 6m-6 0l6-6M972.5 1176.5l6 6m-6 0l6-6M972.5 1188.5l6 6m-6 0l6-6M972.5 1190.5l6 6m-6 0l6-6M972.5 1190.5l6 6m-6 0l6-6M972.5 1186.5l6 6m-6 0l6-6M972.5 1203.5l6 6m-6 0l6-6M973.5 1184.5l6 6m-6 0l6-6M973.5 1199.5l6 6m-6 0l6-6M973.5 1183.5l6 6m-6 0l6-6M973.5 1176.5l6 6m-6 0l6-6M973.5 1176.5l6 6m-6 0l6-6M973.5 1188.5l6 6m-6 0l6-6M974.5 1178.5l6 6m-6 0l6-6M974.5 1192.5l6 6m-6 0l6-6M974.5 1183.5l6 6m-6 0l6-6M974.5 1186.5l6 6m-6 0l6-6M974.5 1172.5l6 6m-6 0l6-6M974.5 1180.5l6 6m-6 0l6-6M974.5 1197.5l6 6m-6 0l6-6M975.5 1189.5l6 6m-6 0l6-6M975.5 1189.5l6 6m-6 0l6-6M975.5 1181.5l6 6m-6 0l6-6M975.5 1164.5l6 6m-6 0l6-6M975.5 1192.5l6 6m-6 0l6-6M975.5 1176.5l6 6m-6 0l6-6M976.5 1191.5l6 6m-6 0l6-6M976.5 1191.5l6 6m-6 0l6-6M976.5 1181.5l6 6m-6 0l6-6M976.5 1202.5l6 6m-6 0l6-6M976.5 1208.5l6 6m-6 0l6-6M976.5 1185.5l6 6m-6 0l6-6M977.5 1199.5l6 6m-6 0l6-6M977.5 1180.5l6 6m-6 0l6-6M977.5 1186.5l6 6m-6 0l6-6M977.5 1177.5l6 6m-6 0l6-6M977.5 1194.5l6 6m-6 0l6-6M977.5 1198.5l6 6m-6 0l6-6M978.5 1172.5l6 6m-6 0l6-6M978.5 1191.5l6 6m-6 0l6-6M978.5 1182.5l6 6m-6 0l6-6M978.5 1179.5l6 6m-6 0l6-6M978.5 1166.5l6 6m-6 0l6-6M978.5 1185.5l6 6m-6 0l6-6M978.5 1173.5l6 6m-6 0l6-6M979.5 1189.5l6 6m-6 0l6-6M979.5 1168.5l6 6m-6 0l6-6M979.5 1172.5l6 6m-6 0l6-6M979.5 1201.5l6 6m-6 0l6-6M979.5 1182.5l6 6m-6 0l6-6M979.5 1200.5l6 6m-6 0l6-6M980.5 1188.5l6 6m-6 0l6-6M980.5 1182.5l6 6m-6 0l6-6M980.5 1169.5l6 6m-6 0l6-6M980.5 1197.5l6 6m-6 0l6-6M980.5 1188.5l6 6m-6 0l6-6M980.5 1186.5l6 6m-6 0l6-6M981.5 1180.5l6 6m-6 0l6-6M981.5 1189.5l6 6m-6 0l6-6M981.5 1190.5l6 6m-6 0l6-6M981.5 1189.5l6 6m-6 0l6-6M981.5 1190.5l6 6m-6 0l6-6M981.5 1194.5l6 6m-6 0l6-6M982.5 1193.5l6 6m-6 0l6-6M982.5 1185.5l6 6m-6 0l6-6M982.5 1199.5l6 6m-6 0l6-6M982.5 1183.5l6 6m-6 0l6-6M982.5 1194.5l6 6m-6 0l6-6M982.5 1192.5l6 6m-6 0l6-6M983.5 1193.5l6 6m-6 0l6-6M983.5 1165.5l6 6m-6 0l6-6M983.5 1173.5l6 6m-6 0l6-6M983.5 1172.5l6 6m-6 0l6-6M983.5 1198.5l6 6m-6 0l6-6M983.5 1185.5l6 6m-6 0l6-6M983.5 1192.5l6 6m-6 0l6-6M984.5 1178.5l6 6m-6 0l6-6M984.5 1171.5l6 6m-6 0l6-6M984.5 1194.5l6 6m-6 0l6-6M984.5 1167.5l6 6m-6 0l6-6M984.5 1184.5l6 6m-6 0l6-6M984.5 1181.5l6 6m-6 0l6-6M985.5 1195.5l6 6m-6 0l6-6M985.5 1169.5l6 6m-6 0l6-6M985.5 1204.5l6 6m-6 0l6-6M985.5 1178.5l6 6m-6 0l6-6M985.5 1176.5l6 6m-6 0l6-6M985.5 1197.5l6 6m-6 0l6-6M986.5 1189.5l6 6m-6 0l6-6M986.5 1187.5l6 6m-6 0l6-6M986.5 1191.5l6 6m-6 0l6-6M986.5 1208.5l6 6m-6 0l6-6M986.5 1179.5l6 6m-6 0l6-6M986.5 1185.5l6 6m-6 0l6-6M987.5 1192.5l6 6m-6 0l6-6M987.5 1180.5l6 6m-6 0l6-6M987.5 1191.5l6 6m-6 0l6-6M987.5 1183.5l6 6m-6 0l6-6M987.5 1198.5l6 6m-6 0l6-6M987.5 1193.5l6 6m-6 0l6-6M988.5 1175.5l6 6m-6 0l6-6M988.5 1198.5l6 6m-6 0l6-6M988.5 1193.5l6 6m-6 0l6-6M988.5 1183.5l6 6m-6 0l6-6M988.5 1178.5l6 6m-6 0l6-6M988.5 1203.5l6 6m-6 0l6-6M988.5 1179.5l6 6m-6 0l6-6M989.5 1186.5l6 6m-6 0l6-6M989.5 1201.5l6 6m-6 0l6-6M989.5 1182.5l6 6m-6 0l6-6M989.5 1190.5l6 6m-6 0l6-6M989.5 1176.5l6 6m-6 0l6-6M989.5 1172.5l6 6m-6 0l6-6M990.5 1204.5l6 6m-6 0l6-6M990.5 1175.5l6 6m-6 0l6-6M990.5 1185.5l6 6m-6 0l6-6M990.5 1184.5l6 6m-6 0l6-6M990.5 1206.5l6 6m-6 0l6-6M990.5 1180.5l6 6m-6 0l6-6M991.5 1157.5l6 6m-6 0l6-6M991.5 1186.5l6 6m-6 0l6-6M991.5 1178.5l6 6m-6 0l6-6M991.5 1179.5l6 6m-6 0l6-6M991.5 1169.5l6 6m-6 0l6-6M991.5 1196.5l6 6m-6 0l6-6M992.5 1175.5l6 6m-6 0l6-6M992.5 1187.5l6 6m-6 0l6-6M992.5 1182.5l6 6m-6 0l6-6M992.5 1180.5l6 6m-6 0l6-6M992.5 1176.5l6 6m-6 0l6-6M992.5 1205.5l6 6m-6 0l6-6M992.5 1194.5l6 6m-6 0l6-6M993.5 1179.5l6 6m-6 0l6-6M993.5 1181.5l6 6m-6 0l6-6M993.5 1177.5l6 6m-6 0l6-6M993.5 1183.5l6 6m-6 0l6-6M993.5 1197.5l6 6m-6 0l6-6M993.5 1196.5l6 6m-6 0l6-6M994.5 1178.5l6 6m-6 0l6-6M994.5 1190.5l6 6m-6 0l6-6M994.5 1173.5l6 6m-6 0l6-6M994.5 1197.5l6 6m-6 0l6-6M994.5 1191.5l6 6m-6 0l6-6M994.5 1171.5l6 6m-6 0l6-6M995.5 1181.5l6 6m-6 0l6-6M995.5 1177.5l6 6m-6 0l6-6M995.5 1190.5l6 6m-6 0l6-6M995.5 1184.5l6 6m-6 0l6-6M995.5 1183.5l6 6m-6 0l6-6M995.5 1178.5l6 6m-6 0l6-6M996.5 1186.5l6 6m-6 0l6-6M996.5 1176.5l6 6m-6 0l6-6M996.5 1180.5l6 6m-6 0l6-6M996.5 1196.5l6 6m-6 0l6-6M996.5 1184.5l6 6m-6 0l6-6M996.5 1180.5l6 6m-6 0l6-6M997.5 1203.5l6 6m-6 0l6-6M997.5 1177.5l6 6m-6 0l6-6M997.5 1181.5l6 6m-6 0l6-6M997.5 1196.5l6 6m-6 0l6-6M997.5 1180.5l6 6m-6 0l6-6M997.5 1183.5l6 6m-6 0l6-6M997.5 1190.5l6 6m-6 0l6-6M998.5 1185.5l6 6m-6 0l6-6M998.5 1171.5l6 6m-6 0l6-6M998.5 1197.5l6 6m-6 0l6-6M998.5 1183.5l6 6m-6 0l6-6M998.5 1197.5l6 6m-6 0l6-6M998.5 1186.5l6 6m-6 0l6-6M999.5 1158.5l6 6m-6 0l6-6M999.5 1181.5l6 6m-6 0l6-6M999.5 1188.5l6 6m-6 0l6-6M999.5 1185.5l6 6m-6 0l6-6M999.5 1187.5l6 6m-6 0l6-6M999.5 1196.5l6 6m-6 0l6-6M1000.5 1202.5l6 6m-6 0l6-6M1000.5 1185.5l6 6m-6 0l6-6M1000.5 1204.5l6 6m-6 0l6-6M1000.5 1176.5l6 6m-6 0l6-6M1000.5 1169.5l6 6m-6 0l6-6M1000.5 1180.5l6 6m-6 0l6-6M1001.5 1179.5l6 6m-6 0l6-6M1001.5 1193.5l6 6m-6 0l6-6M1001.5 1147.5l6 6m-6 0l6-6M1001.5 1183.5l6 6m-6 0l6-6M1001.5 1185.5l6 6m-6 0l6-6M1001.5 1194.5l6 6m-6 0l6-6M1001.5 1183.5l6 6m-6 0l6-6M1002.5 1186.5l6 6m-6 0l6-6M1002.5 1184.5l6 6m-6 0l6-6M1002.5 1185.5l6 6m-6 0l6-6M1002.5 1174.5l6 6m-6 0l6-6M1002.5 1193.5l6 6m-6 0l6-6M1002.5 1194.5l6 6m-6 0l6-6M1003.5 1171.5l6 6m-6 0l6-6M1003.5 1183.5l6 6m-6 0l6-6M1003.5 1173.5l6 6m-6 0l6-6M1003.5 1183.5l6 6m-6 0l6-6M1003.5 1186.5l6 6m-6 0l6-6M1003.5 1186.5l6 6m-6 0l6-6M1004.5 1183.5l6 6m-6 0l6-6M1004.5 1179.5l6 6m-6 0l6-6M1004.5 1195.5l6 6m-6 0l6-6M1004.5 1180.5l6 6m-6 0l6-6M1004.5 1193.5l6 6m-6 0l6-6M1004.5 1187.5l6 6m-6 0l6-6M1005.5 1199.5l6 6m-6 0l6-6M1005.5 1170.5l6 6m-6 0l6-6M1005.5 1207.5l6 6m-6 0l6-6M1005.5 1179.5l6 6m-6 0l6-6M1005.5 1194.5l6 6m-6 0l6-6M1005.5 1197.5l6 6m-6 0l6-6M1006.5 1196.5l6 6m-6 0l6-6M1006.5 1191.5l6 6m-6 0l6-6M1006.5 1170.5l6 6m-6 0l6-6M1006.5 1188.5l6 6m-6 0l6-6M1006.5 1179.5l6 6m-6 0l6-6M1006.5 1188.5l6 6m-6 0l6-6M1006.5 1187.5l6 6m-6 0l6-6M1007.5 1192.5l6 6m-6 0l6-6M1007.5 1196.5l6 6m-6 0l6-6M1007.5 1193.5l6 6m-6 0l6-6M1007.5 1201.5l6 6m-6 0l6-6M1007.5 1193.5l6 6m-6 0l6-6M1007.5 1200.5l6 6m-6 0l6-6M1008.5 1200.5l6 6m-6 0l6-6M1008.5 1180.5l6 6m-6 0l6-6M1008.5 1185.5l6 6m-6 0l6-6M1008.5 1211.5l6 6m-6 0l6-6M1008.5 1183.5l6 6m-6 0l6-6M1008.5 1187.5l6 6m-6 0l6-6M1009.5 1195.5l6 6m-6 0l6-6M1009.5 1187.5l6 6m-6 0l6-6M1009.5 1173.5l6 6m-6 0l6-6M1009.5 1215.5l6 6m-6 0l6-6M1009.5 1176.5l6 6m-6 0l6-6M1009.5 1159.5l6 6m-6 0l6-6M1010.5 1197.5l6 6m-6 0l6-6M1010.5 1174.5l6 6m-6 0l6-6M1010.5 1189.5l6 6m-6 0l6-6M1010.5 1209.5l6 6m-6 0l6-6M1010.5 1188.5l6 6m-6 0l6-6M1010.5 1195.5l6 6m-6 0l6-6M1011.5 1185.5l6 6m-6 0l6-6M1011.5 1195.5l6 6m-6 0l6-6M1011.5 1175.5l6 6m-6 0l6-6M1011.5 1189.5l6 6m-6 0l6-6M1011.5 1195.5l6 6m-6 0l6-6M1011.5 1201.5l6 6m-6 0l6-6M1011.5 1176.5l6 6m-6 0l6-6M1012.5 1183.5l6 6m-6 0l6-6M1012.5 1196.5l6 6m-6 0l6-6M1012.5 1189.5l6 6m-6 0l6-6M1012.5 1184.5l6 6m-6 0l6-6M1012.5 1197.5l6 6m-6 0l6-6M1012.5 1181.5l6 6m-6 0l6-6M1013.5 1175.5l6 6m-6 0l6-6M1013.5 1188.5l6 6m-6 0l6-6M1013.5 1194.5l6 6m-6 0l6-6M1013.5 1185.5l6 6m-6 0l6-6M1013.5 1196.5l6 6m-6 0l6-6M1013.5 1173.5l6 6m-6 0l6-6M1014.5 1193.5l6 6m-6 0l6-6M1014.5 1189.5l6 6m-6 0l6-6M1014.5 1193.5l6 6m-6 0l6-6M1014.5 1203.5l6 6m-6 0l6-6M1014.5 1168.5l6 6m-6 0l6-6M1014.5 1189.5l6 6m-6 0l6-6M1015.5 1181.5l6 6m-6 0l6-6M1015.5 1175.5l6 6m-6 0l6-6M1015.5 1192.5l6 6m-6 0l6-6M1015.5 1178.5l6 6m-6 0l6-6M1015.5 1185.5l6 6m-6 0l6-6M1015.5 1205.5l6 6m-6 0l6-6M1015.5 1165.5l6 6m-6 0l6-6M1016.5 1196.5l6 6m-6 0l6-6M1016.5 1189.5l6 6m-6 0l6-6M1016.5 1184.5l6 6m-6 0l6-6M1016.5 1188.5l6 6m-6 0l6-6M1016.5 1184.5l6 6m-6 0l6-6M1016.5 1191.5l6 6m-6 0l6-6M1017.5 1172.5l6 6m-6 0l6-6M1017.5 1206.5l6 6m-6 0l6-6M1017.5 1177.5l6 6m-6 0l6-6M1017.5 1178.5l6 6m-6 0l6-6M1017.5 1179.5l6 6m-6 0l6-6M1017.5 1197.5l6 6m-6 0l6-6M1018.5 1195.5l6 6m-6 0l6-6M1018.5 1198.5l6 6m-6 0l6-6M1018.5 1172.5l6 6m-6 0l6-6M1018.5 1145.5l6 6m-6 0l6-6M1018.5 1188.5l6 6m-6 0l6-6M1018.5 1203.5l6 6m-6 0l6-6M1019.5 1189.5l6 6m-6 0l6-6M1019.5 1182.5l6 6m-6 0l6-6M1019.5 1187.5l6 6m-6 0l6-6M1019.5 1178.5l6 6m-6 0l6-6M1019.5 1184.5l6 6m-6 0l6-6M1019.5 1174.5l6 6m-6 0l6-6M1020.5 1182.5l6 6m-6 0l6-6M1020.5 1175.5l6 6m-6 0l6-6M1020.5 1178.5l6 6m-6 0l6-6M1020.5 1185.5l6 6m-6 0l6-6M1020.5 1193.5l6 6m-6 0l6-6M1020.5 1190.5l6 6m-6 0l6-6M1020.5 1162.5l6 6m-6 0l6-6M1021.5 1184.5l6 6m-6 0l6-6M1021.5 1188.5l6 6m-6 0l6-6M1021.5 1188.5l6 6m-6 0l6-6M1021.5 1183.5l6 6m-6 0l6-6M1021.5 1161.5l6 6m-6 0l6-6M1021.5 1194.5l6 6m-6 0l6-6M1022.5 1191.5l6 6m-6 0l6-6M1022.5 1181.5l6 6m-6 0l6-6M1022.5 1187.5l6 6m-6 0l6-6M1022.5 1170.5l6 6m-6 0l6-6M1022.5 1164.5l6 6m-6 0l6-6M1022.5 1191.5l6 6m-6 0l6-6M1023.5 1207.5l6 6m-6 0l6-6M1023.5 1194.5l6 6m-6 0l6-6M1023.5 1195.5l6 6m-6 0l6-6M1023.5 1178.5l6 6m-6 0l6-6M1023.5 1176.5l6 6m-6 0l6-6M1023.5 1156.5l6 6m-6 0l6-6M1024.5 1178.5l6 6m-6 0l6-6M1024.5 1195.5l6 6m-6 0l6-6M1024.5 1186.5l6 6m-6 0l6-6M1024.5 1187.5l6 6m-6 0l6-6M1024.5 1195.5l6 6m-6 0l6-6M1024.5 1184.5l6 6m-6 0l6-6M1025.5 1186.5l6 6m-6 0l6-6M1025.5 1185.5l6 6m-6 0l6-6M1025.5 1177.5l6 6m-6 0l6-6M1025.5 1184.5l6 6m-6 0l6-6M1025.5 1189.5l6 6m-6 0l6-6M1025.5 1196.5l6 6m-6 0l6-6M1025.5 1202.5l6 6m-6 0l6-6M1026.5 1184.5l6 6m-6 0l6-6M1026.5 1181.5l6 6m-6 0l6-6M1026.5 1174.5l6 6m-6 0l6-6M1026.5 1189.5l6 6m-6 0l6-6M1026.5 1196.5l6 6m-6 0l6-6M1026.5 1199.5l6 6m-6 0l6-6M1027.5 1182.5l6 6m-6 0l6-6M1027.5 1177.5l6 6m-6 0l6-6M1027.5 1173.5l6 6m-6 0l6-6M1027.5 1166.5l6 6m-6 0l6-6M1027.5 1170.5l6 6m-6 0l6-6M1027.5 1181.5l6 6m-6 0l6-6M1028.5 1199.5l6 6m-6 0l6-6M1028.5 1191.5l6 6m-6 0l6-6M1028.5 1158.5l6 6m-6 0l6-6M1028.5 1171.5l6 6m-6 0l6-6M1028.5 1187.5l6 6m-6 0l6-6M1028.5 1193.5l6 6m-6 0l6-6M1029.5 1194.5l6 6m-6 0l6-6M1029.5 1173.5l6 6m-6 0l6-6M1029.5 1196.5l6 6m-6 0l6-6M1029.5 1201.5l6 6m-6 0l6-6M1029.5 1193.5l6 6m-6 0l6-6M1029.5 1178.5l6 6m-6 0l6-6M1029.5 1169.5l6 6m-6 0l6-6M1030.5 1189.5l6 6m-6 0l6-6M1030.5 1183.5l6 6m-6 0l6-6M1030.5 1177.5l6 6m-6 0l6-6M1030.5 1183.5l6 6m-6 0l6-6M1030.5 1183.5l6 6m-6 0l6-6M1030.5 1188.5l6 6m-6 0l6-6M1031.5 1191.5l6 6m-6 0l6-6M1031.5 1187.5l6 6m-6 0l6-6M1031.5 1165.5l6 6m-6 0l6-6M1031.5 1185.5l6 6m-6 0l6-6M1031.5 1194.5l6 6m-6 0l6-6M1031.5 1184.5l6 6m-6 0l6-6M1032.5 1176.5l6 6m-6 0l6-6M1032.5 1178.5l6 6m-6 0l6-6M1032.5 1206.5l6 6m-6 0l6-6M1032.5 1181.5l6 6m-6 0l6-6M1032.5 1173.5l6 6m-6 0l6-6M1032.5 1186.5l6 6m-6 0l6-6M1033.5 1175.5l6 6m-6 0l6-6M1033.5 1178.5l6 6m-6 0l6-6M1033.5 1192.5l6 6m-6 0l6-6M1033.5 1198.5l6 6m-6 0l6-6M1033.5 1197.5l6 6m-6 0l6-6M1033.5 1189.5l6 6m-6 0l6-6M1034.5 1204.5l6 6m-6 0l6-6M1034.5 1187.5l6 6m-6 0l6-6M1034.5 1182.5l6 6m-6 0l6-6M1034.5 1190.5l6 6m-6 0l6-6M1034.5 1190.5l6 6m-6 0l6-6M1034.5 1174.5l6 6m-6 0l6-6M1034.5 1186.5l6 6m-6 0l6-6M1035.5 1193.5l6 6m-6 0l6-6M1035.5 1186.5l6 6m-6 0l6-6M1035.5 1191.5l6 6m-6 0l6-6M1035.5 1174.5l6 6m-6 0l6-6M1035.5 1178.5l6 6m-6 0l6-6M1035.5 1165.5l6 6m-6 0l6-6M1036.5 1189.5l6 6m-6 0l6-6M1036.5 1208.5l6 6m-6 0l6-6M1036.5 1187.5l6 6m-6 0l6-6M1036.5 1192.5l6 6m-6 0l6-6M1036.5 1174.5l6 6m-6 0l6-6M1036.5 1181.5l6 6m-6 0l6-6M1037.5 1192.5l6 6m-6 0l6-6M1037.5 1175.5l6 6m-6 0l6-6M1037.5 1187.5l6 6m-6 0l6-6M1037.5 1195.5l6 6m-6 0l6-6M1037.5 1180.5l6 6m-6 0l6-6M1037.5 1200.5l6 6m-6 0l6-6M1038.5 1179.5l6 6m-6 0l6-6M1038.5 1202.5l6 6m-6 0l6-6M1038.5 1178.5l6 6m-6 0l6-6M1038.5 1176.5l6 6m-6 0l6-6M1038.5 1172.5l6 6m-6 0l6-6M1038.5 1178.5l6 6m-6 0l6-6M1038.5 1187.5l6 6m-6 0l6-6M1039.5 1183.5l6 6m-6 0l6-6M1039.5 1185.5l6 6m-6 0l6-6M1039.5 1184.5l6 6m-6 0l6-6M1039.5 1193.5l6 6m-6 0l6-6M1039.5 1183.5l6 6m-6 0l6-6M1039.5 1174.5l6 6m-6 0l6-6M1040.5 1191.5l6 6m-6 0l6-6M1040.5 1170.5l6 6m-6 0l6-6M1040.5 1182.5l6 6m-6 0l6-6M1040.5 1189.5l6 6m-6 0l6-6M1040.5 1193.5l6 6m-6 0l6-6M1040.5 1181.5l6 6m-6 0l6-6M1041.5 1189.5l6 6m-6 0l6-6M1041.5 1194.5l6 6m-6 0l6-6M1041.5 1170.5l6 6m-6 0l6-6M1041.5 1183.5l6 6m-6 0l6-6M1041.5 1177.5l6 6m-6 0l6-6M1041.5 1178.5l6 6m-6 0l6-6M1042.5 1191.5l6 6m-6 0l6-6M1042.5 1174.5l6 6m-6 0l6-6M1042.5 1178.5l6 6m-6 0l6-6M1042.5 1165.5l6 6m-6 0l6-6M1042.5 1194.5l6 6m-6 0l6-6M1042.5 1177.5l6 6m-6 0l6-6M1043.5 1196.5l6 6m-6 0l6-6M1043.5 1202.5l6 6m-6 0l6-6M1043.5 1179.5l6 6m-6 0l6-6M1043.5 1180.5l6 6m-6 0l6-6M1043.5 1185.5l6 6m-6 0l6-6M1043.5 1191.5l6 6m-6 0l6-6M1043.5 1182.5l6 6m-6 0l6-6M1044.5 1184.5l6 6m-6 0l6-6M1044.5 1175.5l6 6m-6 0l6-6M1044.5 1205.5l6 6m-6 0l6-6M1044.5 1192.5l6 6m-6 0l6-6M1044.5 1190.5l6 6m-6 0l6-6M1044.5 1180.5l6 6m-6 0l6-6M1045.5 1170.5l6 6m-6 0l6-6M1045.5 1192.5l6 6m-6 0l6-6M1045.5 1187.5l6 6m-6 0l6-6M1045.5 1194.5l6 6m-6 0l6-6M1045.5 1191.5l6 6m-6 0l6-6M1045.5 1182.5l6 6m-6 0l6-6M1046.5 1189.5l6 6m-6 0l6-6M1046.5 1191.5l6 6m-6 0l6-6M1046.5 1205.5l6 6m-6 0l6-6M1046.5 1181.5l6 6m-6 0l6-6M1046.5 1196.5l6 6m-6 0l6-6M1046.5 1195.5l6 6m-6 0l6-6M1047.5 1184.5l6 6m-6 0l6-6M1047.5 1174.5l6 6m-6 0l6-6M1047.5 1201.5l6 6m-6 0l6-6M1047.5 1171.5l6 6m-6 0l6-6M1047.5 1175.5l6 6m-6 0l6-6M1047.5 1184.5l6 6m-6 0l6-6M1048.5 1179.5l6 6m-6 0l6-6M1048.5 1196.5l6 6m-6 0l6-6M1048.5 1172.5l6 6m-6 0l6-6M1048.5 1171.5l6 6m-6 0l6-6M1048.5 1181.5l6 6m-6 0l6-6M1048.5 1165.5l6 6m-6 0l6-6M1048.5 1158.5l6 6m-6 0l6-6M1049.5 1186.5l6 6m-6 0l6-6M1049.5 1177.5l6 6m-6 0l6-6M1049.5 1193.5l6 6m-6 0l6-6M1049.5 1199.5l6 6m-6 0l6-6M1049.5 1175.5l6 6m-6 0l6-6M1049.5 1199.5l6 6m-6 0l6-6M1050.5 1178.5l6 6m-6 0l6-6M1050.5 1168.5l6 6m-6 0l6-6M1050.5 1171.5l6 6m-6 0l6-6M1050.5 1183.5l6 6m-6 0l6-6M1050.5 1170.5l6 6m-6 0l6-6M1050.5 1188.5l6 6m-6 0l6-6M1051.5 1175.5l6 6m-6 0l6-6M1051.5 1182.5l6 6m-6 0l6-6M1051.5 1197.5l6 6m-6 0l6-6M1051.5 1195.5l6 6m-6 0l6-6M1051.5 1180.5l6 6m-6 0l6-6M1051.5 1186.5l6 6m-6 0l6-6M1052.5 1180.5l6 6m-6 0l6-6M1052.5 1187.5l6 6m-6 0l6-6M1052.5 1172.5l6 6m-6 0l6-6M1052.5 1190.5l6 6m-6 0l6-6M1052.5 1191.5l6 6m-6 0l6-6M1052.5 1177.5l6 6m-6 0l6-6M1052.5 1178.5l6 6m-6 0l6-6M1053.5 1178.5l6 6m-6 0l6-6M1053.5 1194.5l6 6m-6 0l6-6M1053.5 1164.5l6 6m-6 0l6-6M1053.5 1174.5l6 6m-6 0l6-6M1053.5 1191.5l6 6m-6 0l6-6M1053.5 1181.5l6 6m-6 0l6-6M1054.5 1182.5l6 6m-6 0l6-6M1054.5 1195.5l6 6m-6 0l6-6M1054.5 1185.5l6 6m-6 0l6-6M1054.5 1172.5l6 6m-6 0l6-6M1054.5 1168.5l6 6m-6 0l6-6M1054.5 1168.5l6 6m-6 0l6-6M1055.5 1190.5l6 6m-6 0l6-6M1055.5 1184.5l6 6m-6 0l6-6M1055.5 1200.5l6 6m-6 0l6-6M1055.5 1192.5l6 6m-6 0l6-6M1055.5 1189.5l6 6m-6 0l6-6M1055.5 1179.5l6 6m-6 0l6-6M1056.5 1175.5l6 6m-6 0l6-6M1056.5 1181.5l6 6m-6 0l6-6M1056.5 1178.5l6 6m-6 0l6-6M1056.5 1184.5l6 6m-6 0l6-6M1056.5 1184.5l6 6m-6 0l6-6M1056.5 1193.5l6 6m-6 0l6-6M1057.5 1200.5l6 6m-6 0l6-6M1057.5 1207.5l6 6m-6 0l6-6M1057.5 1196.5l6 6m-6 0l6-6M1057.5 1172.5l6 6m-6 0l6-6M1057.5 1180.5l6 6m-6 0l6-6M1057.5 1184.5l6 6m-6 0l6-6M1057.5 1173.5l6 6m-6 0l6-6M1058.5 1188.5l6 6m-6 0l6-6M1058.5 1189.5l6 6m-6 0l6-6M1058.5 1187.5l6 6m-6 0l6-6M1058.5 1186.5l6 6m-6 0l6-6M1058.5 1182.5l6 6m-6 0l6-6M1058.5 1186.5l6 6m-6 0l6-6M1059.5 1194.5l6 6m-6 0l6-6M1059.5 1186.5l6 6m-6 0l6-6M1059.5 1194.5l6 6m-6 0l6-6M1059.5 1184.5l6 6m-6 0l6-6M1059.5 1177.5l6 6m-6 0l6-6M1059.5 1182.5l6 6m-6 0l6-6M1060.5 1191.5l6 6m-6 0l6-6M1060.5 1172.5l6 6m-6 0l6-6M1060.5 1176.5l6 6m-6 0l6-6M1060.5 1179.5l6 6m-6 0l6-6M1060.5 1166.5l6 6m-6 0l6-6M1060.5 1187.5l6 6m-6 0l6-6M1061.5 1185.5l6 6m-6 0l6-6M1061.5 1207.5l6 6m-6 0l6-6M1061.5 1174.5l6 6m-6 0l6-6M1061.5 1182.5l6 6m-6 0l6-6M1061.5 1181.5l6 6m-6 0l6-6M1061.5 1184.5l6 6m-6 0l6-6M1061.5 1188.5l6 6m-6 0l6-6M1062.5 1186.5l6 6m-6 0l6-6M1062.5 1202.5l6 6m-6 0l6-6M1062.5 1194.5l6 6m-6 0l6-6M1062.5 1174.5l6 6m-6 0l6-6M1062.5 1185.5l6 6m-6 0l6-6M1062.5 1191.5l6 6m-6 0l6-6M1063.5 1175.5l6 6m-6 0l6-6M1063.5 1206.5l6 6m-6 0l6-6M1063.5 1188.5l6 6m-6 0l6-6M1063.5 1181.5l6 6m-6 0l6-6M1063.5 1186.5l6 6m-6 0l6-6M1063.5 1180.5l6 6m-6 0l6-6M1064.5 1166.5l6 6m-6 0l6-6M1064.5 1178.5l6 6m-6 0l6-6M1064.5 1192.5l6 6m-6 0l6-6M1064.5 1175.5l6 6m-6 0l6-6M1064.5 1178.5l6 6m-6 0l6-6M1064.5 1188.5l6 6m-6 0l6-6M1065.5 1190.5l6 6m-6 0l6-6M1065.5 1174.5l6 6m-6 0l6-6M1065.5 1182.5l6 6m-6 0l6-6M1065.5 1184.5l6 6m-6 0l6-6M1065.5 1185.5l6 6m-6 0l6-6M1065.5 1183.5l6 6m-6 0l6-6M1066.5 1197.5l6 6m-6 0l6-6M1066.5 1185.5l6 6m-6 0l6-6M1066.5 1179.5l6 6m-6 0l6-6M1066.5 1212.5l6 6m-6 0l6-6M1066.5 1183.5l6 6m-6 0l6-6M1066.5 1195.5l6 6m-6 0l6-6M1066.5 1200.5l6 6m-6 0l6-6M1067.5 1175.5l6 6m-6 0l6-6M1067.5 1200.5l6 6m-6 0l6-6M1067.5 1190.5l6 6m-6 0l6-6M1067.5 1179.5l6 6m-6 0l6-6M1067.5 1189.5l6 6m-6 0l6-6M1067.5 1189.5l6 6m-6 0l6-6M1068.5 1178.5l6 6m-6 0l6-6M1068.5 1181.5l6 6m-6 0l6-6M1068.5 1192.5l6 6m-6 0l6-6M1068.5 1179.5l6 6m-6 0l6-6M1068.5 1189.5l6 6m-6 0l6-6M1068.5 1195.5l6 6m-6 0l6-6M1069.5 1195.5l6 6m-6 0l6-6M1069.5 1165.5l6 6m-6 0l6-6M1069.5 1209.5l6 6m-6 0l6-6M1069.5 1199.5l6 6m-6 0l6-6M1069.5 1165.5l6 6m-6 0l6-6M1069.5 1176.5l6 6m-6 0l6-6M1070.5 1175.5l6 6m-6 0l6-6M1070.5 1170.5l6 6m-6 0l6-6M1070.5 1165.5l6 6m-6 0l6-6M1070.5 1202.5l6 6m-6 0l6-6M1070.5 1186.5l6 6m-6 0l6-6M1070.5 1193.5l6 6m-6 0l6-6M1071.5 1184.5l6 6m-6 0l6-6M1071.5 1190.5l6 6m-6 0l6-6M1071.5 1186.5l6 6m-6 0l6-6M1071.5 1179.5l6 6m-6 0l6-6M1071.5 1187.5l6 6m-6 0l6-6M1071.5 1192.5l6 6m-6 0l6-6M1071.5 1174.5l6 6m-6 0l6-6M1072.5 1184.5l6 6m-6 0l6-6M1072.5 1176.5l6 6m-6 0l6-6M1072.5 1185.5l6 6m-6 0l6-6M1072.5 1195.5l6 6m-6 0l6-6M1072.5 1194.5l6 6m-6 0l6-6M1072.5 1193.5l6 6m-6 0l6-6M1073.5 1192.5l6 6m-6 0l6-6M1073.5 1179.5l6 6m-6 0l6-6M1073.5 1175.5l6 6m-6 0l6-6M1073.5 1179.5l6 6m-6 0l6-6M1073.5 1190.5l6 6m-6 0l6-6M1073.5 1197.5l6 6m-6 0l6-6M1074.5 1189.5l6 6m-6 0l6-6M1074.5 1203.5l6 6m-6 0l6-6M1074.5 1188.5l6 6m-6 0l6-6M1074.5 1191.5l6 6m-6 0l6-6M1074.5 1195.5l6 6m-6 0l6-6M1074.5 1176.5l6 6m-6 0l6-6M1075.5 1190.5l6 6m-6 0l6-6M1075.5 1194.5l6 6m-6 0l6-6M1075.5 1180.5l6 6m-6 0l6-6M1075.5 1198.5l6 6m-6 0l6-6M1075.5 1198.5l6 6m-6 0l6-6M1075.5 1222.5l6 6m-6 0l6-6M1075.5 1181.5l6 6m-6 0l6-6M1076.5 1177.5l6 6m-6 0l6-6M1076.5 1202.5l6 6m-6 0l6-6M1076.5 1193.5l6 6m-6 0l6-6M1076.5 1187.5l6 6m-6 0l6-6M1076.5 1179.5l6 6m-6 0l6-6M1076.5 1182.5l6 6m-6 0l6-6M1077.5 1181.5l6 6m-6 0l6-6M1077.5 1188.5l6 6m-6 0l6-6M1077.5 1189.5l6 6m-6 0l6-6M1077.5 1178.5l6 6m-6 0l6-6M1077.5 1198.5l6 6m-6 0l6-6M1077.5 1188.5l6 6m-6 0l6-6M1078.5 1173.5l6 6m-6 0l6-6M1078.5 1172.5l6 6m-6 0l6-6M1078.5 1169.5l6 6m-6 0l6-6M1078.5 1184.5l6 6m-6 0l6-6M1078.5 1185.5l6 6m-6 0l6-6M1078.5 1167.5l6 6m-6 0l6-6M1079.5 1189.5l6 6m-6 0l6-6M1079.5 1193.5l6 6m-6 0l6-6M1079.5 1183.5l6 6m-6 0l6-6M1079.5 1191.5l6 6m-6 0l6-6M1079.5 1187.5l6 6m-6 0l6-6M1079.5 1181.5l6 6m-6 0l6-6M1080.5 1191.5l6 6m-6 0l6-6M1080.5 1176.5l6 6m-6 0l6-6M1080.5 1176.5l6 6m-6 0l6-6M1080.5 1181.5l6 6m-6 0l6-6M1080.5 1200.5l6 6m-6 0l6-6M1080.5 1191.5l6 6m-6 0l6-6M1080.5 1177.5l6 6m-6 0l6-6M1081.5 1178.5l6 6m-6 0l6-6M1081.5 1188.5l6 6m-6 0l6-6M1081.5 1174.5l6 6m-6 0l6-6M1081.5 1195.5l6 6m-6 0l6-6M1081.5 1185.5l6 6m-6 0l6-6M1081.5 1215.5l6 6m-6 0l6-6M1082.5 1218.5l6 6m-6 0l6-6M1082.5 1154.5l6 6m-6 0l6-6M1082.5 1197.5l6 6m-6 0l6-6M1082.5 1175.5l6 6m-6 0l6-6M1082.5 1171.5l6 6m-6 0l6-6M1082.5 1191.5l6 6m-6 0l6-6M1083.5 1196.5l6 6m-6 0l6-6M1083.5 1187.5l6 6m-6 0l6-6M1083.5 1188.5l6 6m-6 0l6-6M1083.5 1190.5l6 6m-6 0l6-6M1083.5 1186.5l6 6m-6 0l6-6M1083.5 1174.5l6 6m-6 0l6-6M1084.5 1202.5l6 6m-6 0l6-6M1084.5 1188.5l6 6m-6 0l6-6M1084.5 1183.5l6 6m-6 0l6-6M1084.5 1182.5l6 6m-6 0l6-6M1084.5 1188.5l6 6m-6 0l6-6M1084.5 1175.5l6 6m-6 0l6-6M1084.5 1179.5l6 6m-6 0l6-6M1085.5 1176.5l6 6m-6 0l6-6M1085.5 1181.5l6 6m-6 0l6-6M1085.5 1186.5l6 6m-6 0l6-6M1085.5 1200.5l6 6m-6 0l6-6M1085.5 1179.5l6 6m-6 0l6-6M1085.5 1198.5l6 6m-6 0l6-6M1086.5 1194.5l6 6m-6 0l6-6M1086.5 1177.5l6 6m-6 0l6-6M1086.5 1185.5l6 6m-6 0l6-6M1086.5 1178.5l6 6m-6 0l6-6M1086.5 1197.5l6 6m-6 0l6-6M1086.5 1186.5l6 6m-6 0l6-6M1087.5 1169.5l6 6m-6 0l6-6M1087.5 1203.5l6 6m-6 0l6-6M1087.5 1162.5l6 6m-6 0l6-6M1087.5 1168.5l6 6m-6 0l6-6M1087.5 1192.5l6 6m-6 0l6-6M1087.5 1199.5l6 6m-6 0l6-6M1088.5 1186.5l6 6m-6 0l6-6M1088.5 1190.5l6 6m-6 0l6-6M1088.5 1174.5l6 6m-6 0l6-6M1088.5 1195.5l6 6m-6 0l6-6M1088.5 1174.5l6 6m-6 0l6-6M1088.5 1180.5l6 6m-6 0l6-6M1089.5 1190.5l6 6m-6 0l6-6M1089.5 1195.5l6 6m-6 0l6-6M1089.5 1197.5l6 6m-6 0l6-6M1089.5 1177.5l6 6m-6 0l6-6M1089.5 1193.5l6 6m-6 0l6-6M1089.5 1207.5l6 6m-6 0l6-6M1089.5 1181.5l6 6m-6 0l6-6M1090.5 1207.5l6 6m-6 0l6-6M1090.5 1202.5l6 6m-6 0l6-6M1090.5 1176.5l6 6m-6 0l6-6M1090.5 1178.5l6 6m-6 0l6-6M1090.5 1187.5l6 6m-6 0l6-6M1090.5 1189.5l6 6m-6 0l6-6M1091.5 1189.5l6 6m-6 0l6-6M1091.5 1173.5l6 6m-6 0l6-6M1091.5 1191.5l6 6m-6 0l6-6M1091.5 1166.5l6 6m-6 0l6-6M1091.5 1194.5l6 6m-6 0l6-6M1091.5 1178.5l6 6m-6 0l6-6M1092.5 1167.5l6 6m-6 0l6-6M1092.5 1177.5l6 6m-6 0l6-6M1092.5 1201.5l6 6m-6 0l6-6M1092.5 1186.5l6 6m-6 0l6-6M1092.5 1174.5l6 6m-6 0l6-6M1092.5 1179.5l6 6m-6 0l6-6M1093.5 1170.5l6 6m-6 0l6-6M1093.5 1172.5l6 6m-6 0l6-6M1093.5 1184.5l6 6m-6 0l6-6M1093.5 1186.5l6 6m-6 0l6-6M1093.5 1196.5l6 6m-6 0l6-6M1093.5 1193.5l6 6m-6 0l6-6M1094.5 1205.5l6 6m-6 0l6-6M1094.5 1189.5l6 6m-6 0l6-6M1094.5 1167.5l6 6m-6 0l6-6M1094.5 1209.5l6 6m-6 0l6-6M1094.5 1185.5l6 6m-6 0l6-6M1094.5 1199.5l6 6m-6 0l6-6M1094.5 1166.5l6 6m-6 0l6-6M1095.5 1197.5l6 6m-6 0l6-6M1095.5 1159.5l6 6m-6 0l6-6M1095.5 1173.5l6 6m-6 0l6-6M1095.5 1209.5l6 6m-6 0l6-6M1095.5 1195.5l6 6m-6 0l6-6M1095.5 1174.5l6 6m-6 0l6-6M1096.5 1191.5l6 6m-6 0l6-6M1096.5 1188.5l6 6m-6 0l6-6M1096.5 1169.5l6 6m-6 0l6-6M1096.5 1193.5l6 6m-6 0l6-6M1096.5 1183.5l6 6m-6 0l6-6M1096.5 1193.5l6 6m-6 0l6-6M1097.5 1166.5l6 6m-6 0l6-6M1097.5 1186.5l6 6m-6 0l6-6M1097.5 1179.5l6 6m-6 0l6-6M1097.5 1196.5l6 6m-6 0l6-6M1097.5 1182.5l6 6m-6 0l6-6M1097.5 1164.5l6 6m-6 0l6-6M1098.5 1162.5l6 6m-6 0l6-6M1098.5 1182.5l6 6m-6 0l6-6M1098.5 1156.5l6 6m-6 0l6-6M1098.5 1190.5l6 6m-6 0l6-6M1098.5 1174.5l6 6m-6 0l6-6M1098.5 1192.5l6 6m-6 0l6-6M1098.5 1182.5l6 6m-6 0l6-6M1099.5 1193.5l6 6m-6 0l6-6M1099.5 1183.5l6 6m-6 0l6-6M1099.5 1165.5l6 6m-6 0l6-6M1099.5 1174.5l6 6m-6 0l6-6M1099.5 1175.5l6 6m-6 0l6-6M1099.5 1181.5l6 6m-6 0l6-6M1100.5 1195.5l6 6m-6 0l6-6M1100.5 1168.5l6 6m-6 0l6-6M1100.5 1180.5l6 6m-6 0l6-6M1100.5 1196.5l6 6m-6 0l6-6M1100.5 1184.5l6 6m-6 0l6-6M1100.5 1172.5l6 6m-6 0l6-6M1101.5 1189.5l6 6m-6 0l6-6M1101.5 1205.5l6 6m-6 0l6-6M1101.5 1195.5l6 6m-6 0l6-6M1101.5 1175.5l6 6m-6 0l6-6M1101.5 1212.5l6 6m-6 0l6-6M1101.5 1170.5l6 6m-6 0l6-6M1102.5 1194.5l6 6m-6 0l6-6M1102.5 1187.5l6 6m-6 0l6-6M1102.5 1163.5l6 6m-6 0l6-6M1102.5 1184.5l6 6m-6 0l6-6M1102.5 1183.5l6 6m-6 0l6-6M1102.5 1188.5l6 6m-6 0l6-6M1103.5 1173.5l6 6m-6 0l6-6M1103.5 1170.5l6 6m-6 0l6-6M1103.5 1181.5l6 6m-6 0l6-6M1103.5 1184.5l6 6m-6 0l6-6M1103.5 1179.5l6 6m-6 0l6-6M1103.5 1180.5l6 6m-6 0l6-6M1103.5 1172.5l6 6m-6 0l6-6M1104.5 1158.5l6 6m-6 0l6-6M1104.5 1171.5l6 6m-6 0l6-6M1104.5 1169.5l6 6m-6 0l6-6M1104.5 1179.5l6 6m-6 0l6-6M1104.5 1176.5l6 6m-6 0l6-6M1104.5 1154.5l6 6m-6 0l6-6M1105.5 1174.5l6 6m-6 0l6-6M1105.5 1163.5l6 6m-6 0l6-6M1105.5 1199.5l6 6m-6 0l6-6M1105.5 1189.5l6 6m-6 0l6-6M1105.5 1193.5l6 6m-6 0l6-6M1105.5 1196.5l6 6m-6 0l6-6M1106.5 1204.5l6 6m-6 0l6-6M1106.5 1172.5l6 6m-6 0l6-6M1106.5 1203.5l6 6m-6 0l6-6M1106.5 1193.5l6 6m-6 0l6-6M1106.5 1194.5l6 6m-6 0l6-6M1106.5 1186.5l6 6m-6 0l6-6M1107.5 1170.5l6 6m-6 0l6-6M1107.5 1182.5l6 6m-6 0l6-6M1107.5 1183.5l6 6m-6 0l6-6M1107.5 1172.5l6 6m-6 0l6-6M1107.5 1189.5l6 6m-6 0l6-6M1107.5 1193.5l6 6m-6 0l6-6M1107.5 1181.5l6 6m-6 0l6-6M1108.5 1185.5l6 6m-6 0l6-6M1108.5 1175.5l6 6m-6 0l6-6M1108.5 1201.5l6 6m-6 0l6-6M1108.5 1201.5l6 6m-6 0l6-6M1108.5 1191.5l6 6m-6 0l6-6M1108.5 1172.5l6 6m-6 0l6-6M1109.5 1181.5l6 6m-6 0l6-6M1109.5 1177.5l6 6m-6 0l6-6M1109.5 1200.5l6 6m-6 0l6-6M1109.5 1195.5l6 6m-6 0l6-6M1109.5 1176.5l6 6m-6 0l6-6M1109.5 1193.5l6 6m-6 0l6-6M1110.5 1187.5l6 6m-6 0l6-6M1110.5 1185.5l6 6m-6 0l6-6M1110.5 1187.5l6 6m-6 0l6-6M1110.5 1177.5l6 6m-6 0l6-6M1110.5 1181.5l6 6m-6 0l6-6M1110.5 1167.5l6 6m-6 0l6-6M1111.5 1206.5l6 6m-6 0l6-6M1111.5 1193.5l6 6m-6 0l6-6M1111.5 1189.5l6 6m-6 0l6-6M1111.5 1206.5l6 6m-6 0l6-6M1111.5 1196.5l6 6m-6 0l6-6M1111.5 1180.5l6 6m-6 0l6-6M1112.5 1179.5l6 6m-6 0l6-6M1112.5 1191.5l6 6m-6 0l6-6M1112.5 1193.5l6 6m-6 0l6-6M1112.5 1197.5l6 6m-6 0l6-6M1112.5 1200.5l6 6m-6 0l6-6M1112.5 1176.5l6 6m-6 0l6-6M1112.5 1162.5l6 6m-6 0l6-6M1113.5 1198.5l6 6m-6 0l6-6M1113.5 1196.5l6 6m-6 0l6-6M1113.5 1179.5l6 6m-6 0l6-6M1113.5 1183.5l6 6m-6 0l6-6M1113.5 1179.5l6 6m-6 0l6-6M1113.5 1204.5l6 6m-6 0l6-6M1114.5 1168.5l6 6m-6 0l6-6M1114.5 1196.5l6 6m-6 0l6-6M1114.5 1194.5l6 6m-6 0l6-6M1114.5 1221.5l6 6m-6 0l6-6M1114.5 1185.5l6 6m-6 0l6-6M1114.5 1204.5l6 6m-6 0l6-6M1115.5 1180.5l6 6m-6 0l6-6M1115.5 1186.5l6 6m-6 0l6-6M1115.5 1176.5l6 6m-6 0l6-6M1115.5 1166.5l6 6m-6 0l6-6M1115.5 1184.5l6 6m-6 0l6-6M1115.5 1194.5l6 6m-6 0l6-6M1116.5 1187.5l6 6m-6 0l6-6M1116.5 1184.5l6 6m-6 0l6-6M1116.5 1180.5l6 6m-6 0l6-6M1116.5 1187.5l6 6m-6 0l6-6M1116.5 1188.5l6 6m-6 0l6-6M1116.5 1177.5l6 6m-6 0l6-6M1117.5 1182.5l6 6m-6 0l6-6M1117.5 1187.5l6 6m-6 0l6-6M1117.5 1187.5l6 6m-6 0l6-6M1117.5 1212.5l6 6m-6 0l6-6M1117.5 1187.5l6 6m-6 0l6-6M1117.5 1188.5l6 6m-6 0l6-6M1117.5 1193.5l6 6m-6 0l6-6M1118.5 1179.5l6 6m-6 0l6-6M1118.5 1178.5l6 6m-6 0l6-6M1118.5 1177.5l6 6m-6 0l6-6M1118.5 1184.5l6 6m-6 0l6-6M1118.5 1191.5l6 6m-6 0l6-6M1118.5 1198.5l6 6m-6 0l6-6M1119.5 1185.5l6 6m-6 0l6-6M1119.5 1170.5l6 6m-6 0l6-6M1119.5 1156.5l6 6m-6 0l6-6M1119.5 1200.5l6 6m-6 0l6-6M1119.5 1205.5l6 6m-6 0l6-6M1119.5 1179.5l6 6m-6 0l6-6M1120.5 1176.5l6 6m-6 0l6-6M1120.5 1168.5l6 6m-6 0l6-6M1120.5 1185.5l6 6m-6 0l6-6M1120.5 1185.5l6 6m-6 0l6-6M1120.5 1170.5l6 6m-6 0l6-6M1120.5 1180.5l6 6m-6 0l6-6M1121.5 1184.5l6 6m-6 0l6-6M1121.5 1176.5l6 6m-6 0l6-6M1121.5 1193.5l6 6m-6 0l6-6M1121.5 1207.5l6 6m-6 0l6-6M1121.5 1182.5l6 6m-6 0l6-6M1121.5 1202.5l6 6m-6 0l6-6M1121.5 1191.5l6 6m-6 0l6-6M1122.5 1172.5l6 6m-6 0l6-6M1122.5 1166.5l6 6m-6 0l6-6M1122.5 1179.5l6 6m-6 0l6-6M1122.5 1194.5l6 6m-6 0l6-6M1122.5 1171.5l6 6m-6 0l6-6M1122.5 1189.5l6 6m-6 0l6-6M1123.5 1181.5l6 6m-6 0l6-6M1123.5 1181.5l6 6m-6 0l6-6M1123.5 1181.5l6 6m-6 0l6-6M1123.5 1183.5l6 6m-6 0l6-6M1123.5 1188.5l6 6m-6 0l6-6M1123.5 1184.5l6 6m-6 0l6-6M1124.5 1175.5l6 6m-6 0l6-6M1124.5 1189.5l6 6m-6 0l6-6M1124.5 1186.5l6 6m-6 0l6-6M1124.5 1211.5l6 6m-6 0l6-6M1124.5 1165.5l6 6m-6 0l6-6M1124.5 1190.5l6 6m-6 0l6-6M1125.5 1180.5l6 6m-6 0l6-6M1125.5 1196.5l6 6m-6 0l6-6M1125.5 1198.5l6 6m-6 0l6-6M1125.5 1196.5l6 6m-6 0l6-6M1125.5 1187.5l6 6m-6 0l6-6M1125.5 1194.5l6 6m-6 0l6-6M1126.5 1171.5l6 6m-6 0l6-6M1126.5 1189.5l6 6m-6 0l6-6M1126.5 1179.5l6 6m-6 0l6-6M1126.5 1226.5l6 6m-6 0l6-6M1126.5 1184.5l6 6m-6 0l6-6M1126.5 1162.5l6 6m-6 0l6-6M1126.5 1196.5l6 6m-6 0l6-6M1127.5 1178.5l6 6m-6 0l6-6M1127.5 1181.5l6 6m-6 0l6-6M1127.5 1187.5l6 6m-6 0l6-6M1127.5 1188.5l6 6m-6 0l6-6M1127.5 1177.5l6 6m-6 0l6-6M1127.5 1199.5l6 6m-6 0l6-6M1128.5 1192.5l6 6m-6 0l6-6M1128.5 1179.5l6 6m-6 0l6-6M1128.5 1164.5l6 6m-6 0l6-6M1128.5 1195.5l6 6m-6 0l6-6M1128.5 1201.5l6 6m-6 0l6-6M1128.5 1199.5l6 6m-6 0l6-6M1129.5 1178.5l6 6m-6 0l6-6M1129.5 1174.5l6 6m-6 0l6-6M1129.5 1172.5l6 6m-6 0l6-6M1129.5 1179.5l6 6m-6 0l6-6M1129.5 1193.5l6 6m-6 0l6-6M1129.5 1198.5l6 6m-6 0l6-6M1130.5 1176.5l6 6m-6 0l6-6M1130.5 1179.5l6 6m-6 0l6-6M1130.5 1203.5l6 6m-6 0l6-6M1130.5 1189.5l6 6m-6 0l6-6M1130.5 1178.5l6 6m-6 0l6-6M1130.5 1185.5l6 6m-6 0l6-6M1131.5 1188.5l6 6m-6 0l6-6M1131.5 1201.5l6 6m-6 0l6-6M1131.5 1175.5l6 6m-6 0l6-6M1131.5 1201.5l6 6m-6 0l6-6M1131.5 1194.5l6 6m-6 0l6-6M1131.5 1187.5l6 6m-6 0l6-6M1131.5 1202.5l6 6m-6 0l6-6M1132.5 1197.5l6 6m-6 0l6-6M1132.5 1186.5l6 6m-6 0l6-6M1132.5 1198.5l6 6m-6 0l6-6M1132.5 1177.5l6 6m-6 0l6-6M1132.5 1187.5l6 6m-6 0l6-6M1132.5 1197.5l6 6m-6 0l6-6M1133.5 1198.5l6 6m-6 0l6-6M1133.5 1189.5l6 6m-6 0l6-6M1133.5 1161.5l6 6m-6 0l6-6M1133.5 1190.5l6 6m-6 0l6-6M1133.5 1166.5l6 6m-6 0l6-6M1133.5 1185.5l6 6m-6 0l6-6M1134.5 1174.5l6 6m-6 0l6-6M1134.5 1194.5l6 6m-6 0l6-6M1134.5 1180.5l6 6m-6 0l6-6M1134.5 1182.5l6 6m-6 0l6-6M1134.5 1176.5l6 6m-6 0l6-6M1134.5 1180.5l6 6m-6 0l6-6M1135.5 1174.5l6 6m-6 0l6-6M1135.5 1188.5l6 6m-6 0l6-6M1135.5 1179.5l6 6m-6 0l6-6M1135.5 1195.5l6 6m-6 0l6-6M1135.5 1189.5l6 6m-6 0l6-6M1135.5 1173.5l6 6m-6 0l6-6M1135.5 1181.5l6 6m-6 0l6-6M1136.5 1139.5l6 6m-6 0l6-6M1136.5 1168.5l6 6m-6 0l6-6M1136.5 1178.5l6 6m-6 0l6-6M1136.5 1203.5l6 6m-6 0l6-6M1136.5 1173.5l6 6m-6 0l6-6M1136.5 1200.5l6 6m-6 0l6-6M1137.5 1184.5l6 6m-6 0l6-6M1137.5 1180.5l6 6m-6 0l6-6M1137.5 1187.5l6 6m-6 0l6-6M1137.5 1182.5l6 6m-6 0l6-6M1137.5 1174.5l6 6m-6 0l6-6M1137.5 1177.5l6 6m-6 0l6-6M1138.5 1189.5l6 6m-6 0l6-6M1138.5 1173.5l6 6m-6 0l6-6M1138.5 1193.5l6 6m-6 0l6-6M1138.5 1165.5l6 6m-6 0l6-6M1138.5 1187.5l6 6m-6 0l6-6M1138.5 1185.5l6 6m-6 0l6-6M1139.5 1176.5l6 6m-6 0l6-6M1139.5 1196.5l6 6m-6 0l6-6M1139.5 1198.5l6 6m-6 0l6-6M1139.5 1186.5l6 6m-6 0l6-6M1139.5 1190.5l6 6m-6 0l6-6M1139.5 1205.5l6 6m-6 0l6-6M1140.5 1211.5l6 6m-6 0l6-6M1140.5 1203.5l6 6m-6 0l6-6M1140.5 1183.5l6 6m-6 0l6-6M1140.5 1190.5l6 6m-6 0l6-6M1140.5 1193.5l6 6m-6 0l6-6M1140.5 1190.5l6 6m-6 0l6-6M1140.5 1192.5l6 6m-6 0l6-6M1141.5 1162.5l6 6m-6 0l6-6M1141.5 1189.5l6 6m-6 0l6-6M1141.5 1189.5l6 6m-6 0l6-6M1141.5 1194.5l6 6m-6 0l6-6M1141.5 1187.5l6 6m-6 0l6-6M1141.5 1181.5l6 6m-6 0l6-6M1142.5 1184.5l6 6m-6 0l6-6M1142.5 1188.5l6 6m-6 0l6-6M1142.5 1180.5l6 6m-6 0l6-6M1142.5 1176.5l6 6m-6 0l6-6M1142.5 1190.5l6 6m-6 0l6-6M1142.5 1185.5l6 6m-6 0l6-6M1143.5 1166.5l6 6m-6 0l6-6M1143.5 1185.5l6 6m-6 0l6-6M1143.5 1185.5l6 6m-6 0l6-6M1143.5 1195.5l6 6m-6 0l6-6M1143.5 1186.5l6 6m-6 0l6-6M1143.5 1195.5l6 6m-6 0l6-6M1144.5 1192.5l6 6m-6 0l6-6M1144.5 1191.5l6 6m-6 0l6-6M1144.5 1186.5l6 6m-6 0l6-6M1144.5 1193.5l6 6m-6 0l6-6M1144.5 1189.5l6 6m-6 0l6-6M1144.5 1187.5l6 6m-6 0l6-6M1144.5 1164.5l6 6m-6 0l6-6M1145.5 1194.5l6 6m-6 0l6-6M1145.5 1193.5l6 6m-6 0l6-6M1145.5 1194.5l6 6m-6 0l6-6M1145.5 1186.5l6 6m-6 0l6-6M1145.5 1176.5l6 6m-6 0l6-6M1145.5 1193.5l6 6m-6 0l6-6M1146.5 1200.5l6 6m-6 0l6-6M1146.5 1164.5l6 6m-6 0l6-6M1146.5 1183.5l6 6m-6 0l6-6M1146.5 1183.5l6 6m-6 0l6-6M1146.5 1185.5l6 6m-6 0l6-6M1146.5 1186.5l6 6m-6 0l6-6M1147.5 1184.5l6 6m-6 0l6-6M1147.5 1180.5l6 6m-6 0l6-6M1147.5 1173.5l6 6m-6 0l6-6M1147.5 1190.5l6 6m-6 0l6-6M1147.5 1185.5l6 6m-6 0l6-6M1147.5 1194.5l6 6m-6 0l6-6M1148.5 1181.5l6 6m-6 0l6-6M1148.5 1183.5l6 6m-6 0l6-6M1148.5 1188.5l6 6m-6 0l6-6M1148.5 1187.5l6 6m-6 0l6-6M1148.5 1181.5l6 6m-6 0l6-6M1148.5 1191.5l6 6m-6 0l6-6M1149.5 1177.5l6 6m-6 0l6-6M1149.5 1176.5l6 6m-6 0l6-6M1149.5 1188.5l6 6m-6 0l6-6M1149.5 1193.5l6 6m-6 0l6-6M1149.5 1184.5l6 6m-6 0l6-6M1149.5 1183.5l6 6m-6 0l6-6M1149.5 1188.5l6 6m-6 0l6-6M1150.5 1198.5l6 6m-6 0l6-6M1150.5 1183.5l6 6m-6 0l6-6M1150.5 1184.5l6 6m-6 0l6-6M1150.5 1187.5l6 6m-6 0l6-6M1150.5 1177.5l6 6m-6 0l6-6M1150.5 1200.5l6 6m-6 0l6-6M1151.5 1184.5l6 6m-6 0l6-6M1151.5 1188.5l6 6m-6 0l6-6M1151.5 1189.5l6 6m-6 0l6-6M1151.5 1177.5l6 6m-6 0l6-6M1151.5 1183.5l6 6m-6 0l6-6M1151.5 1171.5l6 6m-6 0l6-6M1152.5 1176.5l6 6m-6 0l6-6M1152.5 1187.5l6 6m-6 0l6-6M1152.5 1190.5l6 6m-6 0l6-6M1152.5 1178.5l6 6m-6 0l6-6M1152.5 1212.5l6 6m-6 0l6-6M1152.5 1187.5l6 6m-6 0l6-6M1153.5 1183.5l6 6m-6 0l6-6M1153.5 1178.5l6 6m-6 0l6-6M1153.5 1188.5l6 6m-6 0l6-6M1153.5 1180.5l6 6m-6 0l6-6M1153.5 1178.5l6 6m-6 0l6-6M1153.5 1197.5l6 6m-6 0l6-6M1154.5 1193.5l6 6m-6 0l6-6M1154.5 1174.5l6 6m-6 0l6-6M1154.5 1193.5l6 6m-6 0l6-6M1154.5 1201.5l6 6m-6 0l6-6M1154.5 1179.5l6 6m-6 0l6-6M1154.5 1183.5l6 6m-6 0l6-6M1154.5 1177.5l6 6m-6 0l6-6M1155.5 1184.5l6 6m-6 0l6-6M1155.5 1164.5l6 6m-6 0l6-6M1155.5 1202.5l6 6m-6 0l6-6M1155.5 1175.5l6 6m-6 0l6-6M1155.5 1184.5l6 6m-6 0l6-6M1155.5 1199.5l6 6m-6 0l6-6M1156.5 1194.5l6 6m-6 0l6-6M1156.5 1186.5l6 6m-6 0l6-6M1156.5 1179.5l6 6m-6 0l6-6M1156.5 1174.5l6 6m-6 0l6-6M1156.5 1182.5l6 6m-6 0l6-6M1156.5 1192.5l6 6m-6 0l6-6M1157.5 1194.5l6 6m-6 0l6-6M1157.5 1172.5l6 6m-6 0l6-6M1157.5 1183.5l6 6m-6 0l6-6M1157.5 1192.5l6 6m-6 0l6-6M1157.5 1190.5l6 6m-6 0l6-6M1157.5 1185.5l6 6m-6 0l6-6M1158.5 1189.5l6 6m-6 0l6-6M1158.5 1182.5l6 6m-6 0l6-6M1158.5 1193.5l6 6m-6 0l6-6M1158.5 1193.5l6 6m-6 0l6-6M1158.5 1174.5l6 6m-6 0l6-6M1158.5 1173.5l6 6m-6 0l6-6M1158.5 1179.5l6 6m-6 0l6-6M1159.5 1173.5l6 6m-6 0l6-6M1159.5 1165.5l6 6m-6 0l6-6M1159.5 1186.5l6 6m-6 0l6-6M1159.5 1188.5l6 6m-6 0l6-6M1159.5 1196.5l6 6m-6 0l6-6M1159.5 1179.5l6 6m-6 0l6-6M1160.5 1185.5l6 6m-6 0l6-6M1160.5 1185.5l6 6m-6 0l6-6M1160.5 1172.5l6 6m-6 0l6-6M1160.5 1171.5l6 6m-6 0l6-6M1160.5 1187.5l6 6m-6 0l6-6M1160.5 1186.5l6 6m-6 0l6-6M1161.5 1192.5l6 6m-6 0l6-6M1161.5 1191.5l6 6m-6 0l6-6M1161.5 1176.5l6 6m-6 0l6-6M1161.5 1181.5l6 6m-6 0l6-6M1161.5 1184.5l6 6m-6 0l6-6M1161.5 1166.5l6 6m-6 0l6-6M1162.5 1188.5l6 6m-6 0l6-6M1162.5 1181.5l6 6m-6 0l6-6M1162.5 1198.5l6 6m-6 0l6-6M1162.5 1185.5l6 6m-6 0l6-6M1162.5 1169.5l6 6m-6 0l6-6M1162.5 1197.5l6 6m-6 0l6-6M1163.5 1203.5l6 6m-6 0l6-6M1163.5 1197.5l6 6m-6 0l6-6M1163.5 1206.5l6 6m-6 0l6-6M1163.5 1198.5l6 6m-6 0l6-6M1163.5 1178.5l6 6m-6 0l6-6M1163.5 1186.5l6 6m-6 0l6-6M1163.5 1197.5l6 6m-6 0l6-6M1164.5 1184.5l6 6m-6 0l6-6M1164.5 1182.5l6 6m-6 0l6-6M1164.5 1173.5l6 6m-6 0l6-6M1164.5 1180.5l6 6m-6 0l6-6M1164.5 1191.5l6 6m-6 0l6-6M1164.5 1184.5l6 6m-6 0l6-6M1165.5 1190.5l6 6m-6 0l6-6M1165.5 1189.5l6 6m-6 0l6-6M1165.5 1181.5l6 6m-6 0l6-6M1165.5 1199.5l6 6m-6 0l6-6M1165.5 1175.5l6 6m-6 0l6-6M1165.5 1189.5l6 6m-6 0l6-6M1166.5 1196.5l6 6m-6 0l6-6M1166.5 1183.5l6 6m-6 0l6-6M1166.5 1197.5l6 6m-6 0l6-6M1166.5 1194.5l6 6m-6 0l6-6M1166.5 1173.5l6 6m-6 0l6-6M1166.5 1195.5l6 6m-6 0l6-6M1167.5 1185.5l6 6m-6 0l6-6M1167.5 1177.5l6 6m-6 0l6-6M1167.5 1181.5l6 6m-6 0l6-6M1167.5 1185.5l6 6m-6 0l6-6M1167.5 1181.5l6 6m-6 0l6-6M1167.5 1186.5l6 6m-6 0l6-6M1167.5 1186.5l6 6m-6 0l6-6M1168.5 1171.5l6 6m-6 0l6-6M1168.5 1198.5l6 6m-6 0l6-6M1168.5 1194.5l6 6m-6 0l6-6M1168.5 1187.5l6 6m-6 0l6-6M1168.5 1176.5l6 6m-6 0l6-6M1168.5 1198.5l6 6m-6 0l6-6M1169.5 1185.5l6 6m-6 0l6-6M1169.5 1200.5l6 6m-6 0l6-6M1169.5 1202.5l6 6m-6 0l6-6M1169.5 1169.5l6 6m-6 0l6-6M1169.5 1183.5l6 6m-6 0l6-6M1169.5 1189.5l6 6m-6 0l6-6M1170.5 1180.5l6 6m-6 0l6-6M1170.5 1196.5l6 6m-6 0l6-6M1170.5 1189.5l6 6m-6 0l6-6M1170.5 1193.5l6 6m-6 0l6-6M1170.5 1176.5l6 6m-6 0l6-6M1170.5 1183.5l6 6m-6 0l6-6M1171.5 1180.5l6 6m-6 0l6-6M1171.5 1189.5l6 6m-6 0l6-6M1171.5 1190.5l6 6m-6 0l6-6M1171.5 1193.5l6 6m-6 0l6-6M1171.5 1192.5l6 6m-6 0l6-6M1171.5 1185.5l6 6m-6 0l6-6M1172.5 1186.5l6 6m-6 0l6-6M1172.5 1198.5l6 6m-6 0l6-6M1172.5 1187.5l6 6m-6 0l6-6M1172.5 1186.5l6 6m-6 0l6-6M1172.5 1202.5l6 6m-6 0l6-6M1172.5 1182.5l6 6m-6 0l6-6M1172.5 1174.5l6 6m-6 0l6-6M1173.5 1175.5l6 6m-6 0l6-6M1173.5 1186.5l6 6m-6 0l6-6M1173.5 1191.5l6 6m-6 0l6-6M1173.5 1182.5l6 6m-6 0l6-6M1173.5 1195.5l6 6m-6 0l6-6M1173.5 1174.5l6 6m-6 0l6-6M1174.5 1176.5l6 6m-6 0l6-6M1174.5 1184.5l6 6m-6 0l6-6M1174.5 1184.5l6 6m-6 0l6-6M1174.5 1186.5l6 6m-6 0l6-6M1174.5 1181.5l6 6m-6 0l6-6M1174.5 1192.5l6 6m-6 0l6-6M1175.5 1174.5l6 6m-6 0l6-6M1175.5 1186.5l6 6m-6 0l6-6M1175.5 1189.5l6 6m-6 0l6-6M1175.5 1187.5l6 6m-6 0l6-6M1175.5 1184.5l6 6m-6 0l6-6M1175.5 1183.5l6 6m-6 0l6-6M1176.5 1189.5l6 6m-6 0l6-6M1176.5 1184.5l6 6m-6 0l6-6M1176.5 1188.5l6 6m-6 0l6-6M1176.5 1191.5l6 6m-6 0l6-6M1176.5 1177.5l6 6m-6 0l6-6M1176.5 1188.5l6 6m-6 0l6-6M1177.5 1170.5l6 6m-6 0l6-6M1177.5 1174.5l6 6m-6 0l6-6M1177.5 1201.5l6 6m-6 0l6-6M1177.5 1184.5l6 6m-6 0l6-6M1177.5 1183.5l6 6m-6 0l6-6M1177.5 1187.5l6 6m-6 0l6-6M1177.5 1179.5l6 6m-6 0l6-6M1178.5 1171.5l6 6m-6 0l6-6M1178.5 1190.5l6 6m-6 0l6-6M1178.5 1180.5l6 6m-6 0l6-6M1178.5 1191.5l6 6m-6 0l6-6M1178.5 1195.5l6 6m-6 0l6-6M1178.5 1190.5l6 6m-6 0l6-6M1179.5 1177.5l6 6m-6 0l6-6M1179.5 1201.5l6 6m-6 0l6-6M1179.5 1173.5l6 6m-6 0l6-6M1179.5 1196.5l6 6m-6 0l6-6M1179.5 1182.5l6 6m-6 0l6-6M1179.5 1184.5l6 6m-6 0l6-6M1180.5 1198.5l6 6m-6 0l6-6M1180.5 1178.5l6 6m-6 0l6-6M1180.5 1180.5l6 6m-6 0l6-6M1180.5 1176.5l6 6m-6 0l6-6M1180.5 1186.5l6 6m-6 0l6-6M1180.5 1193.5l6 6m-6 0l6-6M1181.5 1185.5l6 6m-6 0l6-6M1181.5 1187.5l6 6m-6 0l6-6M1181.5 1178.5l6 6m-6 0l6-6M1181.5 1194.5l6 6m-6 0l6-6M1181.5 1189.5l6 6m-6 0l6-6M1181.5 1176.5l6 6m-6 0l6-6M1181.5 1193.5l6 6m-6 0l6-6M1182.5 1185.5l6 6m-6 0l6-6M1182.5 1179.5l6 6m-6 0l6-6M1182.5 1192.5l6 6m-6 0l6-6M1182.5 1184.5l6 6m-6 0l6-6M1182.5 1189.5l6 6m-6 0l6-6M1182.5 1190.5l6 6m-6 0l6-6M1183.5 1197.5l6 6m-6 0l6-6M1183.5 1189.5l6 6m-6 0l6-6M1183.5 1184.5l6 6m-6 0l6-6M1183.5 1176.5l6 6m-6 0l6-6M1183.5 1189.5l6 6m-6 0l6-6M1183.5 1199.5l6 6m-6 0l6-6M1184.5 1185.5l6 6m-6 0l6-6M1184.5 1188.5l6 6m-6 0l6-6M1184.5 1179.5l6 6m-6 0l6-6M1184.5 1194.5l6 6m-6 0l6-6M1184.5 1184.5l6 6m-6 0l6-6M1184.5 1185.5l6 6m-6 0l6-6M1185.5 1190.5l6 6m-6 0l6-6M1185.5 1193.5l6 6m-6 0l6-6M1185.5 1186.5l6 6m-6 0l6-6M1185.5 1178.5l6 6m-6 0l6-6M1185.5 1187.5l6 6m-6 0l6-6M1185.5 1175.5l6 6m-6 0l6-6M1186.5 1189.5l6 6m-6 0l6-6M1186.5 1194.5l6 6m-6 0l6-6M1186.5 1186.5l6 6m-6 0l6-6M1186.5 1180.5l6 6m-6 0l6-6M1186.5 1187.5l6 6m-6 0l6-6M1186.5 1172.5l6 6m-6 0l6-6M1186.5 1179.5l6 6m-6 0l6-6M1187.5 1193.5l6 6m-6 0l6-6M1187.5 1192.5l6 6m-6 0l6-6M1187.5 1183.5l6 6m-6 0l6-6M1187.5 1174.5l6 6m-6 0l6-6M1187.5 1188.5l6 6m-6 0l6-6M1187.5 1187.5l6 6m-6 0l6-6M1188.5 1178.5l6 6m-6 0l6-6M1188.5 1164.5l6 6m-6 0l6-6M1188.5 1168.5l6 6m-6 0l6-6M1188.5 1189.5l6 6m-6 0l6-6M1188.5 1183.5l6 6m-6 0l6-6M1188.5 1195.5l6 6m-6 0l6-6M1189.5 1189.5l6 6m-6 0l6-6M1189.5 1193.5l6 6m-6 0l6-6M1189.5 1183.5l6 6m-6 0l6-6M1189.5 1191.5l6 6m-6 0l6-6M1189.5 1175.5l6 6m-6 0l6-6M1189.5 1181.5l6 6m-6 0l6-6M1190.5 1185.5l6 6m-6 0l6-6M1190.5 1177.5l6 6m-6 0l6-6M1190.5 1163.5l6 6m-6 0l6-6M1190.5 1184.5l6 6m-6 0l6-6M1190.5 1194.5l6 6m-6 0l6-6M1190.5 1203.5l6 6m-6 0l6-6M1190.5 1192.5l6 6m-6 0l6-6M1191.5 1186.5l6 6m-6 0l6-6M1191.5 1176.5l6 6m-6 0l6-6M1191.5 1187.5l6 6m-6 0l6-6M1191.5 1201.5l6 6m-6 0l6-6M1191.5 1180.5l6 6m-6 0l6-6M1191.5 1186.5l6 6m-6 0l6-6M1192.5 1195.5l6 6m-6 0l6-6M1192.5 1200.5l6 6m-6 0l6-6M1192.5 1192.5l6 6m-6 0l6-6M1192.5 1182.5l6 6m-6 0l6-6M1192.5 1180.5l6 6m-6 0l6-6M1192.5 1198.5l6 6m-6 0l6-6M1193.5 1176.5l6 6m-6 0l6-6M1193.5 1187.5l6 6m-6 0l6-6M1193.5 1182.5l6 6m-6 0l6-6M1193.5 1193.5l6 6m-6 0l6-6M1193.5 1186.5l6 6m-6 0l6-6M1193.5 1184.5l6 6m-6 0l6-6M1194.5 1192.5l6 6m-6 0l6-6M1194.5 1188.5l6 6m-6 0l6-6M1194.5 1182.5l6 6m-6 0l6-6M1194.5 1198.5l6 6m-6 0l6-6M1194.5 1184.5l6 6m-6 0l6-6M1194.5 1182.5l6 6m-6 0l6-6M1195.5 1194.5l6 6m-6 0l6-6M1195.5 1176.5l6 6m-6 0l6-6M1195.5 1171.5l6 6m-6 0l6-6M1282.5 1185.5l6 6m-6 0l6-6M1282.5 1201.5l6 6m-6 0l6-6M1282.5 1187.5l6 6m-6 0l6-6M1282.5 1172.5l6 6m-6 0l6-6M1283.5 1189.5l6 6m-6 0l6-6M1283.5 1187.5l6 6m-6 0l6-6M1283.5 1185.5l6 6m-6 0l6-6M1283.5 1194.5l6 6m-6 0l6-6M1283.5 1183.5l6 6m-6 0l6-6M1283.5 1192.5l6 6m-6 0l6-6M1284.5 1181.5l6 6m-6 0l6-6M1284.5 1177.5l6 6m-6 0l6-6M1284.5 1164.5l6 6m-6 0l6-6M1284.5 1192.5l6 6m-6 0l6-6M1284.5 1172.5l6 6m-6 0l6-6M1284.5 1191.5l6 6m-6 0l6-6M1285.5 1191.5l6 6m-6 0l6-6M1285.5 1189.5l6 6m-6 0l6-6M1285.5 1181.5l6 6m-6 0l6-6M1285.5 1191.5l6 6m-6 0l6-6M1285.5 1169.5l6 6m-6 0l6-6M1285.5 1186.5l6 6m-6 0l6-6M1286.5 1172.5l6 6m-6 0l6-6M1286.5 1193.5l6 6m-6 0l6-6M1286.5 1176.5l6 6m-6 0l6-6M1286.5 1185.5l6 6m-6 0l6-6M1286.5 1182.5l6 6m-6 0l6-6M1286.5 1186.5l6 6m-6 0l6-6M1287.5 1175.5l6 6m-6 0l6-6M1287.5 1181.5l6 6m-6 0l6-6M1287.5 1185.5l6 6m-6 0l6-6M1287.5 1191.5l6 6m-6 0l6-6M1287.5 1200.5l6 6m-6 0l6-6M1287.5 1188.5l6 6m-6 0l6-6M1287.5 1190.5l6 6m-6 0l6-6M1288.5 1178.5l6 6m-6 0l6-6M1288.5 1203.5l6 6m-6 0l6-6M1288.5 1196.5l6 6m-6 0l6-6M1288.5 1181.5l6 6m-6 0l6-6M1288.5 1181.5l6 6m-6 0l6-6M1288.5 1187.5l6 6m-6 0l6-6M1289.5 1204.5l6 6m-6 0l6-6M1289.5 1177.5l6 6m-6 0l6-6M1289.5 1197.5l6 6m-6 0l6-6M1289.5 1185.5l6 6m-6 0l6-6M1289.5 1171.5l6 6m-6 0l6-6M1289.5 1180.5l6 6m-6 0l6-6M1290.5 1180.5l6 6m-6 0l6-6M1290.5 1187.5l6 6m-6 0l6-6M1290.5 1179.5l6 6m-6 0l6-6M1290.5 1179.5l6 6m-6 0l6-6M1290.5 1179.5l6 6m-6 0l6-6M1290.5 1175.5l6 6m-6 0l6-6M1291.5 1189.5l6 6m-6 0l6-6M1291.5 1171.5l6 6m-6 0l6-6M1291.5 1189.5l6 6m-6 0l6-6M1291.5 1181.5l6 6m-6 0l6-6M1291.5 1188.5l6 6m-6 0l6-6M1291.5 1193.5l6 6m-6 0l6-6M1291.5 1190.5l6 6m-6 0l6-6M1292.5 1179.5l6 6m-6 0l6-6M1292.5 1190.5l6 6m-6 0l6-6M1292.5 1172.5l6 6m-6 0l6-6M1292.5 1182.5l6 6m-6 0l6-6M1292.5 1196.5l6 6m-6 0l6-6M1292.5 1182.5l6 6m-6 0l6-6M1293.5 1177.5l6 6m-6 0l6-6M1293.5 1190.5l6 6m-6 0l6-6M1293.5 1200.5l6 6m-6 0l6-6M1293.5 1183.5l6 6m-6 0l6-6M1293.5 1192.5l6 6m-6 0l6-6M1293.5 1178.5l6 6m-6 0l6-6M1294.5 1187.5l6 6m-6 0l6-6M1294.5 1201.5l6 6m-6 0l6-6M1294.5 1190.5l6 6m-6 0l6-6M1294.5 1192.5l6 6m-6 0l6-6M1294.5 1182.5l6 6m-6 0l6-6M1294.5 1194.5l6 6m-6 0l6-6M1295.5 1182.5l6 6m-6 0l6-6M1295.5 1182.5l6 6m-6 0l6-6M1295.5 1193.5l6 6m-6 0l6-6M1295.5 1184.5l6 6m-6 0l6-6M1295.5 1170.5l6 6m-6 0l6-6M1295.5 1191.5l6 6m-6 0l6-6M1296.5 1189.5l6 6m-6 0l6-6M1296.5 1190.5l6 6m-6 0l6-6M1296.5 1199.5l6 6m-6 0l6-6M1296.5 1194.5l6 6m-6 0l6-6M1296.5 1189.5l6 6m-6 0l6-6M1296.5 1182.5l6 6m-6 0l6-6M1296.5 1180.5l6 6m-6 0l6-6M1297.5 1181.5l6 6m-6 0l6-6M1297.5 1189.5l6 6m-6 0l6-6M1297.5 1189.5l6 6m-6 0l6-6M1297.5 1180.5l6 6m-6 0l6-6M1297.5 1179.5l6 6m-6 0l6-6M1297.5 1181.5l6 6m-6 0l6-6M1298.5 1180.5l6 6m-6 0l6-6M1298.5 1191.5l6 6m-6 0l6-6M1298.5 1165.5l6 6m-6 0l6-6M1298.5 1186.5l6 6m-6 0l6-6M1298.5 1180.5l6 6m-6 0l6-6M1298.5 1188.5l6 6m-6 0l6-6M1299.5 1175.5l6 6m-6 0l6-6M1299.5 1186.5l6 6m-6 0l6-6M1299.5 1173.5l6 6m-6 0l6-6M1299.5 1193.5l6 6m-6 0l6-6M1299.5 1193.5l6 6m-6 0l6-6M1299.5 1170.5l6 6m-6 0l6-6M1300.5 1205.5l6 6m-6 0l6-6M1300.5 1172.5l6 6m-6 0l6-6M1300.5 1179.5l6 6m-6 0l6-6M1300.5 1184.5l6 6m-6 0l6-6M1300.5 1186.5l6 6m-6 0l6-6M1300.5 1188.5l6 6m-6 0l6-6M1301.5 1170.5l6 6m-6 0l6-6M1301.5 1183.5l6 6m-6 0l6-6M1301.5 1180.5l6 6m-6 0l6-6M1301.5 1193.5l6 6m-6 0l6-6M1301.5 1199.5l6 6m-6 0l6-6M1301.5 1180.5l6 6m-6 0l6-6M1301.5 1175.5l6 6m-6 0l6-6M1302.5 1185.5l6 6m-6 0l6-6M1302.5 1174.5l6 6m-6 0l6-6M1302.5 1169.5l6 6m-6 0l6-6M1302.5 1176.5l6 6m-6 0l6-6M1302.5 1184.5l6 6m-6 0l6-6M1302.5 1184.5l6 6m-6 0l6-6M1303.5 1188.5l6 6m-6 0l6-6M1303.5 1194.5l6 6m-6 0l6-6M1303.5 1176.5l6 6m-6 0l6-6M1303.5 1182.5l6 6m-6 0l6-6M1303.5 1178.5l6 6m-6 0l6-6M1303.5 1186.5l6 6m-6 0l6-6M1304.5 1196.5l6 6m-6 0l6-6M1304.5 1185.5l6 6m-6 0l6-6M1304.5 1187.5l6 6m-6 0l6-6M1304.5 1174.5l6 6m-6 0l6-6M1304.5 1175.5l6 6m-6 0l6-6M1304.5 1175.5l6 6m-6 0l6-6M1305.5 1190.5l6 6m-6 0l6-6M1305.5 1197.5l6 6m-6 0l6-6M1305.5 1180.5l6 6m-6 0l6-6M1305.5 1191.5l6 6m-6 0l6-6M1305.5 1204.5l6 6m-6 0l6-6M1305.5 1185.5l6 6m-6 0l6-6M1305.5 1196.5l6 6m-6 0l6-6M1306.5 1198.5l6 6m-6 0l6-6M1306.5 1195.5l6 6m-6 0l6-6M1306.5 1189.5l6 6m-6 0l6-6M1306.5 1173.5l6 6m-6 0l6-6M1306.5 1190.5l6 6m-6 0l6-6M1306.5 1191.5l6 6m-6 0l6-6M1307.5 1193.5l6 6m-6 0l6-6M1307.5 1178.5l6 6m-6 0l6-6M1307.5 1181.5l6 6m-6 0l6-6M1307.5 1195.5l6 6m-6 0l6-6M1307.5 1191.5l6 6m-6 0l6-6M1307.5 1186.5l6 6m-6 0l6-6M1308.5 1181.5l6 6m-6 0l6-6M1308.5 1188.5l6 6m-6 0l6-6M1308.5 1177.5l6 6m-6 0l6-6M1308.5 1183.5l6 6m-6 0l6-6M1308.5 1193.5l6 6m-6 0l6-6M1308.5 1187.5l6 6m-6 0l6-6M1309.5 1169.5l6 6m-6 0l6-6M1309.5 1195.5l6 6m-6 0l6-6M1309.5 1192.5l6 6m-6 0l6-6M1309.5 1200.5l6 6m-6 0l6-6M1309.5 1170.5l6 6m-6 0l6-6M1309.5 1185.5l6 6m-6 0l6-6M1310.5 1195.5l6 6m-6 0l6-6M1310.5 1182.5l6 6m-6 0l6-6M1310.5 1181.5l6 6m-6 0l6-6M1310.5 1185.5l6 6m-6 0l6-6M1310.5 1183.5l6 6m-6 0l6-6M1310.5 1176.5l6 6m-6 0l6-6M1310.5 1183.5l6 6m-6 0l6-6M1311.5 1168.5l6 6m-6 0l6-6M1311.5 1196.5l6 6m-6 0l6-6M1311.5 1173.5l6 6m-6 0l6-6M1311.5 1196.5l6 6m-6 0l6-6M1311.5 1173.5l6 6m-6 0l6-6M1311.5 1189.5l6 6m-6 0l6-6M1312.5 1188.5l6 6m-6 0l6-6M1312.5 1181.5l6 6m-6 0l6-6M1312.5 1178.5l6 6m-6 0l6-6M1312.5 1179.5l6 6m-6 0l6-6M1312.5 1212.5l6 6m-6 0l6-6M1312.5 1184.5l6 6m-6 0l6-6M1313.5 1183.5l6 6m-6 0l6-6M1313.5 1206.5l6 6m-6 0l6-6M1313.5 1200.5l6 6m-6 0l6-6M1313.5 1194.5l6 6m-6 0l6-6M1313.5 1185.5l6 6m-6 0l6-6M1313.5 1186.5l6 6m-6 0l6-6M1314.5 1195.5l6 6m-6 0l6-6M1314.5 1202.5l6 6m-6 0l6-6M1314.5 1186.5l6 6m-6 0l6-6M1314.5 1209.5l6 6m-6 0l6-6M1314.5 1179.5l6 6m-6 0l6-6M1314.5 1177.5l6 6m-6 0l6-6M1315.5 1185.5l6 6m-6 0l6-6M1315.5 1192.5l6 6m-6 0l6-6M1315.5 1199.5l6 6m-6 0l6-6M1315.5 1178.5l6 6m-6 0l6-6M1315.5 1191.5l6 6m-6 0l6-6M1315.5 1168.5l6 6m-6 0l6-6M1315.5 1184.5l6 6m-6 0l6-6M1316.5 1203.5l6 6m-6 0l6-6M1316.5 1177.5l6 6m-6 0l6-6M1316.5 1169.5l6 6m-6 0l6-6M1316.5 1181.5l6 6m-6 0l6-6M1316.5 1179.5l6 6m-6 0l6-6M1316.5 1179.5l6 6m-6 0l6-6M1317.5 1171.5l6 6m-6 0l6-6M1317.5 1201.5l6 6m-6 0l6-6M1317.5 1176.5l6 6m-6 0l6-6M1317.5 1175.5l6 6m-6 0l6-6M1317.5 1198.5l6 6m-6 0l6-6M1317.5 1190.5l6 6m-6 0l6-6M1318.5 1189.5l6 6m-6 0l6-6M1318.5 1200.5l6 6m-6 0l6-6M1318.5 1169.5l6 6m-6 0l6-6M1318.5 1171.5l6 6m-6 0l6-6M1318.5 1178.5l6 6m-6 0l6-6M1318.5 1190.5l6 6m-6 0l6-6M1319.5 1186.5l6 6m-6 0l6-6M1319.5 1177.5l6 6m-6 0l6-6M1319.5 1175.5l6 6m-6 0l6-6M1319.5 1189.5l6 6m-6 0l6-6M1319.5 1175.5l6 6m-6 0l6-6M1319.5 1189.5l6 6m-6 0l6-6M1320.5 1182.5l6 6m-6 0l6-6M1320.5 1198.5l6 6m-6 0l6-6M1320.5 1187.5l6 6m-6 0l6-6M1320.5 1189.5l6 6m-6 0l6-6M1320.5 1191.5l6 6m-6 0l6-6M1320.5 1173.5l6 6m-6 0l6-6M1320.5 1192.5l6 6m-6 0l6-6M1321.5 1211.5l6 6m-6 0l6-6M1321.5 1198.5l6 6m-6 0l6-6M1321.5 1189.5l6 6m-6 0l6-6M1321.5 1182.5l6 6m-6 0l6-6M1321.5 1188.5l6 6m-6 0l6-6M1321.5 1191.5l6 6m-6 0l6-6M1322.5 1171.5l6 6m-6 0l6-6M1322.5 1176.5l6 6m-6 0l6-6M1322.5 1189.5l6 6m-6 0l6-6M1322.5 1181.5l6 6m-6 0l6-6M1322.5 1191.5l6 6m-6 0l6-6M1322.5 1173.5l6 6m-6 0l6-6M1323.5 1184.5l6 6m-6 0l6-6M1323.5 1190.5l6 6m-6 0l6-6M1323.5 1175.5l6 6m-6 0l6-6M1323.5 1185.5l6 6m-6 0l6-6M1323.5 1192.5l6 6m-6 0l6-6M1323.5 1181.5l6 6m-6 0l6-6M1324.5 1206.5l6 6m-6 0l6-6M1324.5 1179.5l6 6m-6 0l6-6M1324.5 1201.5l6 6m-6 0l6-6M1324.5 1188.5l6 6m-6 0l6-6M1324.5 1179.5l6 6m-6 0l6-6M1324.5 1181.5l6 6m-6 0l6-6M1324.5 1165.5l6 6m-6 0l6-6M1325.5 1196.5l6 6m-6 0l6-6M1325.5 1185.5l6 6m-6 0l6-6M1325.5 1187.5l6 6m-6 0l6-6M1325.5 1183.5l6 6m-6 0l6-6M1325.5 1190.5l6 6m-6 0l6-6M1325.5 1202.5l6 6m-6 0l6-6M1326.5 1177.5l6 6m-6 0l6-6M1326.5 1188.5l6 6m-6 0l6-6M1326.5 1187.5l6 6m-6 0l6-6M1326.5 1180.5l6 6m-6 0l6-6M1326.5 1191.5l6 6m-6 0l6-6M1326.5 1190.5l6 6m-6 0l6-6M1327.5 1209.5l6 6m-6 0l6-6M1327.5 1187.5l6 6m-6 0l6-6M1327.5 1210.5l6 6m-6 0l6-6M1327.5 1201.5l6 6m-6 0l6-6M1327.5 1179.5l6 6m-6 0l6-6M1327.5 1189.5l6 6m-6 0l6-6M1328.5 1187.5l6 6m-6 0l6-6M1328.5 1166.5l6 6m-6 0l6-6M1328.5 1196.5l6 6m-6 0l6-6M1328.5 1186.5l6 6m-6 0l6-6M1328.5 1166.5l6 6m-6 0l6-6M1328.5 1194.5l6 6m-6 0l6-6M1329.5 1188.5l6 6m-6 0l6-6M1329.5 1178.5l6 6m-6 0l6-6M1329.5 1194.5l6 6m-6 0l6-6M1329.5 1182.5l6 6m-6 0l6-6M1329.5 1201.5l6 6m-6 0l6-6M1329.5 1193.5l6 6m-6 0l6-6M1329.5 1176.5l6 6m-6 0l6-6M1330.5 1200.5l6 6m-6 0l6-6M1330.5 1172.5l6 6m-6 0l6-6M1330.5 1209.5l6 6m-6 0l6-6M1330.5 1193.5l6 6m-6 0l6-6M1330.5 1186.5l6 6m-6 0l6-6M1330.5 1176.5l6 6m-6 0l6-6M1331.5 1183.5l6 6m-6 0l6-6M1331.5 1186.5l6 6m-6 0l6-6M1331.5 1192.5l6 6m-6 0l6-6M1331.5 1168.5l6 6m-6 0l6-6M1331.5 1189.5l6 6m-6 0l6-6M1331.5 1169.5l6 6m-6 0l6-6M1332.5 1190.5l6 6m-6 0l6-6M1332.5 1194.5l6 6m-6 0l6-6M1332.5 1196.5l6 6m-6 0l6-6M1332.5 1173.5l6 6m-6 0l6-6M1332.5 1182.5l6 6m-6 0l6-6M1332.5 1183.5l6 6m-6 0l6-6M1333.5 1165.5l6 6m-6 0l6-6M1333.5 1194.5l6 6m-6 0l6-6M1333.5 1185.5l6 6m-6 0l6-6M1333.5 1201.5l6 6m-6 0l6-6M1333.5 1173.5l6 6m-6 0l6-6M1333.5 1196.5l6 6m-6 0l6-6M1334.5 1194.5l6 6m-6 0l6-6M1334.5 1200.5l6 6m-6 0l6-6M1334.5 1192.5l6 6m-6 0l6-6M1334.5 1204.5l6 6m-6 0l6-6M1334.5 1190.5l6 6m-6 0l6-6M1334.5 1194.5l6 6m-6 0l6-6M1334.5 1190.5l6 6m-6 0l6-6M1335.5 1195.5l6 6m-6 0l6-6M1335.5 1185.5l6 6m-6 0l6-6M1335.5 1182.5l6 6m-6 0l6-6M1335.5 1169.5l6 6m-6 0l6-6M1335.5 1186.5l6 6m-6 0l6-6M1335.5 1203.5l6 6m-6 0l6-6M1336.5 1214.5l6 6m-6 0l6-6M1336.5 1174.5l6 6m-6 0l6-6M1336.5 1174.5l6 6m-6 0l6-6M1336.5 1176.5l6 6m-6 0l6-6M1336.5 1188.5l6 6m-6 0l6-6M1336.5 1198.5l6 6m-6 0l6-6M1337.5 1196.5l6 6m-6 0l6-6M1337.5 1203.5l6 6m-6 0l6-6M1337.5 1176.5l6 6m-6 0l6-6M1337.5 1186.5l6 6m-6 0l6-6M1337.5 1183.5l6 6m-6 0l6-6M1337.5 1172.5l6 6m-6 0l6-6M1338.5 1157.5l6 6m-6 0l6-6M1338.5 1181.5l6 6m-6 0l6-6M1338.5 1202.5l6 6m-6 0l6-6M1338.5 1183.5l6 6m-6 0l6-6M1338.5 1191.5l6 6m-6 0l6-6M1338.5 1190.5l6 6m-6 0l6-6M1338.5 1163.5l6 6m-6 0l6-6M1339.5 1188.5l6 6m-6 0l6-6M1339.5 1173.5l6 6m-6 0l6-6M1339.5 1168.5l6 6m-6 0l6-6M1339.5 1192.5l6 6m-6 0l6-6M1339.5 1197.5l6 6m-6 0l6-6M1339.5 1191.5l6 6m-6 0l6-6M1340.5 1185.5l6 6m-6 0l6-6M1340.5 1186.5l6 6m-6 0l6-6M1340.5 1195.5l6 6m-6 0l6-6M1340.5 1204.5l6 6m-6 0l6-6M1340.5 1177.5l6 6m-6 0l6-6M1340.5 1172.5l6 6m-6 0l6-6M1341.5 1190.5l6 6m-6 0l6-6M1341.5 1175.5l6 6m-6 0l6-6M1341.5 1202.5l6 6m-6 0l6-6M1341.5 1189.5l6 6m-6 0l6-6M1341.5 1178.5l6 6m-6 0l6-6M1341.5 1200.5l6 6m-6 0l6-6M1342.5 1159.5l6 6m-6 0l6-6M1342.5 1191.5l6 6m-6 0l6-6M1342.5 1179.5l6 6m-6 0l6-6M1342.5 1182.5l6 6m-6 0l6-6M1342.5 1188.5l6 6m-6 0l6-6M1342.5 1172.5l6 6m-6 0l6-6M1343.5 1191.5l6 6m-6 0l6-6M1343.5 1188.5l6 6m-6 0l6-6M1343.5 1174.5l6 6m-6 0l6-6M1343.5 1187.5l6 6m-6 0l6-6M1343.5 1186.5l6 6m-6 0l6-6M1343.5 1181.5l6 6m-6 0l6-6M1343.5 1179.5l6 6m-6 0l6-6M1344.5 1180.5l6 6m-6 0l6-6M1344.5 1183.5l6 6m-6 0l6-6M1344.5 1210.5l6 6m-6 0l6-6M1344.5 1183.5l6 6m-6 0l6-6M1344.5 1168.5l6 6m-6 0l6-6M1344.5 1176.5l6 6m-6 0l6-6M1345.5 1194.5l6 6m-6 0l6-6M1345.5 1176.5l6 6m-6 0l6-6M1345.5 1189.5l6 6m-6 0l6-6M1345.5 1180.5l6 6m-6 0l6-6M1345.5 1196.5l6 6m-6 0l6-6M1345.5 1182.5l6 6m-6 0l6-6M1346.5 1192.5l6 6m-6 0l6-6M1346.5 1183.5l6 6m-6 0l6-6M1346.5 1195.5l6 6m-6 0l6-6M1346.5 1189.5l6 6m-6 0l6-6M1346.5 1184.5l6 6m-6 0l6-6M1346.5 1180.5l6 6m-6 0l6-6M1347.5 1177.5l6 6m-6 0l6-6M1347.5 1171.5l6 6m-6 0l6-6M1347.5 1199.5l6 6m-6 0l6-6M1347.5 1181.5l6 6m-6 0l6-6M1347.5 1178.5l6 6m-6 0l6-6M1347.5 1171.5l6 6m-6 0l6-6M1348.5 1169.5l6 6m-6 0l6-6M1348.5 1175.5l6 6m-6 0l6-6M1348.5 1182.5l6 6m-6 0l6-6M1348.5 1189.5l6 6m-6 0l6-6M1348.5 1199.5l6 6m-6 0l6-6M1348.5 1199.5l6 6m-6 0l6-6M1348.5 1194.5l6 6m-6 0l6-6M1349.5 1193.5l6 6m-6 0l6-6M1349.5 1175.5l6 6m-6 0l6-6M1349.5 1167.5l6 6m-6 0l6-6M1349.5 1183.5l6 6m-6 0l6-6M1349.5 1192.5l6 6m-6 0l6-6M1349.5 1200.5l6 6m-6 0l6-6M1350.5 1188.5l6 6m-6 0l6-6M1350.5 1201.5l6 6m-6 0l6-6M1350.5 1183.5l6 6m-6 0l6-6M1350.5 1176.5l6 6m-6 0l6-6M1350.5 1181.5l6 6m-6 0l6-6M1350.5 1187.5l6 6m-6 0l6-6M1351.5 1181.5l6 6m-6 0l6-6M1351.5 1189.5l6 6m-6 0l6-6M1351.5 1197.5l6 6m-6 0l6-6M1351.5 1191.5l6 6m-6 0l6-6M1351.5 1184.5l6 6m-6 0l6-6M1351.5 1204.5l6 6m-6 0l6-6M1352.5 1187.5l6 6m-6 0l6-6M1352.5 1192.5l6 6m-6 0l6-6M1352.5 1192.5l6 6m-6 0l6-6M1352.5 1188.5l6 6m-6 0l6-6M1352.5 1162.5l6 6m-6 0l6-6M1352.5 1196.5l6 6m-6 0l6-6M1352.5 1183.5l6 6m-6 0l6-6M1353.5 1197.5l6 6m-6 0l6-6M1353.5 1192.5l6 6m-6 0l6-6M1353.5 1205.5l6 6m-6 0l6-6M1353.5 1194.5l6 6m-6 0l6-6M1353.5 1183.5l6 6m-6 0l6-6M1353.5 1208.5l6 6m-6 0l6-6M1354.5 1166.5l6 6m-6 0l6-6M1354.5 1189.5l6 6m-6 0l6-6M1354.5 1177.5l6 6m-6 0l6-6M1354.5 1187.5l6 6m-6 0l6-6M1354.5 1176.5l6 6m-6 0l6-6M1354.5 1174.5l6 6m-6 0l6-6M1355.5 1193.5l6 6m-6 0l6-6M1355.5 1172.5l6 6m-6 0l6-6M1355.5 1179.5l6 6m-6 0l6-6M1355.5 1188.5l6 6m-6 0l6-6M1355.5 1186.5l6 6m-6 0l6-6M1355.5 1188.5l6 6m-6 0l6-6M1356.5 1197.5l6 6m-6 0l6-6M1356.5 1193.5l6 6m-6 0l6-6M1356.5 1194.5l6 6m-6 0l6-6M1356.5 1205.5l6 6m-6 0l6-6M1356.5 1172.5l6 6m-6 0l6-6M1356.5 1201.5l6 6m-6 0l6-6M1357.5 1187.5l6 6m-6 0l6-6M1357.5 1180.5l6 6m-6 0l6-6M1357.5 1203.5l6 6m-6 0l6-6M1357.5 1182.5l6 6m-6 0l6-6M1357.5 1173.5l6 6m-6 0l6-6M1357.5 1185.5l6 6m-6 0l6-6M1357.5 1183.5l6 6m-6 0l6-6M1358.5 1169.5l6 6m-6 0l6-6M1358.5 1186.5l6 6m-6 0l6-6M1358.5 1192.5l6 6m-6 0l6-6M1358.5 1189.5l6 6m-6 0l6-6M1358.5 1192.5l6 6m-6 0l6-6M1358.5 1184.5l6 6m-6 0l6-6M1359.5 1172.5l6 6m-6 0l6-6M1359.5 1175.5l6 6m-6 0l6-6M1359.5 1174.5l6 6m-6 0l6-6M1359.5 1189.5l6 6m-6 0l6-6M1359.5 1188.5l6 6m-6 0l6-6M1359.5 1186.5l6 6m-6 0l6-6M1360.5 1168.5l6 6m-6 0l6-6M1360.5 1208.5l6 6m-6 0l6-6M1360.5 1192.5l6 6m-6 0l6-6M1360.5 1177.5l6 6m-6 0l6-6M1360.5 1190.5l6 6m-6 0l6-6M1360.5 1190.5l6 6m-6 0l6-6M1361.5 1176.5l6 6m-6 0l6-6M1361.5 1171.5l6 6m-6 0l6-6M1361.5 1187.5l6 6m-6 0l6-6M1361.5 1191.5l6 6m-6 0l6-6M1361.5 1188.5l6 6m-6 0l6-6M1361.5 1202.5l6 6m-6 0l6-6M1362.5 1189.5l6 6m-6 0l6-6M1362.5 1188.5l6 6m-6 0l6-6M1362.5 1198.5l6 6m-6 0l6-6M1362.5 1187.5l6 6m-6 0l6-6M1362.5 1182.5l6 6m-6 0l6-6M1362.5 1172.5l6 6m-6 0l6-6M1362.5 1184.5l6 6m-6 0l6-6M1363.5 1196.5l6 6m-6 0l6-6M1363.5 1180.5l6 6m-6 0l6-6M1363.5 1174.5l6 6m-6 0l6-6M1363.5 1183.5l6 6m-6 0l6-6M1363.5 1183.5l6 6m-6 0l6-6M1363.5 1195.5l6 6m-6 0l6-6M1364.5 1174.5l6 6m-6 0l6-6M1364.5 1197.5l6 6m-6 0l6-6M1364.5 1180.5l6 6m-6 0l6-6M1364.5 1193.5l6 6m-6 0l6-6M1364.5 1173.5l6 6m-6 0l6-6M1364.5 1192.5l6 6m-6 0l6-6M1365.5 1156.5l6 6m-6 0l6-6M1365.5 1183.5l6 6m-6 0l6-6M1365.5 1195.5l6 6m-6 0l6-6M1365.5 1180.5l6 6m-6 0l6-6M1365.5 1192.5l6 6m-6 0l6-6M1365.5 1178.5l6 6m-6 0l6-6M1366.5 1190.5l6 6m-6 0l6-6M1366.5 1172.5l6 6m-6 0l6-6M1366.5 1203.5l6 6m-6 0l6-6M1366.5 1189.5l6 6m-6 0l6-6M1366.5 1194.5l6 6m-6 0l6-6M1366.5 1186.5l6 6m-6 0l6-6M1366.5 1173.5l6 6m-6 0l6-6M1367.5 1177.5l6 6m-6 0l6-6M1367.5 1168.5l6 6m-6 0l6-6M1367.5 1198.5l6 6m-6 0l6-6M1367.5 1188.5l6 6m-6 0l6-6M1367.5 1185.5l6 6m-6 0l6-6M1367.5 1188.5l6 6m-6 0l6-6M1368.5 1186.5l6 6m-6 0l6-6M1368.5 1193.5l6 6m-6 0l6-6M1368.5 1178.5l6 6m-6 0l6-6M1368.5 1181.5l6 6m-6 0l6-6M1368.5 1204.5l6 6m-6 0l6-6M1368.5 1188.5l6 6m-6 0l6-6M1369.5 1172.5l6 6m-6 0l6-6M1369.5 1204.5l6 6m-6 0l6-6M1369.5 1192.5l6 6m-6 0l6-6M1369.5 1181.5l6 6m-6 0l6-6M1369.5 1190.5l6 6m-6 0l6-6M1369.5 1184.5l6 6m-6 0l6-6M1370.5 1179.5l6 6m-6 0l6-6M1370.5 1194.5l6 6m-6 0l6-6M1370.5 1187.5l6 6m-6 0l6-6M1370.5 1199.5l6 6m-6 0l6-6M1370.5 1188.5l6 6m-6 0l6-6M1370.5 1199.5l6 6m-6 0l6-6M1371.5 1191.5l6 6m-6 0l6-6M1371.5 1162.5l6 6m-6 0l6-6M1371.5 1177.5l6 6m-6 0l6-6M1371.5 1205.5l6 6m-6 0l6-6M1371.5 1177.5l6 6m-6 0l6-6M1371.5 1190.5l6 6m-6 0l6-6M1371.5 1199.5l6 6m-6 0l6-6M1372.5 1179.5l6 6m-6 0l6-6M1372.5 1195.5l6 6m-6 0l6-6M1372.5 1191.5l6 6m-6 0l6-6M1372.5 1192.5l6 6m-6 0l6-6M1372.5 1173.5l6 6m-6 0l6-6M1372.5 1186.5l6 6m-6 0l6-6M1373.5 1195.5l6 6m-6 0l6-6M1373.5 1173.5l6 6m-6 0l6-6M1373.5 1175.5l6 6m-6 0l6-6M1373.5 1188.5l6 6m-6 0l6-6M1373.5 1183.5l6 6m-6 0l6-6M1373.5 1187.5l6 6m-6 0l6-6M1374.5 1186.5l6 6m-6 0l6-6M1374.5 1186.5l6 6m-6 0l6-6M1374.5 1208.5l6 6m-6 0l6-6M1374.5 1186.5l6 6m-6 0l6-6M1374.5 1178.5l6 6m-6 0l6-6M1374.5 1188.5l6 6m-6 0l6-6M1375.5 1176.5l6 6m-6 0l6-6M1375.5 1175.5l6 6m-6 0l6-6M1375.5 1185.5l6 6m-6 0l6-6M1375.5 1188.5l6 6m-6 0l6-6M1375.5 1185.5l6 6m-6 0l6-6M1375.5 1191.5l6 6m-6 0l6-6M1376.5 1168.5l6 6m-6 0l6-6M1376.5 1195.5l6 6m-6 0l6-6M1376.5 1183.5l6 6m-6 0l6-6M1376.5 1170.5l6 6m-6 0l6-6M1376.5 1214.5l6 6m-6 0l6-6M1376.5 1185.5l6 6m-6 0l6-6M1376.5 1179.5l6 6m-6 0l6-6M1377.5 1180.5l6 6m-6 0l6-6M1377.5 1160.5l6 6m-6 0l6-6M1377.5 1180.5l6 6m-6 0l6-6M1377.5 1170.5l6 6m-6 0l6-6M1377.5 1181.5l6 6m-6 0l6-6M1377.5 1189.5l6 6m-6 0l6-6M1378.5 1194.5l6 6m-6 0l6-6M1378.5 1179.5l6 6m-6 0l6-6M1378.5 1172.5l6 6m-6 0l6-6M1378.5 1189.5l6 6m-6 0l6-6M1378.5 1185.5l6 6m-6 0l6-6M1378.5 1187.5l6 6m-6 0l6-6M1379.5 1177.5l6 6m-6 0l6-6M1379.5 1200.5l6 6m-6 0l6-6M1379.5 1166.5l6 6m-6 0l6-6M1379.5 1186.5l6 6m-6 0l6-6M1379.5 1169.5l6 6m-6 0l6-6M1379.5 1169.5l6 6m-6 0l6-6M1380.5 1180.5l6 6m-6 0l6-6M1380.5 1184.5l6 6m-6 0l6-6M1380.5 1189.5l6 6m-6 0l6-6M1380.5 1204.5l6 6m-6 0l6-6M1380.5 1182.5l6 6m-6 0l6-6M1380.5 1159.5l6 6m-6 0l6-6M1380.5 1189.5l6 6m-6 0l6-6M1381.5 1176.5l6 6m-6 0l6-6M1381.5 1174.5l6 6m-6 0l6-6M1381.5 1172.5l6 6m-6 0l6-6M1381.5 1185.5l6 6m-6 0l6-6M1381.5 1166.5l6 6m-6 0l6-6M1381.5 1174.5l6 6m-6 0l6-6M1382.5 1184.5l6 6m-6 0l6-6M1382.5 1185.5l6 6m-6 0l6-6M1382.5 1199.5l6 6m-6 0l6-6M1382.5 1171.5l6 6m-6 0l6-6M1382.5 1181.5l6 6m-6 0l6-6M1382.5 1181.5l6 6m-6 0l6-6M1383.5 1183.5l6 6m-6 0l6-6M1383.5 1181.5l6 6m-6 0l6-6M1383.5 1189.5l6 6m-6 0l6-6M1383.5 1185.5l6 6m-6 0l6-6M1383.5 1192.5l6 6m-6 0l6-6M1383.5 1185.5l6 6m-6 0l6-6M1384.5 1184.5l6 6m-6 0l6-6M1384.5 1180.5l6 6m-6 0l6-6M1384.5 1186.5l6 6m-6 0l6-6M1384.5 1181.5l6 6m-6 0l6-6M1384.5 1189.5l6 6m-6 0l6-6M1384.5 1191.5l6 6m-6 0l6-6M1385.5 1188.5l6 6m-6 0l6-6M1385.5 1184.5l6 6m-6 0l6-6M1385.5 1183.5l6 6m-6 0l6-6M1385.5 1187.5l6 6m-6 0l6-6M1385.5 1188.5l6 6m-6 0l6-6M1385.5 1197.5l6 6m-6 0l6-6M1385.5 1194.5l6 6m-6 0l6-6M1386.5 1172.5l6 6m-6 0l6-6M1386.5 1160.5l6 6m-6 0l6-6M1386.5 1187.5l6 6m-6 0l6-6M1386.5 1194.5l6 6m-6 0l6-6M1386.5 1192.5l6 6m-6 0l6-6M1386.5 1183.5l6 6m-6 0l6-6M1387.5 1192.5l6 6m-6 0l6-6M1387.5 1191.5l6 6m-6 0l6-6M1387.5 1184.5l6 6m-6 0l6-6M1387.5 1187.5l6 6m-6 0l6-6M1387.5 1187.5l6 6m-6 0l6-6M1387.5 1174.5l6 6m-6 0l6-6M1388.5 1168.5l6 6m-6 0l6-6M1388.5 1187.5l6 6m-6 0l6-6M1388.5 1178.5l6 6m-6 0l6-6M1388.5 1194.5l6 6m-6 0l6-6M1388.5 1194.5l6 6m-6 0l6-6M1388.5 1174.5l6 6m-6 0l6-6M1389.5 1172.5l6 6m-6 0l6-6M1389.5 1184.5l6 6m-6 0l6-6M1389.5 1183.5l6 6m-6 0l6-6M1389.5 1180.5l6 6m-6 0l6-6M1389.5 1183.5l6 6m-6 0l6-6M1389.5 1182.5l6 6m-6 0l6-6M1390.5 1181.5l6 6m-6 0l6-6M1390.5 1187.5l6 6m-6 0l6-6M1390.5 1170.5l6 6m-6 0l6-6M1390.5 1174.5l6 6m-6 0l6-6M1390.5 1194.5l6 6m-6 0l6-6M1390.5 1180.5l6 6m-6 0l6-6M1390.5 1191.5l6 6m-6 0l6-6M1391.5 1194.5l6 6m-6 0l6-6M1391.5 1195.5l6 6m-6 0l6-6M1391.5 1176.5l6 6m-6 0l6-6M1391.5 1177.5l6 6m-6 0l6-6M1391.5 1196.5l6 6m-6 0l6-6M1391.5 1198.5l6 6m-6 0l6-6M1392.5 1183.5l6 6m-6 0l6-6M1392.5 1200.5l6 6m-6 0l6-6M1392.5 1186.5l6 6m-6 0l6-6M1392.5 1177.5l6 6m-6 0l6-6M1392.5 1183.5l6 6m-6 0l6-6M1392.5 1175.5l6 6m-6 0l6-6M1393.5 1196.5l6 6m-6 0l6-6M1393.5 1192.5l6 6m-6 0l6-6M1393.5 1183.5l6 6m-6 0l6-6M1393.5 1188.5l6 6m-6 0l6-6M1393.5 1188.5l6 6m-6 0l6-6M1393.5 1186.5l6 6m-6 0l6-6M1394.5 1187.5l6 6m-6 0l6-6M1394.5 1188.5l6 6m-6 0l6-6M1394.5 1197.5l6 6m-6 0l6-6M1394.5 1189.5l6 6m-6 0l6-6M1394.5 1186.5l6 6m-6 0l6-6M1394.5 1163.5l6 6m-6 0l6-6M1395.5 1184.5l6 6m-6 0l6-6M1395.5 1179.5l6 6m-6 0l6-6M1395.5 1184.5l6 6m-6 0l6-6M1395.5 1187.5l6 6m-6 0l6-6M1395.5 1199.5l6 6m-6 0l6-6M1395.5 1175.5l6 6m-6 0l6-6M1395.5 1196.5l6 6m-6 0l6-6M1396.5 1172.5l6 6m-6 0l6-6M1396.5 1201.5l6 6m-6 0l6-6M1396.5 1186.5l6 6m-6 0l6-6M1396.5 1175.5l6 6m-6 0l6-6M1396.5 1184.5l6 6m-6 0l6-6M1396.5 1169.5l6 6m-6 0l6-6M1397.5 1184.5l6 6m-6 0l6-6M1397.5 1190.5l6 6m-6 0l6-6M1397.5 1199.5l6 6m-6 0l6-6M1397.5 1172.5l6 6m-6 0l6-6M1397.5 1196.5l6 6m-6 0l6-6M1397.5 1197.5l6 6m-6 0l6-6M1398.5 1199.5l6 6m-6 0l6-6M1398.5 1197.5l6 6m-6 0l6-6M1398.5 1183.5l6 6m-6 0l6-6M1398.5 1175.5l6 6m-6 0l6-6M1398.5 1179.5l6 6m-6 0l6-6M1398.5 1185.5l6 6m-6 0l6-6M1399.5 1185.5l6 6m-6 0l6-6M1399.5 1182.5l6 6m-6 0l6-6M1399.5 1172.5l6 6m-6 0l6-6M1399.5 1181.5l6 6m-6 0l6-6M1399.5 1203.5l6 6m-6 0l6-6M1399.5 1171.5l6 6m-6 0l6-6M1399.5 1182.5l6 6m-6 0l6-6M1400.5 1198.5l6 6m-6 0l6-6M1400.5 1191.5l6 6m-6 0l6-6M1400.5 1180.5l6 6m-6 0l6-6M1400.5 1169.5l6 6m-6 0l6-6M1400.5 1171.5l6 6m-6 0l6-6M1400.5 1190.5l6 6m-6 0l6-6M1401.5 1191.5l6 6m-6 0l6-6M1401.5 1189.5l6 6m-6 0l6-6M1401.5 1176.5l6 6m-6 0l6-6M1401.5 1183.5l6 6m-6 0l6-6M1401.5 1183.5l6 6m-6 0l6-6M1401.5 1198.5l6 6m-6 0l6-6M1402.5 1168.5l6 6m-6 0l6-6M1402.5 1181.5l6 6m-6 0l6-6M1402.5 1171.5l6 6m-6 0l6-6M1402.5 1173.5l6 6m-6 0l6-6M1402.5 1184.5l6 6m-6 0l6-6M1402.5 1198.5l6 6m-6 0l6-6M1403.5 1165.5l6 6m-6 0l6-6M1403.5 1183.5l6 6m-6 0l6-6M1403.5 1171.5l6 6m-6 0l6-6M1403.5 1171.5l6 6m-6 0l6-6M1403.5 1179.5l6 6m-6 0l6-6M1403.5 1200.5l6 6m-6 0l6-6M1404.5 1188.5l6 6m-6 0l6-6M1404.5 1201.5l6 6m-6 0l6-6M1404.5 1162.5l6 6m-6 0l6-6M1404.5 1182.5l6 6m-6 0l6-6M1404.5 1166.5l6 6m-6 0l6-6M1404.5 1180.5l6 6m-6 0l6-6M1404.5 1191.5l6 6m-6 0l6-6M1405.5 1170.5l6 6m-6 0l6-6M1405.5 1173.5l6 6m-6 0l6-6M1405.5 1188.5l6 6m-6 0l6-6M1405.5 1191.5l6 6m-6 0l6-6M1405.5 1169.5l6 6m-6 0l6-6M1405.5 1173.5l6 6m-6 0l6-6M1406.5 1200.5l6 6m-6 0l6-6M1406.5 1183.5l6 6m-6 0l6-6M1406.5 1204.5l6 6m-6 0l6-6M1406.5 1192.5l6 6m-6 0l6-6M1406.5 1194.5l6 6m-6 0l6-6M1406.5 1179.5l6 6m-6 0l6-6M1407.5 1182.5l6 6m-6 0l6-6M1407.5 1207.5l6 6m-6 0l6-6M1407.5 1199.5l6 6m-6 0l6-6M1407.5 1199.5l6 6m-6 0l6-6M1407.5 1194.5l6 6m-6 0l6-6M1407.5 1170.5l6 6m-6 0l6-6M1408.5 1188.5l6 6m-6 0l6-6M1408.5 1178.5l6 6m-6 0l6-6M1408.5 1189.5l6 6m-6 0l6-6M1408.5 1182.5l6 6m-6 0l6-6M1408.5 1163.5l6 6m-6 0l6-6M1408.5 1203.5l6 6m-6 0l6-6M1409.5 1191.5l6 6m-6 0l6-6M1409.5 1196.5l6 6m-6 0l6-6M1409.5 1196.5l6 6m-6 0l6-6M1409.5 1178.5l6 6m-6 0l6-6M1409.5 1190.5l6 6m-6 0l6-6M1409.5 1212.5l6 6m-6 0l6-6M1409.5 1196.5l6 6m-6 0l6-6M1410.5 1177.5l6 6m-6 0l6-6M1410.5 1186.5l6 6m-6 0l6-6M1410.5 1197.5l6 6m-6 0l6-6M1410.5 1186.5l6 6m-6 0l6-6M1410.5 1187.5l6 6m-6 0l6-6M1410.5 1191.5l6 6m-6 0l6-6M1411.5 1206.5l6 6m-6 0l6-6M1411.5 1194.5l6 6m-6 0l6-6M1411.5 1189.5l6 6m-6 0l6-6M1411.5 1194.5l6 6m-6 0l6-6M1411.5 1179.5l6 6m-6 0l6-6M1411.5 1176.5l6 6m-6 0l6-6M1412.5 1174.5l6 6m-6 0l6-6M1412.5 1186.5l6 6m-6 0l6-6M1412.5 1194.5l6 6m-6 0l6-6M1412.5 1176.5l6 6m-6 0l6-6M1412.5 1194.5l6 6m-6 0l6-6M1412.5 1177.5l6 6m-6 0l6-6M1413.5 1197.5l6 6m-6 0l6-6M1413.5 1181.5l6 6m-6 0l6-6M1413.5 1181.5l6 6m-6 0l6-6M1413.5 1179.5l6 6m-6 0l6-6M1413.5 1161.5l6 6m-6 0l6-6M1413.5 1178.5l6 6m-6 0l6-6M1413.5 1179.5l6 6m-6 0l6-6M1414.5 1181.5l6 6m-6 0l6-6M1414.5 1192.5l6 6m-6 0l6-6M1414.5 1180.5l6 6m-6 0l6-6M1414.5 1198.5l6 6m-6 0l6-6M1414.5 1182.5l6 6m-6 0l6-6M1414.5 1208.5l6 6m-6 0l6-6M1415.5 1179.5l6 6m-6 0l6-6M1415.5 1170.5l6 6m-6 0l6-6M1415.5 1174.5l6 6m-6 0l6-6M1415.5 1186.5l6 6m-6 0l6-6M1415.5 1186.5l6 6m-6 0l6-6M1415.5 1182.5l6 6m-6 0l6-6M1416.5 1201.5l6 6m-6 0l6-6M1416.5 1198.5l6 6m-6 0l6-6M1416.5 1187.5l6 6m-6 0l6-6M1416.5 1205.5l6 6m-6 0l6-6M1416.5 1166.5l6 6m-6 0l6-6M1416.5 1177.5l6 6m-6 0l6-6M1417.5 1204.5l6 6m-6 0l6-6M1417.5 1170.5l6 6m-6 0l6-6M1417.5 1169.5l6 6m-6 0l6-6M1417.5 1189.5l6 6m-6 0l6-6M1417.5 1161.5l6 6m-6 0l6-6M1417.5 1173.5l6 6m-6 0l6-6M1418.5 1176.5l6 6m-6 0l6-6M1418.5 1209.5l6 6m-6 0l6-6M1418.5 1182.5l6 6m-6 0l6-6M1238.5 1182.5l6 6m-6 0l6-6M1239.5 1168.5l6 6m-6 0l6-6M1236.5 1181.5l6 6m-6 0l6-6M1236.5 1188.5l6 6m-6 0l6-6M1237.5 1208.5l6 6m-6 0l6-6M1236.5 1186.5l6 6m-6 0l6-6M1237.5 1159.5l6 6m-6 0l6-6M1236.5 1188.5l6 6m-6 0l6-6M1238.5 1192.5l6 6m-6 0l6-6M1240.5 1154.5l6 6m-6 0l6-6M1242.5 1214.5l6 6m-6 0l6-6M1236.5 1161.5l6 6m-6 0l6-6M1240.5 1155.5l6 6m-6 0l6-6M1239.5 1170.5l6 6m-6 0l6-6M1242.5 1158.5l6 6m-6 0l6-6M1238.5 1158.5l6 6m-6 0l6-6M1235.5 1198.5l6 6m-6 0l6-6M1240.5 1160.5l6 6m-6 0l6-6M1242.5 1159.5l6 6m-6 0l6-6M1237.5 1166.5l6 6m-6 0l6-6M1236.5 1190.5l6 6m-6 0l6-6M1235.5 1205.5l6 6m-6 0l6-6M1241.5 1215.5l6 6m-6 0l6-6M1239.5 1158.5l6 6m-6 0l6-6M1237.5 1158.5l6 6m-6 0l6-6M1241.5 1191.5l6 6m-6 0l6-6M1240.5 1202.5l6 6m-6 0l6-6M1240.5 1216.5l6 6m-6 0l6-6M1236.5 1174.5l6 6m-6 0l6-6M1238.5 1191.5l6 6m-6 0l6-6M1238.5 1166.5l6 6m-6 0l6-6M1237.5 1195.5l6 6m-6 0l6-6M1280.5 1158.5l6 6m-6 0l6-6M1280.5 1149.5l6 6m-6 0l6-6M1286.5 1143.5l6 6m-6 0l6-6M1283.5 1144.5l6 6m-6 0l6-6M1280.5 1153.5l6 6m-6 0l6-6M1286.5 1148.5l6 6m-6 0l6-6M1286.5 1146.5l6 6m-6 0l6-6M1284.5 1159.5l6 6m-6 0l6-6M1280.5 1156.5l6 6m-6 0l6-6M1281.5 1148.5l6 6m-6 0l6-6M1280.5 1160.5l6 6m-6 0l6-6M1281.5 1148.5l6 6m-6 0l6-6M1286.5 1148.5l6 6m-6 0l6-6M1284.5 1153.5l6 6m-6 0l6-6M1285.5 1149.5l6 6m-6 0l6-6M1286.5 1144.5l6 6m-6 0l6-6M1287.5 1139.5l6 6m-6 0l6-6M1286.5 1151.5l6 6m-6 0l6-6M1288.5 1209.5l6 6m-6 0l6-6M1281.5 1218.5l6 6m-6 0l6-6M1284.5 1211.5l6 6m-6 0l6-6M1288.5 1215.5l6 6m-6 0l6-6M1282.5 1215.5l6 6m-6 0l6-6M1285.5 1208.5l6 6m-6 0l6-6M1285.5 1215.5l6 6m-6 0l6-6M1282.5 1220.5l6 6m-6 0l6-6M1283.5 1215.5l6 6m-6 0l6-6M1283.5 1213.5l6 6m-6 0l6-6M1289.5 1212.5l6 6m-6 0l6-6M1284.5 1211.5l6 6m-6 0l6-6M1284.5 1211.5l6 6m-6 0l6-6M1289.5 1220.5l6 6m-6 0l6-6M166.5 1141.5l6 6m-6 0l6-6M171.5 1140.5l6 6m-6 0l6-6M172.5 1136.5l6 6m-6 0l6-6M171.5 1141.5l6 6m-6 0l6-6M170.5 1138.5l6 6m-6 0l6-6M170.5 1143.5l6 6m-6 0l6-6M168.5 1151.5l6 6m-6 0l6-6M171.5 1151.5l6 6m-6 0l6-6M187.5 1164.5l6 6m-6 0l6-6M170.5 1145.5l6 6m-6 0l6-6M168.5 1146.5l6 6m-6 0l6-6M189.5 1164.5l6 6m-6 0l6-6M182.5 1157.5l6 6m-6 0l6-6M169.5 1147.5l6 6m-6 0l6-6M174.5 1149.5l6 6m-6 0l6-6M179.5 1156.5l6 6m-6 0l6-6M168.5 1151.5l6 6m-6 0l6-6M185.5 1159.5l6 6m-6 0l6-6M165.5 1217.5l6 6m-6 0l6-6M164.5 1211.5l6 6m-6 0l6-6M168.5 1206.5l6 6m-6 0l6-6M164.5 1208.5l6 6m-6 0l6-6M171.5 1212.5l6 6m-6 0l6-6M174.5 1215.5l6 6m-6 0l6-6M176.5 1207.5l6 6m-6 0l6-6M167.5 1209.5l6 6m-6 0l6-6M165.5 1208.5l6 6m-6 0l6-6M170.5 1210.5l6 6m-6 0l6-6M167.5 1152.5l6 6m-6 0l6-6M169.5 1159.5l6 6m-6 0l6-6M171.5 1225.5l6 6m-6 0l6-6M173.5 1232.5l6 6m-6 0l6-6M174.5 1257.5l6 6m-6 0l6-6M176.5 1252.5l6 6m-6 0l6-6M165.5 1247.5l6 6m-6 0l6-6M347.5 1139.5l6 6m-6 0l6-6M347.5 1144.5l6 6m-6 0l6-6M346.5 1229.5l6 6m-6 0l6-6M347.5 1250.5l6 6m-6 0l6-6M348.5 1259.5l6 6m-6 0l6-6M339.5 1217.5l6 6m-6 0l6-6M492.5 1140.5l6 6m-6 0l6-6M492.5 1147.5l6 6m-6 0l6-6M492.5 1154.5l6 6m-6 0l6-6M1122.5 1144.5l6 6m-6 0l6-6M1122.5 1152.5l6 6m-6 0l6-6M1123.5 1212.5l6 6m-6 0l6-6M1123.5 1219.5l6 6m-6 0l6-6M1123.5 1227.5l6 6m-6 0l6-6M1123.5 1235.5l6 6m-6 0l6-6M1151.5 1143.5l6 6m-6 0l6-6M1151.5 1225.5l6 6m-6 0l6-6M1236.5 1079.5l6 6m-6 0l6-6M1237.5 1086.5l6 6m-6 0l6-6M1237.5 1104.5l6 6m-6 0l6-6M1237.5 1123.5l6 6m-6 0l6-6M1237.5 1139.5l6 6m-6 0l6-6M1236.5 1237.5l6 6m-6 0l6-6M1236.5 1304.5l6 6m-6 0l6-6M1236.5 1345.5l6 6m-6 0l6-6M1279.5 1005.5l6 6m-6 0l6-6M1279.5 1087.5l6 6m-6 0l6-6M1279.5 1224.5l6 6m-6 0l6-6M1280.5 1258.5l6 6m-6 0l6-6M1280.5 1272.5l6 6m-6 0l6-6M1280.5 1286.5l6 6m-6 0l6-6M1280.5 1293.5l6 6m-6 0l6-6M1306.5 1235.5l6 6m-6 0l6-6" fill="none" stroke="#000" stroke-width="1"/>
<text x="219.2" y="1578.2" font-size="19.6" font-weight="bold" fill="#ff0000">62.3</text>
<text x="259.8" y="1608.3" font-size="19.6" font-weight="bold" fill="#ff0000">33.7</text>
<text x="300.8" y="1631.1" font-size="19.6" font-weight="bold" fill="#ff0000">21.0</text>
<text x="341.1" y="1653.7" font-size="19.6" font-weight="bold" fill="#ff0000">13.2</text>
<text x="387.5" y="1682.1" font-size="19.6" font-weight="bold" fill="#ff0000">7.4</text>
<text x="428.1" y="1698.2" font-size="19.6" font-weight="bold" fill="#ff0000">5.3</text>
<text x="468.8" y="1723.9" font-size="19.6" font-weight="bold" fill="#ff0000">3.1</text>
<text x="509.3" y="1747.5" font-size="19.6" font-weight="bold" fill="#ff0000">1.9</text>
<text x="550.2" y="1774.7" font-size="19.6" font-weight="bold" fill="#ff0000">1.1</text>
<text x="590.7" y="1816.5" font-size="19.6" font-weight="bold" fill="#ff0000">0.5</text>
<text x="631.3" y="1857.5" font-size="19.6" font-weight="bold" fill="#ff0000">0.2</text>
<text x="671.8" y="1869.1" font-size="19.6" font-weight="bold" fill="#ff0000">0.2</text>
<text x="938.4" y="1908.5" font-size="17.2" font-weight="bold" fill="#ff0000">0.1</text>
<text x="976.6" y="1898.5" font-size="17.2" font-weight="bold" fill="#ff0000">0.1</text>
<text x="1014.8" y="1869.8" font-size="17.2" font-weight="bold" fill="#ff0000">0.2</text>
<text x="1052.8" y="1840.2" font-size="17.2" font-weight="bold" fill="#ff0000">0.2</text>
<text x="1091.3" y="1825.2" font-size="17.2" font-weight="bold" fill="#ff0000">0.2</text>
<text x="1129.5" y="1777.5" font-size="17.2" font-weight="bold" fill="#ff0000">0.3</text>
<text x="1167.5" y="1756.2" font-size="17.2" font-weight="bold" fill="#ff0000">0.4</text>
<text x="1205.8" y="1728.4" font-size="17.2" font-weight="bold" fill="#ff0000">0.5</text>
<text x="1244.0" y="1711.4" font-size="17.2" font-weight="bold" fill="#ff0000">0.5</text>
<text x="1282.5" y="1731.5" font-size="17.2" font-weight="bold" fill="#ff0000">0.5</text>
<text x="1320.8" y="1750.9" font-size="17.2" font-weight="bold" fill="#ff0000">0.4</text>
<text x="1358.8" y="1691.4" font-size="17.2" font-weight="bold" fill="#ff0000">0.6</text>
<path d="M232.00 1590.50a6.3 6.3 0 1 0 12.6 0a6.3 6.3 0 1 0 -12.6 0zM272.60 1620.60a6.3 6.3 0 1 0 12.6 0a6.3 6.3 0 1 0 -12.6 0zM313.50 1643.40a6.3 6.3 0 1 0 12.6 0a6.3 6.3 0 1 0 -12.6 0zM353.90 1666.00a6.3 6.3 0 1 0 12.6 0a6.3 6.3 0 1 0 -12.6 0zM394.80 1694.40a6.3 6.3 0 1 0 12.6 0a6.3 6.3 0 1 0 -12.6 0zM435.40 1710.50a6.3 6.3 0 1 0 12.6 0a6.3 6.3 0 1 0 -12.6 0zM476.10 1736.20a6.3 6.3 0 1 0 12.6 0a6.3 6.3 0 1 0 -12.6 0zM516.60 1759.80a6.3 6.3 0 1 0 12.6 0a6.3 6.3 0 1 0 -12.6 0zM557.50 1787.00a6.3 6.3 0 1 0 12.6 0a6.3 6.3 0 1 0 -12.6 0zM598.00 1828.80a6.3 6.3 0 1 0 12.6 0a6.3 6.3 0 1 0 -12.6 0zM638.60 1869.80a6.3 6.3 0 1 0 12.6 0a6.3 6.3 0 1 0 -12.6 0zM679.10 1881.40a6.3 6.3 0 1 0 12.6 0a6.3 6.3 0 1 0 -12.6 0zM944.10 1939.00a6.3 6.3 0 1 0 12.6 0a6.3 6.3 0 1 0 -12.6 0zM982.30 1929.00a6.3 6.3 0 1 0 12.6 0a6.3 6.3 0 1 0 -12.6 0zM1020.50 1900.30a6.3 6.3 0 1 0 12.6 0a6.3 6.3 0 1 0 -12.6 0zM1058.40 1870.70a6.3 6.3 0 1 0 12.6 0a6.3 6.3 0 1 0 -12.6 0zM1097.00 1855.70a6.3 6.3 0 1 0 12.6 0a6.3 6.3 0 1 0 -12.6 0zM1135.20 1808.00a6.3 6.3 0 1 0 12.6 0a6.3 6.3 0 1 0 -12.6 0zM1173.20 1786.70a6.3 6.3 0 1 0 12.6 0a6.3 6.3 0 1 0 -12.6 0zM1211.50 1758.90a6.3 6.3 0 1 0 12.6 0a6.3 6.3 0 1 0 -12.6 0zM1249.70 1741.90a6.3 6.3 0 1 0 12.6 0a6.3 6.3 0 1 0 -12.6 0zM1288.20 1762.00a6.3 6.3 0 1 0 12.6 0a6.3 6.3 0 1 0 -12.6 0zM1326.40 1781.40a6.3 6.3 0 1 0 12.6 0a6.3 6.3 0 1 0 -12.6 0zM1364.40 1721.90a6.3 6.3 0 1 0 12.6 0a6.3 6.3 0 1 0 -12.6 0z" fill="#000"/>
<text x="324.5" y="1949.5" font-size="19.3" font-weight="bold" fill="#ff0000">h/2</text>
<text x="1030.8" y="1930.5" font-size="18.8" font-weight="bold" fill="#ff0000">h/2</text>
<text x="373.2" y="1949.5" font-size="19.3" font-weight="bold" fill="#ff0000">h</text>
<text x="1076.9" y="1930.5" font-size="18.8" font-weight="bold" fill="#ff0000">h</text>
<text x="429.6" y="1949.5" font-size="19.3" font-weight="bold" fill="#ff0000">d/8</text>
<text x="1129.6" y="1930.5" font-size="18.8" font-weight="bold" fill="#ff0000">d/8</text>
<text x="470.2" y="1949.5" font-size="19.3" font-weight="bold" fill="#ff0000">d/4</text>
<text x="1167.9" y="1930.5" font-size="18.8" font-weight="bold" fill="#ff0000">d/4</text>
<text x="510.8" y="1949.5" font-size="19.3" font-weight="bold" fill="#ff0000">d/2</text>
<text x="1206.1" y="1930.5" font-size="18.8" font-weight="bold" fill="#ff0000">d/2</text>
<text x="548.8" y="1949.5" font-size="19.3" font-weight="bold" fill="#ff0000">day</text>
<text x="1241.7" y="1930.5" font-size="18.8" font-weight="bold" fill="#ff0000">day</text>
<text x="612.1" y="1949.5" font-size="19.3" font-weight="bold" fill="#ff0000">ddd</text>
<text x="1301.3" y="1930.5" font-size="18.8" font-weight="bold" fill="#ff0000">ddd</text>
<text x="666.7" y="1949.5" font-size="19.3" font-weight="bold" fill="#ff0000">wk</text>
<text x="1352.8" y="1930.5" font-size="18.8" font-weight="bold" fill="#ff0000">wk</text>
<clipPath id="c3"><rect x="169" y="1500" width="541" height="461.5"/></clipPath>
<clipPath id="c4"><rect x="853" y="1500" width="541" height="461.5"/></clipPath>
<path d="M332.17 1963.50a6.3 6.3 0 1 0 12.6 0a6.3 6.3 0 1 0 -12.6 0zM372.80 1963.50a6.3 6.3 0 1 0 12.6 0a6.3 6.3 0 1 0 -12.6 0zM437.21 1963.50a6.3 6.3 0 1 0 12.6 0a6.3 6.3 0 1 0 -12.6 0zM477.86 1963.50a6.3 6.3 0 1 0 12.6 0a6.3 6.3 0 1 0 -12.6 0zM518.49 1963.50a6.3 6.3 0 1 0 12.6 0a6.3 6.3 0 1 0 -12.6 0zM559.13 1963.50a6.3 6.3 0 1 0 12.6 0a6.3 6.3 0 1 0 -12.6 0zM623.54 1963.50a6.3 6.3 0 1 0 12.6 0a6.3 6.3 0 1 0 -12.6 0zM673.22 1963.50a6.3 6.3 0 1 0 12.6 0a6.3 6.3 0 1 0 -12.6 0z" fill="#000" clip-path="url(#c3)"/>
<path d="M1038.22 1958.00a6.2 6.2 0 1 0 12.4 0a6.2 6.2 0 1 0 -12.4 0zM1076.45 1958.00a6.2 6.2 0 1 0 12.4 0a6.2 6.2 0 1 0 -12.4 0zM1137.04 1958.00a6.2 6.2 0 1 0 12.4 0a6.2 6.2 0 1 0 -12.4 0zM1175.28 1958.00a6.2 6.2 0 1 0 12.4 0a6.2 6.2 0 1 0 -12.4 0zM1213.51 1958.00a6.2 6.2 0 1 0 12.4 0a6.2 6.2 0 1 0 -12.4 0zM1251.74 1958.00a6.2 6.2 0 1 0 12.4 0a6.2 6.2 0 1 0 -12.4 0zM1312.33 1958.00a6.2 6.2 0 1 0 12.4 0a6.2 6.2 0 1 0 -12.4 0zM1359.06 1958.00a6.2 6.2 0 1 0 12.4 0a6.2 6.2 0 1 0 -12.4 0z" fill="#000" clip-path="url(#c4)"/>
<text x="203.0" y="1546.0" font-size="18.3">τ = 328s</text>
<text x="199.8" y="809.0" font-size="30.1" font-weight="bold">GPS.GPI/Tai2602__LI2P-PT13/052-005#_  8955/1_AV/L2U__CLB__________</text>
<text x="200.7" y="1381.0" font-size="25" font-weight="bold">Max Smoothing Residual: -0.327_Vdk1.D9  Sigma= 0.022ns15/37_03/05/26Mn______3.287</text>
<text transform="translate(94,573.5) rotate(-90)" font-weight="bold"><tspan font-size="30.2">nanosecond</tspan></text>
<text transform="translate(68,1275) rotate(-90)" font-weight="bold"><tspan font-size="30.1">residuals (ns)</tspan></text>
<text transform="translate(83,1955) rotate(-90)" font-weight="bold"><tspan font-size="29.9">Modified Allan Deviation (10</tspan><tspan font-size="21.5" dy="-10">-15</tspan><tspan font-size="29.9" dy="10">)</tspan></text>
<text transform="translate(767,1900) rotate(-90)" font-weight="bold"><tspan font-size="29.9">Time deviation (10</tspan><tspan font-size="21.5" dy="-10">-10</tspan><tspan font-size="29.9" dy="10"> s)</tspan></text>
<text x="262.6" y="2037.7" font-size="29.9" font-weight="bold">Averaging time, log(<tspan font-family="Liberation Serif" font-weight="normal">τ</tspan>) (s)</text>
<text x="947.2" y="2038" font-size="29.9" font-weight="bold">Averaging time, log(<tspan font-family="Liberation Serif" font-weight="normal">τ</tspan>) (s)</text>
</svg></body></html>
